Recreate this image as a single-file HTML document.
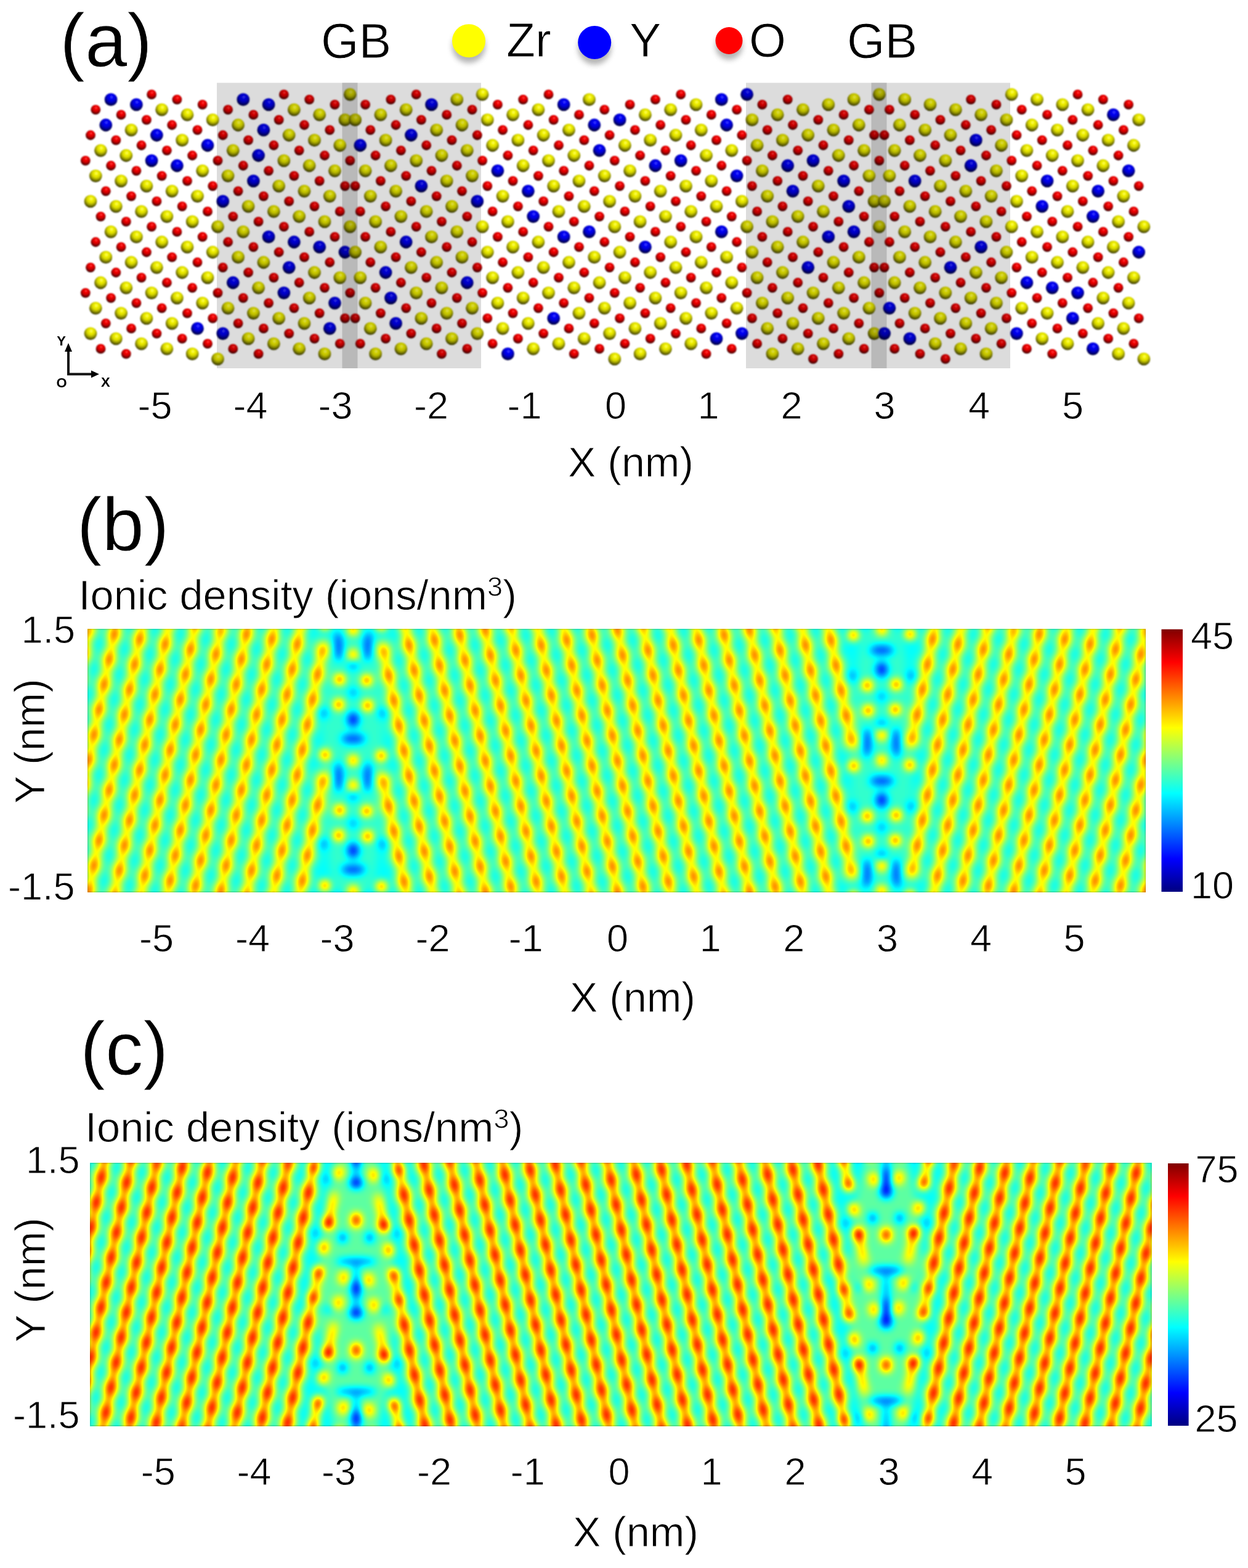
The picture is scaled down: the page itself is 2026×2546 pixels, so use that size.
<!DOCTYPE html><html><head><meta charset="utf-8"><title>Ionic density figure</title><style>html,body{margin:0;padding:0;background:#fff;width:2026px;height:2546px}svg{display:block}text{font-family:"Liberation Sans",Arial,Helvetica,sans-serif;fill:#000;stroke:#fff;stroke-width:0.9px}</style></head><body>
<svg width="2026" height="2546" viewBox="0 0 2026 2546">
<defs>
<radialGradient id="gz" cx="0.52" cy="0.37" r="0.74" fx="0.55" fy="0.3"><stop offset="0" stop-color="#ffff70"/><stop offset="0.18" stop-color="#f4f400"/><stop offset="0.42" stop-color="#d6d600"/><stop offset="0.62" stop-color="#909000"/><stop offset="0.82" stop-color="#3e3e00"/><stop offset="1" stop-color="#222200"/></radialGradient>
<radialGradient id="gzd" cx="0.52" cy="0.37" r="0.74" fx="0.55" fy="0.3"><stop offset="0" stop-color="#dcdc61"/><stop offset="0.18" stop-color="#d3d300"/><stop offset="0.42" stop-color="#b9b900"/><stop offset="0.62" stop-color="#7c7c00"/><stop offset="0.82" stop-color="#363600"/><stop offset="1" stop-color="#1d1d00"/></radialGradient>
<radialGradient id="gzs" cx="0.52" cy="0.37" r="0.74" fx="0.55" fy="0.3"><stop offset="0" stop-color="#b9b951"/><stop offset="0.18" stop-color="#b1b100"/><stop offset="0.42" stop-color="#9b9b00"/><stop offset="0.62" stop-color="#686800"/><stop offset="0.82" stop-color="#2d2d00"/><stop offset="1" stop-color="#191900"/></radialGradient>
<radialGradient id="gy" cx="0.52" cy="0.37" r="0.74" fx="0.55" fy="0.3"><stop offset="0" stop-color="#5050ff"/><stop offset="0.18" stop-color="#0000f8"/><stop offset="0.42" stop-color="#0000d8"/><stop offset="0.62" stop-color="#000090"/><stop offset="0.82" stop-color="#00003e"/><stop offset="1" stop-color="#000022"/></radialGradient>
<radialGradient id="gyd" cx="0.52" cy="0.37" r="0.74" fx="0.55" fy="0.3"><stop offset="0" stop-color="#4545dc"/><stop offset="0.18" stop-color="#0000d6"/><stop offset="0.42" stop-color="#0000ba"/><stop offset="0.62" stop-color="#00007c"/><stop offset="0.82" stop-color="#000036"/><stop offset="1" stop-color="#00001d"/></radialGradient>
<radialGradient id="gys" cx="0.52" cy="0.37" r="0.74" fx="0.55" fy="0.3"><stop offset="0" stop-color="#3a3ab9"/><stop offset="0.18" stop-color="#0000b4"/><stop offset="0.42" stop-color="#00009d"/><stop offset="0.62" stop-color="#000068"/><stop offset="0.82" stop-color="#00002d"/><stop offset="1" stop-color="#000019"/></radialGradient>
<radialGradient id="go" cx="0.52" cy="0.37" r="0.74" fx="0.55" fy="0.3"><stop offset="0" stop-color="#ff5050"/><stop offset="0.18" stop-color="#f80000"/><stop offset="0.42" stop-color="#d80000"/><stop offset="0.62" stop-color="#900000"/><stop offset="0.82" stop-color="#3e0000"/><stop offset="1" stop-color="#220000"/></radialGradient>
<radialGradient id="god" cx="0.52" cy="0.37" r="0.74" fx="0.55" fy="0.3"><stop offset="0" stop-color="#dc4545"/><stop offset="0.18" stop-color="#d60000"/><stop offset="0.42" stop-color="#ba0000"/><stop offset="0.62" stop-color="#7c0000"/><stop offset="0.82" stop-color="#360000"/><stop offset="1" stop-color="#1d0000"/></radialGradient>
<radialGradient id="gos" cx="0.52" cy="0.37" r="0.74" fx="0.55" fy="0.3"><stop offset="0" stop-color="#b93a3a"/><stop offset="0.18" stop-color="#b40000"/><stop offset="0.42" stop-color="#9d0000"/><stop offset="0.62" stop-color="#680000"/><stop offset="0.82" stop-color="#2d0000"/><stop offset="1" stop-color="#190000"/></radialGradient>
<filter id="sh" x="-50%" y="-50%" width="200%" height="200%"><feGaussianBlur stdDeviation="4"/></filter>
<filter id="soft" x="-2%" y="-5%" width="104%" height="110%"><feGaussianBlur stdDeviation="1.1"/></filter>
<linearGradient id="cbar" x1="0" y1="1" x2="0" y2="0"><stop offset="0" stop-color="#000080"/><stop offset="0.125" stop-color="#0000ff"/><stop offset="0.375" stop-color="#00ffff"/><stop offset="0.625" stop-color="#ffff00"/><stop offset="0.875" stop-color="#ff0000"/><stop offset="1" stop-color="#800000"/></linearGradient>
</defs>
<rect width="100%" height="100%" fill="#fff"/>
<rect x="352" y="134.5" width="429" height="463.5" fill="#dcdcdc"/>
<rect x="1211" y="134.5" width="429" height="463.5" fill="#dcdcdc"/>
<rect x="555.5" y="134.5" width="25" height="463.5" fill="#b9b9b9"/>
<rect x="1414.5" y="134.5" width="25" height="463.5" fill="#b9b9b9"/>
<g filter="url(#soft)">
<circle cx="1105.2" cy="153.4" r="7.9" fill="url(#go)"/>
<circle cx="1749.5" cy="153.4" r="7.9" fill="url(#go)"/>
<circle cx="246.1" cy="153.4" r="7.9" fill="url(#go)"/>
<circle cx="890.5" cy="153.4" r="7.9" fill="url(#go)"/>
<circle cx="460.9" cy="153.4" r="7.9" fill="url(#god)"/>
<circle cx="675.7" cy="153.4" r="7.9" fill="url(#god)"/>
<circle cx="1278.7" cy="161.7" r="7.9" fill="url(#god)"/>
<circle cx="1576.1" cy="161.7" r="7.9" fill="url(#god)"/>
<circle cx="1063.9" cy="161.7" r="7.9" fill="url(#go)"/>
<circle cx="1790.8" cy="161.7" r="7.9" fill="url(#go)"/>
<circle cx="287.4" cy="161.7" r="7.9" fill="url(#go)"/>
<circle cx="849.2" cy="161.7" r="7.9" fill="url(#go)"/>
<circle cx="502.2" cy="161.7" r="7.9" fill="url(#god)"/>
<circle cx="634.4" cy="161.7" r="7.9" fill="url(#god)"/>
<circle cx="543.5" cy="169.9" r="7.9" fill="url(#god)"/>
<circle cx="593.1" cy="169.9" r="7.9" fill="url(#god)"/>
<circle cx="1237.4" cy="169.9" r="7.9" fill="url(#god)"/>
<circle cx="1617.4" cy="169.9" r="7.9" fill="url(#god)"/>
<circle cx="1022.6" cy="169.9" r="7.9" fill="url(#go)"/>
<circle cx="1832.1" cy="169.9" r="7.9" fill="url(#go)"/>
<circle cx="328.7" cy="169.9" r="7.9" fill="url(#go)"/>
<circle cx="807.9" cy="169.9" r="7.9" fill="url(#go)"/>
<circle cx="155.3" cy="178.2" r="7.9" fill="url(#go)"/>
<circle cx="981.3" cy="178.2" r="7.9" fill="url(#go)"/>
<circle cx="1410.9" cy="178.2" r="7.9" fill="url(#god)"/>
<circle cx="1443.9" cy="178.2" r="7.9" fill="url(#god)"/>
<circle cx="1196.1" cy="178.2" r="7.9" fill="url(#go)"/>
<circle cx="1658.7" cy="178.2" r="7.9" fill="url(#go)"/>
<circle cx="370.1" cy="178.2" r="7.9" fill="url(#god)"/>
<circle cx="766.5" cy="178.2" r="7.9" fill="url(#god)"/>
<circle cx="1369.6" cy="186.4" r="7.9" fill="url(#god)"/>
<circle cx="1485.2" cy="186.4" r="7.9" fill="url(#god)"/>
<circle cx="1154.8" cy="186.4" r="7.9" fill="url(#go)"/>
<circle cx="1700.0" cy="186.4" r="7.9" fill="url(#go)"/>
<circle cx="196.6" cy="186.4" r="7.9" fill="url(#go)"/>
<circle cx="940.0" cy="186.4" r="7.9" fill="url(#go)"/>
<circle cx="411.4" cy="186.4" r="7.9" fill="url(#god)"/>
<circle cx="725.2" cy="186.4" r="7.9" fill="url(#god)"/>
<circle cx="1328.3" cy="194.7" r="7.9" fill="url(#god)"/>
<circle cx="1526.5" cy="194.7" r="7.9" fill="url(#god)"/>
<circle cx="1113.5" cy="194.7" r="7.9" fill="url(#go)"/>
<circle cx="1741.3" cy="194.7" r="7.9" fill="url(#go)"/>
<circle cx="237.9" cy="194.7" r="7.9" fill="url(#go)"/>
<circle cx="898.7" cy="194.7" r="7.9" fill="url(#go)"/>
<circle cx="452.7" cy="194.7" r="7.9" fill="url(#god)"/>
<circle cx="683.9" cy="194.7" r="7.9" fill="url(#god)"/>
<circle cx="1287.0" cy="203.0" r="7.9" fill="url(#god)"/>
<circle cx="1567.8" cy="203.0" r="7.9" fill="url(#god)"/>
<circle cx="1072.2" cy="203.0" r="7.9" fill="url(#go)"/>
<circle cx="1782.6" cy="203.0" r="7.9" fill="url(#go)"/>
<circle cx="279.2" cy="203.0" r="7.9" fill="url(#go)"/>
<circle cx="857.4" cy="203.0" r="7.9" fill="url(#go)"/>
<circle cx="494.0" cy="203.0" r="7.9" fill="url(#god)"/>
<circle cx="642.6" cy="203.0" r="7.9" fill="url(#god)"/>
<circle cx="535.3" cy="211.2" r="7.9" fill="url(#god)"/>
<circle cx="601.3" cy="211.2" r="7.9" fill="url(#god)"/>
<circle cx="1245.7" cy="211.2" r="7.9" fill="url(#god)"/>
<circle cx="1609.1" cy="211.2" r="7.9" fill="url(#god)"/>
<circle cx="1030.9" cy="211.2" r="7.9" fill="url(#go)"/>
<circle cx="1823.9" cy="211.2" r="7.9" fill="url(#go)"/>
<circle cx="320.5" cy="211.2" r="7.9" fill="url(#go)"/>
<circle cx="816.1" cy="211.2" r="7.9" fill="url(#go)"/>
<circle cx="147.0" cy="219.5" r="7.9" fill="url(#go)"/>
<circle cx="989.6" cy="219.5" r="7.9" fill="url(#go)"/>
<circle cx="1419.1" cy="219.5" r="7.9" fill="url(#gos)"/>
<circle cx="1435.6" cy="219.5" r="7.9" fill="url(#gos)"/>
<circle cx="1204.4" cy="219.5" r="7.9" fill="url(#go)"/>
<circle cx="1650.4" cy="219.5" r="7.9" fill="url(#go)"/>
<circle cx="361.8" cy="219.5" r="7.9" fill="url(#god)"/>
<circle cx="774.8" cy="219.5" r="7.9" fill="url(#god)"/>
<circle cx="1377.8" cy="227.7" r="7.9" fill="url(#god)"/>
<circle cx="1476.9" cy="227.7" r="7.9" fill="url(#god)"/>
<circle cx="1163.0" cy="227.7" r="7.9" fill="url(#go)"/>
<circle cx="1691.7" cy="227.7" r="7.9" fill="url(#go)"/>
<circle cx="188.3" cy="227.7" r="7.9" fill="url(#go)"/>
<circle cx="948.3" cy="227.7" r="7.9" fill="url(#go)"/>
<circle cx="403.1" cy="227.7" r="7.9" fill="url(#god)"/>
<circle cx="733.5" cy="227.7" r="7.9" fill="url(#god)"/>
<circle cx="1336.5" cy="236.0" r="7.9" fill="url(#god)"/>
<circle cx="1518.2" cy="236.0" r="7.9" fill="url(#god)"/>
<circle cx="1121.7" cy="236.0" r="7.9" fill="url(#go)"/>
<circle cx="1733.0" cy="236.0" r="7.9" fill="url(#go)"/>
<circle cx="229.6" cy="236.0" r="7.9" fill="url(#go)"/>
<circle cx="907.0" cy="236.0" r="7.9" fill="url(#go)"/>
<circle cx="444.4" cy="236.0" r="7.9" fill="url(#god)"/>
<circle cx="692.2" cy="236.0" r="7.9" fill="url(#god)"/>
<circle cx="1295.2" cy="244.3" r="7.9" fill="url(#god)"/>
<circle cx="1559.5" cy="244.3" r="7.9" fill="url(#god)"/>
<circle cx="1080.4" cy="244.3" r="7.9" fill="url(#go)"/>
<circle cx="1774.3" cy="244.3" r="7.9" fill="url(#go)"/>
<circle cx="270.9" cy="244.3" r="7.9" fill="url(#go)"/>
<circle cx="865.7" cy="244.3" r="7.9" fill="url(#go)"/>
<circle cx="485.7" cy="244.3" r="7.9" fill="url(#god)"/>
<circle cx="650.9" cy="244.3" r="7.9" fill="url(#god)"/>
<circle cx="527.0" cy="252.5" r="7.9" fill="url(#god)"/>
<circle cx="609.6" cy="252.5" r="7.9" fill="url(#god)"/>
<circle cx="1253.9" cy="252.5" r="7.9" fill="url(#god)"/>
<circle cx="1600.9" cy="252.5" r="7.9" fill="url(#god)"/>
<circle cx="1039.1" cy="252.5" r="7.9" fill="url(#go)"/>
<circle cx="1815.6" cy="252.5" r="7.9" fill="url(#go)"/>
<circle cx="312.2" cy="252.5" r="7.9" fill="url(#go)"/>
<circle cx="824.4" cy="252.5" r="7.9" fill="url(#go)"/>
<circle cx="138.8" cy="260.8" r="7.9" fill="url(#go)"/>
<circle cx="997.8" cy="260.8" r="7.9" fill="url(#go)"/>
<circle cx="1427.4" cy="260.8" r="7.9" fill="url(#gos)"/>
<circle cx="1212.6" cy="260.8" r="7.9" fill="url(#god)"/>
<circle cx="1642.2" cy="260.8" r="7.9" fill="url(#go)"/>
<circle cx="353.5" cy="260.8" r="7.9" fill="url(#god)"/>
<circle cx="783.1" cy="260.8" r="7.9" fill="url(#go)"/>
<circle cx="568.3" cy="260.8" r="7.9" fill="url(#gos)"/>
<circle cx="1386.1" cy="269.0" r="7.9" fill="url(#god)"/>
<circle cx="1468.7" cy="269.0" r="7.9" fill="url(#god)"/>
<circle cx="1171.3" cy="269.0" r="7.9" fill="url(#go)"/>
<circle cx="1683.5" cy="269.0" r="7.9" fill="url(#go)"/>
<circle cx="180.1" cy="269.0" r="7.9" fill="url(#go)"/>
<circle cx="956.5" cy="269.0" r="7.9" fill="url(#go)"/>
<circle cx="394.8" cy="269.0" r="7.9" fill="url(#god)"/>
<circle cx="741.8" cy="269.0" r="7.9" fill="url(#god)"/>
<circle cx="1344.8" cy="277.3" r="7.9" fill="url(#god)"/>
<circle cx="1510.0" cy="277.3" r="7.9" fill="url(#god)"/>
<circle cx="1130.0" cy="277.3" r="7.9" fill="url(#go)"/>
<circle cx="1724.8" cy="277.3" r="7.9" fill="url(#go)"/>
<circle cx="221.4" cy="277.3" r="7.9" fill="url(#go)"/>
<circle cx="915.2" cy="277.3" r="7.9" fill="url(#go)"/>
<circle cx="436.1" cy="277.3" r="7.9" fill="url(#god)"/>
<circle cx="700.5" cy="277.3" r="7.9" fill="url(#god)"/>
<circle cx="1303.5" cy="285.6" r="7.9" fill="url(#god)"/>
<circle cx="1551.3" cy="285.6" r="7.9" fill="url(#god)"/>
<circle cx="1088.7" cy="285.6" r="7.9" fill="url(#go)"/>
<circle cx="1766.1" cy="285.6" r="7.9" fill="url(#go)"/>
<circle cx="262.7" cy="285.6" r="7.9" fill="url(#go)"/>
<circle cx="873.9" cy="285.6" r="7.9" fill="url(#go)"/>
<circle cx="477.4" cy="285.6" r="7.9" fill="url(#god)"/>
<circle cx="659.2" cy="285.6" r="7.9" fill="url(#god)"/>
<circle cx="1262.2" cy="293.8" r="7.9" fill="url(#god)"/>
<circle cx="1592.6" cy="293.8" r="7.9" fill="url(#god)"/>
<circle cx="1047.4" cy="293.8" r="7.9" fill="url(#go)"/>
<circle cx="1807.4" cy="293.8" r="7.9" fill="url(#go)"/>
<circle cx="304.0" cy="293.8" r="7.9" fill="url(#go)"/>
<circle cx="832.6" cy="293.8" r="7.9" fill="url(#go)"/>
<circle cx="518.7" cy="293.8" r="7.9" fill="url(#god)"/>
<circle cx="617.9" cy="293.8" r="7.9" fill="url(#god)"/>
<circle cx="1006.1" cy="302.1" r="7.9" fill="url(#go)"/>
<circle cx="1848.7" cy="302.1" r="7.9" fill="url(#go)"/>
<circle cx="1220.9" cy="302.1" r="7.9" fill="url(#god)"/>
<circle cx="1633.9" cy="302.1" r="7.9" fill="url(#god)"/>
<circle cx="345.3" cy="302.1" r="7.9" fill="url(#go)"/>
<circle cx="791.3" cy="302.1" r="7.9" fill="url(#go)"/>
<circle cx="560.0" cy="302.1" r="7.9" fill="url(#gos)"/>
<circle cx="576.6" cy="302.1" r="7.9" fill="url(#gos)"/>
<circle cx="1394.3" cy="310.3" r="7.9" fill="url(#god)"/>
<circle cx="1460.4" cy="310.3" r="7.9" fill="url(#god)"/>
<circle cx="1179.6" cy="310.3" r="7.9" fill="url(#go)"/>
<circle cx="1675.2" cy="310.3" r="7.9" fill="url(#go)"/>
<circle cx="171.8" cy="310.3" r="7.9" fill="url(#go)"/>
<circle cx="964.8" cy="310.3" r="7.9" fill="url(#go)"/>
<circle cx="386.6" cy="310.3" r="7.9" fill="url(#god)"/>
<circle cx="750.0" cy="310.3" r="7.9" fill="url(#god)"/>
<circle cx="1353.0" cy="318.6" r="7.9" fill="url(#god)"/>
<circle cx="1501.7" cy="318.6" r="7.9" fill="url(#god)"/>
<circle cx="1138.3" cy="318.6" r="7.9" fill="url(#go)"/>
<circle cx="1716.5" cy="318.6" r="7.9" fill="url(#go)"/>
<circle cx="213.1" cy="318.6" r="7.9" fill="url(#go)"/>
<circle cx="923.5" cy="318.6" r="7.9" fill="url(#go)"/>
<circle cx="427.9" cy="318.6" r="7.9" fill="url(#god)"/>
<circle cx="708.7" cy="318.6" r="7.9" fill="url(#god)"/>
<circle cx="1311.7" cy="326.9" r="7.9" fill="url(#god)"/>
<circle cx="1543.0" cy="326.9" r="7.9" fill="url(#god)"/>
<circle cx="1097.0" cy="326.9" r="7.9" fill="url(#go)"/>
<circle cx="1757.8" cy="326.9" r="7.9" fill="url(#go)"/>
<circle cx="254.4" cy="326.9" r="7.9" fill="url(#go)"/>
<circle cx="882.2" cy="326.9" r="7.9" fill="url(#go)"/>
<circle cx="469.2" cy="326.9" r="7.9" fill="url(#god)"/>
<circle cx="667.4" cy="326.9" r="7.9" fill="url(#god)"/>
<circle cx="1270.4" cy="335.1" r="7.9" fill="url(#god)"/>
<circle cx="1584.3" cy="335.1" r="7.9" fill="url(#god)"/>
<circle cx="1055.7" cy="335.1" r="7.9" fill="url(#go)"/>
<circle cx="1799.1" cy="335.1" r="7.9" fill="url(#go)"/>
<circle cx="295.7" cy="335.1" r="7.9" fill="url(#go)"/>
<circle cx="840.9" cy="335.1" r="7.9" fill="url(#go)"/>
<circle cx="510.5" cy="335.1" r="7.9" fill="url(#god)"/>
<circle cx="626.1" cy="335.1" r="7.9" fill="url(#god)"/>
<circle cx="1014.4" cy="343.4" r="7.9" fill="url(#go)"/>
<circle cx="1840.4" cy="343.4" r="7.9" fill="url(#go)"/>
<circle cx="1229.1" cy="343.4" r="7.9" fill="url(#god)"/>
<circle cx="1625.6" cy="343.4" r="7.9" fill="url(#god)"/>
<circle cx="337.0" cy="343.4" r="7.9" fill="url(#go)"/>
<circle cx="799.6" cy="343.4" r="7.9" fill="url(#go)"/>
<circle cx="551.8" cy="343.4" r="7.9" fill="url(#god)"/>
<circle cx="584.8" cy="343.4" r="7.9" fill="url(#god)"/>
<circle cx="1402.6" cy="351.6" r="7.9" fill="url(#god)"/>
<circle cx="1452.2" cy="351.6" r="7.9" fill="url(#god)"/>
<circle cx="1187.8" cy="351.6" r="7.9" fill="url(#go)"/>
<circle cx="1666.9" cy="351.6" r="7.9" fill="url(#go)"/>
<circle cx="163.5" cy="351.6" r="7.9" fill="url(#go)"/>
<circle cx="973.1" cy="351.6" r="7.9" fill="url(#go)"/>
<circle cx="378.3" cy="351.6" r="7.9" fill="url(#god)"/>
<circle cx="758.3" cy="351.6" r="7.9" fill="url(#god)"/>
<circle cx="1361.3" cy="359.9" r="7.9" fill="url(#god)"/>
<circle cx="1493.5" cy="359.9" r="7.9" fill="url(#god)"/>
<circle cx="1146.5" cy="359.9" r="7.9" fill="url(#go)"/>
<circle cx="1708.2" cy="359.9" r="7.9" fill="url(#go)"/>
<circle cx="204.8" cy="359.9" r="7.9" fill="url(#go)"/>
<circle cx="931.8" cy="359.9" r="7.9" fill="url(#go)"/>
<circle cx="419.6" cy="359.9" r="7.9" fill="url(#god)"/>
<circle cx="717.0" cy="359.9" r="7.9" fill="url(#god)"/>
<circle cx="1320.0" cy="368.2" r="7.9" fill="url(#god)"/>
<circle cx="1534.8" cy="368.2" r="7.9" fill="url(#god)"/>
<circle cx="1105.2" cy="368.2" r="7.9" fill="url(#go)"/>
<circle cx="1749.5" cy="368.2" r="7.9" fill="url(#go)"/>
<circle cx="246.1" cy="368.2" r="7.9" fill="url(#go)"/>
<circle cx="890.5" cy="368.2" r="7.9" fill="url(#go)"/>
<circle cx="460.9" cy="368.2" r="7.9" fill="url(#god)"/>
<circle cx="675.7" cy="368.2" r="7.9" fill="url(#god)"/>
<circle cx="1278.7" cy="376.4" r="7.9" fill="url(#god)"/>
<circle cx="1576.1" cy="376.4" r="7.9" fill="url(#god)"/>
<circle cx="1063.9" cy="376.4" r="7.9" fill="url(#go)"/>
<circle cx="1790.8" cy="376.4" r="7.9" fill="url(#go)"/>
<circle cx="287.4" cy="376.4" r="7.9" fill="url(#go)"/>
<circle cx="849.2" cy="376.4" r="7.9" fill="url(#go)"/>
<circle cx="502.2" cy="376.4" r="7.9" fill="url(#god)"/>
<circle cx="634.4" cy="376.4" r="7.9" fill="url(#god)"/>
<circle cx="1022.6" cy="384.7" r="7.9" fill="url(#go)"/>
<circle cx="1832.1" cy="384.7" r="7.9" fill="url(#go)"/>
<circle cx="1237.4" cy="384.7" r="7.9" fill="url(#god)"/>
<circle cx="1617.4" cy="384.7" r="7.9" fill="url(#god)"/>
<circle cx="328.7" cy="384.7" r="7.9" fill="url(#go)"/>
<circle cx="807.9" cy="384.7" r="7.9" fill="url(#go)"/>
<circle cx="543.5" cy="384.7" r="7.9" fill="url(#god)"/>
<circle cx="593.1" cy="384.7" r="7.9" fill="url(#god)"/>
<circle cx="1410.9" cy="393.0" r="7.9" fill="url(#god)"/>
<circle cx="1443.9" cy="393.0" r="7.9" fill="url(#god)"/>
<circle cx="1196.1" cy="393.0" r="7.9" fill="url(#go)"/>
<circle cx="1658.7" cy="393.0" r="7.9" fill="url(#go)"/>
<circle cx="155.3" cy="393.0" r="7.9" fill="url(#go)"/>
<circle cx="981.3" cy="393.0" r="7.9" fill="url(#go)"/>
<circle cx="370.1" cy="393.0" r="7.9" fill="url(#god)"/>
<circle cx="766.5" cy="393.0" r="7.9" fill="url(#god)"/>
<circle cx="1369.6" cy="401.2" r="7.9" fill="url(#god)"/>
<circle cx="1485.2" cy="401.2" r="7.9" fill="url(#god)"/>
<circle cx="1154.8" cy="401.2" r="7.9" fill="url(#go)"/>
<circle cx="1700.0" cy="401.2" r="7.9" fill="url(#go)"/>
<circle cx="196.6" cy="401.2" r="7.9" fill="url(#go)"/>
<circle cx="940.0" cy="401.2" r="7.9" fill="url(#go)"/>
<circle cx="411.4" cy="401.2" r="7.9" fill="url(#god)"/>
<circle cx="725.2" cy="401.2" r="7.9" fill="url(#god)"/>
<circle cx="1328.3" cy="409.5" r="7.9" fill="url(#god)"/>
<circle cx="1526.5" cy="409.5" r="7.9" fill="url(#god)"/>
<circle cx="1113.5" cy="409.5" r="7.9" fill="url(#go)"/>
<circle cx="1741.3" cy="409.5" r="7.9" fill="url(#go)"/>
<circle cx="237.9" cy="409.5" r="7.9" fill="url(#go)"/>
<circle cx="898.7" cy="409.5" r="7.9" fill="url(#go)"/>
<circle cx="452.7" cy="409.5" r="7.9" fill="url(#god)"/>
<circle cx="683.9" cy="409.5" r="7.9" fill="url(#god)"/>
<circle cx="1287.0" cy="417.7" r="7.9" fill="url(#god)"/>
<circle cx="1567.8" cy="417.7" r="7.9" fill="url(#god)"/>
<circle cx="1072.2" cy="417.7" r="7.9" fill="url(#go)"/>
<circle cx="1782.6" cy="417.7" r="7.9" fill="url(#go)"/>
<circle cx="279.2" cy="417.7" r="7.9" fill="url(#go)"/>
<circle cx="857.4" cy="417.7" r="7.9" fill="url(#go)"/>
<circle cx="494.0" cy="417.7" r="7.9" fill="url(#god)"/>
<circle cx="642.6" cy="417.7" r="7.9" fill="url(#god)"/>
<circle cx="1030.9" cy="426.0" r="7.9" fill="url(#go)"/>
<circle cx="1823.9" cy="426.0" r="7.9" fill="url(#go)"/>
<circle cx="1245.7" cy="426.0" r="7.9" fill="url(#god)"/>
<circle cx="1609.1" cy="426.0" r="7.9" fill="url(#god)"/>
<circle cx="320.5" cy="426.0" r="7.9" fill="url(#go)"/>
<circle cx="816.1" cy="426.0" r="7.9" fill="url(#go)"/>
<circle cx="535.3" cy="426.0" r="7.9" fill="url(#god)"/>
<circle cx="601.3" cy="426.0" r="7.9" fill="url(#god)"/>
<circle cx="1419.1" cy="434.3" r="7.9" fill="url(#gos)"/>
<circle cx="1435.6" cy="434.3" r="7.9" fill="url(#gos)"/>
<circle cx="1204.4" cy="434.3" r="7.9" fill="url(#go)"/>
<circle cx="1650.4" cy="434.3" r="7.9" fill="url(#go)"/>
<circle cx="147.0" cy="434.3" r="7.9" fill="url(#go)"/>
<circle cx="989.6" cy="434.3" r="7.9" fill="url(#go)"/>
<circle cx="361.8" cy="434.3" r="7.9" fill="url(#god)"/>
<circle cx="774.8" cy="434.3" r="7.9" fill="url(#god)"/>
<circle cx="1377.8" cy="442.5" r="7.9" fill="url(#god)"/>
<circle cx="1476.9" cy="442.5" r="7.9" fill="url(#god)"/>
<circle cx="1163.0" cy="442.5" r="7.9" fill="url(#go)"/>
<circle cx="1691.7" cy="442.5" r="7.9" fill="url(#go)"/>
<circle cx="188.3" cy="442.5" r="7.9" fill="url(#go)"/>
<circle cx="948.3" cy="442.5" r="7.9" fill="url(#go)"/>
<circle cx="403.1" cy="442.5" r="7.9" fill="url(#god)"/>
<circle cx="733.5" cy="442.5" r="7.9" fill="url(#god)"/>
<circle cx="1336.5" cy="450.8" r="7.9" fill="url(#god)"/>
<circle cx="1518.2" cy="450.8" r="7.9" fill="url(#god)"/>
<circle cx="1121.7" cy="450.8" r="7.9" fill="url(#go)"/>
<circle cx="1733.0" cy="450.8" r="7.9" fill="url(#go)"/>
<circle cx="229.6" cy="450.8" r="7.9" fill="url(#go)"/>
<circle cx="907.0" cy="450.8" r="7.9" fill="url(#go)"/>
<circle cx="444.4" cy="450.8" r="7.9" fill="url(#god)"/>
<circle cx="692.2" cy="450.8" r="7.9" fill="url(#god)"/>
<circle cx="1295.2" cy="459.0" r="7.9" fill="url(#god)"/>
<circle cx="1559.5" cy="459.0" r="7.9" fill="url(#god)"/>
<circle cx="1080.4" cy="459.0" r="7.9" fill="url(#go)"/>
<circle cx="1774.3" cy="459.0" r="7.9" fill="url(#go)"/>
<circle cx="270.9" cy="459.0" r="7.9" fill="url(#go)"/>
<circle cx="865.7" cy="459.0" r="7.9" fill="url(#go)"/>
<circle cx="485.7" cy="459.0" r="7.9" fill="url(#god)"/>
<circle cx="650.9" cy="459.0" r="7.9" fill="url(#god)"/>
<circle cx="1039.1" cy="467.3" r="7.9" fill="url(#go)"/>
<circle cx="1815.6" cy="467.3" r="7.9" fill="url(#go)"/>
<circle cx="1253.9" cy="467.3" r="7.9" fill="url(#god)"/>
<circle cx="1600.9" cy="467.3" r="7.9" fill="url(#god)"/>
<circle cx="312.2" cy="467.3" r="7.9" fill="url(#go)"/>
<circle cx="824.4" cy="467.3" r="7.9" fill="url(#go)"/>
<circle cx="527.0" cy="467.3" r="7.9" fill="url(#god)"/>
<circle cx="609.6" cy="467.3" r="7.9" fill="url(#god)"/>
<circle cx="1427.4" cy="475.6" r="7.9" fill="url(#gos)"/>
<circle cx="1212.6" cy="475.6" r="7.9" fill="url(#god)"/>
<circle cx="1642.2" cy="475.6" r="7.9" fill="url(#go)"/>
<circle cx="138.8" cy="475.6" r="7.9" fill="url(#go)"/>
<circle cx="997.8" cy="475.6" r="7.9" fill="url(#go)"/>
<circle cx="353.5" cy="475.6" r="7.9" fill="url(#god)"/>
<circle cx="783.1" cy="475.6" r="7.9" fill="url(#go)"/>
<circle cx="568.3" cy="475.6" r="7.9" fill="url(#gos)"/>
<circle cx="1386.1" cy="483.8" r="7.9" fill="url(#god)"/>
<circle cx="1468.7" cy="483.8" r="7.9" fill="url(#god)"/>
<circle cx="1171.3" cy="483.8" r="7.9" fill="url(#go)"/>
<circle cx="1683.5" cy="483.8" r="7.9" fill="url(#go)"/>
<circle cx="180.1" cy="483.8" r="7.9" fill="url(#go)"/>
<circle cx="956.5" cy="483.8" r="7.9" fill="url(#go)"/>
<circle cx="394.8" cy="483.8" r="7.9" fill="url(#god)"/>
<circle cx="741.8" cy="483.8" r="7.9" fill="url(#god)"/>
<circle cx="1344.8" cy="492.1" r="7.9" fill="url(#god)"/>
<circle cx="1510.0" cy="492.1" r="7.9" fill="url(#god)"/>
<circle cx="1130.0" cy="492.1" r="7.9" fill="url(#go)"/>
<circle cx="1724.8" cy="492.1" r="7.9" fill="url(#go)"/>
<circle cx="221.4" cy="492.1" r="7.9" fill="url(#go)"/>
<circle cx="915.2" cy="492.1" r="7.9" fill="url(#go)"/>
<circle cx="436.1" cy="492.1" r="7.9" fill="url(#god)"/>
<circle cx="700.5" cy="492.1" r="7.9" fill="url(#god)"/>
<circle cx="1303.5" cy="500.3" r="7.9" fill="url(#god)"/>
<circle cx="1551.3" cy="500.3" r="7.9" fill="url(#god)"/>
<circle cx="1088.7" cy="500.3" r="7.9" fill="url(#go)"/>
<circle cx="1766.1" cy="500.3" r="7.9" fill="url(#go)"/>
<circle cx="262.7" cy="500.3" r="7.9" fill="url(#go)"/>
<circle cx="873.9" cy="500.3" r="7.9" fill="url(#go)"/>
<circle cx="477.4" cy="500.3" r="7.9" fill="url(#god)"/>
<circle cx="659.2" cy="500.3" r="7.9" fill="url(#god)"/>
<circle cx="1047.4" cy="508.6" r="7.9" fill="url(#go)"/>
<circle cx="1807.4" cy="508.6" r="7.9" fill="url(#go)"/>
<circle cx="1262.2" cy="508.6" r="7.9" fill="url(#god)"/>
<circle cx="1592.6" cy="508.6" r="7.9" fill="url(#god)"/>
<circle cx="304.0" cy="508.6" r="7.9" fill="url(#go)"/>
<circle cx="832.6" cy="508.6" r="7.9" fill="url(#go)"/>
<circle cx="518.7" cy="508.6" r="7.9" fill="url(#god)"/>
<circle cx="617.9" cy="508.6" r="7.9" fill="url(#god)"/>
<circle cx="1220.9" cy="516.9" r="7.9" fill="url(#god)"/>
<circle cx="1633.9" cy="516.9" r="7.9" fill="url(#god)"/>
<circle cx="1006.1" cy="516.9" r="7.9" fill="url(#go)"/>
<circle cx="1848.7" cy="516.9" r="7.9" fill="url(#go)"/>
<circle cx="345.3" cy="516.9" r="7.9" fill="url(#go)"/>
<circle cx="791.3" cy="516.9" r="7.9" fill="url(#go)"/>
<circle cx="560.0" cy="516.9" r="7.9" fill="url(#gos)"/>
<circle cx="576.6" cy="516.9" r="7.9" fill="url(#gos)"/>
<circle cx="1394.3" cy="525.1" r="7.9" fill="url(#god)"/>
<circle cx="1460.4" cy="525.1" r="7.9" fill="url(#god)"/>
<circle cx="1179.6" cy="525.1" r="7.9" fill="url(#go)"/>
<circle cx="1675.2" cy="525.1" r="7.9" fill="url(#go)"/>
<circle cx="171.8" cy="525.1" r="7.9" fill="url(#go)"/>
<circle cx="964.8" cy="525.1" r="7.9" fill="url(#go)"/>
<circle cx="386.6" cy="525.1" r="7.9" fill="url(#god)"/>
<circle cx="750.0" cy="525.1" r="7.9" fill="url(#god)"/>
<circle cx="1353.0" cy="533.4" r="7.9" fill="url(#god)"/>
<circle cx="1501.7" cy="533.4" r="7.9" fill="url(#god)"/>
<circle cx="1138.3" cy="533.4" r="7.9" fill="url(#go)"/>
<circle cx="1716.5" cy="533.4" r="7.9" fill="url(#go)"/>
<circle cx="213.1" cy="533.4" r="7.9" fill="url(#go)"/>
<circle cx="923.5" cy="533.4" r="7.9" fill="url(#go)"/>
<circle cx="427.9" cy="533.4" r="7.9" fill="url(#god)"/>
<circle cx="708.7" cy="533.4" r="7.9" fill="url(#god)"/>
<circle cx="1311.7" cy="541.6" r="7.9" fill="url(#god)"/>
<circle cx="1543.0" cy="541.6" r="7.9" fill="url(#god)"/>
<circle cx="1097.0" cy="541.6" r="7.9" fill="url(#go)"/>
<circle cx="1757.8" cy="541.6" r="7.9" fill="url(#go)"/>
<circle cx="254.4" cy="541.6" r="7.9" fill="url(#go)"/>
<circle cx="882.2" cy="541.6" r="7.9" fill="url(#go)"/>
<circle cx="469.2" cy="541.6" r="7.9" fill="url(#god)"/>
<circle cx="667.4" cy="541.6" r="7.9" fill="url(#god)"/>
<circle cx="1270.4" cy="549.9" r="7.9" fill="url(#god)"/>
<circle cx="1584.3" cy="549.9" r="7.9" fill="url(#god)"/>
<circle cx="1055.7" cy="549.9" r="7.9" fill="url(#go)"/>
<circle cx="1799.1" cy="549.9" r="7.9" fill="url(#go)"/>
<circle cx="295.7" cy="549.9" r="7.9" fill="url(#go)"/>
<circle cx="840.9" cy="549.9" r="7.9" fill="url(#go)"/>
<circle cx="510.5" cy="549.9" r="7.9" fill="url(#god)"/>
<circle cx="626.1" cy="549.9" r="7.9" fill="url(#god)"/>
<circle cx="1229.1" cy="558.2" r="7.9" fill="url(#god)"/>
<circle cx="1625.6" cy="558.2" r="7.9" fill="url(#god)"/>
<circle cx="1014.4" cy="558.2" r="7.9" fill="url(#go)"/>
<circle cx="1840.4" cy="558.2" r="7.9" fill="url(#go)"/>
<circle cx="337.0" cy="558.2" r="7.9" fill="url(#go)"/>
<circle cx="799.6" cy="558.2" r="7.9" fill="url(#go)"/>
<circle cx="551.8" cy="558.2" r="7.9" fill="url(#god)"/>
<circle cx="584.8" cy="558.2" r="7.9" fill="url(#god)"/>
<circle cx="1187.8" cy="566.4" r="7.9" fill="url(#go)"/>
<circle cx="1666.9" cy="566.4" r="7.9" fill="url(#go)"/>
<circle cx="163.5" cy="566.4" r="7.9" fill="url(#go)"/>
<circle cx="973.1" cy="566.4" r="7.9" fill="url(#go)"/>
<circle cx="378.3" cy="566.4" r="7.9" fill="url(#god)"/>
<circle cx="758.3" cy="566.4" r="7.9" fill="url(#god)"/>
<circle cx="1402.6" cy="566.4" r="7.9" fill="url(#god)"/>
<circle cx="1452.2" cy="566.4" r="7.9" fill="url(#god)"/>
<circle cx="1146.5" cy="574.7" r="7.9" fill="url(#go)"/>
<circle cx="1708.2" cy="574.7" r="7.9" fill="url(#go)"/>
<circle cx="204.8" cy="574.7" r="7.9" fill="url(#go)"/>
<circle cx="931.8" cy="574.7" r="7.9" fill="url(#go)"/>
<circle cx="419.6" cy="574.7" r="7.9" fill="url(#god)"/>
<circle cx="717.0" cy="574.7" r="7.9" fill="url(#god)"/>
<circle cx="1361.3" cy="574.7" r="7.9" fill="url(#god)"/>
<circle cx="1493.5" cy="574.7" r="7.9" fill="url(#god)"/>
<circle cx="1320.0" cy="582.9" r="7.9" fill="url(#god)"/>
<circle cx="1534.8" cy="582.9" r="7.9" fill="url(#god)"/>
<circle cx="1427.4" cy="153.4" r="10.4" fill="url(#gzs)"/>
<circle cx="1212.6" cy="153.4" r="10.4" fill="url(#gyd)"/>
<circle cx="1642.2" cy="153.4" r="10.4" fill="url(#gz)"/>
<circle cx="783.1" cy="153.4" r="10.4" fill="url(#gz)"/>
<circle cx="568.3" cy="153.4" r="10.4" fill="url(#gzs)"/>
<circle cx="1386.1" cy="161.7" r="10.4" fill="url(#gzd)"/>
<circle cx="1468.7" cy="161.7" r="10.4" fill="url(#gzd)"/>
<circle cx="1171.3" cy="161.7" r="10.4" fill="url(#gy)"/>
<circle cx="1683.5" cy="161.7" r="10.4" fill="url(#gz)"/>
<circle cx="180.1" cy="161.7" r="10.4" fill="url(#gy)"/>
<circle cx="956.5" cy="161.7" r="10.4" fill="url(#gz)"/>
<circle cx="394.8" cy="161.7" r="10.4" fill="url(#gyd)"/>
<circle cx="741.8" cy="161.7" r="10.4" fill="url(#gzd)"/>
<circle cx="1344.8" cy="169.9" r="10.4" fill="url(#gzd)"/>
<circle cx="1510.0" cy="169.9" r="10.4" fill="url(#gzd)"/>
<circle cx="1130.0" cy="169.9" r="10.4" fill="url(#gz)"/>
<circle cx="1724.8" cy="169.9" r="10.4" fill="url(#gz)"/>
<circle cx="221.4" cy="169.9" r="10.4" fill="url(#gy)"/>
<circle cx="915.2" cy="169.9" r="10.4" fill="url(#gy)"/>
<circle cx="436.1" cy="169.9" r="10.4" fill="url(#gyd)"/>
<circle cx="700.5" cy="169.9" r="10.4" fill="url(#gyd)"/>
<circle cx="1303.5" cy="178.2" r="10.4" fill="url(#gzd)"/>
<circle cx="1551.3" cy="178.2" r="10.4" fill="url(#gzd)"/>
<circle cx="1088.7" cy="178.2" r="10.4" fill="url(#gz)"/>
<circle cx="1766.1" cy="178.2" r="10.4" fill="url(#gz)"/>
<circle cx="262.7" cy="178.2" r="10.4" fill="url(#gz)"/>
<circle cx="873.9" cy="178.2" r="10.4" fill="url(#gz)"/>
<circle cx="477.4" cy="178.2" r="10.4" fill="url(#gzd)"/>
<circle cx="659.2" cy="178.2" r="10.4" fill="url(#gzd)"/>
<circle cx="1262.2" cy="186.4" r="10.4" fill="url(#gzd)"/>
<circle cx="1592.6" cy="186.4" r="10.4" fill="url(#gzd)"/>
<circle cx="1047.4" cy="186.4" r="10.4" fill="url(#gz)"/>
<circle cx="1807.4" cy="186.4" r="10.4" fill="url(#gy)"/>
<circle cx="304.0" cy="186.4" r="10.4" fill="url(#gz)"/>
<circle cx="832.6" cy="186.4" r="10.4" fill="url(#gz)"/>
<circle cx="518.7" cy="186.4" r="10.4" fill="url(#gzd)"/>
<circle cx="617.9" cy="186.4" r="10.4" fill="url(#gzd)"/>
<circle cx="1220.9" cy="194.7" r="10.4" fill="url(#gzd)"/>
<circle cx="1633.9" cy="194.7" r="10.4" fill="url(#gzd)"/>
<circle cx="1006.1" cy="194.7" r="10.4" fill="url(#gy)"/>
<circle cx="1848.7" cy="194.7" r="10.4" fill="url(#gz)"/>
<circle cx="345.3" cy="194.7" r="10.4" fill="url(#gz)"/>
<circle cx="791.3" cy="194.7" r="10.4" fill="url(#gz)"/>
<circle cx="560.0" cy="194.7" r="10.4" fill="url(#gzs)"/>
<circle cx="576.6" cy="194.7" r="10.4" fill="url(#gzs)"/>
<circle cx="1394.3" cy="203.0" r="10.4" fill="url(#gzd)"/>
<circle cx="1460.4" cy="203.0" r="10.4" fill="url(#gzd)"/>
<circle cx="1179.6" cy="203.0" r="10.4" fill="url(#gy)"/>
<circle cx="1675.2" cy="203.0" r="10.4" fill="url(#gz)"/>
<circle cx="171.8" cy="203.0" r="10.4" fill="url(#gy)"/>
<circle cx="964.8" cy="203.0" r="10.4" fill="url(#gy)"/>
<circle cx="386.6" cy="203.0" r="10.4" fill="url(#gzd)"/>
<circle cx="750.0" cy="203.0" r="10.4" fill="url(#gzd)"/>
<circle cx="1353.0" cy="211.2" r="10.4" fill="url(#gzd)"/>
<circle cx="1501.7" cy="211.2" r="10.4" fill="url(#gzd)"/>
<circle cx="1138.3" cy="211.2" r="10.4" fill="url(#gz)"/>
<circle cx="1716.5" cy="211.2" r="10.4" fill="url(#gz)"/>
<circle cx="213.1" cy="211.2" r="10.4" fill="url(#gz)"/>
<circle cx="923.5" cy="211.2" r="10.4" fill="url(#gz)"/>
<circle cx="427.9" cy="211.2" r="10.4" fill="url(#gyd)"/>
<circle cx="708.7" cy="211.2" r="10.4" fill="url(#gzd)"/>
<circle cx="1311.7" cy="219.5" r="10.4" fill="url(#gzd)"/>
<circle cx="1543.0" cy="219.5" r="10.4" fill="url(#gzd)"/>
<circle cx="1097.0" cy="219.5" r="10.4" fill="url(#gz)"/>
<circle cx="1757.8" cy="219.5" r="10.4" fill="url(#gz)"/>
<circle cx="254.4" cy="219.5" r="10.4" fill="url(#gy)"/>
<circle cx="882.2" cy="219.5" r="10.4" fill="url(#gz)"/>
<circle cx="469.2" cy="219.5" r="10.4" fill="url(#gzd)"/>
<circle cx="667.4" cy="219.5" r="10.4" fill="url(#gyd)"/>
<circle cx="1270.4" cy="227.7" r="10.4" fill="url(#gzd)"/>
<circle cx="1584.3" cy="227.7" r="10.4" fill="url(#gyd)"/>
<circle cx="1055.7" cy="227.7" r="10.4" fill="url(#gz)"/>
<circle cx="1799.1" cy="227.7" r="10.4" fill="url(#gz)"/>
<circle cx="295.7" cy="227.7" r="10.4" fill="url(#gz)"/>
<circle cx="840.9" cy="227.7" r="10.4" fill="url(#gz)"/>
<circle cx="510.5" cy="227.7" r="10.4" fill="url(#gzd)"/>
<circle cx="626.1" cy="227.7" r="10.4" fill="url(#gzd)"/>
<circle cx="1229.1" cy="236.0" r="10.4" fill="url(#gzd)"/>
<circle cx="1625.6" cy="236.0" r="10.4" fill="url(#gzd)"/>
<circle cx="1014.4" cy="236.0" r="10.4" fill="url(#gz)"/>
<circle cx="1840.4" cy="236.0" r="10.4" fill="url(#gz)"/>
<circle cx="337.0" cy="236.0" r="10.4" fill="url(#gy)"/>
<circle cx="799.6" cy="236.0" r="10.4" fill="url(#gz)"/>
<circle cx="551.8" cy="236.0" r="10.4" fill="url(#gzd)"/>
<circle cx="584.8" cy="236.0" r="10.4" fill="url(#gyd)"/>
<circle cx="1402.6" cy="244.3" r="10.4" fill="url(#gzd)"/>
<circle cx="1452.2" cy="244.3" r="10.4" fill="url(#gzd)"/>
<circle cx="1187.8" cy="244.3" r="10.4" fill="url(#gz)"/>
<circle cx="1666.9" cy="244.3" r="10.4" fill="url(#gz)"/>
<circle cx="163.5" cy="244.3" r="10.4" fill="url(#gz)"/>
<circle cx="973.1" cy="244.3" r="10.4" fill="url(#gy)"/>
<circle cx="378.3" cy="244.3" r="10.4" fill="url(#gzd)"/>
<circle cx="758.3" cy="244.3" r="10.4" fill="url(#gzd)"/>
<circle cx="1361.3" cy="252.5" r="10.4" fill="url(#gzd)"/>
<circle cx="1493.5" cy="252.5" r="10.4" fill="url(#gzd)"/>
<circle cx="1146.5" cy="252.5" r="10.4" fill="url(#gz)"/>
<circle cx="1708.2" cy="252.5" r="10.4" fill="url(#gz)"/>
<circle cx="204.8" cy="252.5" r="10.4" fill="url(#gz)"/>
<circle cx="931.8" cy="252.5" r="10.4" fill="url(#gz)"/>
<circle cx="419.6" cy="252.5" r="10.4" fill="url(#gyd)"/>
<circle cx="717.0" cy="252.5" r="10.4" fill="url(#gzd)"/>
<circle cx="1320.0" cy="260.8" r="10.4" fill="url(#gyd)"/>
<circle cx="1534.8" cy="260.8" r="10.4" fill="url(#gzd)"/>
<circle cx="1105.2" cy="260.8" r="10.4" fill="url(#gy)"/>
<circle cx="1749.5" cy="260.8" r="10.4" fill="url(#gz)"/>
<circle cx="246.1" cy="260.8" r="10.4" fill="url(#gy)"/>
<circle cx="890.5" cy="260.8" r="10.4" fill="url(#gz)"/>
<circle cx="460.9" cy="260.8" r="10.4" fill="url(#gzd)"/>
<circle cx="675.7" cy="260.8" r="10.4" fill="url(#gzd)"/>
<circle cx="1278.7" cy="269.0" r="10.4" fill="url(#gyd)"/>
<circle cx="1576.1" cy="269.0" r="10.4" fill="url(#gyd)"/>
<circle cx="1063.9" cy="269.0" r="10.4" fill="url(#gy)"/>
<circle cx="1790.8" cy="269.0" r="10.4" fill="url(#gz)"/>
<circle cx="287.4" cy="269.0" r="10.4" fill="url(#gy)"/>
<circle cx="849.2" cy="269.0" r="10.4" fill="url(#gz)"/>
<circle cx="502.2" cy="269.0" r="10.4" fill="url(#gzd)"/>
<circle cx="634.4" cy="269.0" r="10.4" fill="url(#gzd)"/>
<circle cx="1237.4" cy="277.3" r="10.4" fill="url(#gzd)"/>
<circle cx="1617.4" cy="277.3" r="10.4" fill="url(#gzd)"/>
<circle cx="1022.6" cy="277.3" r="10.4" fill="url(#gz)"/>
<circle cx="1832.1" cy="277.3" r="10.4" fill="url(#gy)"/>
<circle cx="328.7" cy="277.3" r="10.4" fill="url(#gz)"/>
<circle cx="807.9" cy="277.3" r="10.4" fill="url(#gy)"/>
<circle cx="543.5" cy="277.3" r="10.4" fill="url(#gzd)"/>
<circle cx="593.1" cy="277.3" r="10.4" fill="url(#gzd)"/>
<circle cx="1410.9" cy="285.6" r="10.4" fill="url(#gzd)"/>
<circle cx="1443.9" cy="285.6" r="10.4" fill="url(#gzd)"/>
<circle cx="1196.1" cy="285.6" r="10.4" fill="url(#gy)"/>
<circle cx="1658.7" cy="285.6" r="10.4" fill="url(#gz)"/>
<circle cx="155.3" cy="285.6" r="10.4" fill="url(#gz)"/>
<circle cx="981.3" cy="285.6" r="10.4" fill="url(#gz)"/>
<circle cx="370.1" cy="285.6" r="10.4" fill="url(#gzd)"/>
<circle cx="766.5" cy="285.6" r="10.4" fill="url(#gzd)"/>
<circle cx="1369.6" cy="293.8" r="10.4" fill="url(#gyd)"/>
<circle cx="1485.2" cy="293.8" r="10.4" fill="url(#gyd)"/>
<circle cx="1154.8" cy="293.8" r="10.4" fill="url(#gz)"/>
<circle cx="1700.0" cy="293.8" r="10.4" fill="url(#gy)"/>
<circle cx="196.6" cy="293.8" r="10.4" fill="url(#gz)"/>
<circle cx="940.0" cy="293.8" r="10.4" fill="url(#gz)"/>
<circle cx="411.4" cy="293.8" r="10.4" fill="url(#gyd)"/>
<circle cx="725.2" cy="293.8" r="10.4" fill="url(#gzd)"/>
<circle cx="1328.3" cy="302.1" r="10.4" fill="url(#gzd)"/>
<circle cx="1526.5" cy="302.1" r="10.4" fill="url(#gzd)"/>
<circle cx="1113.5" cy="302.1" r="10.4" fill="url(#gz)"/>
<circle cx="1741.3" cy="302.1" r="10.4" fill="url(#gz)"/>
<circle cx="237.9" cy="302.1" r="10.4" fill="url(#gz)"/>
<circle cx="898.7" cy="302.1" r="10.4" fill="url(#gz)"/>
<circle cx="452.7" cy="302.1" r="10.4" fill="url(#gzd)"/>
<circle cx="683.9" cy="302.1" r="10.4" fill="url(#gyd)"/>
<circle cx="1287.0" cy="310.3" r="10.4" fill="url(#gyd)"/>
<circle cx="1567.8" cy="310.3" r="10.4" fill="url(#gzd)"/>
<circle cx="1072.2" cy="310.3" r="10.4" fill="url(#gz)"/>
<circle cx="1782.6" cy="310.3" r="10.4" fill="url(#gy)"/>
<circle cx="279.2" cy="310.3" r="10.4" fill="url(#gz)"/>
<circle cx="857.4" cy="310.3" r="10.4" fill="url(#gy)"/>
<circle cx="494.0" cy="310.3" r="10.4" fill="url(#gzd)"/>
<circle cx="642.6" cy="310.3" r="10.4" fill="url(#gzd)"/>
<circle cx="1245.7" cy="318.6" r="10.4" fill="url(#gzd)"/>
<circle cx="1609.1" cy="318.6" r="10.4" fill="url(#gzd)"/>
<circle cx="1030.9" cy="318.6" r="10.4" fill="url(#gz)"/>
<circle cx="1823.9" cy="318.6" r="10.4" fill="url(#gz)"/>
<circle cx="320.5" cy="318.6" r="10.4" fill="url(#gz)"/>
<circle cx="816.1" cy="318.6" r="10.4" fill="url(#gz)"/>
<circle cx="535.3" cy="318.6" r="10.4" fill="url(#gzd)"/>
<circle cx="601.3" cy="318.6" r="10.4" fill="url(#gzd)"/>
<circle cx="1419.1" cy="326.9" r="10.4" fill="url(#gzs)"/>
<circle cx="1435.6" cy="326.9" r="10.4" fill="url(#gzs)"/>
<circle cx="1204.4" cy="326.9" r="10.4" fill="url(#gz)"/>
<circle cx="1650.4" cy="326.9" r="10.4" fill="url(#gz)"/>
<circle cx="147.0" cy="326.9" r="10.4" fill="url(#gz)"/>
<circle cx="989.6" cy="326.9" r="10.4" fill="url(#gz)"/>
<circle cx="361.8" cy="326.9" r="10.4" fill="url(#gyd)"/>
<circle cx="774.8" cy="326.9" r="10.4" fill="url(#gyd)"/>
<circle cx="1377.8" cy="335.1" r="10.4" fill="url(#gyd)"/>
<circle cx="1476.9" cy="335.1" r="10.4" fill="url(#gzd)"/>
<circle cx="1163.0" cy="335.1" r="10.4" fill="url(#gz)"/>
<circle cx="1691.7" cy="335.1" r="10.4" fill="url(#gy)"/>
<circle cx="188.3" cy="335.1" r="10.4" fill="url(#gz)"/>
<circle cx="948.3" cy="335.1" r="10.4" fill="url(#gz)"/>
<circle cx="403.1" cy="335.1" r="10.4" fill="url(#gzd)"/>
<circle cx="733.5" cy="335.1" r="10.4" fill="url(#gzd)"/>
<circle cx="1336.5" cy="343.4" r="10.4" fill="url(#gzd)"/>
<circle cx="1518.2" cy="343.4" r="10.4" fill="url(#gzd)"/>
<circle cx="1121.7" cy="343.4" r="10.4" fill="url(#gz)"/>
<circle cx="1733.0" cy="343.4" r="10.4" fill="url(#gz)"/>
<circle cx="229.6" cy="343.4" r="10.4" fill="url(#gz)"/>
<circle cx="907.0" cy="343.4" r="10.4" fill="url(#gz)"/>
<circle cx="444.4" cy="343.4" r="10.4" fill="url(#gzd)"/>
<circle cx="692.2" cy="343.4" r="10.4" fill="url(#gzd)"/>
<circle cx="1295.2" cy="351.6" r="10.4" fill="url(#gzd)"/>
<circle cx="1559.5" cy="351.6" r="10.4" fill="url(#gzd)"/>
<circle cx="1080.4" cy="351.6" r="10.4" fill="url(#gz)"/>
<circle cx="1774.3" cy="351.6" r="10.4" fill="url(#gy)"/>
<circle cx="270.9" cy="351.6" r="10.4" fill="url(#gz)"/>
<circle cx="865.7" cy="351.6" r="10.4" fill="url(#gy)"/>
<circle cx="485.7" cy="351.6" r="10.4" fill="url(#gzd)"/>
<circle cx="650.9" cy="351.6" r="10.4" fill="url(#gzd)"/>
<circle cx="1253.9" cy="359.9" r="10.4" fill="url(#gzd)"/>
<circle cx="1600.9" cy="359.9" r="10.4" fill="url(#gzd)"/>
<circle cx="1039.1" cy="359.9" r="10.4" fill="url(#gz)"/>
<circle cx="1815.6" cy="359.9" r="10.4" fill="url(#gz)"/>
<circle cx="312.2" cy="359.9" r="10.4" fill="url(#gz)"/>
<circle cx="824.4" cy="359.9" r="10.4" fill="url(#gz)"/>
<circle cx="527.0" cy="359.9" r="10.4" fill="url(#gzd)"/>
<circle cx="609.6" cy="359.9" r="10.4" fill="url(#gzd)"/>
<circle cx="1427.4" cy="368.2" r="10.4" fill="url(#gzs)"/>
<circle cx="1212.6" cy="368.2" r="10.4" fill="url(#gzd)"/>
<circle cx="1642.2" cy="368.2" r="10.4" fill="url(#gz)"/>
<circle cx="1856.9" cy="368.2" r="10.4" fill="url(#gz)"/>
<circle cx="997.8" cy="368.2" r="10.4" fill="url(#gz)"/>
<circle cx="353.5" cy="368.2" r="10.4" fill="url(#gzd)"/>
<circle cx="783.1" cy="368.2" r="10.4" fill="url(#gz)"/>
<circle cx="568.3" cy="368.2" r="10.4" fill="url(#gzs)"/>
<circle cx="1386.1" cy="376.4" r="10.4" fill="url(#gyd)"/>
<circle cx="1468.7" cy="376.4" r="10.4" fill="url(#gzd)"/>
<circle cx="1171.3" cy="376.4" r="10.4" fill="url(#gy)"/>
<circle cx="1683.5" cy="376.4" r="10.4" fill="url(#gz)"/>
<circle cx="180.1" cy="376.4" r="10.4" fill="url(#gz)"/>
<circle cx="956.5" cy="376.4" r="10.4" fill="url(#gy)"/>
<circle cx="394.8" cy="376.4" r="10.4" fill="url(#gzd)"/>
<circle cx="741.8" cy="376.4" r="10.4" fill="url(#gzd)"/>
<circle cx="1344.8" cy="384.7" r="10.4" fill="url(#gyd)"/>
<circle cx="1510.0" cy="384.7" r="10.4" fill="url(#gzd)"/>
<circle cx="1130.0" cy="384.7" r="10.4" fill="url(#gz)"/>
<circle cx="1724.8" cy="384.7" r="10.4" fill="url(#gz)"/>
<circle cx="221.4" cy="384.7" r="10.4" fill="url(#gz)"/>
<circle cx="915.2" cy="384.7" r="10.4" fill="url(#gy)"/>
<circle cx="436.1" cy="384.7" r="10.4" fill="url(#gyd)"/>
<circle cx="700.5" cy="384.7" r="10.4" fill="url(#gzd)"/>
<circle cx="1303.5" cy="393.0" r="10.4" fill="url(#gzd)"/>
<circle cx="1551.3" cy="393.0" r="10.4" fill="url(#gzd)"/>
<circle cx="1088.7" cy="393.0" r="10.4" fill="url(#gz)"/>
<circle cx="1766.1" cy="393.0" r="10.4" fill="url(#gz)"/>
<circle cx="262.7" cy="393.0" r="10.4" fill="url(#gz)"/>
<circle cx="873.9" cy="393.0" r="10.4" fill="url(#gz)"/>
<circle cx="477.4" cy="393.0" r="10.4" fill="url(#gyd)"/>
<circle cx="659.2" cy="393.0" r="10.4" fill="url(#gyd)"/>
<circle cx="1262.2" cy="401.2" r="10.4" fill="url(#gzd)"/>
<circle cx="1592.6" cy="401.2" r="10.4" fill="url(#gyd)"/>
<circle cx="1047.4" cy="401.2" r="10.4" fill="url(#gy)"/>
<circle cx="1807.4" cy="401.2" r="10.4" fill="url(#gz)"/>
<circle cx="304.0" cy="401.2" r="10.4" fill="url(#gz)"/>
<circle cx="832.6" cy="401.2" r="10.4" fill="url(#gz)"/>
<circle cx="518.7" cy="401.2" r="10.4" fill="url(#gyd)"/>
<circle cx="617.9" cy="401.2" r="10.4" fill="url(#gzd)"/>
<circle cx="1220.9" cy="409.5" r="10.4" fill="url(#gzd)"/>
<circle cx="1633.9" cy="409.5" r="10.4" fill="url(#gzd)"/>
<circle cx="1006.1" cy="409.5" r="10.4" fill="url(#gz)"/>
<circle cx="1848.7" cy="409.5" r="10.4" fill="url(#gy)"/>
<circle cx="345.3" cy="409.5" r="10.4" fill="url(#gz)"/>
<circle cx="791.3" cy="409.5" r="10.4" fill="url(#gz)"/>
<circle cx="560.0" cy="409.5" r="10.4" fill="url(#gys)"/>
<circle cx="576.6" cy="409.5" r="10.4" fill="url(#gzs)"/>
<circle cx="1394.3" cy="417.7" r="10.4" fill="url(#gzd)"/>
<circle cx="1460.4" cy="417.7" r="10.4" fill="url(#gzd)"/>
<circle cx="1179.6" cy="417.7" r="10.4" fill="url(#gz)"/>
<circle cx="1675.2" cy="417.7" r="10.4" fill="url(#gz)"/>
<circle cx="171.8" cy="417.7" r="10.4" fill="url(#gz)"/>
<circle cx="964.8" cy="417.7" r="10.4" fill="url(#gz)"/>
<circle cx="386.6" cy="417.7" r="10.4" fill="url(#gzd)"/>
<circle cx="750.0" cy="417.7" r="10.4" fill="url(#gzd)"/>
<circle cx="1353.0" cy="426.0" r="10.4" fill="url(#gzd)"/>
<circle cx="1501.7" cy="426.0" r="10.4" fill="url(#gzd)"/>
<circle cx="1138.3" cy="426.0" r="10.4" fill="url(#gz)"/>
<circle cx="1716.5" cy="426.0" r="10.4" fill="url(#gz)"/>
<circle cx="213.1" cy="426.0" r="10.4" fill="url(#gz)"/>
<circle cx="923.5" cy="426.0" r="10.4" fill="url(#gz)"/>
<circle cx="427.9" cy="426.0" r="10.4" fill="url(#gzd)"/>
<circle cx="708.7" cy="426.0" r="10.4" fill="url(#gzd)"/>
<circle cx="1311.7" cy="434.3" r="10.4" fill="url(#gyd)"/>
<circle cx="1543.0" cy="434.3" r="10.4" fill="url(#gyd)"/>
<circle cx="1097.0" cy="434.3" r="10.4" fill="url(#gz)"/>
<circle cx="1757.8" cy="434.3" r="10.4" fill="url(#gz)"/>
<circle cx="254.4" cy="434.3" r="10.4" fill="url(#gz)"/>
<circle cx="882.2" cy="434.3" r="10.4" fill="url(#gz)"/>
<circle cx="469.2" cy="434.3" r="10.4" fill="url(#gyd)"/>
<circle cx="667.4" cy="434.3" r="10.4" fill="url(#gzd)"/>
<circle cx="1270.4" cy="442.5" r="10.4" fill="url(#gzd)"/>
<circle cx="1584.3" cy="442.5" r="10.4" fill="url(#gzd)"/>
<circle cx="1055.7" cy="442.5" r="10.4" fill="url(#gz)"/>
<circle cx="1799.1" cy="442.5" r="10.4" fill="url(#gz)"/>
<circle cx="295.7" cy="442.5" r="10.4" fill="url(#gz)"/>
<circle cx="840.9" cy="442.5" r="10.4" fill="url(#gz)"/>
<circle cx="510.5" cy="442.5" r="10.4" fill="url(#gzd)"/>
<circle cx="626.1" cy="442.5" r="10.4" fill="url(#gyd)"/>
<circle cx="1229.1" cy="450.8" r="10.4" fill="url(#gzd)"/>
<circle cx="1625.6" cy="450.8" r="10.4" fill="url(#gzd)"/>
<circle cx="1014.4" cy="450.8" r="10.4" fill="url(#gz)"/>
<circle cx="1840.4" cy="450.8" r="10.4" fill="url(#gz)"/>
<circle cx="337.0" cy="450.8" r="10.4" fill="url(#gz)"/>
<circle cx="799.6" cy="450.8" r="10.4" fill="url(#gz)"/>
<circle cx="551.8" cy="450.8" r="10.4" fill="url(#gzd)"/>
<circle cx="584.8" cy="450.8" r="10.4" fill="url(#gzd)"/>
<circle cx="1402.6" cy="459.0" r="10.4" fill="url(#gzd)"/>
<circle cx="1452.2" cy="459.0" r="10.4" fill="url(#gzd)"/>
<circle cx="1187.8" cy="459.0" r="10.4" fill="url(#gz)"/>
<circle cx="1666.9" cy="459.0" r="10.4" fill="url(#gy)"/>
<circle cx="163.5" cy="459.0" r="10.4" fill="url(#gz)"/>
<circle cx="973.1" cy="459.0" r="10.4" fill="url(#gz)"/>
<circle cx="378.3" cy="459.0" r="10.4" fill="url(#gyd)"/>
<circle cx="758.3" cy="459.0" r="10.4" fill="url(#gyd)"/>
<circle cx="1361.3" cy="467.3" r="10.4" fill="url(#gzd)"/>
<circle cx="1493.5" cy="467.3" r="10.4" fill="url(#gzd)"/>
<circle cx="1146.5" cy="467.3" r="10.4" fill="url(#gz)"/>
<circle cx="1708.2" cy="467.3" r="10.4" fill="url(#gy)"/>
<circle cx="204.8" cy="467.3" r="10.4" fill="url(#gz)"/>
<circle cx="931.8" cy="467.3" r="10.4" fill="url(#gz)"/>
<circle cx="419.6" cy="467.3" r="10.4" fill="url(#gzd)"/>
<circle cx="717.0" cy="467.3" r="10.4" fill="url(#gzd)"/>
<circle cx="1320.0" cy="475.6" r="10.4" fill="url(#gzd)"/>
<circle cx="1534.8" cy="475.6" r="10.4" fill="url(#gzd)"/>
<circle cx="1105.2" cy="475.6" r="10.4" fill="url(#gz)"/>
<circle cx="1749.5" cy="475.6" r="10.4" fill="url(#gy)"/>
<circle cx="246.1" cy="475.6" r="10.4" fill="url(#gz)"/>
<circle cx="890.5" cy="475.6" r="10.4" fill="url(#gz)"/>
<circle cx="460.9" cy="475.6" r="10.4" fill="url(#gyd)"/>
<circle cx="675.7" cy="475.6" r="10.4" fill="url(#gzd)"/>
<circle cx="1278.7" cy="483.8" r="10.4" fill="url(#gzd)"/>
<circle cx="1576.1" cy="483.8" r="10.4" fill="url(#gzd)"/>
<circle cx="1063.9" cy="483.8" r="10.4" fill="url(#gz)"/>
<circle cx="1790.8" cy="483.8" r="10.4" fill="url(#gz)"/>
<circle cx="287.4" cy="483.8" r="10.4" fill="url(#gz)"/>
<circle cx="849.2" cy="483.8" r="10.4" fill="url(#gz)"/>
<circle cx="502.2" cy="483.8" r="10.4" fill="url(#gzd)"/>
<circle cx="634.4" cy="483.8" r="10.4" fill="url(#gyd)"/>
<circle cx="1237.4" cy="492.1" r="10.4" fill="url(#gzd)"/>
<circle cx="1617.4" cy="492.1" r="10.4" fill="url(#gzd)"/>
<circle cx="1022.6" cy="492.1" r="10.4" fill="url(#gz)"/>
<circle cx="1832.1" cy="492.1" r="10.4" fill="url(#gz)"/>
<circle cx="328.7" cy="492.1" r="10.4" fill="url(#gz)"/>
<circle cx="807.9" cy="492.1" r="10.4" fill="url(#gz)"/>
<circle cx="543.5" cy="492.1" r="10.4" fill="url(#gyd)"/>
<circle cx="593.1" cy="492.1" r="10.4" fill="url(#gzd)"/>
<circle cx="1410.9" cy="500.3" r="10.4" fill="url(#gzd)"/>
<circle cx="1443.9" cy="500.3" r="10.4" fill="url(#gyd)"/>
<circle cx="1196.1" cy="500.3" r="10.4" fill="url(#gz)"/>
<circle cx="1658.7" cy="500.3" r="10.4" fill="url(#gz)"/>
<circle cx="155.3" cy="500.3" r="10.4" fill="url(#gz)"/>
<circle cx="981.3" cy="500.3" r="10.4" fill="url(#gz)"/>
<circle cx="370.1" cy="500.3" r="10.4" fill="url(#gzd)"/>
<circle cx="766.5" cy="500.3" r="10.4" fill="url(#gzd)"/>
<circle cx="1369.6" cy="508.6" r="10.4" fill="url(#gzd)"/>
<circle cx="1485.2" cy="508.6" r="10.4" fill="url(#gzd)"/>
<circle cx="1154.8" cy="508.6" r="10.4" fill="url(#gz)"/>
<circle cx="1700.0" cy="508.6" r="10.4" fill="url(#gz)"/>
<circle cx="196.6" cy="508.6" r="10.4" fill="url(#gz)"/>
<circle cx="940.0" cy="508.6" r="10.4" fill="url(#gz)"/>
<circle cx="411.4" cy="508.6" r="10.4" fill="url(#gzd)"/>
<circle cx="725.2" cy="508.6" r="10.4" fill="url(#gzd)"/>
<circle cx="1328.3" cy="516.9" r="10.4" fill="url(#gzd)"/>
<circle cx="1526.5" cy="516.9" r="10.4" fill="url(#gzd)"/>
<circle cx="1113.5" cy="516.9" r="10.4" fill="url(#gz)"/>
<circle cx="1741.3" cy="516.9" r="10.4" fill="url(#gy)"/>
<circle cx="237.9" cy="516.9" r="10.4" fill="url(#gz)"/>
<circle cx="898.7" cy="516.9" r="10.4" fill="url(#gy)"/>
<circle cx="452.7" cy="516.9" r="10.4" fill="url(#gzd)"/>
<circle cx="683.9" cy="516.9" r="10.4" fill="url(#gzd)"/>
<circle cx="1287.0" cy="525.1" r="10.4" fill="url(#gzd)"/>
<circle cx="1567.8" cy="525.1" r="10.4" fill="url(#gzd)"/>
<circle cx="1072.2" cy="525.1" r="10.4" fill="url(#gz)"/>
<circle cx="1782.6" cy="525.1" r="10.4" fill="url(#gz)"/>
<circle cx="279.2" cy="525.1" r="10.4" fill="url(#gz)"/>
<circle cx="857.4" cy="525.1" r="10.4" fill="url(#gz)"/>
<circle cx="494.0" cy="525.1" r="10.4" fill="url(#gzd)"/>
<circle cx="642.6" cy="525.1" r="10.4" fill="url(#gyd)"/>
<circle cx="1245.7" cy="533.4" r="10.4" fill="url(#gzd)"/>
<circle cx="1609.1" cy="533.4" r="10.4" fill="url(#gzd)"/>
<circle cx="1030.9" cy="533.4" r="10.4" fill="url(#gz)"/>
<circle cx="1823.9" cy="533.4" r="10.4" fill="url(#gz)"/>
<circle cx="320.5" cy="533.4" r="10.4" fill="url(#gy)"/>
<circle cx="816.1" cy="533.4" r="10.4" fill="url(#gz)"/>
<circle cx="535.3" cy="533.4" r="10.4" fill="url(#gyd)"/>
<circle cx="601.3" cy="533.4" r="10.4" fill="url(#gzd)"/>
<circle cx="1419.1" cy="541.6" r="10.4" fill="url(#gzs)"/>
<circle cx="1435.6" cy="541.6" r="10.4" fill="url(#gys)"/>
<circle cx="1204.4" cy="541.6" r="10.4" fill="url(#gy)"/>
<circle cx="1650.4" cy="541.6" r="10.4" fill="url(#gy)"/>
<circle cx="147.0" cy="541.6" r="10.4" fill="url(#gz)"/>
<circle cx="989.6" cy="541.6" r="10.4" fill="url(#gz)"/>
<circle cx="361.8" cy="541.6" r="10.4" fill="url(#gyd)"/>
<circle cx="774.8" cy="541.6" r="10.4" fill="url(#gzd)"/>
<circle cx="1377.8" cy="549.9" r="10.4" fill="url(#gzd)"/>
<circle cx="1476.9" cy="549.9" r="10.4" fill="url(#gyd)"/>
<circle cx="1163.0" cy="549.9" r="10.4" fill="url(#gy)"/>
<circle cx="1691.7" cy="549.9" r="10.4" fill="url(#gz)"/>
<circle cx="188.3" cy="549.9" r="10.4" fill="url(#gz)"/>
<circle cx="948.3" cy="549.9" r="10.4" fill="url(#gz)"/>
<circle cx="403.1" cy="549.9" r="10.4" fill="url(#gzd)"/>
<circle cx="733.5" cy="549.9" r="10.4" fill="url(#gzd)"/>
<circle cx="1336.5" cy="558.2" r="10.4" fill="url(#gzd)"/>
<circle cx="1518.2" cy="558.2" r="10.4" fill="url(#gzd)"/>
<circle cx="1121.7" cy="558.2" r="10.4" fill="url(#gz)"/>
<circle cx="1733.0" cy="558.2" r="10.4" fill="url(#gz)"/>
<circle cx="229.6" cy="558.2" r="10.4" fill="url(#gz)"/>
<circle cx="907.0" cy="558.2" r="10.4" fill="url(#gz)"/>
<circle cx="444.4" cy="558.2" r="10.4" fill="url(#gzd)"/>
<circle cx="692.2" cy="558.2" r="10.4" fill="url(#gzd)"/>
<circle cx="1295.2" cy="566.4" r="10.4" fill="url(#gzd)"/>
<circle cx="1559.5" cy="566.4" r="10.4" fill="url(#gzd)"/>
<circle cx="1080.4" cy="566.4" r="10.4" fill="url(#gz)"/>
<circle cx="1774.3" cy="566.4" r="10.4" fill="url(#gy)"/>
<circle cx="270.9" cy="566.4" r="10.4" fill="url(#gz)"/>
<circle cx="865.7" cy="566.4" r="10.4" fill="url(#gz)"/>
<circle cx="485.7" cy="566.4" r="10.4" fill="url(#gzd)"/>
<circle cx="650.9" cy="566.4" r="10.4" fill="url(#gzd)"/>
<circle cx="1253.9" cy="574.7" r="10.4" fill="url(#gzd)"/>
<circle cx="1600.9" cy="574.7" r="10.4" fill="url(#gzd)"/>
<circle cx="1039.1" cy="574.7" r="10.4" fill="url(#gz)"/>
<circle cx="1815.6" cy="574.7" r="10.4" fill="url(#gz)"/>
<circle cx="312.2" cy="574.7" r="10.4" fill="url(#gz)"/>
<circle cx="824.4" cy="574.7" r="10.4" fill="url(#gy)"/>
<circle cx="527.0" cy="574.7" r="10.4" fill="url(#gzd)"/>
<circle cx="609.6" cy="574.7" r="10.4" fill="url(#gzd)"/>
<circle cx="1856.9" cy="582.9" r="10.4" fill="url(#gz)"/>
<circle cx="997.8" cy="582.9" r="10.4" fill="url(#gz)"/>
<circle cx="353.5" cy="582.9" r="10.4" fill="url(#gzd)"/>
</g>
<circle cx="761" cy="75.3" r="27" fill="#777" opacity="0.55" filter="url(#sh)"/>
<circle cx="761" cy="66.3" r="27" fill="#ffff00"/>
<circle cx="965.2" cy="78" r="27" fill="#777" opacity="0.55" filter="url(#sh)"/>
<circle cx="965.2" cy="69" r="27" fill="#0000ff"/>
<circle cx="1183.5" cy="75" r="22" fill="#777" opacity="0.55" filter="url(#sh)"/>
<circle cx="1183.5" cy="66" r="22" fill="#ff0000"/>
<text x="97" y="108" font-size="123" text-anchor="start">(a)</text>
<text x="521" y="93.5" font-size="79" text-anchor="start">GB</text>
<text x="822" y="92" font-size="77" text-anchor="start">Zr</text>
<text x="1022" y="92" font-size="77" text-anchor="start">Y</text>
<text x="1216" y="92" font-size="77" text-anchor="start">O</text>
<text x="1375" y="93.5" font-size="79" text-anchor="start">GB</text>
<path d="M111 607.5 V568 M109 607.5 H150" stroke="#111" stroke-width="4" fill="none"/>
<path d="M111 557 L105 571 L117 571 Z M161 607.5 L148 601.5 L148 613.5 Z" fill="#000"/>
<text x="99.5" y="560.8" font-size="22" text-anchor="middle" font-weight="bold" style="stroke:none">Y</text>
<text x="100" y="628.5" font-size="22" text-anchor="middle" font-weight="bold" style="stroke:none">O</text>
<text x="171.4" y="627.7" font-size="22" text-anchor="middle" font-weight="bold" style="stroke:none">X</text>
<text x="251.5" y="679.5" font-size="63" text-anchor="middle">-5</text>
<text x="406.5" y="679.5" font-size="63" text-anchor="middle">-4</text>
<text x="544.5" y="679.5" font-size="63" text-anchor="middle">-3</text>
<text x="700" y="679.5" font-size="63" text-anchor="middle">-2</text>
<text x="851.5" y="679.5" font-size="63" text-anchor="middle">-1</text>
<text x="999.5" y="679.5" font-size="63" text-anchor="middle">0</text>
<text x="1150" y="679.5" font-size="63" text-anchor="middle">1</text>
<text x="1285" y="679.5" font-size="63" text-anchor="middle">2</text>
<text x="1436" y="679.5" font-size="63" text-anchor="middle">3</text>
<text x="1589.5" y="679.5" font-size="63" text-anchor="middle">4</text>
<text x="1741.5" y="679.5" font-size="63" text-anchor="middle">5</text>
<text x="1024" y="774" font-size="68" text-anchor="middle">X (nm)</text>
<clipPath id="chb"><rect x="142" y="1021.3" width="1718" height="427.5"/></clipPath>
<filter id="hb" filterUnits="userSpaceOnUse" x="112" y="991.3" width="1778" height="487.5" color-interpolation-filters="sRGB"><feGaussianBlur stdDeviation="7"/><feComponentTransfer><feFuncR type="table" tableValues="0 0 0 0 0.5 1 1 1 0.5"/><feFuncG type="table" tableValues="0 0 0.5 1 1 1 0.5 0 0"/><feFuncB type="table" tableValues="0.5 1 1 1 0.5 0 0 0 0"/></feComponentTransfer></filter>
<g clip-path="url(#chb)"><g filter="url(#hb)">
<rect x="112" y="991.3" width="1778" height="487.5" fill="rgb(96,96,96)"/>
<g stroke="#fff" stroke-width="11" stroke-opacity="0.5" stroke-linecap="round">
<line x1="1340.6" y1="998.6" x2="1348.8" y2="1039.4"/>
<line x1="1522.1" y1="997.1" x2="1513.9" y2="1037.9"/>
<line x1="1348.8" y1="1039.4" x2="1357.1" y2="1080.3"/>
<line x1="1513.9" y1="1037.9" x2="1505.6" y2="1078.8"/>
<line x1="1357.1" y1="1080.3" x2="1365.4" y2="1121.1"/>
<line x1="1505.6" y1="1078.8" x2="1497.4" y2="1119.6"/>
<line x1="1365.4" y1="1121.1" x2="1373.6" y2="1161.9"/>
<line x1="1497.4" y1="1119.6" x2="1489.1" y2="1160.4"/>
<line x1="1373.6" y1="1161.9" x2="1381.9" y2="1202.7"/>
<line x1="1489.1" y1="1160.4" x2="1480.9" y2="1201.2"/>
<line x1="1299.3" y1="1006.8" x2="1307.6" y2="1047.6"/>
<line x1="1563.4" y1="1005.3" x2="1555.1" y2="1046.1"/>
<line x1="1307.6" y1="1047.6" x2="1315.8" y2="1088.4"/>
<line x1="1555.1" y1="1046.1" x2="1546.9" y2="1086.9"/>
<line x1="1315.8" y1="1088.4" x2="1324.1" y2="1129.2"/>
<line x1="1546.9" y1="1086.9" x2="1538.6" y2="1127.7"/>
<line x1="1324.1" y1="1129.2" x2="1332.3" y2="1170.1"/>
<line x1="1538.6" y1="1127.7" x2="1530.4" y2="1168.6"/>
<line x1="1332.3" y1="1170.1" x2="1340.6" y2="1210.9"/>
<line x1="1530.4" y1="1168.6" x2="1522.1" y2="1209.4"/>
<line x1="1340.6" y1="1210.9" x2="1348.8" y2="1251.7"/>
<line x1="1522.1" y1="1209.4" x2="1513.9" y2="1250.2"/>
<line x1="1348.8" y1="1251.7" x2="1357.1" y2="1292.6"/>
<line x1="1513.9" y1="1250.2" x2="1505.6" y2="1291.1"/>
<line x1="1357.1" y1="1292.6" x2="1365.4" y2="1333.4"/>
<line x1="1505.6" y1="1291.1" x2="1497.4" y2="1331.9"/>
<line x1="1365.4" y1="1333.4" x2="1373.6" y2="1374.2"/>
<line x1="1497.4" y1="1331.9" x2="1489.1" y2="1372.7"/>
<line x1="1373.6" y1="1374.2" x2="1381.9" y2="1415"/>
<line x1="1489.1" y1="1372.7" x2="1480.9" y2="1413.5"/>
<line x1="1258.1" y1="1014.9" x2="1266.3" y2="1055.8"/>
<line x1="1604.6" y1="1013.4" x2="1596.4" y2="1054.3"/>
<line x1="1266.3" y1="1055.8" x2="1274.6" y2="1096.6"/>
<line x1="1596.4" y1="1054.3" x2="1588.1" y2="1095.1"/>
<line x1="1274.6" y1="1096.6" x2="1282.8" y2="1137.4"/>
<line x1="1588.1" y1="1095.1" x2="1579.9" y2="1135.9"/>
<line x1="1282.8" y1="1137.4" x2="1291.1" y2="1178.2"/>
<line x1="1579.9" y1="1135.9" x2="1571.6" y2="1176.7"/>
<line x1="1291.1" y1="1178.2" x2="1299.3" y2="1219.1"/>
<line x1="1571.6" y1="1176.7" x2="1563.4" y2="1217.6"/>
<line x1="1299.3" y1="1219.1" x2="1307.6" y2="1259.9"/>
<line x1="1563.4" y1="1217.6" x2="1555.1" y2="1258.4"/>
<line x1="1307.6" y1="1259.9" x2="1315.8" y2="1300.7"/>
<line x1="1555.1" y1="1258.4" x2="1546.9" y2="1299.2"/>
<line x1="1315.8" y1="1300.7" x2="1324.1" y2="1341.5"/>
<line x1="1546.9" y1="1299.2" x2="1538.6" y2="1340"/>
<line x1="1324.1" y1="1341.5" x2="1332.3" y2="1382.4"/>
<line x1="1538.6" y1="1340" x2="1530.4" y2="1380.9"/>
<line x1="1332.3" y1="1382.4" x2="1340.6" y2="1423.2"/>
<line x1="1530.4" y1="1380.9" x2="1522.1" y2="1421.7"/>
<line x1="1340.6" y1="1423.2" x2="1348.8" y2="1464"/>
<line x1="1522.1" y1="1421.7" x2="1513.9" y2="1462.5"/>
<line x1="1208.6" y1="982.3" x2="1216.8" y2="1023.1"/>
<line x1="1216.8" y1="1023.1" x2="1225.1" y2="1063.9"/>
<line x1="1645.9" y1="1021.6" x2="1637.6" y2="1062.4"/>
<line x1="1225.1" y1="1063.9" x2="1233.3" y2="1104.7"/>
<line x1="1637.6" y1="1062.4" x2="1629.4" y2="1103.2"/>
<line x1="1233.3" y1="1104.7" x2="1241.6" y2="1145.6"/>
<line x1="1629.4" y1="1103.2" x2="1621.1" y2="1144.1"/>
<line x1="1241.6" y1="1145.6" x2="1249.8" y2="1186.4"/>
<line x1="1621.1" y1="1144.1" x2="1612.9" y2="1184.9"/>
<line x1="1249.8" y1="1186.4" x2="1258.1" y2="1227.2"/>
<line x1="1612.9" y1="1184.9" x2="1604.6" y2="1225.7"/>
<line x1="1258.1" y1="1227.2" x2="1266.3" y2="1268.1"/>
<line x1="1604.6" y1="1225.7" x2="1596.4" y2="1266.6"/>
<line x1="1266.3" y1="1268.1" x2="1274.6" y2="1308.9"/>
<line x1="1596.4" y1="1266.6" x2="1588.1" y2="1307.4"/>
<line x1="1274.6" y1="1308.9" x2="1282.8" y2="1349.7"/>
<line x1="1588.1" y1="1307.4" x2="1579.9" y2="1348.2"/>
<line x1="1282.8" y1="1349.7" x2="1291.1" y2="1390.5"/>
<line x1="1579.9" y1="1348.2" x2="1571.6" y2="1389"/>
<line x1="1291.1" y1="1390.5" x2="1299.3" y2="1431.4"/>
<line x1="1571.6" y1="1389" x2="1563.4" y2="1429.9"/>
<line x1="1299.3" y1="1431.4" x2="1307.6" y2="1472.2"/>
<line x1="1563.4" y1="1429.9" x2="1555.1" y2="1470.7"/>
<line x1="1167.3" y1="990.4" x2="1175.6" y2="1031.3"/>
<line x1="1695.4" y1="988.9" x2="1687.1" y2="1029.8"/>
<line x1="1175.6" y1="1031.3" x2="1183.8" y2="1072.1"/>
<line x1="1687.1" y1="1029.8" x2="1678.9" y2="1070.6"/>
<line x1="1183.8" y1="1072.1" x2="1192.1" y2="1112.9"/>
<line x1="1678.9" y1="1070.6" x2="1670.6" y2="1111.4"/>
<line x1="1192.1" y1="1112.9" x2="1200.3" y2="1153.7"/>
<line x1="1670.6" y1="1111.4" x2="1662.4" y2="1152.2"/>
<line x1="1200.3" y1="1153.7" x2="1208.6" y2="1194.6"/>
<line x1="1662.4" y1="1152.2" x2="1654.1" y2="1193.1"/>
<line x1="1208.6" y1="1194.6" x2="1216.8" y2="1235.4"/>
<line x1="1654.1" y1="1193.1" x2="1645.9" y2="1233.9"/>
<line x1="1216.8" y1="1235.4" x2="1225.1" y2="1276.2"/>
<line x1="1645.9" y1="1233.9" x2="1637.6" y2="1274.7"/>
<line x1="1225.1" y1="1276.2" x2="1233.3" y2="1317.1"/>
<line x1="1637.6" y1="1274.7" x2="1629.4" y2="1315.6"/>
<line x1="1233.3" y1="1317.1" x2="1241.6" y2="1357.9"/>
<line x1="1629.4" y1="1315.6" x2="1621.1" y2="1356.4"/>
<line x1="1241.6" y1="1357.9" x2="1249.8" y2="1398.7"/>
<line x1="1621.1" y1="1356.4" x2="1612.9" y2="1397.2"/>
<line x1="1249.8" y1="1398.7" x2="1258.1" y2="1439.5"/>
<line x1="1612.9" y1="1397.2" x2="1604.6" y2="1438"/>
<line x1="1258.1" y1="1439.5" x2="1266.3" y2="1480.4"/>
<line x1="1604.6" y1="1438" x2="1596.4" y2="1478.9"/>
<line x1="1126.1" y1="998.6" x2="1134.3" y2="1039.4"/>
<line x1="1736.6" y1="997.1" x2="1728.4" y2="1037.9"/>
<line x1="1134.3" y1="1039.4" x2="1142.6" y2="1080.3"/>
<line x1="1728.4" y1="1037.9" x2="1720.1" y2="1078.8"/>
<line x1="1142.6" y1="1080.3" x2="1150.8" y2="1121.1"/>
<line x1="1720.1" y1="1078.8" x2="1711.9" y2="1119.6"/>
<line x1="1150.8" y1="1121.1" x2="1159.1" y2="1161.9"/>
<line x1="1711.9" y1="1119.6" x2="1703.6" y2="1160.4"/>
<line x1="1159.1" y1="1161.9" x2="1167.3" y2="1202.7"/>
<line x1="1703.6" y1="1160.4" x2="1695.4" y2="1201.2"/>
<line x1="1167.3" y1="1202.7" x2="1175.6" y2="1243.6"/>
<line x1="1695.4" y1="1201.2" x2="1687.1" y2="1242.1"/>
<line x1="1175.6" y1="1243.6" x2="1183.8" y2="1284.4"/>
<line x1="1687.1" y1="1242.1" x2="1678.9" y2="1282.9"/>
<line x1="1183.8" y1="1284.4" x2="1192.1" y2="1325.2"/>
<line x1="1678.9" y1="1282.9" x2="1670.6" y2="1323.7"/>
<line x1="1192.1" y1="1325.2" x2="1200.3" y2="1366"/>
<line x1="1670.6" y1="1323.7" x2="1662.4" y2="1364.5"/>
<line x1="1200.3" y1="1366" x2="1208.6" y2="1406.9"/>
<line x1="1662.4" y1="1364.5" x2="1654.1" y2="1405.4"/>
<line x1="1208.6" y1="1406.9" x2="1216.8" y2="1447.7"/>
<line x1="1654.1" y1="1405.4" x2="1645.9" y2="1446.2"/>
<line x1="1216.8" y1="1447.7" x2="1225.1" y2="1488.5"/>
<line x1="1645.9" y1="1446.2" x2="1637.6" y2="1487"/>
<line x1="1084.8" y1="1006.8" x2="1093.1" y2="1047.6"/>
<line x1="1777.9" y1="1005.3" x2="1769.6" y2="1046.1"/>
<line x1="1093.1" y1="1047.6" x2="1101.3" y2="1088.4"/>
<line x1="1769.6" y1="1046.1" x2="1761.4" y2="1086.9"/>
<line x1="1101.3" y1="1088.4" x2="1109.6" y2="1129.2"/>
<line x1="1761.4" y1="1086.9" x2="1753.1" y2="1127.7"/>
<line x1="1109.6" y1="1129.2" x2="1117.8" y2="1170.1"/>
<line x1="1753.1" y1="1127.7" x2="1744.9" y2="1168.6"/>
<line x1="1117.8" y1="1170.1" x2="1126.1" y2="1210.9"/>
<line x1="1744.9" y1="1168.6" x2="1736.6" y2="1209.4"/>
<line x1="1126.1" y1="1210.9" x2="1134.3" y2="1251.7"/>
<line x1="1736.6" y1="1209.4" x2="1728.4" y2="1250.2"/>
<line x1="1134.3" y1="1251.7" x2="1142.6" y2="1292.6"/>
<line x1="1728.4" y1="1250.2" x2="1720.1" y2="1291.1"/>
<line x1="1142.6" y1="1292.6" x2="1150.8" y2="1333.4"/>
<line x1="1720.1" y1="1291.1" x2="1711.9" y2="1331.9"/>
<line x1="1150.8" y1="1333.4" x2="1159.1" y2="1374.2"/>
<line x1="1711.9" y1="1331.9" x2="1703.6" y2="1372.7"/>
<line x1="1159.1" y1="1374.2" x2="1167.3" y2="1415"/>
<line x1="1703.6" y1="1372.7" x2="1695.4" y2="1413.5"/>
<line x1="1167.3" y1="1415" x2="1175.6" y2="1455.9"/>
<line x1="1695.4" y1="1413.5" x2="1687.1" y2="1454.4"/>
<line x1="1043.6" y1="1014.9" x2="1051.8" y2="1055.8"/>
<line x1="1819.1" y1="1013.4" x2="1810.9" y2="1054.3"/>
<line x1="1051.8" y1="1055.8" x2="1060.1" y2="1096.6"/>
<line x1="1810.9" y1="1054.3" x2="1802.6" y2="1095.1"/>
<line x1="1060.1" y1="1096.6" x2="1068.3" y2="1137.4"/>
<line x1="1802.6" y1="1095.1" x2="1794.4" y2="1135.9"/>
<line x1="1068.3" y1="1137.4" x2="1076.6" y2="1178.2"/>
<line x1="1794.4" y1="1135.9" x2="1786.1" y2="1176.7"/>
<line x1="1076.6" y1="1178.2" x2="1084.8" y2="1219.1"/>
<line x1="1786.1" y1="1176.7" x2="1777.9" y2="1217.6"/>
<line x1="1084.8" y1="1219.1" x2="1093.1" y2="1259.9"/>
<line x1="1777.9" y1="1217.6" x2="1769.6" y2="1258.4"/>
<line x1="1093.1" y1="1259.9" x2="1101.3" y2="1300.7"/>
<line x1="1769.6" y1="1258.4" x2="1761.4" y2="1299.2"/>
<line x1="1101.3" y1="1300.7" x2="1109.6" y2="1341.5"/>
<line x1="1761.4" y1="1299.2" x2="1753.1" y2="1340"/>
<line x1="1109.6" y1="1341.5" x2="1117.8" y2="1382.4"/>
<line x1="1753.1" y1="1340" x2="1744.9" y2="1380.9"/>
<line x1="1117.8" y1="1382.4" x2="1126.1" y2="1423.2"/>
<line x1="1744.9" y1="1380.9" x2="1736.6" y2="1421.7"/>
<line x1="1126.1" y1="1423.2" x2="1134.3" y2="1464"/>
<line x1="1736.6" y1="1421.7" x2="1728.4" y2="1462.5"/>
<line x1="994.1" y1="982.3" x2="1002.3" y2="1023.1"/>
<line x1="144.2" y1="1021.6" x2="136" y2="1062.4"/>
<line x1="1002.3" y1="1023.1" x2="1010.6" y2="1063.9"/>
<line x1="1860.4" y1="1021.6" x2="1852.1" y2="1062.4"/>
<line x1="136" y1="1062.4" x2="127.7" y2="1103.2"/>
<line x1="1010.6" y1="1063.9" x2="1018.8" y2="1104.7"/>
<line x1="1852.1" y1="1062.4" x2="1843.9" y2="1103.2"/>
<line x1="127.7" y1="1103.2" x2="119.5" y2="1144.1"/>
<line x1="1018.8" y1="1104.7" x2="1027.1" y2="1145.6"/>
<line x1="1843.9" y1="1103.2" x2="1835.6" y2="1144.1"/>
<line x1="119.5" y1="1144.1" x2="111.2" y2="1184.9"/>
<line x1="1027.1" y1="1145.6" x2="1035.3" y2="1186.4"/>
<line x1="1835.6" y1="1144.1" x2="1827.4" y2="1184.9"/>
<line x1="111.2" y1="1184.9" x2="103" y2="1225.7"/>
<line x1="1035.3" y1="1186.4" x2="1043.6" y2="1227.2"/>
<line x1="1827.4" y1="1184.9" x2="1819.1" y2="1225.7"/>
<line x1="1043.6" y1="1227.2" x2="1051.8" y2="1268.1"/>
<line x1="1819.1" y1="1225.7" x2="1810.9" y2="1266.6"/>
<line x1="1051.8" y1="1268.1" x2="1060.1" y2="1308.9"/>
<line x1="1810.9" y1="1266.6" x2="1802.6" y2="1307.4"/>
<line x1="1060.1" y1="1308.9" x2="1068.3" y2="1349.7"/>
<line x1="1802.6" y1="1307.4" x2="1794.4" y2="1348.2"/>
<line x1="1068.3" y1="1349.7" x2="1076.6" y2="1390.5"/>
<line x1="1794.4" y1="1348.2" x2="1786.1" y2="1389"/>
<line x1="1076.6" y1="1390.5" x2="1084.8" y2="1431.4"/>
<line x1="1786.1" y1="1389" x2="1777.9" y2="1429.9"/>
<line x1="1084.8" y1="1431.4" x2="1093.1" y2="1472.2"/>
<line x1="1777.9" y1="1429.9" x2="1769.6" y2="1470.7"/>
<line x1="193.7" y1="988.9" x2="185.5" y2="1029.8"/>
<line x1="952.8" y1="990.4" x2="961.1" y2="1031.3"/>
<line x1="185.5" y1="1029.8" x2="177.2" y2="1070.6"/>
<line x1="961.1" y1="1031.3" x2="969.3" y2="1072.1"/>
<line x1="177.2" y1="1070.6" x2="169" y2="1111.4"/>
<line x1="969.3" y1="1072.1" x2="977.6" y2="1112.9"/>
<line x1="1893.4" y1="1070.6" x2="1885.2" y2="1111.4"/>
<line x1="169" y1="1111.4" x2="160.7" y2="1152.2"/>
<line x1="977.6" y1="1112.9" x2="985.8" y2="1153.7"/>
<line x1="1885.2" y1="1111.4" x2="1876.9" y2="1152.2"/>
<line x1="160.7" y1="1152.2" x2="152.5" y2="1193.1"/>
<line x1="985.8" y1="1153.7" x2="994.1" y2="1194.6"/>
<line x1="1876.9" y1="1152.2" x2="1868.7" y2="1193.1"/>
<line x1="152.5" y1="1193.1" x2="144.2" y2="1233.9"/>
<line x1="994.1" y1="1194.6" x2="1002.3" y2="1235.4"/>
<line x1="1868.7" y1="1193.1" x2="1860.4" y2="1233.9"/>
<line x1="144.2" y1="1233.9" x2="136" y2="1274.7"/>
<line x1="1002.3" y1="1235.4" x2="1010.6" y2="1276.2"/>
<line x1="1860.4" y1="1233.9" x2="1852.1" y2="1274.7"/>
<line x1="136" y1="1274.7" x2="127.7" y2="1315.6"/>
<line x1="1010.6" y1="1276.2" x2="1018.8" y2="1317.1"/>
<line x1="1852.1" y1="1274.7" x2="1843.9" y2="1315.6"/>
<line x1="127.7" y1="1315.6" x2="119.5" y2="1356.4"/>
<line x1="1018.8" y1="1317.1" x2="1027.1" y2="1357.9"/>
<line x1="1843.9" y1="1315.6" x2="1835.6" y2="1356.4"/>
<line x1="119.5" y1="1356.4" x2="111.2" y2="1397.2"/>
<line x1="1027.1" y1="1357.9" x2="1035.3" y2="1398.7"/>
<line x1="1835.6" y1="1356.4" x2="1827.4" y2="1397.2"/>
<line x1="111.2" y1="1397.2" x2="103" y2="1438"/>
<line x1="1035.3" y1="1398.7" x2="1043.6" y2="1439.5"/>
<line x1="1827.4" y1="1397.2" x2="1819.1" y2="1438"/>
<line x1="1043.6" y1="1439.5" x2="1051.8" y2="1480.4"/>
<line x1="1819.1" y1="1438" x2="1810.9" y2="1478.9"/>
<line x1="235" y1="997.1" x2="226.7" y2="1037.9"/>
<line x1="911.6" y1="998.6" x2="919.8" y2="1039.4"/>
<line x1="226.7" y1="1037.9" x2="218.5" y2="1078.8"/>
<line x1="919.8" y1="1039.4" x2="928.1" y2="1080.3"/>
<line x1="218.5" y1="1078.8" x2="210.2" y2="1119.6"/>
<line x1="928.1" y1="1080.3" x2="936.3" y2="1121.1"/>
<line x1="210.2" y1="1119.6" x2="202" y2="1160.4"/>
<line x1="936.3" y1="1121.1" x2="944.6" y2="1161.9"/>
<line x1="202" y1="1160.4" x2="193.7" y2="1201.2"/>
<line x1="944.6" y1="1161.9" x2="952.8" y2="1202.7"/>
<line x1="193.7" y1="1201.2" x2="185.5" y2="1242.1"/>
<line x1="952.8" y1="1202.7" x2="961.1" y2="1243.6"/>
<line x1="185.5" y1="1242.1" x2="177.2" y2="1282.9"/>
<line x1="961.1" y1="1243.6" x2="969.3" y2="1284.4"/>
<line x1="177.2" y1="1282.9" x2="169" y2="1323.7"/>
<line x1="969.3" y1="1284.4" x2="977.6" y2="1325.2"/>
<line x1="1893.4" y1="1282.9" x2="1885.2" y2="1323.7"/>
<line x1="169" y1="1323.7" x2="160.7" y2="1364.5"/>
<line x1="977.6" y1="1325.2" x2="985.8" y2="1366"/>
<line x1="1885.2" y1="1323.7" x2="1876.9" y2="1364.5"/>
<line x1="160.7" y1="1364.5" x2="152.5" y2="1405.4"/>
<line x1="985.8" y1="1366" x2="994.1" y2="1406.9"/>
<line x1="1876.9" y1="1364.5" x2="1868.7" y2="1405.4"/>
<line x1="152.5" y1="1405.4" x2="144.2" y2="1446.2"/>
<line x1="994.1" y1="1406.9" x2="1002.3" y2="1447.7"/>
<line x1="1868.7" y1="1405.4" x2="1860.4" y2="1446.2"/>
<line x1="144.2" y1="1446.2" x2="136" y2="1487"/>
<line x1="1002.3" y1="1447.7" x2="1010.6" y2="1488.5"/>
<line x1="1860.4" y1="1446.2" x2="1852.1" y2="1487"/>
<line x1="276.2" y1="1005.3" x2="268" y2="1046.1"/>
<line x1="870.3" y1="1006.8" x2="878.6" y2="1047.6"/>
<line x1="268" y1="1046.1" x2="259.7" y2="1086.9"/>
<line x1="878.6" y1="1047.6" x2="886.8" y2="1088.4"/>
<line x1="259.7" y1="1086.9" x2="251.5" y2="1127.7"/>
<line x1="886.8" y1="1088.4" x2="895.1" y2="1129.2"/>
<line x1="251.5" y1="1127.7" x2="243.2" y2="1168.6"/>
<line x1="895.1" y1="1129.2" x2="903.3" y2="1170.1"/>
<line x1="243.2" y1="1168.6" x2="235" y2="1209.4"/>
<line x1="903.3" y1="1170.1" x2="911.6" y2="1210.9"/>
<line x1="235" y1="1209.4" x2="226.7" y2="1250.2"/>
<line x1="911.6" y1="1210.9" x2="919.8" y2="1251.7"/>
<line x1="226.7" y1="1250.2" x2="218.5" y2="1291.1"/>
<line x1="919.8" y1="1251.7" x2="928.1" y2="1292.6"/>
<line x1="218.5" y1="1291.1" x2="210.2" y2="1331.9"/>
<line x1="928.1" y1="1292.6" x2="936.3" y2="1333.4"/>
<line x1="210.2" y1="1331.9" x2="202" y2="1372.7"/>
<line x1="936.3" y1="1333.4" x2="944.6" y2="1374.2"/>
<line x1="202" y1="1372.7" x2="193.7" y2="1413.5"/>
<line x1="944.6" y1="1374.2" x2="952.8" y2="1415"/>
<line x1="193.7" y1="1413.5" x2="185.5" y2="1454.4"/>
<line x1="952.8" y1="1415" x2="961.1" y2="1455.9"/>
<line x1="317.5" y1="1013.4" x2="309.2" y2="1054.3"/>
<line x1="829" y1="1014.9" x2="837.3" y2="1055.8"/>
<line x1="309.2" y1="1054.3" x2="301" y2="1095.1"/>
<line x1="837.3" y1="1055.8" x2="845.5" y2="1096.6"/>
<line x1="301" y1="1095.1" x2="292.7" y2="1135.9"/>
<line x1="845.5" y1="1096.6" x2="853.8" y2="1137.4"/>
<line x1="292.7" y1="1135.9" x2="284.5" y2="1176.7"/>
<line x1="853.8" y1="1137.4" x2="862" y2="1178.2"/>
<line x1="284.5" y1="1176.7" x2="276.2" y2="1217.6"/>
<line x1="862" y1="1178.2" x2="870.3" y2="1219.1"/>
<line x1="276.2" y1="1217.6" x2="268" y2="1258.4"/>
<line x1="870.3" y1="1219.1" x2="878.6" y2="1259.9"/>
<line x1="268" y1="1258.4" x2="259.7" y2="1299.2"/>
<line x1="878.6" y1="1259.9" x2="886.8" y2="1300.7"/>
<line x1="259.7" y1="1299.2" x2="251.5" y2="1340"/>
<line x1="886.8" y1="1300.7" x2="895.1" y2="1341.5"/>
<line x1="251.5" y1="1340" x2="243.2" y2="1380.9"/>
<line x1="895.1" y1="1341.5" x2="903.3" y2="1382.4"/>
<line x1="243.2" y1="1380.9" x2="235" y2="1421.7"/>
<line x1="903.3" y1="1382.4" x2="911.6" y2="1423.2"/>
<line x1="235" y1="1421.7" x2="226.7" y2="1462.5"/>
<line x1="911.6" y1="1423.2" x2="919.8" y2="1464"/>
<line x1="779.5" y1="982.3" x2="787.8" y2="1023.1"/>
<line x1="358.7" y1="1021.6" x2="350.5" y2="1062.4"/>
<line x1="787.8" y1="1023.1" x2="796" y2="1063.9"/>
<line x1="350.5" y1="1062.4" x2="342.2" y2="1103.2"/>
<line x1="796" y1="1063.9" x2="804.3" y2="1104.7"/>
<line x1="342.2" y1="1103.2" x2="334" y2="1144.1"/>
<line x1="804.3" y1="1104.7" x2="812.5" y2="1145.6"/>
<line x1="334" y1="1144.1" x2="325.7" y2="1184.9"/>
<line x1="812.5" y1="1145.6" x2="820.8" y2="1186.4"/>
<line x1="325.7" y1="1184.9" x2="317.5" y2="1225.7"/>
<line x1="820.8" y1="1186.4" x2="829" y2="1227.2"/>
<line x1="317.5" y1="1225.7" x2="309.2" y2="1266.6"/>
<line x1="829" y1="1227.2" x2="837.3" y2="1268.1"/>
<line x1="309.2" y1="1266.6" x2="301" y2="1307.4"/>
<line x1="837.3" y1="1268.1" x2="845.5" y2="1308.9"/>
<line x1="301" y1="1307.4" x2="292.7" y2="1348.2"/>
<line x1="845.5" y1="1308.9" x2="853.8" y2="1349.7"/>
<line x1="292.7" y1="1348.2" x2="284.5" y2="1389"/>
<line x1="853.8" y1="1349.7" x2="862" y2="1390.5"/>
<line x1="284.5" y1="1389" x2="276.2" y2="1429.9"/>
<line x1="862" y1="1390.5" x2="870.3" y2="1431.4"/>
<line x1="276.2" y1="1429.9" x2="268" y2="1470.7"/>
<line x1="870.3" y1="1431.4" x2="878.6" y2="1472.2"/>
<line x1="408.3" y1="988.9" x2="400" y2="1029.8"/>
<line x1="738.3" y1="990.4" x2="746.5" y2="1031.3"/>
<line x1="400" y1="1029.8" x2="391.8" y2="1070.6"/>
<line x1="746.5" y1="1031.3" x2="754.8" y2="1072.1"/>
<line x1="391.8" y1="1070.6" x2="383.5" y2="1111.4"/>
<line x1="754.8" y1="1072.1" x2="763" y2="1112.9"/>
<line x1="383.5" y1="1111.4" x2="375.3" y2="1152.2"/>
<line x1="763" y1="1112.9" x2="771.3" y2="1153.7"/>
<line x1="375.3" y1="1152.2" x2="367" y2="1193.1"/>
<line x1="771.3" y1="1153.7" x2="779.5" y2="1194.6"/>
<line x1="367" y1="1193.1" x2="358.7" y2="1233.9"/>
<line x1="779.5" y1="1194.6" x2="787.8" y2="1235.4"/>
<line x1="358.7" y1="1233.9" x2="350.5" y2="1274.7"/>
<line x1="787.8" y1="1235.4" x2="796" y2="1276.2"/>
<line x1="350.5" y1="1274.7" x2="342.2" y2="1315.6"/>
<line x1="796" y1="1276.2" x2="804.3" y2="1317.1"/>
<line x1="342.2" y1="1315.6" x2="334" y2="1356.4"/>
<line x1="804.3" y1="1317.1" x2="812.5" y2="1357.9"/>
<line x1="334" y1="1356.4" x2="325.7" y2="1397.2"/>
<line x1="812.5" y1="1357.9" x2="820.8" y2="1398.7"/>
<line x1="325.7" y1="1397.2" x2="317.5" y2="1438"/>
<line x1="820.8" y1="1398.7" x2="829" y2="1439.5"/>
<line x1="317.5" y1="1438" x2="309.2" y2="1478.9"/>
<line x1="829" y1="1439.5" x2="837.3" y2="1480.4"/>
<line x1="449.5" y1="997.1" x2="441.3" y2="1037.9"/>
<line x1="697" y1="998.6" x2="705.3" y2="1039.4"/>
<line x1="441.3" y1="1037.9" x2="433" y2="1078.8"/>
<line x1="705.3" y1="1039.4" x2="713.5" y2="1080.3"/>
<line x1="433" y1="1078.8" x2="424.8" y2="1119.6"/>
<line x1="713.5" y1="1080.3" x2="721.8" y2="1121.1"/>
<line x1="424.8" y1="1119.6" x2="416.5" y2="1160.4"/>
<line x1="721.8" y1="1121.1" x2="730" y2="1161.9"/>
<line x1="416.5" y1="1160.4" x2="408.3" y2="1201.2"/>
<line x1="730" y1="1161.9" x2="738.3" y2="1202.7"/>
<line x1="408.3" y1="1201.2" x2="400" y2="1242.1"/>
<line x1="738.3" y1="1202.7" x2="746.5" y2="1243.6"/>
<line x1="400" y1="1242.1" x2="391.8" y2="1282.9"/>
<line x1="746.5" y1="1243.6" x2="754.8" y2="1284.4"/>
<line x1="391.8" y1="1282.9" x2="383.5" y2="1323.7"/>
<line x1="754.8" y1="1284.4" x2="763" y2="1325.2"/>
<line x1="383.5" y1="1323.7" x2="375.3" y2="1364.5"/>
<line x1="763" y1="1325.2" x2="771.3" y2="1366"/>
<line x1="375.3" y1="1364.5" x2="367" y2="1405.4"/>
<line x1="771.3" y1="1366" x2="779.5" y2="1406.9"/>
<line x1="367" y1="1405.4" x2="358.7" y2="1446.2"/>
<line x1="779.5" y1="1406.9" x2="787.8" y2="1447.7"/>
<line x1="358.7" y1="1446.2" x2="350.5" y2="1487"/>
<line x1="787.8" y1="1447.7" x2="796" y2="1488.5"/>
<line x1="490.8" y1="1005.3" x2="482.5" y2="1046.1"/>
<line x1="655.8" y1="1006.8" x2="664" y2="1047.6"/>
<line x1="482.5" y1="1046.1" x2="474.3" y2="1086.9"/>
<line x1="664" y1="1047.6" x2="672.3" y2="1088.4"/>
<line x1="474.3" y1="1086.9" x2="466" y2="1127.7"/>
<line x1="672.3" y1="1088.4" x2="680.5" y2="1129.2"/>
<line x1="466" y1="1127.7" x2="457.8" y2="1168.6"/>
<line x1="680.5" y1="1129.2" x2="688.8" y2="1170.1"/>
<line x1="457.8" y1="1168.6" x2="449.5" y2="1209.4"/>
<line x1="688.8" y1="1170.1" x2="697" y2="1210.9"/>
<line x1="449.5" y1="1209.4" x2="441.3" y2="1250.2"/>
<line x1="697" y1="1210.9" x2="705.3" y2="1251.7"/>
<line x1="441.3" y1="1250.2" x2="433" y2="1291.1"/>
<line x1="705.3" y1="1251.7" x2="713.5" y2="1292.6"/>
<line x1="433" y1="1291.1" x2="424.8" y2="1331.9"/>
<line x1="713.5" y1="1292.6" x2="721.8" y2="1333.4"/>
<line x1="424.8" y1="1331.9" x2="416.5" y2="1372.7"/>
<line x1="721.8" y1="1333.4" x2="730" y2="1374.2"/>
<line x1="416.5" y1="1372.7" x2="408.3" y2="1413.5"/>
<line x1="730" y1="1374.2" x2="738.3" y2="1415"/>
<line x1="408.3" y1="1413.5" x2="400" y2="1454.4"/>
<line x1="738.3" y1="1415" x2="746.5" y2="1455.9"/>
<line x1="523.8" y1="1054.3" x2="515.5" y2="1095.1"/>
<line x1="622.8" y1="1055.8" x2="631" y2="1096.6"/>
<line x1="515.5" y1="1095.1" x2="507.3" y2="1135.9"/>
<line x1="631" y1="1096.6" x2="639.3" y2="1137.4"/>
<line x1="507.3" y1="1135.9" x2="499" y2="1176.7"/>
<line x1="639.3" y1="1137.4" x2="647.5" y2="1178.2"/>
<line x1="499" y1="1176.7" x2="490.8" y2="1217.6"/>
<line x1="647.5" y1="1178.2" x2="655.8" y2="1219.1"/>
<line x1="490.8" y1="1217.6" x2="482.5" y2="1258.4"/>
<line x1="655.8" y1="1219.1" x2="664" y2="1259.9"/>
<line x1="482.5" y1="1258.4" x2="474.3" y2="1299.2"/>
<line x1="664" y1="1259.9" x2="672.3" y2="1300.7"/>
<line x1="474.3" y1="1299.2" x2="466" y2="1340"/>
<line x1="672.3" y1="1300.7" x2="680.5" y2="1341.5"/>
<line x1="466" y1="1340" x2="457.8" y2="1380.9"/>
<line x1="680.5" y1="1341.5" x2="688.8" y2="1382.4"/>
<line x1="457.8" y1="1380.9" x2="449.5" y2="1421.7"/>
<line x1="688.8" y1="1382.4" x2="697" y2="1423.2"/>
<line x1="449.5" y1="1421.7" x2="441.3" y2="1462.5"/>
<line x1="697" y1="1423.2" x2="705.3" y2="1464"/>
<line x1="523.8" y1="1266.6" x2="515.5" y2="1307.4"/>
<line x1="622.8" y1="1268.1" x2="631" y2="1308.9"/>
<line x1="515.5" y1="1307.4" x2="507.3" y2="1348.2"/>
<line x1="631" y1="1308.9" x2="639.3" y2="1349.7"/>
<line x1="507.3" y1="1348.2" x2="499" y2="1389"/>
<line x1="639.3" y1="1349.7" x2="647.5" y2="1390.5"/>
<line x1="499" y1="1389" x2="490.8" y2="1429.9"/>
<line x1="647.5" y1="1390.5" x2="655.8" y2="1431.4"/>
<line x1="490.8" y1="1429.9" x2="482.5" y2="1470.7"/>
<line x1="655.8" y1="1431.4" x2="664" y2="1472.2"/>
</g>
<g fill="#fff" fill-opacity="0.13">
<ellipse rx="20" ry="22" transform="translate(1381.9 990.4) rotate(-11.3)"/>
<ellipse rx="20" ry="22" transform="translate(1480.9 988.9) rotate(11.3)"/>
<ellipse rx="20" ry="22" transform="translate(1340.6 998.6) rotate(-11.3)"/>
<ellipse rx="20" ry="22" transform="translate(1522.1 997.1) rotate(11.3)"/>
<ellipse rx="20" ry="22" transform="translate(1348.8 1039.4) rotate(-11.3)"/>
<ellipse rx="20" ry="22" transform="translate(1513.9 1037.9) rotate(11.3)"/>
<ellipse rx="20" ry="22" transform="translate(1357.1 1080.3) rotate(-11.3)"/>
<ellipse rx="20" ry="22" transform="translate(1505.6 1078.8) rotate(11.3)"/>
<ellipse rx="20" ry="22" transform="translate(1365.4 1121.1) rotate(-11.3)"/>
<ellipse rx="20" ry="22" transform="translate(1497.4 1119.6) rotate(11.3)"/>
<ellipse rx="20" ry="22" transform="translate(1373.6 1161.9) rotate(-11.3)"/>
<ellipse rx="20" ry="22" transform="translate(1489.1 1160.4) rotate(11.3)"/>
<ellipse rx="20" ry="22" transform="translate(1381.9 1202.7) rotate(-11.3)"/>
<ellipse rx="20" ry="22" transform="translate(1480.9 1201.2) rotate(11.3)"/>
<ellipse rx="20" ry="22" transform="translate(1299.3 1006.8) rotate(-11.3)"/>
<ellipse rx="20" ry="22" transform="translate(1563.4 1005.3) rotate(11.3)"/>
<ellipse rx="20" ry="22" transform="translate(1307.6 1047.6) rotate(-11.3)"/>
<ellipse rx="20" ry="22" transform="translate(1555.1 1046.1) rotate(11.3)"/>
<ellipse rx="20" ry="22" transform="translate(1315.8 1088.4) rotate(-11.3)"/>
<ellipse rx="20" ry="22" transform="translate(1546.9 1086.9) rotate(11.3)"/>
<ellipse rx="20" ry="22" transform="translate(1324.1 1129.2) rotate(-11.3)"/>
<ellipse rx="20" ry="22" transform="translate(1538.6 1127.7) rotate(11.3)"/>
<ellipse rx="20" ry="22" transform="translate(1332.3 1170.1) rotate(-11.3)"/>
<ellipse rx="20" ry="22" transform="translate(1530.4 1168.6) rotate(11.3)"/>
<ellipse rx="20" ry="22" transform="translate(1340.6 1210.9) rotate(-11.3)"/>
<ellipse rx="20" ry="22" transform="translate(1522.1 1209.4) rotate(11.3)"/>
<ellipse rx="20" ry="22" transform="translate(1348.8 1251.7) rotate(-11.3)"/>
<ellipse rx="20" ry="22" transform="translate(1513.9 1250.2) rotate(11.3)"/>
<ellipse rx="20" ry="22" transform="translate(1357.1 1292.6) rotate(-11.3)"/>
<ellipse rx="20" ry="22" transform="translate(1505.6 1291.1) rotate(11.3)"/>
<ellipse rx="20" ry="22" transform="translate(1365.4 1333.4) rotate(-11.3)"/>
<ellipse rx="20" ry="22" transform="translate(1497.4 1331.9) rotate(11.3)"/>
<ellipse rx="20" ry="22" transform="translate(1373.6 1374.2) rotate(-11.3)"/>
<ellipse rx="20" ry="22" transform="translate(1489.1 1372.7) rotate(11.3)"/>
<ellipse rx="20" ry="22" transform="translate(1381.9 1415) rotate(-11.3)"/>
<ellipse rx="20" ry="22" transform="translate(1480.9 1413.5) rotate(11.3)"/>
<ellipse rx="20" ry="22" transform="translate(1258.1 1014.9) rotate(-11.3)"/>
<ellipse rx="20" ry="22" transform="translate(1604.6 1013.4) rotate(11.3)"/>
<ellipse rx="20" ry="22" transform="translate(1266.3 1055.8) rotate(-11.3)"/>
<ellipse rx="20" ry="22" transform="translate(1596.4 1054.3) rotate(11.3)"/>
<ellipse rx="20" ry="22" transform="translate(1274.6 1096.6) rotate(-11.3)"/>
<ellipse rx="20" ry="22" transform="translate(1588.1 1095.1) rotate(11.3)"/>
<ellipse rx="20" ry="22" transform="translate(1282.8 1137.4) rotate(-11.3)"/>
<ellipse rx="20" ry="22" transform="translate(1579.9 1135.9) rotate(11.3)"/>
<ellipse rx="20" ry="22" transform="translate(1291.1 1178.2) rotate(-11.3)"/>
<ellipse rx="20" ry="22" transform="translate(1571.6 1176.7) rotate(11.3)"/>
<ellipse rx="20" ry="22" transform="translate(1299.3 1219.1) rotate(-11.3)"/>
<ellipse rx="20" ry="22" transform="translate(1563.4 1217.6) rotate(11.3)"/>
<ellipse rx="20" ry="22" transform="translate(1307.6 1259.9) rotate(-11.3)"/>
<ellipse rx="20" ry="22" transform="translate(1555.1 1258.4) rotate(11.3)"/>
<ellipse rx="20" ry="22" transform="translate(1315.8 1300.7) rotate(-11.3)"/>
<ellipse rx="20" ry="22" transform="translate(1546.9 1299.2) rotate(11.3)"/>
<ellipse rx="20" ry="22" transform="translate(1324.1 1341.5) rotate(-11.3)"/>
<ellipse rx="20" ry="22" transform="translate(1538.6 1340) rotate(11.3)"/>
<ellipse rx="20" ry="22" transform="translate(1332.3 1382.4) rotate(-11.3)"/>
<ellipse rx="20" ry="22" transform="translate(1530.4 1380.9) rotate(11.3)"/>
<ellipse rx="20" ry="22" transform="translate(1340.6 1423.2) rotate(-11.3)"/>
<ellipse rx="20" ry="22" transform="translate(1522.1 1421.7) rotate(11.3)"/>
<ellipse rx="20" ry="22" transform="translate(1348.8 1464) rotate(-11.3)"/>
<ellipse rx="20" ry="22" transform="translate(1513.9 1462.5) rotate(11.3)"/>
<ellipse rx="20" ry="22" transform="translate(1208.6 982.3) rotate(-11.3)"/>
<ellipse rx="20" ry="22" transform="translate(1216.8 1023.1) rotate(-11.3)"/>
<ellipse rx="20" ry="22" transform="translate(1645.9 1021.6) rotate(11.3)"/>
<ellipse rx="20" ry="22" transform="translate(1225.1 1063.9) rotate(-11.3)"/>
<ellipse rx="20" ry="22" transform="translate(1637.6 1062.4) rotate(11.3)"/>
<ellipse rx="20" ry="22" transform="translate(1233.3 1104.7) rotate(-11.3)"/>
<ellipse rx="20" ry="22" transform="translate(1629.4 1103.2) rotate(11.3)"/>
<ellipse rx="20" ry="22" transform="translate(1241.6 1145.6) rotate(-11.3)"/>
<ellipse rx="20" ry="22" transform="translate(1621.1 1144.1) rotate(11.3)"/>
<ellipse rx="20" ry="22" transform="translate(1249.8 1186.4) rotate(-11.3)"/>
<ellipse rx="20" ry="22" transform="translate(1612.9 1184.9) rotate(11.3)"/>
<ellipse rx="20" ry="22" transform="translate(1258.1 1227.2) rotate(-11.3)"/>
<ellipse rx="20" ry="22" transform="translate(1604.6 1225.7) rotate(11.3)"/>
<ellipse rx="20" ry="22" transform="translate(1266.3 1268.1) rotate(-11.3)"/>
<ellipse rx="20" ry="22" transform="translate(1596.4 1266.6) rotate(11.3)"/>
<ellipse rx="20" ry="22" transform="translate(1274.6 1308.9) rotate(-11.3)"/>
<ellipse rx="20" ry="22" transform="translate(1588.1 1307.4) rotate(11.3)"/>
<ellipse rx="20" ry="22" transform="translate(1282.8 1349.7) rotate(-11.3)"/>
<ellipse rx="20" ry="22" transform="translate(1579.9 1348.2) rotate(11.3)"/>
<ellipse rx="20" ry="22" transform="translate(1291.1 1390.5) rotate(-11.3)"/>
<ellipse rx="20" ry="22" transform="translate(1571.6 1389) rotate(11.3)"/>
<ellipse rx="20" ry="22" transform="translate(1299.3 1431.4) rotate(-11.3)"/>
<ellipse rx="20" ry="22" transform="translate(1563.4 1429.9) rotate(11.3)"/>
<ellipse rx="20" ry="22" transform="translate(1307.6 1472.2) rotate(-11.3)"/>
<ellipse rx="20" ry="22" transform="translate(1555.1 1470.7) rotate(11.3)"/>
<ellipse rx="20" ry="22" transform="translate(1167.3 990.4) rotate(-11.3)"/>
<ellipse rx="20" ry="22" transform="translate(1695.4 988.9) rotate(11.3)"/>
<ellipse rx="20" ry="22" transform="translate(1175.6 1031.3) rotate(-11.3)"/>
<ellipse rx="20" ry="22" transform="translate(1687.1 1029.8) rotate(11.3)"/>
<ellipse rx="20" ry="22" transform="translate(1183.8 1072.1) rotate(-11.3)"/>
<ellipse rx="20" ry="22" transform="translate(1678.9 1070.6) rotate(11.3)"/>
<ellipse rx="20" ry="22" transform="translate(1192.1 1112.9) rotate(-11.3)"/>
<ellipse rx="20" ry="22" transform="translate(1670.6 1111.4) rotate(11.3)"/>
<ellipse rx="20" ry="22" transform="translate(1200.3 1153.7) rotate(-11.3)"/>
<ellipse rx="20" ry="22" transform="translate(1662.4 1152.2) rotate(11.3)"/>
<ellipse rx="20" ry="22" transform="translate(1208.6 1194.6) rotate(-11.3)"/>
<ellipse rx="20" ry="22" transform="translate(1654.1 1193.1) rotate(11.3)"/>
<ellipse rx="20" ry="22" transform="translate(1216.8 1235.4) rotate(-11.3)"/>
<ellipse rx="20" ry="22" transform="translate(1645.9 1233.9) rotate(11.3)"/>
<ellipse rx="20" ry="22" transform="translate(1225.1 1276.2) rotate(-11.3)"/>
<ellipse rx="20" ry="22" transform="translate(1637.6 1274.7) rotate(11.3)"/>
<ellipse rx="20" ry="22" transform="translate(1233.3 1317.1) rotate(-11.3)"/>
<ellipse rx="20" ry="22" transform="translate(1629.4 1315.6) rotate(11.3)"/>
<ellipse rx="20" ry="22" transform="translate(1241.6 1357.9) rotate(-11.3)"/>
<ellipse rx="20" ry="22" transform="translate(1621.1 1356.4) rotate(11.3)"/>
<ellipse rx="20" ry="22" transform="translate(1249.8 1398.7) rotate(-11.3)"/>
<ellipse rx="20" ry="22" transform="translate(1612.9 1397.2) rotate(11.3)"/>
<ellipse rx="20" ry="22" transform="translate(1258.1 1439.5) rotate(-11.3)"/>
<ellipse rx="20" ry="22" transform="translate(1604.6 1438) rotate(11.3)"/>
<ellipse rx="20" ry="22" transform="translate(1266.3 1480.4) rotate(-11.3)"/>
<ellipse rx="20" ry="22" transform="translate(1596.4 1478.9) rotate(11.3)"/>
<ellipse rx="20" ry="22" transform="translate(1126.1 998.6) rotate(-11.3)"/>
<ellipse rx="20" ry="22" transform="translate(1736.6 997.1) rotate(11.3)"/>
<ellipse rx="20" ry="22" transform="translate(1134.3 1039.4) rotate(-11.3)"/>
<ellipse rx="20" ry="22" transform="translate(1728.4 1037.9) rotate(11.3)"/>
<ellipse rx="20" ry="22" transform="translate(1142.6 1080.3) rotate(-11.3)"/>
<ellipse rx="20" ry="22" transform="translate(1720.1 1078.8) rotate(11.3)"/>
<ellipse rx="20" ry="22" transform="translate(1150.8 1121.1) rotate(-11.3)"/>
<ellipse rx="20" ry="22" transform="translate(1711.9 1119.6) rotate(11.3)"/>
<ellipse rx="20" ry="22" transform="translate(1159.1 1161.9) rotate(-11.3)"/>
<ellipse rx="20" ry="22" transform="translate(1703.6 1160.4) rotate(11.3)"/>
<ellipse rx="20" ry="22" transform="translate(1167.3 1202.7) rotate(-11.3)"/>
<ellipse rx="20" ry="22" transform="translate(1695.4 1201.2) rotate(11.3)"/>
<ellipse rx="20" ry="22" transform="translate(1175.6 1243.6) rotate(-11.3)"/>
<ellipse rx="20" ry="22" transform="translate(1687.1 1242.1) rotate(11.3)"/>
<ellipse rx="20" ry="22" transform="translate(1183.8 1284.4) rotate(-11.3)"/>
<ellipse rx="20" ry="22" transform="translate(1678.9 1282.9) rotate(11.3)"/>
<ellipse rx="20" ry="22" transform="translate(1192.1 1325.2) rotate(-11.3)"/>
<ellipse rx="20" ry="22" transform="translate(1670.6 1323.7) rotate(11.3)"/>
<ellipse rx="20" ry="22" transform="translate(1200.3 1366) rotate(-11.3)"/>
<ellipse rx="20" ry="22" transform="translate(1662.4 1364.5) rotate(11.3)"/>
<ellipse rx="20" ry="22" transform="translate(1208.6 1406.9) rotate(-11.3)"/>
<ellipse rx="20" ry="22" transform="translate(1654.1 1405.4) rotate(11.3)"/>
<ellipse rx="20" ry="22" transform="translate(1216.8 1447.7) rotate(-11.3)"/>
<ellipse rx="20" ry="22" transform="translate(1645.9 1446.2) rotate(11.3)"/>
<ellipse rx="20" ry="22" transform="translate(1225.1 1488.5) rotate(-11.3)"/>
<ellipse rx="20" ry="22" transform="translate(1637.6 1487) rotate(11.3)"/>
<ellipse rx="20" ry="22" transform="translate(1084.8 1006.8) rotate(-11.3)"/>
<ellipse rx="20" ry="22" transform="translate(1777.9 1005.3) rotate(11.3)"/>
<ellipse rx="20" ry="22" transform="translate(1093.1 1047.6) rotate(-11.3)"/>
<ellipse rx="20" ry="22" transform="translate(1769.6 1046.1) rotate(11.3)"/>
<ellipse rx="20" ry="22" transform="translate(1101.3 1088.4) rotate(-11.3)"/>
<ellipse rx="20" ry="22" transform="translate(1761.4 1086.9) rotate(11.3)"/>
<ellipse rx="20" ry="22" transform="translate(1109.6 1129.2) rotate(-11.3)"/>
<ellipse rx="20" ry="22" transform="translate(1753.1 1127.7) rotate(11.3)"/>
<ellipse rx="20" ry="22" transform="translate(1117.8 1170.1) rotate(-11.3)"/>
<ellipse rx="20" ry="22" transform="translate(1744.9 1168.6) rotate(11.3)"/>
<ellipse rx="20" ry="22" transform="translate(1126.1 1210.9) rotate(-11.3)"/>
<ellipse rx="20" ry="22" transform="translate(1736.6 1209.4) rotate(11.3)"/>
<ellipse rx="20" ry="22" transform="translate(1134.3 1251.7) rotate(-11.3)"/>
<ellipse rx="20" ry="22" transform="translate(1728.4 1250.2) rotate(11.3)"/>
<ellipse rx="20" ry="22" transform="translate(1142.6 1292.6) rotate(-11.3)"/>
<ellipse rx="20" ry="22" transform="translate(1720.1 1291.1) rotate(11.3)"/>
<ellipse rx="20" ry="22" transform="translate(1150.8 1333.4) rotate(-11.3)"/>
<ellipse rx="20" ry="22" transform="translate(1711.9 1331.9) rotate(11.3)"/>
<ellipse rx="20" ry="22" transform="translate(1159.1 1374.2) rotate(-11.3)"/>
<ellipse rx="20" ry="22" transform="translate(1703.6 1372.7) rotate(11.3)"/>
<ellipse rx="20" ry="22" transform="translate(1167.3 1415) rotate(-11.3)"/>
<ellipse rx="20" ry="22" transform="translate(1695.4 1413.5) rotate(11.3)"/>
<ellipse rx="20" ry="22" transform="translate(1175.6 1455.9) rotate(-11.3)"/>
<ellipse rx="20" ry="22" transform="translate(1687.1 1454.4) rotate(11.3)"/>
<ellipse rx="20" ry="22" transform="translate(103 1013.4) rotate(11.3)"/>
<ellipse rx="20" ry="22" transform="translate(1043.6 1014.9) rotate(-11.3)"/>
<ellipse rx="20" ry="22" transform="translate(1819.1 1013.4) rotate(11.3)"/>
<ellipse rx="20" ry="22" transform="translate(1051.8 1055.8) rotate(-11.3)"/>
<ellipse rx="20" ry="22" transform="translate(1810.9 1054.3) rotate(11.3)"/>
<ellipse rx="20" ry="22" transform="translate(1060.1 1096.6) rotate(-11.3)"/>
<ellipse rx="20" ry="22" transform="translate(1802.6 1095.1) rotate(11.3)"/>
<ellipse rx="20" ry="22" transform="translate(1068.3 1137.4) rotate(-11.3)"/>
<ellipse rx="20" ry="22" transform="translate(1794.4 1135.9) rotate(11.3)"/>
<ellipse rx="20" ry="22" transform="translate(1076.6 1178.2) rotate(-11.3)"/>
<ellipse rx="20" ry="22" transform="translate(1786.1 1176.7) rotate(11.3)"/>
<ellipse rx="20" ry="22" transform="translate(1084.8 1219.1) rotate(-11.3)"/>
<ellipse rx="20" ry="22" transform="translate(1777.9 1217.6) rotate(11.3)"/>
<ellipse rx="20" ry="22" transform="translate(1093.1 1259.9) rotate(-11.3)"/>
<ellipse rx="20" ry="22" transform="translate(1769.6 1258.4) rotate(11.3)"/>
<ellipse rx="20" ry="22" transform="translate(1101.3 1300.7) rotate(-11.3)"/>
<ellipse rx="20" ry="22" transform="translate(1761.4 1299.2) rotate(11.3)"/>
<ellipse rx="20" ry="22" transform="translate(1109.6 1341.5) rotate(-11.3)"/>
<ellipse rx="20" ry="22" transform="translate(1753.1 1340) rotate(11.3)"/>
<ellipse rx="20" ry="22" transform="translate(1117.8 1382.4) rotate(-11.3)"/>
<ellipse rx="20" ry="22" transform="translate(1744.9 1380.9) rotate(11.3)"/>
<ellipse rx="20" ry="22" transform="translate(1126.1 1423.2) rotate(-11.3)"/>
<ellipse rx="20" ry="22" transform="translate(1736.6 1421.7) rotate(11.3)"/>
<ellipse rx="20" ry="22" transform="translate(1134.3 1464) rotate(-11.3)"/>
<ellipse rx="20" ry="22" transform="translate(1728.4 1462.5) rotate(11.3)"/>
<ellipse rx="20" ry="22" transform="translate(994.1 982.3) rotate(-11.3)"/>
<ellipse rx="20" ry="22" transform="translate(144.2 1021.6) rotate(11.3)"/>
<ellipse rx="20" ry="22" transform="translate(1002.3 1023.1) rotate(-11.3)"/>
<ellipse rx="20" ry="22" transform="translate(1860.4 1021.6) rotate(11.3)"/>
<ellipse rx="20" ry="22" transform="translate(136 1062.4) rotate(11.3)"/>
<ellipse rx="20" ry="22" transform="translate(1010.6 1063.9) rotate(-11.3)"/>
<ellipse rx="20" ry="22" transform="translate(1852.1 1062.4) rotate(11.3)"/>
<ellipse rx="20" ry="22" transform="translate(127.7 1103.2) rotate(11.3)"/>
<ellipse rx="20" ry="22" transform="translate(1018.8 1104.7) rotate(-11.3)"/>
<ellipse rx="20" ry="22" transform="translate(1843.9 1103.2) rotate(11.3)"/>
<ellipse rx="20" ry="22" transform="translate(119.5 1144.1) rotate(11.3)"/>
<ellipse rx="20" ry="22" transform="translate(1027.1 1145.6) rotate(-11.3)"/>
<ellipse rx="20" ry="22" transform="translate(1835.6 1144.1) rotate(11.3)"/>
<ellipse rx="20" ry="22" transform="translate(111.2 1184.9) rotate(11.3)"/>
<ellipse rx="20" ry="22" transform="translate(1035.3 1186.4) rotate(-11.3)"/>
<ellipse rx="20" ry="22" transform="translate(1827.4 1184.9) rotate(11.3)"/>
<ellipse rx="20" ry="22" transform="translate(103 1225.7) rotate(11.3)"/>
<ellipse rx="20" ry="22" transform="translate(1043.6 1227.2) rotate(-11.3)"/>
<ellipse rx="20" ry="22" transform="translate(1819.1 1225.7) rotate(11.3)"/>
<ellipse rx="20" ry="22" transform="translate(1051.8 1268.1) rotate(-11.3)"/>
<ellipse rx="20" ry="22" transform="translate(1810.9 1266.6) rotate(11.3)"/>
<ellipse rx="20" ry="22" transform="translate(1060.1 1308.9) rotate(-11.3)"/>
<ellipse rx="20" ry="22" transform="translate(1802.6 1307.4) rotate(11.3)"/>
<ellipse rx="20" ry="22" transform="translate(1068.3 1349.7) rotate(-11.3)"/>
<ellipse rx="20" ry="22" transform="translate(1794.4 1348.2) rotate(11.3)"/>
<ellipse rx="20" ry="22" transform="translate(1076.6 1390.5) rotate(-11.3)"/>
<ellipse rx="20" ry="22" transform="translate(1786.1 1389) rotate(11.3)"/>
<ellipse rx="20" ry="22" transform="translate(1084.8 1431.4) rotate(-11.3)"/>
<ellipse rx="20" ry="22" transform="translate(1777.9 1429.9) rotate(11.3)"/>
<ellipse rx="20" ry="22" transform="translate(1093.1 1472.2) rotate(-11.3)"/>
<ellipse rx="20" ry="22" transform="translate(1769.6 1470.7) rotate(11.3)"/>
<ellipse rx="20" ry="22" transform="translate(193.7 988.9) rotate(11.3)"/>
<ellipse rx="20" ry="22" transform="translate(952.8 990.4) rotate(-11.3)"/>
<ellipse rx="20" ry="22" transform="translate(185.5 1029.8) rotate(11.3)"/>
<ellipse rx="20" ry="22" transform="translate(961.1 1031.3) rotate(-11.3)"/>
<ellipse rx="20" ry="22" transform="translate(177.2 1070.6) rotate(11.3)"/>
<ellipse rx="20" ry="22" transform="translate(969.3 1072.1) rotate(-11.3)"/>
<ellipse rx="20" ry="22" transform="translate(1893.4 1070.6) rotate(11.3)"/>
<ellipse rx="20" ry="22" transform="translate(169 1111.4) rotate(11.3)"/>
<ellipse rx="20" ry="22" transform="translate(977.6 1112.9) rotate(-11.3)"/>
<ellipse rx="20" ry="22" transform="translate(1885.2 1111.4) rotate(11.3)"/>
<ellipse rx="20" ry="22" transform="translate(160.7 1152.2) rotate(11.3)"/>
<ellipse rx="20" ry="22" transform="translate(985.8 1153.7) rotate(-11.3)"/>
<ellipse rx="20" ry="22" transform="translate(1876.9 1152.2) rotate(11.3)"/>
<ellipse rx="20" ry="22" transform="translate(152.5 1193.1) rotate(11.3)"/>
<ellipse rx="20" ry="22" transform="translate(994.1 1194.6) rotate(-11.3)"/>
<ellipse rx="20" ry="22" transform="translate(1868.7 1193.1) rotate(11.3)"/>
<ellipse rx="20" ry="22" transform="translate(144.2 1233.9) rotate(11.3)"/>
<ellipse rx="20" ry="22" transform="translate(1002.3 1235.4) rotate(-11.3)"/>
<ellipse rx="20" ry="22" transform="translate(1860.4 1233.9) rotate(11.3)"/>
<ellipse rx="20" ry="22" transform="translate(136 1274.7) rotate(11.3)"/>
<ellipse rx="20" ry="22" transform="translate(1010.6 1276.2) rotate(-11.3)"/>
<ellipse rx="20" ry="22" transform="translate(1852.1 1274.7) rotate(11.3)"/>
<ellipse rx="20" ry="22" transform="translate(127.7 1315.6) rotate(11.3)"/>
<ellipse rx="20" ry="22" transform="translate(1018.8 1317.1) rotate(-11.3)"/>
<ellipse rx="20" ry="22" transform="translate(1843.9 1315.6) rotate(11.3)"/>
<ellipse rx="20" ry="22" transform="translate(119.5 1356.4) rotate(11.3)"/>
<ellipse rx="20" ry="22" transform="translate(1027.1 1357.9) rotate(-11.3)"/>
<ellipse rx="20" ry="22" transform="translate(1835.6 1356.4) rotate(11.3)"/>
<ellipse rx="20" ry="22" transform="translate(111.2 1397.2) rotate(11.3)"/>
<ellipse rx="20" ry="22" transform="translate(1035.3 1398.7) rotate(-11.3)"/>
<ellipse rx="20" ry="22" transform="translate(1827.4 1397.2) rotate(11.3)"/>
<ellipse rx="20" ry="22" transform="translate(103 1438) rotate(11.3)"/>
<ellipse rx="20" ry="22" transform="translate(1043.6 1439.5) rotate(-11.3)"/>
<ellipse rx="20" ry="22" transform="translate(1819.1 1438) rotate(11.3)"/>
<ellipse rx="20" ry="22" transform="translate(1051.8 1480.4) rotate(-11.3)"/>
<ellipse rx="20" ry="22" transform="translate(1810.9 1478.9) rotate(11.3)"/>
<ellipse rx="20" ry="22" transform="translate(235 997.1) rotate(11.3)"/>
<ellipse rx="20" ry="22" transform="translate(911.6 998.6) rotate(-11.3)"/>
<ellipse rx="20" ry="22" transform="translate(226.7 1037.9) rotate(11.3)"/>
<ellipse rx="20" ry="22" transform="translate(919.8 1039.4) rotate(-11.3)"/>
<ellipse rx="20" ry="22" transform="translate(218.5 1078.8) rotate(11.3)"/>
<ellipse rx="20" ry="22" transform="translate(928.1 1080.3) rotate(-11.3)"/>
<ellipse rx="20" ry="22" transform="translate(210.2 1119.6) rotate(11.3)"/>
<ellipse rx="20" ry="22" transform="translate(936.3 1121.1) rotate(-11.3)"/>
<ellipse rx="20" ry="22" transform="translate(202 1160.4) rotate(11.3)"/>
<ellipse rx="20" ry="22" transform="translate(944.6 1161.9) rotate(-11.3)"/>
<ellipse rx="20" ry="22" transform="translate(193.7 1201.2) rotate(11.3)"/>
<ellipse rx="20" ry="22" transform="translate(952.8 1202.7) rotate(-11.3)"/>
<ellipse rx="20" ry="22" transform="translate(185.5 1242.1) rotate(11.3)"/>
<ellipse rx="20" ry="22" transform="translate(961.1 1243.6) rotate(-11.3)"/>
<ellipse rx="20" ry="22" transform="translate(177.2 1282.9) rotate(11.3)"/>
<ellipse rx="20" ry="22" transform="translate(969.3 1284.4) rotate(-11.3)"/>
<ellipse rx="20" ry="22" transform="translate(1893.4 1282.9) rotate(11.3)"/>
<ellipse rx="20" ry="22" transform="translate(169 1323.7) rotate(11.3)"/>
<ellipse rx="20" ry="22" transform="translate(977.6 1325.2) rotate(-11.3)"/>
<ellipse rx="20" ry="22" transform="translate(1885.2 1323.7) rotate(11.3)"/>
<ellipse rx="20" ry="22" transform="translate(160.7 1364.5) rotate(11.3)"/>
<ellipse rx="20" ry="22" transform="translate(985.8 1366) rotate(-11.3)"/>
<ellipse rx="20" ry="22" transform="translate(1876.9 1364.5) rotate(11.3)"/>
<ellipse rx="20" ry="22" transform="translate(152.5 1405.4) rotate(11.3)"/>
<ellipse rx="20" ry="22" transform="translate(994.1 1406.9) rotate(-11.3)"/>
<ellipse rx="20" ry="22" transform="translate(1868.7 1405.4) rotate(11.3)"/>
<ellipse rx="20" ry="22" transform="translate(144.2 1446.2) rotate(11.3)"/>
<ellipse rx="20" ry="22" transform="translate(1002.3 1447.7) rotate(-11.3)"/>
<ellipse rx="20" ry="22" transform="translate(1860.4 1446.2) rotate(11.3)"/>
<ellipse rx="20" ry="22" transform="translate(136 1487) rotate(11.3)"/>
<ellipse rx="20" ry="22" transform="translate(1010.6 1488.5) rotate(-11.3)"/>
<ellipse rx="20" ry="22" transform="translate(1852.1 1487) rotate(11.3)"/>
<ellipse rx="20" ry="22" transform="translate(276.2 1005.3) rotate(11.3)"/>
<ellipse rx="20" ry="22" transform="translate(870.3 1006.8) rotate(-11.3)"/>
<ellipse rx="20" ry="22" transform="translate(268 1046.1) rotate(11.3)"/>
<ellipse rx="20" ry="22" transform="translate(878.6 1047.6) rotate(-11.3)"/>
<ellipse rx="20" ry="22" transform="translate(259.7 1086.9) rotate(11.3)"/>
<ellipse rx="20" ry="22" transform="translate(886.8 1088.4) rotate(-11.3)"/>
<ellipse rx="20" ry="22" transform="translate(251.5 1127.7) rotate(11.3)"/>
<ellipse rx="20" ry="22" transform="translate(895.1 1129.2) rotate(-11.3)"/>
<ellipse rx="20" ry="22" transform="translate(243.2 1168.6) rotate(11.3)"/>
<ellipse rx="20" ry="22" transform="translate(903.3 1170.1) rotate(-11.3)"/>
<ellipse rx="20" ry="22" transform="translate(235 1209.4) rotate(11.3)"/>
<ellipse rx="20" ry="22" transform="translate(911.6 1210.9) rotate(-11.3)"/>
<ellipse rx="20" ry="22" transform="translate(226.7 1250.2) rotate(11.3)"/>
<ellipse rx="20" ry="22" transform="translate(919.8 1251.7) rotate(-11.3)"/>
<ellipse rx="20" ry="22" transform="translate(218.5 1291.1) rotate(11.3)"/>
<ellipse rx="20" ry="22" transform="translate(928.1 1292.6) rotate(-11.3)"/>
<ellipse rx="20" ry="22" transform="translate(210.2 1331.9) rotate(11.3)"/>
<ellipse rx="20" ry="22" transform="translate(936.3 1333.4) rotate(-11.3)"/>
<ellipse rx="20" ry="22" transform="translate(202 1372.7) rotate(11.3)"/>
<ellipse rx="20" ry="22" transform="translate(944.6 1374.2) rotate(-11.3)"/>
<ellipse rx="20" ry="22" transform="translate(193.7 1413.5) rotate(11.3)"/>
<ellipse rx="20" ry="22" transform="translate(952.8 1415) rotate(-11.3)"/>
<ellipse rx="20" ry="22" transform="translate(185.5 1454.4) rotate(11.3)"/>
<ellipse rx="20" ry="22" transform="translate(961.1 1455.9) rotate(-11.3)"/>
<ellipse rx="20" ry="22" transform="translate(317.5 1013.4) rotate(11.3)"/>
<ellipse rx="20" ry="22" transform="translate(829 1014.9) rotate(-11.3)"/>
<ellipse rx="20" ry="22" transform="translate(309.2 1054.3) rotate(11.3)"/>
<ellipse rx="20" ry="22" transform="translate(837.3 1055.8) rotate(-11.3)"/>
<ellipse rx="20" ry="22" transform="translate(301 1095.1) rotate(11.3)"/>
<ellipse rx="20" ry="22" transform="translate(845.5 1096.6) rotate(-11.3)"/>
<ellipse rx="20" ry="22" transform="translate(292.7 1135.9) rotate(11.3)"/>
<ellipse rx="20" ry="22" transform="translate(853.8 1137.4) rotate(-11.3)"/>
<ellipse rx="20" ry="22" transform="translate(284.5 1176.7) rotate(11.3)"/>
<ellipse rx="20" ry="22" transform="translate(862 1178.2) rotate(-11.3)"/>
<ellipse rx="20" ry="22" transform="translate(276.2 1217.6) rotate(11.3)"/>
<ellipse rx="20" ry="22" transform="translate(870.3 1219.1) rotate(-11.3)"/>
<ellipse rx="20" ry="22" transform="translate(268 1258.4) rotate(11.3)"/>
<ellipse rx="20" ry="22" transform="translate(878.6 1259.9) rotate(-11.3)"/>
<ellipse rx="20" ry="22" transform="translate(259.7 1299.2) rotate(11.3)"/>
<ellipse rx="20" ry="22" transform="translate(886.8 1300.7) rotate(-11.3)"/>
<ellipse rx="20" ry="22" transform="translate(251.5 1340) rotate(11.3)"/>
<ellipse rx="20" ry="22" transform="translate(895.1 1341.5) rotate(-11.3)"/>
<ellipse rx="20" ry="22" transform="translate(243.2 1380.9) rotate(11.3)"/>
<ellipse rx="20" ry="22" transform="translate(903.3 1382.4) rotate(-11.3)"/>
<ellipse rx="20" ry="22" transform="translate(235 1421.7) rotate(11.3)"/>
<ellipse rx="20" ry="22" transform="translate(911.6 1423.2) rotate(-11.3)"/>
<ellipse rx="20" ry="22" transform="translate(226.7 1462.5) rotate(11.3)"/>
<ellipse rx="20" ry="22" transform="translate(919.8 1464) rotate(-11.3)"/>
<ellipse rx="20" ry="22" transform="translate(779.5 982.3) rotate(-11.3)"/>
<ellipse rx="20" ry="22" transform="translate(358.7 1021.6) rotate(11.3)"/>
<ellipse rx="20" ry="22" transform="translate(787.8 1023.1) rotate(-11.3)"/>
<ellipse rx="20" ry="22" transform="translate(350.5 1062.4) rotate(11.3)"/>
<ellipse rx="20" ry="22" transform="translate(796 1063.9) rotate(-11.3)"/>
<ellipse rx="20" ry="22" transform="translate(342.2 1103.2) rotate(11.3)"/>
<ellipse rx="20" ry="22" transform="translate(804.3 1104.7) rotate(-11.3)"/>
<ellipse rx="20" ry="22" transform="translate(334 1144.1) rotate(11.3)"/>
<ellipse rx="20" ry="22" transform="translate(812.5 1145.6) rotate(-11.3)"/>
<ellipse rx="20" ry="22" transform="translate(325.7 1184.9) rotate(11.3)"/>
<ellipse rx="20" ry="22" transform="translate(820.8 1186.4) rotate(-11.3)"/>
<ellipse rx="20" ry="22" transform="translate(317.5 1225.7) rotate(11.3)"/>
<ellipse rx="20" ry="22" transform="translate(829 1227.2) rotate(-11.3)"/>
<ellipse rx="20" ry="22" transform="translate(309.2 1266.6) rotate(11.3)"/>
<ellipse rx="20" ry="22" transform="translate(837.3 1268.1) rotate(-11.3)"/>
<ellipse rx="20" ry="22" transform="translate(301 1307.4) rotate(11.3)"/>
<ellipse rx="20" ry="22" transform="translate(845.5 1308.9) rotate(-11.3)"/>
<ellipse rx="20" ry="22" transform="translate(292.7 1348.2) rotate(11.3)"/>
<ellipse rx="20" ry="22" transform="translate(853.8 1349.7) rotate(-11.3)"/>
<ellipse rx="20" ry="22" transform="translate(284.5 1389) rotate(11.3)"/>
<ellipse rx="20" ry="22" transform="translate(862 1390.5) rotate(-11.3)"/>
<ellipse rx="20" ry="22" transform="translate(276.2 1429.9) rotate(11.3)"/>
<ellipse rx="20" ry="22" transform="translate(870.3 1431.4) rotate(-11.3)"/>
<ellipse rx="20" ry="22" transform="translate(268 1470.7) rotate(11.3)"/>
<ellipse rx="20" ry="22" transform="translate(878.6 1472.2) rotate(-11.3)"/>
<ellipse rx="20" ry="22" transform="translate(408.3 988.9) rotate(11.3)"/>
<ellipse rx="20" ry="22" transform="translate(738.3 990.4) rotate(-11.3)"/>
<ellipse rx="20" ry="22" transform="translate(400 1029.8) rotate(11.3)"/>
<ellipse rx="20" ry="22" transform="translate(746.5 1031.3) rotate(-11.3)"/>
<ellipse rx="20" ry="22" transform="translate(391.8 1070.6) rotate(11.3)"/>
<ellipse rx="20" ry="22" transform="translate(754.8 1072.1) rotate(-11.3)"/>
<ellipse rx="20" ry="22" transform="translate(383.5 1111.4) rotate(11.3)"/>
<ellipse rx="20" ry="22" transform="translate(763 1112.9) rotate(-11.3)"/>
<ellipse rx="20" ry="22" transform="translate(375.3 1152.2) rotate(11.3)"/>
<ellipse rx="20" ry="22" transform="translate(771.3 1153.7) rotate(-11.3)"/>
<ellipse rx="20" ry="22" transform="translate(367 1193.1) rotate(11.3)"/>
<ellipse rx="20" ry="22" transform="translate(779.5 1194.6) rotate(-11.3)"/>
<ellipse rx="20" ry="22" transform="translate(358.7 1233.9) rotate(11.3)"/>
<ellipse rx="20" ry="22" transform="translate(787.8 1235.4) rotate(-11.3)"/>
<ellipse rx="20" ry="22" transform="translate(350.5 1274.7) rotate(11.3)"/>
<ellipse rx="20" ry="22" transform="translate(796 1276.2) rotate(-11.3)"/>
<ellipse rx="20" ry="22" transform="translate(342.2 1315.6) rotate(11.3)"/>
<ellipse rx="20" ry="22" transform="translate(804.3 1317.1) rotate(-11.3)"/>
<ellipse rx="20" ry="22" transform="translate(334 1356.4) rotate(11.3)"/>
<ellipse rx="20" ry="22" transform="translate(812.5 1357.9) rotate(-11.3)"/>
<ellipse rx="20" ry="22" transform="translate(325.7 1397.2) rotate(11.3)"/>
<ellipse rx="20" ry="22" transform="translate(820.8 1398.7) rotate(-11.3)"/>
<ellipse rx="20" ry="22" transform="translate(317.5 1438) rotate(11.3)"/>
<ellipse rx="20" ry="22" transform="translate(829 1439.5) rotate(-11.3)"/>
<ellipse rx="20" ry="22" transform="translate(309.2 1478.9) rotate(11.3)"/>
<ellipse rx="20" ry="22" transform="translate(837.3 1480.4) rotate(-11.3)"/>
<ellipse rx="20" ry="22" transform="translate(449.5 997.1) rotate(11.3)"/>
<ellipse rx="20" ry="22" transform="translate(697 998.6) rotate(-11.3)"/>
<ellipse rx="20" ry="22" transform="translate(441.3 1037.9) rotate(11.3)"/>
<ellipse rx="20" ry="22" transform="translate(705.3 1039.4) rotate(-11.3)"/>
<ellipse rx="20" ry="22" transform="translate(433 1078.8) rotate(11.3)"/>
<ellipse rx="20" ry="22" transform="translate(713.5 1080.3) rotate(-11.3)"/>
<ellipse rx="20" ry="22" transform="translate(424.8 1119.6) rotate(11.3)"/>
<ellipse rx="20" ry="22" transform="translate(721.8 1121.1) rotate(-11.3)"/>
<ellipse rx="20" ry="22" transform="translate(416.5 1160.4) rotate(11.3)"/>
<ellipse rx="20" ry="22" transform="translate(730 1161.9) rotate(-11.3)"/>
<ellipse rx="20" ry="22" transform="translate(408.3 1201.2) rotate(11.3)"/>
<ellipse rx="20" ry="22" transform="translate(738.3 1202.7) rotate(-11.3)"/>
<ellipse rx="20" ry="22" transform="translate(400 1242.1) rotate(11.3)"/>
<ellipse rx="20" ry="22" transform="translate(746.5 1243.6) rotate(-11.3)"/>
<ellipse rx="20" ry="22" transform="translate(391.8 1282.9) rotate(11.3)"/>
<ellipse rx="20" ry="22" transform="translate(754.8 1284.4) rotate(-11.3)"/>
<ellipse rx="20" ry="22" transform="translate(383.5 1323.7) rotate(11.3)"/>
<ellipse rx="20" ry="22" transform="translate(763 1325.2) rotate(-11.3)"/>
<ellipse rx="20" ry="22" transform="translate(375.3 1364.5) rotate(11.3)"/>
<ellipse rx="20" ry="22" transform="translate(771.3 1366) rotate(-11.3)"/>
<ellipse rx="20" ry="22" transform="translate(367 1405.4) rotate(11.3)"/>
<ellipse rx="20" ry="22" transform="translate(779.5 1406.9) rotate(-11.3)"/>
<ellipse rx="20" ry="22" transform="translate(358.7 1446.2) rotate(11.3)"/>
<ellipse rx="20" ry="22" transform="translate(787.8 1447.7) rotate(-11.3)"/>
<ellipse rx="20" ry="22" transform="translate(350.5 1487) rotate(11.3)"/>
<ellipse rx="20" ry="22" transform="translate(796 1488.5) rotate(-11.3)"/>
<ellipse rx="20" ry="22" transform="translate(490.8 1005.3) rotate(11.3)"/>
<ellipse rx="20" ry="22" transform="translate(655.8 1006.8) rotate(-11.3)"/>
<ellipse rx="20" ry="22" transform="translate(482.5 1046.1) rotate(11.3)"/>
<ellipse rx="20" ry="22" transform="translate(664 1047.6) rotate(-11.3)"/>
<ellipse rx="20" ry="22" transform="translate(474.3 1086.9) rotate(11.3)"/>
<ellipse rx="20" ry="22" transform="translate(672.3 1088.4) rotate(-11.3)"/>
<ellipse rx="20" ry="22" transform="translate(466 1127.7) rotate(11.3)"/>
<ellipse rx="20" ry="22" transform="translate(680.5 1129.2) rotate(-11.3)"/>
<ellipse rx="20" ry="22" transform="translate(457.8 1168.6) rotate(11.3)"/>
<ellipse rx="20" ry="22" transform="translate(688.8 1170.1) rotate(-11.3)"/>
<ellipse rx="20" ry="22" transform="translate(449.5 1209.4) rotate(11.3)"/>
<ellipse rx="20" ry="22" transform="translate(697 1210.9) rotate(-11.3)"/>
<ellipse rx="20" ry="22" transform="translate(441.3 1250.2) rotate(11.3)"/>
<ellipse rx="20" ry="22" transform="translate(705.3 1251.7) rotate(-11.3)"/>
<ellipse rx="20" ry="22" transform="translate(433 1291.1) rotate(11.3)"/>
<ellipse rx="20" ry="22" transform="translate(713.5 1292.6) rotate(-11.3)"/>
<ellipse rx="20" ry="22" transform="translate(424.8 1331.9) rotate(11.3)"/>
<ellipse rx="20" ry="22" transform="translate(721.8 1333.4) rotate(-11.3)"/>
<ellipse rx="20" ry="22" transform="translate(416.5 1372.7) rotate(11.3)"/>
<ellipse rx="20" ry="22" transform="translate(730 1374.2) rotate(-11.3)"/>
<ellipse rx="20" ry="22" transform="translate(408.3 1413.5) rotate(11.3)"/>
<ellipse rx="20" ry="22" transform="translate(738.3 1415) rotate(-11.3)"/>
<ellipse rx="20" ry="22" transform="translate(400 1454.4) rotate(11.3)"/>
<ellipse rx="20" ry="22" transform="translate(746.5 1455.9) rotate(-11.3)"/>
<ellipse rx="20" ry="22" transform="translate(523.8 1054.3) rotate(11.3)"/>
<ellipse rx="20" ry="22" transform="translate(622.8 1055.8) rotate(-11.3)"/>
<ellipse rx="20" ry="22" transform="translate(515.5 1095.1) rotate(11.3)"/>
<ellipse rx="20" ry="22" transform="translate(631 1096.6) rotate(-11.3)"/>
<ellipse rx="20" ry="22" transform="translate(507.3 1135.9) rotate(11.3)"/>
<ellipse rx="20" ry="22" transform="translate(639.3 1137.4) rotate(-11.3)"/>
<ellipse rx="20" ry="22" transform="translate(499 1176.7) rotate(11.3)"/>
<ellipse rx="20" ry="22" transform="translate(647.5 1178.2) rotate(-11.3)"/>
<ellipse rx="20" ry="22" transform="translate(490.8 1217.6) rotate(11.3)"/>
<ellipse rx="20" ry="22" transform="translate(655.8 1219.1) rotate(-11.3)"/>
<ellipse rx="20" ry="22" transform="translate(482.5 1258.4) rotate(11.3)"/>
<ellipse rx="20" ry="22" transform="translate(664 1259.9) rotate(-11.3)"/>
<ellipse rx="20" ry="22" transform="translate(474.3 1299.2) rotate(11.3)"/>
<ellipse rx="20" ry="22" transform="translate(672.3 1300.7) rotate(-11.3)"/>
<ellipse rx="20" ry="22" transform="translate(466 1340) rotate(11.3)"/>
<ellipse rx="20" ry="22" transform="translate(680.5 1341.5) rotate(-11.3)"/>
<ellipse rx="20" ry="22" transform="translate(457.8 1380.9) rotate(11.3)"/>
<ellipse rx="20" ry="22" transform="translate(688.8 1382.4) rotate(-11.3)"/>
<ellipse rx="20" ry="22" transform="translate(449.5 1421.7) rotate(11.3)"/>
<ellipse rx="20" ry="22" transform="translate(697 1423.2) rotate(-11.3)"/>
<ellipse rx="20" ry="22" transform="translate(441.3 1462.5) rotate(11.3)"/>
<ellipse rx="20" ry="22" transform="translate(705.3 1464) rotate(-11.3)"/>
<ellipse rx="20" ry="22" transform="translate(523.8 1266.6) rotate(11.3)"/>
<ellipse rx="20" ry="22" transform="translate(622.8 1268.1) rotate(-11.3)"/>
<ellipse rx="20" ry="22" transform="translate(515.5 1307.4) rotate(11.3)"/>
<ellipse rx="20" ry="22" transform="translate(631 1308.9) rotate(-11.3)"/>
<ellipse rx="20" ry="22" transform="translate(507.3 1348.2) rotate(11.3)"/>
<ellipse rx="20" ry="22" transform="translate(639.3 1349.7) rotate(-11.3)"/>
<ellipse rx="20" ry="22" transform="translate(499 1389) rotate(11.3)"/>
<ellipse rx="20" ry="22" transform="translate(647.5 1390.5) rotate(-11.3)"/>
<ellipse rx="20" ry="22" transform="translate(490.8 1429.9) rotate(11.3)"/>
<ellipse rx="20" ry="22" transform="translate(655.8 1431.4) rotate(-11.3)"/>
<ellipse rx="20" ry="22" transform="translate(482.5 1470.7) rotate(11.3)"/>
<ellipse rx="20" ry="22" transform="translate(664 1472.2) rotate(-11.3)"/>
<ellipse rx="20" ry="22" transform="translate(523.8 1478.9) rotate(11.3)"/>
<ellipse rx="20" ry="22" transform="translate(622.8 1480.4) rotate(-11.3)"/>
</g>
<g fill="#fff">
<ellipse rx="8.5" ry="12.5" fill-opacity="0.42" transform="translate(1381.9 990.4) rotate(-11.3)"/>
<ellipse rx="8.5" ry="12.5" fill-opacity="0.42" transform="translate(1480.9 988.9) rotate(11.3)"/>
<ellipse rx="8.5" ry="12.5" fill-opacity="0.42" transform="translate(1340.6 998.6) rotate(-11.3)"/>
<ellipse rx="8.5" ry="12.5" fill-opacity="0.42" transform="translate(1522.1 997.1) rotate(11.3)"/>
<ellipse rx="8.5" ry="12.5" fill-opacity="0.42" transform="translate(1348.8 1039.4) rotate(-11.3)"/>
<ellipse rx="8.5" ry="12.5" fill-opacity="0.42" transform="translate(1513.9 1037.9) rotate(11.3)"/>
<ellipse rx="8.5" ry="12.5" fill-opacity="0.42" transform="translate(1357.1 1080.3) rotate(-11.3)"/>
<ellipse rx="8.5" ry="12.5" fill-opacity="0.42" transform="translate(1505.6 1078.8) rotate(11.3)"/>
<ellipse rx="8.5" ry="12.5" fill-opacity="0.42" transform="translate(1365.4 1121.1) rotate(-11.3)"/>
<ellipse rx="8.5" ry="12.5" fill-opacity="0.42" transform="translate(1497.4 1119.6) rotate(11.3)"/>
<ellipse rx="8.5" ry="12.5" fill-opacity="0.42" transform="translate(1373.6 1161.9) rotate(-11.3)"/>
<ellipse rx="8.5" ry="12.5" fill-opacity="0.42" transform="translate(1489.1 1160.4) rotate(11.3)"/>
<ellipse rx="8.5" ry="12.5" fill-opacity="0.42" transform="translate(1381.9 1202.7) rotate(-11.3)"/>
<ellipse rx="8.5" ry="12.5" fill-opacity="0.42" transform="translate(1480.9 1201.2) rotate(11.3)"/>
<ellipse rx="8.5" ry="12.5" fill-opacity="0.42" transform="translate(1299.3 1006.8) rotate(-11.3)"/>
<ellipse rx="8.5" ry="12.5" fill-opacity="0.42" transform="translate(1563.4 1005.3) rotate(11.3)"/>
<ellipse rx="8.5" ry="12.5" fill-opacity="0.42" transform="translate(1307.6 1047.6) rotate(-11.3)"/>
<ellipse rx="8.5" ry="12.5" fill-opacity="0.42" transform="translate(1555.1 1046.1) rotate(11.3)"/>
<ellipse rx="8.5" ry="12.5" fill-opacity="0.42" transform="translate(1315.8 1088.4) rotate(-11.3)"/>
<ellipse rx="8.5" ry="12.5" fill-opacity="0.42" transform="translate(1546.9 1086.9) rotate(11.3)"/>
<ellipse rx="8.5" ry="12.5" fill-opacity="0.42" transform="translate(1324.1 1129.2) rotate(-11.3)"/>
<ellipse rx="8.5" ry="12.5" fill-opacity="0.42" transform="translate(1538.6 1127.7) rotate(11.3)"/>
<ellipse rx="8.5" ry="12.5" fill-opacity="0.42" transform="translate(1332.3 1170.1) rotate(-11.3)"/>
<ellipse rx="8.5" ry="12.5" fill-opacity="0.42" transform="translate(1530.4 1168.6) rotate(11.3)"/>
<ellipse rx="8.5" ry="12.5" fill-opacity="0.42" transform="translate(1340.6 1210.9) rotate(-11.3)"/>
<ellipse rx="8.5" ry="12.5" fill-opacity="0.42" transform="translate(1522.1 1209.4) rotate(11.3)"/>
<ellipse rx="8.5" ry="12.5" fill-opacity="0.42" transform="translate(1348.8 1251.7) rotate(-11.3)"/>
<ellipse rx="8.5" ry="12.5" fill-opacity="0.42" transform="translate(1513.9 1250.2) rotate(11.3)"/>
<ellipse rx="8.5" ry="12.5" fill-opacity="0.42" transform="translate(1357.1 1292.6) rotate(-11.3)"/>
<ellipse rx="8.5" ry="12.5" fill-opacity="0.42" transform="translate(1505.6 1291.1) rotate(11.3)"/>
<ellipse rx="8.5" ry="12.5" fill-opacity="0.42" transform="translate(1365.4 1333.4) rotate(-11.3)"/>
<ellipse rx="8.5" ry="12.5" fill-opacity="0.42" transform="translate(1497.4 1331.9) rotate(11.3)"/>
<ellipse rx="8.5" ry="12.5" fill-opacity="0.42" transform="translate(1373.6 1374.2) rotate(-11.3)"/>
<ellipse rx="8.5" ry="12.5" fill-opacity="0.42" transform="translate(1489.1 1372.7) rotate(11.3)"/>
<ellipse rx="8.5" ry="12.5" fill-opacity="0.42" transform="translate(1381.9 1415) rotate(-11.3)"/>
<ellipse rx="8.5" ry="12.5" fill-opacity="0.42" transform="translate(1480.9 1413.5) rotate(11.3)"/>
<ellipse rx="8.5" ry="12.5" fill-opacity="0.42" transform="translate(1258.1 1014.9) rotate(-11.3)"/>
<ellipse rx="8.5" ry="12.5" fill-opacity="0.42" transform="translate(1604.6 1013.4) rotate(11.3)"/>
<ellipse rx="8.5" ry="12.5" fill-opacity="0.42" transform="translate(1266.3 1055.8) rotate(-11.3)"/>
<ellipse rx="8.5" ry="12.5" fill-opacity="0.42" transform="translate(1596.4 1054.3) rotate(11.3)"/>
<ellipse rx="8.5" ry="12.5" fill-opacity="0.42" transform="translate(1274.6 1096.6) rotate(-11.3)"/>
<ellipse rx="8.5" ry="12.5" fill-opacity="0.42" transform="translate(1588.1 1095.1) rotate(11.3)"/>
<ellipse rx="8.5" ry="12.5" fill-opacity="0.42" transform="translate(1282.8 1137.4) rotate(-11.3)"/>
<ellipse rx="8.5" ry="12.5" fill-opacity="0.42" transform="translate(1579.9 1135.9) rotate(11.3)"/>
<ellipse rx="8.5" ry="12.5" fill-opacity="0.42" transform="translate(1291.1 1178.2) rotate(-11.3)"/>
<ellipse rx="8.5" ry="12.5" fill-opacity="0.42" transform="translate(1571.6 1176.7) rotate(11.3)"/>
<ellipse rx="8.5" ry="12.5" fill-opacity="0.42" transform="translate(1299.3 1219.1) rotate(-11.3)"/>
<ellipse rx="8.5" ry="12.5" fill-opacity="0.42" transform="translate(1563.4 1217.6) rotate(11.3)"/>
<ellipse rx="8.5" ry="12.5" fill-opacity="0.42" transform="translate(1307.6 1259.9) rotate(-11.3)"/>
<ellipse rx="8.5" ry="12.5" fill-opacity="0.42" transform="translate(1555.1 1258.4) rotate(11.3)"/>
<ellipse rx="8.5" ry="12.5" fill-opacity="0.42" transform="translate(1315.8 1300.7) rotate(-11.3)"/>
<ellipse rx="8.5" ry="12.5" fill-opacity="0.42" transform="translate(1546.9 1299.2) rotate(11.3)"/>
<ellipse rx="8.5" ry="12.5" fill-opacity="0.42" transform="translate(1324.1 1341.5) rotate(-11.3)"/>
<ellipse rx="8.5" ry="12.5" fill-opacity="0.42" transform="translate(1538.6 1340) rotate(11.3)"/>
<ellipse rx="8.5" ry="12.5" fill-opacity="0.42" transform="translate(1332.3 1382.4) rotate(-11.3)"/>
<ellipse rx="8.5" ry="12.5" fill-opacity="0.42" transform="translate(1530.4 1380.9) rotate(11.3)"/>
<ellipse rx="8.5" ry="12.5" fill-opacity="0.42" transform="translate(1340.6 1423.2) rotate(-11.3)"/>
<ellipse rx="8.5" ry="12.5" fill-opacity="0.42" transform="translate(1522.1 1421.7) rotate(11.3)"/>
<ellipse rx="8.5" ry="12.5" fill-opacity="0.42" transform="translate(1348.8 1464) rotate(-11.3)"/>
<ellipse rx="8.5" ry="12.5" fill-opacity="0.42" transform="translate(1513.9 1462.5) rotate(11.3)"/>
<ellipse rx="8.5" ry="12.5" fill-opacity="0.42" transform="translate(1208.6 982.3) rotate(-11.3)"/>
<ellipse rx="8.5" ry="12.5" fill-opacity="0.42" transform="translate(1216.8 1023.1) rotate(-11.3)"/>
<ellipse rx="8.5" ry="12.5" fill-opacity="0.42" transform="translate(1645.9 1021.6) rotate(11.3)"/>
<ellipse rx="8.5" ry="12.5" fill-opacity="0.42" transform="translate(1225.1 1063.9) rotate(-11.3)"/>
<ellipse rx="8.5" ry="12.5" fill-opacity="0.42" transform="translate(1637.6 1062.4) rotate(11.3)"/>
<ellipse rx="8.5" ry="12.5" fill-opacity="0.42" transform="translate(1233.3 1104.7) rotate(-11.3)"/>
<ellipse rx="8.5" ry="12.5" fill-opacity="0.42" transform="translate(1629.4 1103.2) rotate(11.3)"/>
<ellipse rx="8.5" ry="12.5" fill-opacity="0.42" transform="translate(1241.6 1145.6) rotate(-11.3)"/>
<ellipse rx="8.5" ry="12.5" fill-opacity="0.42" transform="translate(1621.1 1144.1) rotate(11.3)"/>
<ellipse rx="8.5" ry="12.5" fill-opacity="0.42" transform="translate(1249.8 1186.4) rotate(-11.3)"/>
<ellipse rx="8.5" ry="12.5" fill-opacity="0.42" transform="translate(1612.9 1184.9) rotate(11.3)"/>
<ellipse rx="8.5" ry="12.5" fill-opacity="0.42" transform="translate(1258.1 1227.2) rotate(-11.3)"/>
<ellipse rx="8.5" ry="12.5" fill-opacity="0.42" transform="translate(1604.6 1225.7) rotate(11.3)"/>
<ellipse rx="8.5" ry="12.5" fill-opacity="0.42" transform="translate(1266.3 1268.1) rotate(-11.3)"/>
<ellipse rx="8.5" ry="12.5" fill-opacity="0.42" transform="translate(1596.4 1266.6) rotate(11.3)"/>
<ellipse rx="8.5" ry="12.5" fill-opacity="0.42" transform="translate(1274.6 1308.9) rotate(-11.3)"/>
<ellipse rx="8.5" ry="12.5" fill-opacity="0.42" transform="translate(1588.1 1307.4) rotate(11.3)"/>
<ellipse rx="8.5" ry="12.5" fill-opacity="0.42" transform="translate(1282.8 1349.7) rotate(-11.3)"/>
<ellipse rx="8.5" ry="12.5" fill-opacity="0.42" transform="translate(1579.9 1348.2) rotate(11.3)"/>
<ellipse rx="8.5" ry="12.5" fill-opacity="0.42" transform="translate(1291.1 1390.5) rotate(-11.3)"/>
<ellipse rx="8.5" ry="12.5" fill-opacity="0.42" transform="translate(1571.6 1389) rotate(11.3)"/>
<ellipse rx="8.5" ry="12.5" fill-opacity="0.42" transform="translate(1299.3 1431.4) rotate(-11.3)"/>
<ellipse rx="8.5" ry="12.5" fill-opacity="0.42" transform="translate(1563.4 1429.9) rotate(11.3)"/>
<ellipse rx="8.5" ry="12.5" fill-opacity="0.42" transform="translate(1307.6 1472.2) rotate(-11.3)"/>
<ellipse rx="8.5" ry="12.5" fill-opacity="0.42" transform="translate(1555.1 1470.7) rotate(11.3)"/>
<ellipse rx="8.5" ry="12.5" fill-opacity="0.42" transform="translate(1167.3 990.4) rotate(-11.3)"/>
<ellipse rx="8.5" ry="12.5" fill-opacity="0.42" transform="translate(1695.4 988.9) rotate(11.3)"/>
<ellipse rx="8.5" ry="12.5" fill-opacity="0.42" transform="translate(1175.6 1031.3) rotate(-11.3)"/>
<ellipse rx="8.5" ry="12.5" fill-opacity="0.42" transform="translate(1687.1 1029.8) rotate(11.3)"/>
<ellipse rx="8.5" ry="12.5" fill-opacity="0.42" transform="translate(1183.8 1072.1) rotate(-11.3)"/>
<ellipse rx="8.5" ry="12.5" fill-opacity="0.42" transform="translate(1678.9 1070.6) rotate(11.3)"/>
<ellipse rx="8.5" ry="12.5" fill-opacity="0.42" transform="translate(1192.1 1112.9) rotate(-11.3)"/>
<ellipse rx="8.5" ry="12.5" fill-opacity="0.42" transform="translate(1670.6 1111.4) rotate(11.3)"/>
<ellipse rx="8.5" ry="12.5" fill-opacity="0.42" transform="translate(1200.3 1153.7) rotate(-11.3)"/>
<ellipse rx="8.5" ry="12.5" fill-opacity="0.42" transform="translate(1662.4 1152.2) rotate(11.3)"/>
<ellipse rx="8.5" ry="12.5" fill-opacity="0.42" transform="translate(1208.6 1194.6) rotate(-11.3)"/>
<ellipse rx="8.5" ry="12.5" fill-opacity="0.42" transform="translate(1654.1 1193.1) rotate(11.3)"/>
<ellipse rx="8.5" ry="12.5" fill-opacity="0.42" transform="translate(1216.8 1235.4) rotate(-11.3)"/>
<ellipse rx="8.5" ry="12.5" fill-opacity="0.42" transform="translate(1645.9 1233.9) rotate(11.3)"/>
<ellipse rx="8.5" ry="12.5" fill-opacity="0.42" transform="translate(1225.1 1276.2) rotate(-11.3)"/>
<ellipse rx="8.5" ry="12.5" fill-opacity="0.42" transform="translate(1637.6 1274.7) rotate(11.3)"/>
<ellipse rx="8.5" ry="12.5" fill-opacity="0.42" transform="translate(1233.3 1317.1) rotate(-11.3)"/>
<ellipse rx="8.5" ry="12.5" fill-opacity="0.42" transform="translate(1629.4 1315.6) rotate(11.3)"/>
<ellipse rx="8.5" ry="12.5" fill-opacity="0.42" transform="translate(1241.6 1357.9) rotate(-11.3)"/>
<ellipse rx="8.5" ry="12.5" fill-opacity="0.42" transform="translate(1621.1 1356.4) rotate(11.3)"/>
<ellipse rx="8.5" ry="12.5" fill-opacity="0.42" transform="translate(1249.8 1398.7) rotate(-11.3)"/>
<ellipse rx="8.5" ry="12.5" fill-opacity="0.42" transform="translate(1612.9 1397.2) rotate(11.3)"/>
<ellipse rx="8.5" ry="12.5" fill-opacity="0.42" transform="translate(1258.1 1439.5) rotate(-11.3)"/>
<ellipse rx="8.5" ry="12.5" fill-opacity="0.42" transform="translate(1604.6 1438) rotate(11.3)"/>
<ellipse rx="8.5" ry="12.5" fill-opacity="0.42" transform="translate(1266.3 1480.4) rotate(-11.3)"/>
<ellipse rx="8.5" ry="12.5" fill-opacity="0.42" transform="translate(1596.4 1478.9) rotate(11.3)"/>
<ellipse rx="8.5" ry="12.5" fill-opacity="0.42" transform="translate(1126.1 998.6) rotate(-11.3)"/>
<ellipse rx="8.5" ry="12.5" fill-opacity="0.42" transform="translate(1736.6 997.1) rotate(11.3)"/>
<ellipse rx="8.5" ry="12.5" fill-opacity="0.42" transform="translate(1134.3 1039.4) rotate(-11.3)"/>
<ellipse rx="8.5" ry="12.5" fill-opacity="0.42" transform="translate(1728.4 1037.9) rotate(11.3)"/>
<ellipse rx="8.5" ry="12.5" fill-opacity="0.42" transform="translate(1142.6 1080.3) rotate(-11.3)"/>
<ellipse rx="8.5" ry="12.5" fill-opacity="0.42" transform="translate(1720.1 1078.8) rotate(11.3)"/>
<ellipse rx="8.5" ry="12.5" fill-opacity="0.42" transform="translate(1150.8 1121.1) rotate(-11.3)"/>
<ellipse rx="8.5" ry="12.5" fill-opacity="0.42" transform="translate(1711.9 1119.6) rotate(11.3)"/>
<ellipse rx="8.5" ry="12.5" fill-opacity="0.42" transform="translate(1159.1 1161.9) rotate(-11.3)"/>
<ellipse rx="8.5" ry="12.5" fill-opacity="0.42" transform="translate(1703.6 1160.4) rotate(11.3)"/>
<ellipse rx="8.5" ry="12.5" fill-opacity="0.42" transform="translate(1167.3 1202.7) rotate(-11.3)"/>
<ellipse rx="8.5" ry="12.5" fill-opacity="0.42" transform="translate(1695.4 1201.2) rotate(11.3)"/>
<ellipse rx="8.5" ry="12.5" fill-opacity="0.42" transform="translate(1175.6 1243.6) rotate(-11.3)"/>
<ellipse rx="8.5" ry="12.5" fill-opacity="0.42" transform="translate(1687.1 1242.1) rotate(11.3)"/>
<ellipse rx="8.5" ry="12.5" fill-opacity="0.42" transform="translate(1183.8 1284.4) rotate(-11.3)"/>
<ellipse rx="8.5" ry="12.5" fill-opacity="0.42" transform="translate(1678.9 1282.9) rotate(11.3)"/>
<ellipse rx="8.5" ry="12.5" fill-opacity="0.42" transform="translate(1192.1 1325.2) rotate(-11.3)"/>
<ellipse rx="8.5" ry="12.5" fill-opacity="0.42" transform="translate(1670.6 1323.7) rotate(11.3)"/>
<ellipse rx="8.5" ry="12.5" fill-opacity="0.42" transform="translate(1200.3 1366) rotate(-11.3)"/>
<ellipse rx="8.5" ry="12.5" fill-opacity="0.42" transform="translate(1662.4 1364.5) rotate(11.3)"/>
<ellipse rx="8.5" ry="12.5" fill-opacity="0.42" transform="translate(1208.6 1406.9) rotate(-11.3)"/>
<ellipse rx="8.5" ry="12.5" fill-opacity="0.42" transform="translate(1654.1 1405.4) rotate(11.3)"/>
<ellipse rx="8.5" ry="12.5" fill-opacity="0.42" transform="translate(1216.8 1447.7) rotate(-11.3)"/>
<ellipse rx="8.5" ry="12.5" fill-opacity="0.42" transform="translate(1645.9 1446.2) rotate(11.3)"/>
<ellipse rx="8.5" ry="12.5" fill-opacity="0.42" transform="translate(1225.1 1488.5) rotate(-11.3)"/>
<ellipse rx="8.5" ry="12.5" fill-opacity="0.42" transform="translate(1637.6 1487) rotate(11.3)"/>
<ellipse rx="8.5" ry="12.5" fill-opacity="0.42" transform="translate(1084.8 1006.8) rotate(-11.3)"/>
<ellipse rx="8.5" ry="12.5" fill-opacity="0.42" transform="translate(1777.9 1005.3) rotate(11.3)"/>
<ellipse rx="8.5" ry="12.5" fill-opacity="0.42" transform="translate(1093.1 1047.6) rotate(-11.3)"/>
<ellipse rx="8.5" ry="12.5" fill-opacity="0.42" transform="translate(1769.6 1046.1) rotate(11.3)"/>
<ellipse rx="8.5" ry="12.5" fill-opacity="0.42" transform="translate(1101.3 1088.4) rotate(-11.3)"/>
<ellipse rx="8.5" ry="12.5" fill-opacity="0.42" transform="translate(1761.4 1086.9) rotate(11.3)"/>
<ellipse rx="8.5" ry="12.5" fill-opacity="0.42" transform="translate(1109.6 1129.2) rotate(-11.3)"/>
<ellipse rx="8.5" ry="12.5" fill-opacity="0.42" transform="translate(1753.1 1127.7) rotate(11.3)"/>
<ellipse rx="8.5" ry="12.5" fill-opacity="0.42" transform="translate(1117.8 1170.1) rotate(-11.3)"/>
<ellipse rx="8.5" ry="12.5" fill-opacity="0.42" transform="translate(1744.9 1168.6) rotate(11.3)"/>
<ellipse rx="8.5" ry="12.5" fill-opacity="0.42" transform="translate(1126.1 1210.9) rotate(-11.3)"/>
<ellipse rx="8.5" ry="12.5" fill-opacity="0.42" transform="translate(1736.6 1209.4) rotate(11.3)"/>
<ellipse rx="8.5" ry="12.5" fill-opacity="0.42" transform="translate(1134.3 1251.7) rotate(-11.3)"/>
<ellipse rx="8.5" ry="12.5" fill-opacity="0.42" transform="translate(1728.4 1250.2) rotate(11.3)"/>
<ellipse rx="8.5" ry="12.5" fill-opacity="0.42" transform="translate(1142.6 1292.6) rotate(-11.3)"/>
<ellipse rx="8.5" ry="12.5" fill-opacity="0.42" transform="translate(1720.1 1291.1) rotate(11.3)"/>
<ellipse rx="8.5" ry="12.5" fill-opacity="0.42" transform="translate(1150.8 1333.4) rotate(-11.3)"/>
<ellipse rx="8.5" ry="12.5" fill-opacity="0.42" transform="translate(1711.9 1331.9) rotate(11.3)"/>
<ellipse rx="8.5" ry="12.5" fill-opacity="0.42" transform="translate(1159.1 1374.2) rotate(-11.3)"/>
<ellipse rx="8.5" ry="12.5" fill-opacity="0.42" transform="translate(1703.6 1372.7) rotate(11.3)"/>
<ellipse rx="8.5" ry="12.5" fill-opacity="0.42" transform="translate(1167.3 1415) rotate(-11.3)"/>
<ellipse rx="8.5" ry="12.5" fill-opacity="0.42" transform="translate(1695.4 1413.5) rotate(11.3)"/>
<ellipse rx="8.5" ry="12.5" fill-opacity="0.42" transform="translate(1175.6 1455.9) rotate(-11.3)"/>
<ellipse rx="8.5" ry="12.5" fill-opacity="0.42" transform="translate(1687.1 1454.4) rotate(11.3)"/>
<ellipse rx="8.5" ry="12.5" fill-opacity="0.42" transform="translate(103 1013.4) rotate(11.3)"/>
<ellipse rx="8.5" ry="12.5" fill-opacity="0.42" transform="translate(1043.6 1014.9) rotate(-11.3)"/>
<ellipse rx="8.5" ry="12.5" fill-opacity="0.42" transform="translate(1819.1 1013.4) rotate(11.3)"/>
<ellipse rx="8.5" ry="12.5" fill-opacity="0.42" transform="translate(1051.8 1055.8) rotate(-11.3)"/>
<ellipse rx="8.5" ry="12.5" fill-opacity="0.42" transform="translate(1810.9 1054.3) rotate(11.3)"/>
<ellipse rx="8.5" ry="12.5" fill-opacity="0.42" transform="translate(1060.1 1096.6) rotate(-11.3)"/>
<ellipse rx="8.5" ry="12.5" fill-opacity="0.42" transform="translate(1802.6 1095.1) rotate(11.3)"/>
<ellipse rx="8.5" ry="12.5" fill-opacity="0.42" transform="translate(1068.3 1137.4) rotate(-11.3)"/>
<ellipse rx="8.5" ry="12.5" fill-opacity="0.42" transform="translate(1794.4 1135.9) rotate(11.3)"/>
<ellipse rx="8.5" ry="12.5" fill-opacity="0.42" transform="translate(1076.6 1178.2) rotate(-11.3)"/>
<ellipse rx="8.5" ry="12.5" fill-opacity="0.42" transform="translate(1786.1 1176.7) rotate(11.3)"/>
<ellipse rx="8.5" ry="12.5" fill-opacity="0.42" transform="translate(1084.8 1219.1) rotate(-11.3)"/>
<ellipse rx="8.5" ry="12.5" fill-opacity="0.42" transform="translate(1777.9 1217.6) rotate(11.3)"/>
<ellipse rx="8.5" ry="12.5" fill-opacity="0.42" transform="translate(1093.1 1259.9) rotate(-11.3)"/>
<ellipse rx="8.5" ry="12.5" fill-opacity="0.42" transform="translate(1769.6 1258.4) rotate(11.3)"/>
<ellipse rx="8.5" ry="12.5" fill-opacity="0.42" transform="translate(1101.3 1300.7) rotate(-11.3)"/>
<ellipse rx="8.5" ry="12.5" fill-opacity="0.42" transform="translate(1761.4 1299.2) rotate(11.3)"/>
<ellipse rx="8.5" ry="12.5" fill-opacity="0.42" transform="translate(1109.6 1341.5) rotate(-11.3)"/>
<ellipse rx="8.5" ry="12.5" fill-opacity="0.42" transform="translate(1753.1 1340) rotate(11.3)"/>
<ellipse rx="8.5" ry="12.5" fill-opacity="0.42" transform="translate(1117.8 1382.4) rotate(-11.3)"/>
<ellipse rx="8.5" ry="12.5" fill-opacity="0.42" transform="translate(1744.9 1380.9) rotate(11.3)"/>
<ellipse rx="8.5" ry="12.5" fill-opacity="0.42" transform="translate(1126.1 1423.2) rotate(-11.3)"/>
<ellipse rx="8.5" ry="12.5" fill-opacity="0.42" transform="translate(1736.6 1421.7) rotate(11.3)"/>
<ellipse rx="8.5" ry="12.5" fill-opacity="0.42" transform="translate(1134.3 1464) rotate(-11.3)"/>
<ellipse rx="8.5" ry="12.5" fill-opacity="0.42" transform="translate(1728.4 1462.5) rotate(11.3)"/>
<ellipse rx="8.5" ry="12.5" fill-opacity="0.42" transform="translate(994.1 982.3) rotate(-11.3)"/>
<ellipse rx="8.5" ry="12.5" fill-opacity="0.42" transform="translate(144.2 1021.6) rotate(11.3)"/>
<ellipse rx="8.5" ry="12.5" fill-opacity="0.42" transform="translate(1002.3 1023.1) rotate(-11.3)"/>
<ellipse rx="8.5" ry="12.5" fill-opacity="0.42" transform="translate(1860.4 1021.6) rotate(11.3)"/>
<ellipse rx="8.5" ry="12.5" fill-opacity="0.42" transform="translate(136 1062.4) rotate(11.3)"/>
<ellipse rx="8.5" ry="12.5" fill-opacity="0.42" transform="translate(1010.6 1063.9) rotate(-11.3)"/>
<ellipse rx="8.5" ry="12.5" fill-opacity="0.42" transform="translate(1852.1 1062.4) rotate(11.3)"/>
<ellipse rx="8.5" ry="12.5" fill-opacity="0.42" transform="translate(127.7 1103.2) rotate(11.3)"/>
<ellipse rx="8.5" ry="12.5" fill-opacity="0.42" transform="translate(1018.8 1104.7) rotate(-11.3)"/>
<ellipse rx="8.5" ry="12.5" fill-opacity="0.42" transform="translate(1843.9 1103.2) rotate(11.3)"/>
<ellipse rx="8.5" ry="12.5" fill-opacity="0.42" transform="translate(119.5 1144.1) rotate(11.3)"/>
<ellipse rx="8.5" ry="12.5" fill-opacity="0.42" transform="translate(1027.1 1145.6) rotate(-11.3)"/>
<ellipse rx="8.5" ry="12.5" fill-opacity="0.42" transform="translate(1835.6 1144.1) rotate(11.3)"/>
<ellipse rx="8.5" ry="12.5" fill-opacity="0.42" transform="translate(111.2 1184.9) rotate(11.3)"/>
<ellipse rx="8.5" ry="12.5" fill-opacity="0.42" transform="translate(1035.3 1186.4) rotate(-11.3)"/>
<ellipse rx="8.5" ry="12.5" fill-opacity="0.42" transform="translate(1827.4 1184.9) rotate(11.3)"/>
<ellipse rx="8.5" ry="12.5" fill-opacity="0.42" transform="translate(103 1225.7) rotate(11.3)"/>
<ellipse rx="8.5" ry="12.5" fill-opacity="0.42" transform="translate(1043.6 1227.2) rotate(-11.3)"/>
<ellipse rx="8.5" ry="12.5" fill-opacity="0.42" transform="translate(1819.1 1225.7) rotate(11.3)"/>
<ellipse rx="8.5" ry="12.5" fill-opacity="0.42" transform="translate(1051.8 1268.1) rotate(-11.3)"/>
<ellipse rx="8.5" ry="12.5" fill-opacity="0.42" transform="translate(1810.9 1266.6) rotate(11.3)"/>
<ellipse rx="8.5" ry="12.5" fill-opacity="0.42" transform="translate(1060.1 1308.9) rotate(-11.3)"/>
<ellipse rx="8.5" ry="12.5" fill-opacity="0.42" transform="translate(1802.6 1307.4) rotate(11.3)"/>
<ellipse rx="8.5" ry="12.5" fill-opacity="0.42" transform="translate(1068.3 1349.7) rotate(-11.3)"/>
<ellipse rx="8.5" ry="12.5" fill-opacity="0.42" transform="translate(1794.4 1348.2) rotate(11.3)"/>
<ellipse rx="8.5" ry="12.5" fill-opacity="0.42" transform="translate(1076.6 1390.5) rotate(-11.3)"/>
<ellipse rx="8.5" ry="12.5" fill-opacity="0.42" transform="translate(1786.1 1389) rotate(11.3)"/>
<ellipse rx="8.5" ry="12.5" fill-opacity="0.42" transform="translate(1084.8 1431.4) rotate(-11.3)"/>
<ellipse rx="8.5" ry="12.5" fill-opacity="0.42" transform="translate(1777.9 1429.9) rotate(11.3)"/>
<ellipse rx="8.5" ry="12.5" fill-opacity="0.42" transform="translate(1093.1 1472.2) rotate(-11.3)"/>
<ellipse rx="8.5" ry="12.5" fill-opacity="0.42" transform="translate(1769.6 1470.7) rotate(11.3)"/>
<ellipse rx="8.5" ry="12.5" fill-opacity="0.42" transform="translate(193.7 988.9) rotate(11.3)"/>
<ellipse rx="8.5" ry="12.5" fill-opacity="0.42" transform="translate(952.8 990.4) rotate(-11.3)"/>
<ellipse rx="8.5" ry="12.5" fill-opacity="0.42" transform="translate(185.5 1029.8) rotate(11.3)"/>
<ellipse rx="8.5" ry="12.5" fill-opacity="0.42" transform="translate(961.1 1031.3) rotate(-11.3)"/>
<ellipse rx="8.5" ry="12.5" fill-opacity="0.42" transform="translate(177.2 1070.6) rotate(11.3)"/>
<ellipse rx="8.5" ry="12.5" fill-opacity="0.42" transform="translate(969.3 1072.1) rotate(-11.3)"/>
<ellipse rx="8.5" ry="12.5" fill-opacity="0.42" transform="translate(1893.4 1070.6) rotate(11.3)"/>
<ellipse rx="8.5" ry="12.5" fill-opacity="0.42" transform="translate(169 1111.4) rotate(11.3)"/>
<ellipse rx="8.5" ry="12.5" fill-opacity="0.42" transform="translate(977.6 1112.9) rotate(-11.3)"/>
<ellipse rx="8.5" ry="12.5" fill-opacity="0.42" transform="translate(1885.2 1111.4) rotate(11.3)"/>
<ellipse rx="8.5" ry="12.5" fill-opacity="0.42" transform="translate(160.7 1152.2) rotate(11.3)"/>
<ellipse rx="8.5" ry="12.5" fill-opacity="0.42" transform="translate(985.8 1153.7) rotate(-11.3)"/>
<ellipse rx="8.5" ry="12.5" fill-opacity="0.42" transform="translate(1876.9 1152.2) rotate(11.3)"/>
<ellipse rx="8.5" ry="12.5" fill-opacity="0.42" transform="translate(152.5 1193.1) rotate(11.3)"/>
<ellipse rx="8.5" ry="12.5" fill-opacity="0.42" transform="translate(994.1 1194.6) rotate(-11.3)"/>
<ellipse rx="8.5" ry="12.5" fill-opacity="0.42" transform="translate(1868.7 1193.1) rotate(11.3)"/>
<ellipse rx="8.5" ry="12.5" fill-opacity="0.42" transform="translate(144.2 1233.9) rotate(11.3)"/>
<ellipse rx="8.5" ry="12.5" fill-opacity="0.42" transform="translate(1002.3 1235.4) rotate(-11.3)"/>
<ellipse rx="8.5" ry="12.5" fill-opacity="0.42" transform="translate(1860.4 1233.9) rotate(11.3)"/>
<ellipse rx="8.5" ry="12.5" fill-opacity="0.42" transform="translate(136 1274.7) rotate(11.3)"/>
<ellipse rx="8.5" ry="12.5" fill-opacity="0.42" transform="translate(1010.6 1276.2) rotate(-11.3)"/>
<ellipse rx="8.5" ry="12.5" fill-opacity="0.42" transform="translate(1852.1 1274.7) rotate(11.3)"/>
<ellipse rx="8.5" ry="12.5" fill-opacity="0.42" transform="translate(127.7 1315.6) rotate(11.3)"/>
<ellipse rx="8.5" ry="12.5" fill-opacity="0.42" transform="translate(1018.8 1317.1) rotate(-11.3)"/>
<ellipse rx="8.5" ry="12.5" fill-opacity="0.42" transform="translate(1843.9 1315.6) rotate(11.3)"/>
<ellipse rx="8.5" ry="12.5" fill-opacity="0.42" transform="translate(119.5 1356.4) rotate(11.3)"/>
<ellipse rx="8.5" ry="12.5" fill-opacity="0.42" transform="translate(1027.1 1357.9) rotate(-11.3)"/>
<ellipse rx="8.5" ry="12.5" fill-opacity="0.42" transform="translate(1835.6 1356.4) rotate(11.3)"/>
<ellipse rx="8.5" ry="12.5" fill-opacity="0.42" transform="translate(111.2 1397.2) rotate(11.3)"/>
<ellipse rx="8.5" ry="12.5" fill-opacity="0.42" transform="translate(1035.3 1398.7) rotate(-11.3)"/>
<ellipse rx="8.5" ry="12.5" fill-opacity="0.42" transform="translate(1827.4 1397.2) rotate(11.3)"/>
<ellipse rx="8.5" ry="12.5" fill-opacity="0.42" transform="translate(103 1438) rotate(11.3)"/>
<ellipse rx="8.5" ry="12.5" fill-opacity="0.42" transform="translate(1043.6 1439.5) rotate(-11.3)"/>
<ellipse rx="8.5" ry="12.5" fill-opacity="0.42" transform="translate(1819.1 1438) rotate(11.3)"/>
<ellipse rx="8.5" ry="12.5" fill-opacity="0.42" transform="translate(1051.8 1480.4) rotate(-11.3)"/>
<ellipse rx="8.5" ry="12.5" fill-opacity="0.42" transform="translate(1810.9 1478.9) rotate(11.3)"/>
<ellipse rx="8.5" ry="12.5" fill-opacity="0.42" transform="translate(235 997.1) rotate(11.3)"/>
<ellipse rx="8.5" ry="12.5" fill-opacity="0.42" transform="translate(911.6 998.6) rotate(-11.3)"/>
<ellipse rx="8.5" ry="12.5" fill-opacity="0.42" transform="translate(226.7 1037.9) rotate(11.3)"/>
<ellipse rx="8.5" ry="12.5" fill-opacity="0.42" transform="translate(919.8 1039.4) rotate(-11.3)"/>
<ellipse rx="8.5" ry="12.5" fill-opacity="0.42" transform="translate(218.5 1078.8) rotate(11.3)"/>
<ellipse rx="8.5" ry="12.5" fill-opacity="0.42" transform="translate(928.1 1080.3) rotate(-11.3)"/>
<ellipse rx="8.5" ry="12.5" fill-opacity="0.42" transform="translate(210.2 1119.6) rotate(11.3)"/>
<ellipse rx="8.5" ry="12.5" fill-opacity="0.42" transform="translate(936.3 1121.1) rotate(-11.3)"/>
<ellipse rx="8.5" ry="12.5" fill-opacity="0.42" transform="translate(202 1160.4) rotate(11.3)"/>
<ellipse rx="8.5" ry="12.5" fill-opacity="0.42" transform="translate(944.6 1161.9) rotate(-11.3)"/>
<ellipse rx="8.5" ry="12.5" fill-opacity="0.42" transform="translate(193.7 1201.2) rotate(11.3)"/>
<ellipse rx="8.5" ry="12.5" fill-opacity="0.42" transform="translate(952.8 1202.7) rotate(-11.3)"/>
<ellipse rx="8.5" ry="12.5" fill-opacity="0.42" transform="translate(185.5 1242.1) rotate(11.3)"/>
<ellipse rx="8.5" ry="12.5" fill-opacity="0.42" transform="translate(961.1 1243.6) rotate(-11.3)"/>
<ellipse rx="8.5" ry="12.5" fill-opacity="0.42" transform="translate(177.2 1282.9) rotate(11.3)"/>
<ellipse rx="8.5" ry="12.5" fill-opacity="0.42" transform="translate(969.3 1284.4) rotate(-11.3)"/>
<ellipse rx="8.5" ry="12.5" fill-opacity="0.42" transform="translate(1893.4 1282.9) rotate(11.3)"/>
<ellipse rx="8.5" ry="12.5" fill-opacity="0.42" transform="translate(169 1323.7) rotate(11.3)"/>
<ellipse rx="8.5" ry="12.5" fill-opacity="0.42" transform="translate(977.6 1325.2) rotate(-11.3)"/>
<ellipse rx="8.5" ry="12.5" fill-opacity="0.42" transform="translate(1885.2 1323.7) rotate(11.3)"/>
<ellipse rx="8.5" ry="12.5" fill-opacity="0.42" transform="translate(160.7 1364.5) rotate(11.3)"/>
<ellipse rx="8.5" ry="12.5" fill-opacity="0.42" transform="translate(985.8 1366) rotate(-11.3)"/>
<ellipse rx="8.5" ry="12.5" fill-opacity="0.42" transform="translate(1876.9 1364.5) rotate(11.3)"/>
<ellipse rx="8.5" ry="12.5" fill-opacity="0.42" transform="translate(152.5 1405.4) rotate(11.3)"/>
<ellipse rx="8.5" ry="12.5" fill-opacity="0.42" transform="translate(994.1 1406.9) rotate(-11.3)"/>
<ellipse rx="8.5" ry="12.5" fill-opacity="0.42" transform="translate(1868.7 1405.4) rotate(11.3)"/>
<ellipse rx="8.5" ry="12.5" fill-opacity="0.42" transform="translate(144.2 1446.2) rotate(11.3)"/>
<ellipse rx="8.5" ry="12.5" fill-opacity="0.42" transform="translate(1002.3 1447.7) rotate(-11.3)"/>
<ellipse rx="8.5" ry="12.5" fill-opacity="0.42" transform="translate(1860.4 1446.2) rotate(11.3)"/>
<ellipse rx="8.5" ry="12.5" fill-opacity="0.42" transform="translate(136 1487) rotate(11.3)"/>
<ellipse rx="8.5" ry="12.5" fill-opacity="0.42" transform="translate(1010.6 1488.5) rotate(-11.3)"/>
<ellipse rx="8.5" ry="12.5" fill-opacity="0.42" transform="translate(1852.1 1487) rotate(11.3)"/>
<ellipse rx="8.5" ry="12.5" fill-opacity="0.42" transform="translate(276.2 1005.3) rotate(11.3)"/>
<ellipse rx="8.5" ry="12.5" fill-opacity="0.42" transform="translate(870.3 1006.8) rotate(-11.3)"/>
<ellipse rx="8.5" ry="12.5" fill-opacity="0.42" transform="translate(268 1046.1) rotate(11.3)"/>
<ellipse rx="8.5" ry="12.5" fill-opacity="0.42" transform="translate(878.6 1047.6) rotate(-11.3)"/>
<ellipse rx="8.5" ry="12.5" fill-opacity="0.42" transform="translate(259.7 1086.9) rotate(11.3)"/>
<ellipse rx="8.5" ry="12.5" fill-opacity="0.42" transform="translate(886.8 1088.4) rotate(-11.3)"/>
<ellipse rx="8.5" ry="12.5" fill-opacity="0.42" transform="translate(251.5 1127.7) rotate(11.3)"/>
<ellipse rx="8.5" ry="12.5" fill-opacity="0.42" transform="translate(895.1 1129.2) rotate(-11.3)"/>
<ellipse rx="8.5" ry="12.5" fill-opacity="0.42" transform="translate(243.2 1168.6) rotate(11.3)"/>
<ellipse rx="8.5" ry="12.5" fill-opacity="0.42" transform="translate(903.3 1170.1) rotate(-11.3)"/>
<ellipse rx="8.5" ry="12.5" fill-opacity="0.42" transform="translate(235 1209.4) rotate(11.3)"/>
<ellipse rx="8.5" ry="12.5" fill-opacity="0.42" transform="translate(911.6 1210.9) rotate(-11.3)"/>
<ellipse rx="8.5" ry="12.5" fill-opacity="0.42" transform="translate(226.7 1250.2) rotate(11.3)"/>
<ellipse rx="8.5" ry="12.5" fill-opacity="0.42" transform="translate(919.8 1251.7) rotate(-11.3)"/>
<ellipse rx="8.5" ry="12.5" fill-opacity="0.42" transform="translate(218.5 1291.1) rotate(11.3)"/>
<ellipse rx="8.5" ry="12.5" fill-opacity="0.42" transform="translate(928.1 1292.6) rotate(-11.3)"/>
<ellipse rx="8.5" ry="12.5" fill-opacity="0.42" transform="translate(210.2 1331.9) rotate(11.3)"/>
<ellipse rx="8.5" ry="12.5" fill-opacity="0.42" transform="translate(936.3 1333.4) rotate(-11.3)"/>
<ellipse rx="8.5" ry="12.5" fill-opacity="0.42" transform="translate(202 1372.7) rotate(11.3)"/>
<ellipse rx="8.5" ry="12.5" fill-opacity="0.42" transform="translate(944.6 1374.2) rotate(-11.3)"/>
<ellipse rx="8.5" ry="12.5" fill-opacity="0.42" transform="translate(193.7 1413.5) rotate(11.3)"/>
<ellipse rx="8.5" ry="12.5" fill-opacity="0.42" transform="translate(952.8 1415) rotate(-11.3)"/>
<ellipse rx="8.5" ry="12.5" fill-opacity="0.42" transform="translate(185.5 1454.4) rotate(11.3)"/>
<ellipse rx="8.5" ry="12.5" fill-opacity="0.42" transform="translate(961.1 1455.9) rotate(-11.3)"/>
<ellipse rx="8.5" ry="12.5" fill-opacity="0.42" transform="translate(317.5 1013.4) rotate(11.3)"/>
<ellipse rx="8.5" ry="12.5" fill-opacity="0.42" transform="translate(829 1014.9) rotate(-11.3)"/>
<ellipse rx="8.5" ry="12.5" fill-opacity="0.42" transform="translate(309.2 1054.3) rotate(11.3)"/>
<ellipse rx="8.5" ry="12.5" fill-opacity="0.42" transform="translate(837.3 1055.8) rotate(-11.3)"/>
<ellipse rx="8.5" ry="12.5" fill-opacity="0.42" transform="translate(301 1095.1) rotate(11.3)"/>
<ellipse rx="8.5" ry="12.5" fill-opacity="0.42" transform="translate(845.5 1096.6) rotate(-11.3)"/>
<ellipse rx="8.5" ry="12.5" fill-opacity="0.42" transform="translate(292.7 1135.9) rotate(11.3)"/>
<ellipse rx="8.5" ry="12.5" fill-opacity="0.42" transform="translate(853.8 1137.4) rotate(-11.3)"/>
<ellipse rx="8.5" ry="12.5" fill-opacity="0.42" transform="translate(284.5 1176.7) rotate(11.3)"/>
<ellipse rx="8.5" ry="12.5" fill-opacity="0.42" transform="translate(862 1178.2) rotate(-11.3)"/>
<ellipse rx="8.5" ry="12.5" fill-opacity="0.42" transform="translate(276.2 1217.6) rotate(11.3)"/>
<ellipse rx="8.5" ry="12.5" fill-opacity="0.42" transform="translate(870.3 1219.1) rotate(-11.3)"/>
<ellipse rx="8.5" ry="12.5" fill-opacity="0.42" transform="translate(268 1258.4) rotate(11.3)"/>
<ellipse rx="8.5" ry="12.5" fill-opacity="0.42" transform="translate(878.6 1259.9) rotate(-11.3)"/>
<ellipse rx="8.5" ry="12.5" fill-opacity="0.42" transform="translate(259.7 1299.2) rotate(11.3)"/>
<ellipse rx="8.5" ry="12.5" fill-opacity="0.42" transform="translate(886.8 1300.7) rotate(-11.3)"/>
<ellipse rx="8.5" ry="12.5" fill-opacity="0.42" transform="translate(251.5 1340) rotate(11.3)"/>
<ellipse rx="8.5" ry="12.5" fill-opacity="0.42" transform="translate(895.1 1341.5) rotate(-11.3)"/>
<ellipse rx="8.5" ry="12.5" fill-opacity="0.42" transform="translate(243.2 1380.9) rotate(11.3)"/>
<ellipse rx="8.5" ry="12.5" fill-opacity="0.42" transform="translate(903.3 1382.4) rotate(-11.3)"/>
<ellipse rx="8.5" ry="12.5" fill-opacity="0.42" transform="translate(235 1421.7) rotate(11.3)"/>
<ellipse rx="8.5" ry="12.5" fill-opacity="0.42" transform="translate(911.6 1423.2) rotate(-11.3)"/>
<ellipse rx="8.5" ry="12.5" fill-opacity="0.42" transform="translate(226.7 1462.5) rotate(11.3)"/>
<ellipse rx="8.5" ry="12.5" fill-opacity="0.42" transform="translate(919.8 1464) rotate(-11.3)"/>
<ellipse rx="8.5" ry="12.5" fill-opacity="0.42" transform="translate(779.5 982.3) rotate(-11.3)"/>
<ellipse rx="8.5" ry="12.5" fill-opacity="0.42" transform="translate(358.7 1021.6) rotate(11.3)"/>
<ellipse rx="8.5" ry="12.5" fill-opacity="0.42" transform="translate(787.8 1023.1) rotate(-11.3)"/>
<ellipse rx="8.5" ry="12.5" fill-opacity="0.42" transform="translate(350.5 1062.4) rotate(11.3)"/>
<ellipse rx="8.5" ry="12.5" fill-opacity="0.42" transform="translate(796 1063.9) rotate(-11.3)"/>
<ellipse rx="8.5" ry="12.5" fill-opacity="0.42" transform="translate(342.2 1103.2) rotate(11.3)"/>
<ellipse rx="8.5" ry="12.5" fill-opacity="0.42" transform="translate(804.3 1104.7) rotate(-11.3)"/>
<ellipse rx="8.5" ry="12.5" fill-opacity="0.42" transform="translate(334 1144.1) rotate(11.3)"/>
<ellipse rx="8.5" ry="12.5" fill-opacity="0.42" transform="translate(812.5 1145.6) rotate(-11.3)"/>
<ellipse rx="8.5" ry="12.5" fill-opacity="0.42" transform="translate(325.7 1184.9) rotate(11.3)"/>
<ellipse rx="8.5" ry="12.5" fill-opacity="0.42" transform="translate(820.8 1186.4) rotate(-11.3)"/>
<ellipse rx="8.5" ry="12.5" fill-opacity="0.42" transform="translate(317.5 1225.7) rotate(11.3)"/>
<ellipse rx="8.5" ry="12.5" fill-opacity="0.42" transform="translate(829 1227.2) rotate(-11.3)"/>
<ellipse rx="8.5" ry="12.5" fill-opacity="0.42" transform="translate(309.2 1266.6) rotate(11.3)"/>
<ellipse rx="8.5" ry="12.5" fill-opacity="0.42" transform="translate(837.3 1268.1) rotate(-11.3)"/>
<ellipse rx="8.5" ry="12.5" fill-opacity="0.42" transform="translate(301 1307.4) rotate(11.3)"/>
<ellipse rx="8.5" ry="12.5" fill-opacity="0.42" transform="translate(845.5 1308.9) rotate(-11.3)"/>
<ellipse rx="8.5" ry="12.5" fill-opacity="0.42" transform="translate(292.7 1348.2) rotate(11.3)"/>
<ellipse rx="8.5" ry="12.5" fill-opacity="0.42" transform="translate(853.8 1349.7) rotate(-11.3)"/>
<ellipse rx="8.5" ry="12.5" fill-opacity="0.42" transform="translate(284.5 1389) rotate(11.3)"/>
<ellipse rx="8.5" ry="12.5" fill-opacity="0.42" transform="translate(862 1390.5) rotate(-11.3)"/>
<ellipse rx="8.5" ry="12.5" fill-opacity="0.42" transform="translate(276.2 1429.9) rotate(11.3)"/>
<ellipse rx="8.5" ry="12.5" fill-opacity="0.42" transform="translate(870.3 1431.4) rotate(-11.3)"/>
<ellipse rx="8.5" ry="12.5" fill-opacity="0.42" transform="translate(268 1470.7) rotate(11.3)"/>
<ellipse rx="8.5" ry="12.5" fill-opacity="0.42" transform="translate(878.6 1472.2) rotate(-11.3)"/>
<ellipse rx="8.5" ry="12.5" fill-opacity="0.42" transform="translate(408.3 988.9) rotate(11.3)"/>
<ellipse rx="8.5" ry="12.5" fill-opacity="0.42" transform="translate(738.3 990.4) rotate(-11.3)"/>
<ellipse rx="8.5" ry="12.5" fill-opacity="0.42" transform="translate(400 1029.8) rotate(11.3)"/>
<ellipse rx="8.5" ry="12.5" fill-opacity="0.42" transform="translate(746.5 1031.3) rotate(-11.3)"/>
<ellipse rx="8.5" ry="12.5" fill-opacity="0.42" transform="translate(391.8 1070.6) rotate(11.3)"/>
<ellipse rx="8.5" ry="12.5" fill-opacity="0.42" transform="translate(754.8 1072.1) rotate(-11.3)"/>
<ellipse rx="8.5" ry="12.5" fill-opacity="0.42" transform="translate(383.5 1111.4) rotate(11.3)"/>
<ellipse rx="8.5" ry="12.5" fill-opacity="0.42" transform="translate(763 1112.9) rotate(-11.3)"/>
<ellipse rx="8.5" ry="12.5" fill-opacity="0.42" transform="translate(375.3 1152.2) rotate(11.3)"/>
<ellipse rx="8.5" ry="12.5" fill-opacity="0.42" transform="translate(771.3 1153.7) rotate(-11.3)"/>
<ellipse rx="8.5" ry="12.5" fill-opacity="0.42" transform="translate(367 1193.1) rotate(11.3)"/>
<ellipse rx="8.5" ry="12.5" fill-opacity="0.42" transform="translate(779.5 1194.6) rotate(-11.3)"/>
<ellipse rx="8.5" ry="12.5" fill-opacity="0.42" transform="translate(358.7 1233.9) rotate(11.3)"/>
<ellipse rx="8.5" ry="12.5" fill-opacity="0.42" transform="translate(787.8 1235.4) rotate(-11.3)"/>
<ellipse rx="8.5" ry="12.5" fill-opacity="0.42" transform="translate(350.5 1274.7) rotate(11.3)"/>
<ellipse rx="8.5" ry="12.5" fill-opacity="0.42" transform="translate(796 1276.2) rotate(-11.3)"/>
<ellipse rx="8.5" ry="12.5" fill-opacity="0.42" transform="translate(342.2 1315.6) rotate(11.3)"/>
<ellipse rx="8.5" ry="12.5" fill-opacity="0.42" transform="translate(804.3 1317.1) rotate(-11.3)"/>
<ellipse rx="8.5" ry="12.5" fill-opacity="0.42" transform="translate(334 1356.4) rotate(11.3)"/>
<ellipse rx="8.5" ry="12.5" fill-opacity="0.42" transform="translate(812.5 1357.9) rotate(-11.3)"/>
<ellipse rx="8.5" ry="12.5" fill-opacity="0.42" transform="translate(325.7 1397.2) rotate(11.3)"/>
<ellipse rx="8.5" ry="12.5" fill-opacity="0.42" transform="translate(820.8 1398.7) rotate(-11.3)"/>
<ellipse rx="8.5" ry="12.5" fill-opacity="0.42" transform="translate(317.5 1438) rotate(11.3)"/>
<ellipse rx="8.5" ry="12.5" fill-opacity="0.42" transform="translate(829 1439.5) rotate(-11.3)"/>
<ellipse rx="8.5" ry="12.5" fill-opacity="0.42" transform="translate(309.2 1478.9) rotate(11.3)"/>
<ellipse rx="8.5" ry="12.5" fill-opacity="0.42" transform="translate(837.3 1480.4) rotate(-11.3)"/>
<ellipse rx="8.5" ry="12.5" fill-opacity="0.42" transform="translate(449.5 997.1) rotate(11.3)"/>
<ellipse rx="8.5" ry="12.5" fill-opacity="0.42" transform="translate(697 998.6) rotate(-11.3)"/>
<ellipse rx="8.5" ry="12.5" fill-opacity="0.42" transform="translate(441.3 1037.9) rotate(11.3)"/>
<ellipse rx="8.5" ry="12.5" fill-opacity="0.42" transform="translate(705.3 1039.4) rotate(-11.3)"/>
<ellipse rx="8.5" ry="12.5" fill-opacity="0.42" transform="translate(433 1078.8) rotate(11.3)"/>
<ellipse rx="8.5" ry="12.5" fill-opacity="0.42" transform="translate(713.5 1080.3) rotate(-11.3)"/>
<ellipse rx="8.5" ry="12.5" fill-opacity="0.42" transform="translate(424.8 1119.6) rotate(11.3)"/>
<ellipse rx="8.5" ry="12.5" fill-opacity="0.42" transform="translate(721.8 1121.1) rotate(-11.3)"/>
<ellipse rx="8.5" ry="12.5" fill-opacity="0.42" transform="translate(416.5 1160.4) rotate(11.3)"/>
<ellipse rx="8.5" ry="12.5" fill-opacity="0.42" transform="translate(730 1161.9) rotate(-11.3)"/>
<ellipse rx="8.5" ry="12.5" fill-opacity="0.42" transform="translate(408.3 1201.2) rotate(11.3)"/>
<ellipse rx="8.5" ry="12.5" fill-opacity="0.42" transform="translate(738.3 1202.7) rotate(-11.3)"/>
<ellipse rx="8.5" ry="12.5" fill-opacity="0.42" transform="translate(400 1242.1) rotate(11.3)"/>
<ellipse rx="8.5" ry="12.5" fill-opacity="0.42" transform="translate(746.5 1243.6) rotate(-11.3)"/>
<ellipse rx="8.5" ry="12.5" fill-opacity="0.42" transform="translate(391.8 1282.9) rotate(11.3)"/>
<ellipse rx="8.5" ry="12.5" fill-opacity="0.42" transform="translate(754.8 1284.4) rotate(-11.3)"/>
<ellipse rx="8.5" ry="12.5" fill-opacity="0.42" transform="translate(383.5 1323.7) rotate(11.3)"/>
<ellipse rx="8.5" ry="12.5" fill-opacity="0.42" transform="translate(763 1325.2) rotate(-11.3)"/>
<ellipse rx="8.5" ry="12.5" fill-opacity="0.42" transform="translate(375.3 1364.5) rotate(11.3)"/>
<ellipse rx="8.5" ry="12.5" fill-opacity="0.42" transform="translate(771.3 1366) rotate(-11.3)"/>
<ellipse rx="8.5" ry="12.5" fill-opacity="0.42" transform="translate(367 1405.4) rotate(11.3)"/>
<ellipse rx="8.5" ry="12.5" fill-opacity="0.42" transform="translate(779.5 1406.9) rotate(-11.3)"/>
<ellipse rx="8.5" ry="12.5" fill-opacity="0.42" transform="translate(358.7 1446.2) rotate(11.3)"/>
<ellipse rx="8.5" ry="12.5" fill-opacity="0.42" transform="translate(787.8 1447.7) rotate(-11.3)"/>
<ellipse rx="8.5" ry="12.5" fill-opacity="0.42" transform="translate(350.5 1487) rotate(11.3)"/>
<ellipse rx="8.5" ry="12.5" fill-opacity="0.42" transform="translate(796 1488.5) rotate(-11.3)"/>
<ellipse rx="8.5" ry="12.5" fill-opacity="0.42" transform="translate(490.8 1005.3) rotate(11.3)"/>
<ellipse rx="8.5" ry="12.5" fill-opacity="0.42" transform="translate(655.8 1006.8) rotate(-11.3)"/>
<ellipse rx="8.5" ry="12.5" fill-opacity="0.42" transform="translate(482.5 1046.1) rotate(11.3)"/>
<ellipse rx="8.5" ry="12.5" fill-opacity="0.42" transform="translate(664 1047.6) rotate(-11.3)"/>
<ellipse rx="8.5" ry="12.5" fill-opacity="0.42" transform="translate(474.3 1086.9) rotate(11.3)"/>
<ellipse rx="8.5" ry="12.5" fill-opacity="0.42" transform="translate(672.3 1088.4) rotate(-11.3)"/>
<ellipse rx="8.5" ry="12.5" fill-opacity="0.42" transform="translate(466 1127.7) rotate(11.3)"/>
<ellipse rx="8.5" ry="12.5" fill-opacity="0.42" transform="translate(680.5 1129.2) rotate(-11.3)"/>
<ellipse rx="8.5" ry="12.5" fill-opacity="0.42" transform="translate(457.8 1168.6) rotate(11.3)"/>
<ellipse rx="8.5" ry="12.5" fill-opacity="0.42" transform="translate(688.8 1170.1) rotate(-11.3)"/>
<ellipse rx="8.5" ry="12.5" fill-opacity="0.42" transform="translate(449.5 1209.4) rotate(11.3)"/>
<ellipse rx="8.5" ry="12.5" fill-opacity="0.42" transform="translate(697 1210.9) rotate(-11.3)"/>
<ellipse rx="8.5" ry="12.5" fill-opacity="0.42" transform="translate(441.3 1250.2) rotate(11.3)"/>
<ellipse rx="8.5" ry="12.5" fill-opacity="0.42" transform="translate(705.3 1251.7) rotate(-11.3)"/>
<ellipse rx="8.5" ry="12.5" fill-opacity="0.42" transform="translate(433 1291.1) rotate(11.3)"/>
<ellipse rx="8.5" ry="12.5" fill-opacity="0.42" transform="translate(713.5 1292.6) rotate(-11.3)"/>
<ellipse rx="8.5" ry="12.5" fill-opacity="0.42" transform="translate(424.8 1331.9) rotate(11.3)"/>
<ellipse rx="8.5" ry="12.5" fill-opacity="0.42" transform="translate(721.8 1333.4) rotate(-11.3)"/>
<ellipse rx="8.5" ry="12.5" fill-opacity="0.42" transform="translate(416.5 1372.7) rotate(11.3)"/>
<ellipse rx="8.5" ry="12.5" fill-opacity="0.42" transform="translate(730 1374.2) rotate(-11.3)"/>
<ellipse rx="8.5" ry="12.5" fill-opacity="0.42" transform="translate(408.3 1413.5) rotate(11.3)"/>
<ellipse rx="8.5" ry="12.5" fill-opacity="0.42" transform="translate(738.3 1415) rotate(-11.3)"/>
<ellipse rx="8.5" ry="12.5" fill-opacity="0.42" transform="translate(400 1454.4) rotate(11.3)"/>
<ellipse rx="8.5" ry="12.5" fill-opacity="0.42" transform="translate(746.5 1455.9) rotate(-11.3)"/>
<ellipse rx="8.5" ry="12.5" fill-opacity="0.42" transform="translate(523.8 1054.3) rotate(11.3)"/>
<ellipse rx="8.5" ry="12.5" fill-opacity="0.42" transform="translate(622.8 1055.8) rotate(-11.3)"/>
<ellipse rx="8.5" ry="12.5" fill-opacity="0.42" transform="translate(515.5 1095.1) rotate(11.3)"/>
<ellipse rx="8.5" ry="12.5" fill-opacity="0.42" transform="translate(631 1096.6) rotate(-11.3)"/>
<ellipse rx="8.5" ry="12.5" fill-opacity="0.42" transform="translate(507.3 1135.9) rotate(11.3)"/>
<ellipse rx="8.5" ry="12.5" fill-opacity="0.42" transform="translate(639.3 1137.4) rotate(-11.3)"/>
<ellipse rx="8.5" ry="12.5" fill-opacity="0.42" transform="translate(499 1176.7) rotate(11.3)"/>
<ellipse rx="8.5" ry="12.5" fill-opacity="0.42" transform="translate(647.5 1178.2) rotate(-11.3)"/>
<ellipse rx="8.5" ry="12.5" fill-opacity="0.42" transform="translate(490.8 1217.6) rotate(11.3)"/>
<ellipse rx="8.5" ry="12.5" fill-opacity="0.42" transform="translate(655.8 1219.1) rotate(-11.3)"/>
<ellipse rx="8.5" ry="12.5" fill-opacity="0.42" transform="translate(482.5 1258.4) rotate(11.3)"/>
<ellipse rx="8.5" ry="12.5" fill-opacity="0.42" transform="translate(664 1259.9) rotate(-11.3)"/>
<ellipse rx="8.5" ry="12.5" fill-opacity="0.42" transform="translate(474.3 1299.2) rotate(11.3)"/>
<ellipse rx="8.5" ry="12.5" fill-opacity="0.42" transform="translate(672.3 1300.7) rotate(-11.3)"/>
<ellipse rx="8.5" ry="12.5" fill-opacity="0.42" transform="translate(466 1340) rotate(11.3)"/>
<ellipse rx="8.5" ry="12.5" fill-opacity="0.42" transform="translate(680.5 1341.5) rotate(-11.3)"/>
<ellipse rx="8.5" ry="12.5" fill-opacity="0.42" transform="translate(457.8 1380.9) rotate(11.3)"/>
<ellipse rx="8.5" ry="12.5" fill-opacity="0.42" transform="translate(688.8 1382.4) rotate(-11.3)"/>
<ellipse rx="8.5" ry="12.5" fill-opacity="0.42" transform="translate(449.5 1421.7) rotate(11.3)"/>
<ellipse rx="8.5" ry="12.5" fill-opacity="0.42" transform="translate(697 1423.2) rotate(-11.3)"/>
<ellipse rx="8.5" ry="12.5" fill-opacity="0.42" transform="translate(441.3 1462.5) rotate(11.3)"/>
<ellipse rx="8.5" ry="12.5" fill-opacity="0.42" transform="translate(705.3 1464) rotate(-11.3)"/>
<ellipse rx="8.5" ry="12.5" fill-opacity="0.42" transform="translate(523.8 1266.6) rotate(11.3)"/>
<ellipse rx="8.5" ry="12.5" fill-opacity="0.42" transform="translate(622.8 1268.1) rotate(-11.3)"/>
<ellipse rx="8.5" ry="12.5" fill-opacity="0.42" transform="translate(515.5 1307.4) rotate(11.3)"/>
<ellipse rx="8.5" ry="12.5" fill-opacity="0.42" transform="translate(631 1308.9) rotate(-11.3)"/>
<ellipse rx="8.5" ry="12.5" fill-opacity="0.42" transform="translate(507.3 1348.2) rotate(11.3)"/>
<ellipse rx="8.5" ry="12.5" fill-opacity="0.42" transform="translate(639.3 1349.7) rotate(-11.3)"/>
<ellipse rx="8.5" ry="12.5" fill-opacity="0.42" transform="translate(499 1389) rotate(11.3)"/>
<ellipse rx="8.5" ry="12.5" fill-opacity="0.42" transform="translate(647.5 1390.5) rotate(-11.3)"/>
<ellipse rx="8.5" ry="12.5" fill-opacity="0.42" transform="translate(490.8 1429.9) rotate(11.3)"/>
<ellipse rx="8.5" ry="12.5" fill-opacity="0.42" transform="translate(655.8 1431.4) rotate(-11.3)"/>
<ellipse rx="8.5" ry="12.5" fill-opacity="0.42" transform="translate(482.5 1470.7) rotate(11.3)"/>
<ellipse rx="8.5" ry="12.5" fill-opacity="0.42" transform="translate(664 1472.2) rotate(-11.3)"/>
<ellipse rx="8.5" ry="12.5" fill-opacity="0.42" transform="translate(523.8 1478.9) rotate(11.3)"/>
<ellipse rx="8.5" ry="12.5" fill-opacity="0.42" transform="translate(622.8 1480.4) rotate(-11.3)"/>
</g>
<ellipse rx="50" ry="260" fill="#fff" fill-opacity="0.08" transform="translate(573.3 1235) rotate(0)"/>
<ellipse rx="50" ry="260" fill="#fff" fill-opacity="0.08" transform="translate(1431.4 1235) rotate(0)"/>
<ellipse rx="7.5" ry="8" fill="#fff" fill-opacity="0.45" transform="translate(1431.4 982.3) rotate(0)"/>
<ellipse rx="7.5" ry="8" fill="#fff" fill-opacity="0.5" transform="translate(1431.4 1023.1) rotate(0)"/>
<ellipse rx="7.5" ry="8" fill="#fff" fill-opacity="0.5" transform="translate(1431.4 1021.6) rotate(0)"/>
<ellipse rx="7.5" ry="8" fill="#fff" fill-opacity="0.9" transform="translate(1385.4 1031.3) rotate(0)"/>
<ellipse rx="7.5" ry="8" fill="#fff" fill-opacity="0.9" transform="translate(1477.4 1029.8) rotate(0)"/>
<ellipse rx="7.5" ry="8" fill="#fff" fill-opacity="0.9" transform="translate(1407.9 1112.9) rotate(0)"/>
<ellipse rx="7.5" ry="8" fill="#fff" fill-opacity="0.9" transform="translate(1454.9 1111.4) rotate(0)"/>
<ellipse rx="7.5" ry="8" fill="#fff" fill-opacity="0.9" transform="translate(1409.4 1153.7) rotate(0)"/>
<ellipse rx="7.5" ry="8" fill="#fff" fill-opacity="0.9" transform="translate(1453.4 1152.2) rotate(0)"/>
<ellipse rx="7.5" ry="8" fill="#fff" fill-opacity="0.45" transform="translate(1431.4 1194.6) rotate(0)"/>
<ellipse rx="7.5" ry="8" fill="#fff" fill-opacity="0.45" transform="translate(1431.4 1193.1) rotate(0)"/>
<ellipse rx="7.5" ry="8" fill="#fff" fill-opacity="0.5" transform="translate(1431.4 1235.4) rotate(0)"/>
<ellipse rx="7.5" ry="8" fill="#fff" fill-opacity="0.5" transform="translate(1431.4 1233.9) rotate(0)"/>
<ellipse rx="7.5" ry="8" fill="#fff" fill-opacity="0.9" transform="translate(1385.4 1243.6) rotate(0)"/>
<ellipse rx="7.5" ry="8" fill="#fff" fill-opacity="0.9" transform="translate(1477.4 1242.1) rotate(0)"/>
<ellipse rx="7.5" ry="8" fill="#fff" fill-opacity="0.9" transform="translate(1407.9 1325.2) rotate(0)"/>
<ellipse rx="7.5" ry="8" fill="#fff" fill-opacity="0.9" transform="translate(1454.9 1323.7) rotate(0)"/>
<ellipse rx="7.5" ry="8" fill="#fff" fill-opacity="0.9" transform="translate(1409.4 1366) rotate(0)"/>
<ellipse rx="7.5" ry="8" fill="#fff" fill-opacity="0.9" transform="translate(1453.4 1364.5) rotate(0)"/>
<ellipse rx="7.5" ry="8" fill="#fff" fill-opacity="0.45" transform="translate(1431.4 1406.9) rotate(0)"/>
<ellipse rx="7.5" ry="8" fill="#fff" fill-opacity="0.45" transform="translate(1431.4 1405.4) rotate(0)"/>
<ellipse rx="7.5" ry="8" fill="#fff" fill-opacity="0.5" transform="translate(1431.4 1447.7) rotate(0)"/>
<ellipse rx="7.5" ry="8" fill="#fff" fill-opacity="0.5" transform="translate(1431.4 1446.2) rotate(0)"/>
<ellipse rx="7.5" ry="8" fill="#fff" fill-opacity="0.9" transform="translate(1385.4 1455.9) rotate(0)"/>
<ellipse rx="7.5" ry="8" fill="#fff" fill-opacity="0.9" transform="translate(1477.4 1454.4) rotate(0)"/>
<ellipse rx="7.5" ry="8" fill="#fff" fill-opacity="0.9" transform="translate(527.3 1013.4) rotate(0)"/>
<ellipse rx="7.5" ry="8" fill="#fff" fill-opacity="0.9" transform="translate(619.3 1014.9) rotate(0)"/>
<ellipse rx="7.5" ry="8" fill="#fff" fill-opacity="0.5" transform="translate(573.3 1021.6) rotate(0)"/>
<ellipse rx="7.5" ry="8" fill="#fff" fill-opacity="0.5" transform="translate(573.3 1023.1) rotate(0)"/>
<ellipse rx="7.5" ry="8" fill="#fff" fill-opacity="0.45" transform="translate(573.3 1062.4) rotate(0)"/>
<ellipse rx="7.5" ry="8" fill="#fff" fill-opacity="0.45" transform="translate(573.3 1063.9) rotate(0)"/>
<ellipse rx="7.5" ry="8" fill="#fff" fill-opacity="0.9" transform="translate(551.3 1103.2) rotate(0)"/>
<ellipse rx="7.5" ry="8" fill="#fff" fill-opacity="0.9" transform="translate(595.3 1104.7) rotate(0)"/>
<ellipse rx="7.5" ry="8" fill="#fff" fill-opacity="0.9" transform="translate(549.8 1144.1) rotate(0)"/>
<ellipse rx="7.5" ry="8" fill="#fff" fill-opacity="0.9" transform="translate(596.8 1145.6) rotate(0)"/>
<ellipse rx="7.5" ry="8" fill="#fff" fill-opacity="0.9" transform="translate(527.3 1225.7) rotate(0)"/>
<ellipse rx="7.5" ry="8" fill="#fff" fill-opacity="0.9" transform="translate(619.3 1227.2) rotate(0)"/>
<ellipse rx="7.5" ry="8" fill="#fff" fill-opacity="0.5" transform="translate(573.3 1233.9) rotate(0)"/>
<ellipse rx="7.5" ry="8" fill="#fff" fill-opacity="0.5" transform="translate(573.3 1235.4) rotate(0)"/>
<ellipse rx="7.5" ry="8" fill="#fff" fill-opacity="0.45" transform="translate(573.3 1274.7) rotate(0)"/>
<ellipse rx="7.5" ry="8" fill="#fff" fill-opacity="0.45" transform="translate(573.3 1276.2) rotate(0)"/>
<ellipse rx="7.5" ry="8" fill="#fff" fill-opacity="0.9" transform="translate(551.3 1315.6) rotate(0)"/>
<ellipse rx="7.5" ry="8" fill="#fff" fill-opacity="0.9" transform="translate(595.3 1317.1) rotate(0)"/>
<ellipse rx="7.5" ry="8" fill="#fff" fill-opacity="0.9" transform="translate(549.8 1356.4) rotate(0)"/>
<ellipse rx="7.5" ry="8" fill="#fff" fill-opacity="0.9" transform="translate(596.8 1357.9) rotate(0)"/>
<ellipse rx="7.5" ry="8" fill="#fff" fill-opacity="0.9" transform="translate(527.3 1438) rotate(0)"/>
<ellipse rx="7.5" ry="8" fill="#fff" fill-opacity="0.9" transform="translate(619.3 1439.5) rotate(0)"/>
<ellipse rx="7.5" ry="8" fill="#fff" fill-opacity="0.5" transform="translate(573.3 1446.2) rotate(0)"/>
<ellipse rx="7.5" ry="8" fill="#fff" fill-opacity="0.5" transform="translate(573.3 1447.7) rotate(0)"/>
<ellipse rx="7.5" ry="8" fill="#fff" fill-opacity="0.45" transform="translate(573.3 1487) rotate(0)"/>
<ellipse rx="7.5" ry="8" fill="#fff" fill-opacity="0.45" transform="translate(573.3 1488.5) rotate(0)"/>
<ellipse rx="6" ry="24" fill="#000" fill-opacity="0.68" transform="translate(597.3 1049.6) rotate(0)"/>
<ellipse rx="6" ry="24" fill="#000" fill-opacity="0.68" transform="translate(549.3 1049.6) rotate(0)"/>
<ellipse rx="7" ry="6" fill="#000" fill-opacity="0.6" transform="translate(573.3 1080.6) rotate(0)"/>
<ellipse rx="6" ry="7" fill="#000" fill-opacity="0.55" transform="translate(573.3 1124.6) rotate(0)"/>
<ellipse rx="5" ry="8" fill="#000" fill-opacity="0.55" transform="translate(620.3 1157.6) rotate(0)"/>
<ellipse rx="5" ry="8" fill="#000" fill-opacity="0.55" transform="translate(526.3 1157.6) rotate(0)"/>
<ellipse rx="9" ry="12" fill="#000" fill-opacity="0.75" transform="translate(573.3 1168.6) rotate(0)"/>
<ellipse rx="20" ry="7" fill="#000" fill-opacity="0.65" transform="translate(573.3 1199.6) rotate(0)"/>
<ellipse rx="6" ry="24" fill="#000" fill-opacity="0.68" transform="translate(597.3 1261.9) rotate(0)"/>
<ellipse rx="6" ry="24" fill="#000" fill-opacity="0.68" transform="translate(549.3 1261.9) rotate(0)"/>
<ellipse rx="7" ry="6" fill="#000" fill-opacity="0.6" transform="translate(573.3 1292.9) rotate(0)"/>
<ellipse rx="6" ry="7" fill="#000" fill-opacity="0.55" transform="translate(573.3 1336.9) rotate(0)"/>
<ellipse rx="5" ry="8" fill="#000" fill-opacity="0.55" transform="translate(620.3 1369.9) rotate(0)"/>
<ellipse rx="5" ry="8" fill="#000" fill-opacity="0.55" transform="translate(526.3 1369.9) rotate(0)"/>
<ellipse rx="9" ry="12" fill="#000" fill-opacity="0.75" transform="translate(573.3 1380.9) rotate(0)"/>
<ellipse rx="20" ry="7" fill="#000" fill-opacity="0.65" transform="translate(573.3 1411.9) rotate(0)"/>
<ellipse rx="6" ry="24" fill="#000" fill-opacity="0.68" transform="translate(597.3 1474.2) rotate(0)"/>
<ellipse rx="6" ry="24" fill="#000" fill-opacity="0.68" transform="translate(549.3 1474.2) rotate(0)"/>
<ellipse rx="6" ry="24" fill="#000" fill-opacity="0.68" transform="translate(1455.4 993.6) rotate(0)"/>
<ellipse rx="6" ry="24" fill="#000" fill-opacity="0.68" transform="translate(1407.4 993.6) rotate(0)"/>
<ellipse rx="6" ry="24" fill="#000" fill-opacity="0.68" transform="translate(1455.4 1205.9) rotate(0)"/>
<ellipse rx="6" ry="24" fill="#000" fill-opacity="0.68" transform="translate(1407.4 1205.9) rotate(0)"/>
<ellipse rx="7" ry="6" fill="#000" fill-opacity="0.6" transform="translate(1431.4 1174.9) rotate(0)"/>
<ellipse rx="6" ry="7" fill="#000" fill-opacity="0.55" transform="translate(1431.4 1130.9) rotate(0)"/>
<ellipse rx="5" ry="8" fill="#000" fill-opacity="0.55" transform="translate(1478.4 1097.9) rotate(0)"/>
<ellipse rx="5" ry="8" fill="#000" fill-opacity="0.55" transform="translate(1384.4 1097.9) rotate(0)"/>
<ellipse rx="9" ry="12" fill="#000" fill-opacity="0.75" transform="translate(1431.4 1086.9) rotate(0)"/>
<ellipse rx="20" ry="7" fill="#000" fill-opacity="0.65" transform="translate(1431.4 1055.9) rotate(0)"/>
<ellipse rx="6" ry="24" fill="#000" fill-opacity="0.68" transform="translate(1455.4 1418.2) rotate(0)"/>
<ellipse rx="6" ry="24" fill="#000" fill-opacity="0.68" transform="translate(1407.4 1418.2) rotate(0)"/>
<ellipse rx="7" ry="6" fill="#000" fill-opacity="0.6" transform="translate(1431.4 1387.2) rotate(0)"/>
<ellipse rx="6" ry="7" fill="#000" fill-opacity="0.55" transform="translate(1431.4 1343.2) rotate(0)"/>
<ellipse rx="5" ry="8" fill="#000" fill-opacity="0.55" transform="translate(1478.4 1310.2) rotate(0)"/>
<ellipse rx="5" ry="8" fill="#000" fill-opacity="0.55" transform="translate(1384.4 1310.2) rotate(0)"/>
<ellipse rx="9" ry="12" fill="#000" fill-opacity="0.75" transform="translate(1431.4 1299.2) rotate(0)"/>
<ellipse rx="20" ry="7" fill="#000" fill-opacity="0.65" transform="translate(1431.4 1268.2) rotate(0)"/>
</g></g>
<rect x="142.75" y="1022.05" width="1716.5" height="426.0" fill="none" stroke="#000" stroke-opacity="0.16" stroke-width="1.5"/>
<rect x="1885.5" y="1021.8" width="34.5" height="426.2" fill="url(#cbar)"/>
<text x="1933" y="1054" font-size="63" text-anchor="start">45</text>
<text x="1933" y="1459" font-size="63" text-anchor="start">10</text>
<text x="122" y="1043.5" font-size="63" text-anchor="end">1.5</text>
<text x="121.5" y="1461" font-size="63" text-anchor="end">-1.5</text>
<text transform="translate(72 1203.6) rotate(-90)" font-size="68" text-anchor="middle">Y (nm)</text>
<text x="124.5" y="893.5" font-size="123" text-anchor="start">(b)</text>
<text x="127.5" y="990" font-size="68.6" text-anchor="start">Ionic density (ions/nm<tspan font-size="45" dy="-22">3</tspan><tspan dy="22">)</tspan></text>
<text x="254" y="1545" font-size="63" text-anchor="middle">-5</text>
<text x="410" y="1545" font-size="63" text-anchor="middle">-4</text>
<text x="547.5" y="1545" font-size="63" text-anchor="middle">-3</text>
<text x="702.5" y="1545" font-size="63" text-anchor="middle">-2</text>
<text x="853.75" y="1545" font-size="63" text-anchor="middle">-1</text>
<text x="1002.5" y="1545" font-size="63" text-anchor="middle">0</text>
<text x="1153.25" y="1545" font-size="63" text-anchor="middle">1</text>
<text x="1288.75" y="1545" font-size="63" text-anchor="middle">2</text>
<text x="1440.5" y="1545" font-size="63" text-anchor="middle">3</text>
<text x="1592.5" y="1545" font-size="63" text-anchor="middle">4</text>
<text x="1744" y="1545" font-size="63" text-anchor="middle">5</text>
<text x="1027" y="1642.5" font-size="68" text-anchor="middle">X (nm)</text>
<clipPath id="chc"><rect x="146.3" y="1888.2" width="1723.1" height="427.3"/></clipPath>
<filter id="hc" filterUnits="userSpaceOnUse" x="116.30000000000001" y="1858.2" width="1783.1" height="487.3" color-interpolation-filters="sRGB"><feGaussianBlur stdDeviation="6.5"/><feComponentTransfer><feFuncR type="table" tableValues="0 0 0 0 0.5 1 1 1 0.5"/><feFuncG type="table" tableValues="0 0 0.5 1 1 1 0.5 0 0"/><feFuncB type="table" tableValues="0.5 1 1 1 0.5 0 0 0 0"/></feComponentTransfer></filter>
<g clip-path="url(#chc)"><g filter="url(#hc)">
<rect x="116.30000000000001" y="1858.2" width="1783.1" height="487.3" fill="rgb(96,96,96)"/>
<g stroke="#fff" stroke-width="12" stroke-opacity="0.6" stroke-linecap="round">
<line x1="1369" y1="1882.7" x2="1377.3" y2="1923.3"/>
<line x1="1508.2" y1="1880.4" x2="1499.9" y2="1921"/>
<line x1="1319.7" y1="1850.2" x2="1328" y2="1890.8"/>
<line x1="1328" y1="1890.8" x2="1336.3" y2="1931.4"/>
<line x1="1549.2" y1="1888.5" x2="1540.9" y2="1929.1"/>
<line x1="1336.3" y1="1931.4" x2="1344.6" y2="1972"/>
<line x1="1540.9" y1="1929.1" x2="1532.6" y2="1969.7"/>
<line x1="1344.6" y1="1972" x2="1352.9" y2="2012.6"/>
<line x1="1532.6" y1="1969.7" x2="1524.3" y2="2010.3"/>
<line x1="1352.9" y1="2012.6" x2="1361.2" y2="2053.2"/>
<line x1="1524.3" y1="2010.3" x2="1516" y2="2050.9"/>
<line x1="1361.2" y1="2053.2" x2="1369.5" y2="2093.8"/>
<line x1="1516" y1="2050.9" x2="1507.7" y2="2091.5"/>
<line x1="1369.5" y1="2093.8" x2="1377.8" y2="2134.4"/>
<line x1="1507.7" y1="2091.5" x2="1499.4" y2="2132.1"/>
<line x1="1278.8" y1="1858.4" x2="1287.1" y2="1899"/>
<line x1="1598.4" y1="1856.1" x2="1590.1" y2="1896.7"/>
<line x1="1287.1" y1="1899" x2="1295.4" y2="1939.6"/>
<line x1="1590.1" y1="1896.7" x2="1581.8" y2="1937.3"/>
<line x1="1295.4" y1="1939.6" x2="1303.7" y2="1980.2"/>
<line x1="1581.8" y1="1937.3" x2="1573.5" y2="1977.9"/>
<line x1="1303.7" y1="1980.2" x2="1312" y2="2020.8"/>
<line x1="1573.5" y1="1977.9" x2="1565.2" y2="2018.5"/>
<line x1="1312" y1="2020.8" x2="1320.3" y2="2061.4"/>
<line x1="1565.2" y1="2018.5" x2="1556.9" y2="2059.1"/>
<line x1="1320.3" y1="2061.4" x2="1328.6" y2="2102"/>
<line x1="1556.9" y1="2059.1" x2="1548.6" y2="2099.7"/>
<line x1="1328.6" y1="2102" x2="1336.9" y2="2142.6"/>
<line x1="1548.6" y1="2099.7" x2="1540.3" y2="2140.3"/>
<line x1="1336.9" y1="2142.6" x2="1345.2" y2="2183.2"/>
<line x1="1540.3" y1="2140.3" x2="1532" y2="2180.9"/>
<line x1="1345.2" y1="2183.2" x2="1353.5" y2="2223.8"/>
<line x1="1532" y1="2180.9" x2="1523.7" y2="2221.5"/>
<line x1="1353.5" y1="2223.8" x2="1361.8" y2="2264.4"/>
<line x1="1523.7" y1="2221.5" x2="1515.4" y2="2262.1"/>
<line x1="1361.8" y1="2264.4" x2="1370.1" y2="2305"/>
<line x1="1515.4" y1="2262.1" x2="1507.1" y2="2302.7"/>
<line x1="1370.1" y1="2305" x2="1378.4" y2="2345.6"/>
<line x1="1507.1" y1="2302.7" x2="1498.8" y2="2343.3"/>
<line x1="1237.8" y1="1866.6" x2="1246.1" y2="1907.2"/>
<line x1="1639.4" y1="1864.3" x2="1631.1" y2="1904.9"/>
<line x1="1246.1" y1="1907.2" x2="1254.4" y2="1947.8"/>
<line x1="1631.1" y1="1904.9" x2="1622.8" y2="1945.5"/>
<line x1="1254.4" y1="1947.8" x2="1262.7" y2="1988.4"/>
<line x1="1622.8" y1="1945.5" x2="1614.5" y2="1986.1"/>
<line x1="1262.7" y1="1988.4" x2="1271" y2="2029"/>
<line x1="1614.5" y1="1986.1" x2="1606.2" y2="2026.7"/>
<line x1="1271" y1="2029" x2="1279.3" y2="2069.6"/>
<line x1="1606.2" y1="2026.7" x2="1597.9" y2="2067.3"/>
<line x1="1279.3" y1="2069.6" x2="1287.6" y2="2110.2"/>
<line x1="1597.9" y1="2067.3" x2="1589.6" y2="2107.9"/>
<line x1="1287.6" y1="2110.2" x2="1295.9" y2="2150.8"/>
<line x1="1589.6" y1="2107.9" x2="1581.3" y2="2148.5"/>
<line x1="1295.9" y1="2150.8" x2="1304.2" y2="2191.4"/>
<line x1="1581.3" y1="2148.5" x2="1573" y2="2189.1"/>
<line x1="1304.2" y1="2191.4" x2="1312.5" y2="2232"/>
<line x1="1573" y1="2189.1" x2="1564.7" y2="2229.7"/>
<line x1="1312.5" y1="2232" x2="1320.8" y2="2272.6"/>
<line x1="1564.7" y1="2229.7" x2="1556.4" y2="2270.3"/>
<line x1="1320.8" y1="2272.6" x2="1329.1" y2="2313.2"/>
<line x1="1556.4" y1="2270.3" x2="1548.1" y2="2310.9"/>
<line x1="1329.1" y1="2313.2" x2="1337.4" y2="2353.8"/>
<line x1="1548.1" y1="2310.9" x2="1539.8" y2="2351.5"/>
<line x1="1196.8" y1="1874.8" x2="1205.1" y2="1915.3"/>
<line x1="1680.4" y1="1872.5" x2="1672.1" y2="1913"/>
<line x1="1205.1" y1="1915.3" x2="1213.4" y2="1956"/>
<line x1="1672.1" y1="1913" x2="1663.8" y2="1953.7"/>
<line x1="1213.4" y1="1956" x2="1221.7" y2="1996.5"/>
<line x1="1663.8" y1="1953.7" x2="1655.5" y2="1994.2"/>
<line x1="1221.7" y1="1996.5" x2="1230" y2="2037.2"/>
<line x1="1655.5" y1="1994.2" x2="1647.2" y2="2034.9"/>
<line x1="1230" y1="2037.2" x2="1238.3" y2="2077.8"/>
<line x1="1647.2" y1="2034.9" x2="1638.9" y2="2075.4"/>
<line x1="1238.3" y1="2077.8" x2="1246.6" y2="2118.4"/>
<line x1="1638.9" y1="2075.4" x2="1630.6" y2="2116.1"/>
<line x1="1246.6" y1="2118.4" x2="1254.9" y2="2159"/>
<line x1="1630.6" y1="2116.1" x2="1622.3" y2="2156.7"/>
<line x1="1254.9" y1="2159" x2="1263.2" y2="2199.6"/>
<line x1="1622.3" y1="2156.7" x2="1614" y2="2197.2"/>
<line x1="1263.2" y1="2199.6" x2="1271.5" y2="2240.2"/>
<line x1="1614" y1="2197.2" x2="1605.7" y2="2237.8"/>
<line x1="1271.5" y1="2240.2" x2="1279.8" y2="2280.8"/>
<line x1="1605.7" y1="2237.8" x2="1597.4" y2="2278.4"/>
<line x1="1279.8" y1="2280.8" x2="1288.1" y2="2321.4"/>
<line x1="1597.4" y1="2278.4" x2="1589.1" y2="2319.1"/>
<line x1="1155.8" y1="1882.9" x2="1164.1" y2="1923.5"/>
<line x1="1721.4" y1="1880.6" x2="1713.1" y2="1921.2"/>
<line x1="1164.1" y1="1923.5" x2="1172.4" y2="1964.1"/>
<line x1="1713.1" y1="1921.2" x2="1704.8" y2="1961.8"/>
<line x1="1172.4" y1="1964.1" x2="1180.7" y2="2004.7"/>
<line x1="1704.8" y1="1961.8" x2="1696.5" y2="2002.4"/>
<line x1="1180.7" y1="2004.7" x2="1189" y2="2045.3"/>
<line x1="1696.5" y1="2002.4" x2="1688.2" y2="2043"/>
<line x1="1189" y1="2045.3" x2="1197.3" y2="2085.9"/>
<line x1="1688.2" y1="2043" x2="1679.9" y2="2083.6"/>
<line x1="1197.3" y1="2085.9" x2="1205.6" y2="2126.5"/>
<line x1="1679.9" y1="2083.6" x2="1671.6" y2="2124.2"/>
<line x1="1205.6" y1="2126.5" x2="1213.9" y2="2167.1"/>
<line x1="1671.6" y1="2124.2" x2="1663.3" y2="2164.8"/>
<line x1="1213.9" y1="2167.1" x2="1222.2" y2="2207.7"/>
<line x1="1663.3" y1="2164.8" x2="1655" y2="2205.4"/>
<line x1="1222.2" y1="2207.7" x2="1230.5" y2="2248.3"/>
<line x1="1655" y1="2205.4" x2="1646.7" y2="2246"/>
<line x1="1230.5" y1="2248.3" x2="1238.8" y2="2288.9"/>
<line x1="1646.7" y1="2246" x2="1638.4" y2="2286.6"/>
<line x1="1238.8" y1="2288.9" x2="1247.1" y2="2329.5"/>
<line x1="1638.4" y1="2286.6" x2="1630.1" y2="2327.2"/>
<line x1="1106.5" y1="1850.5" x2="1114.8" y2="1891.1"/>
<line x1="1114.8" y1="1891.1" x2="1123.1" y2="1931.7"/>
<line x1="1762.4" y1="1888.8" x2="1754.1" y2="1929.4"/>
<line x1="1123.1" y1="1931.7" x2="1131.4" y2="1972.3"/>
<line x1="1754.1" y1="1929.4" x2="1745.8" y2="1970"/>
<line x1="1131.4" y1="1972.3" x2="1139.7" y2="2012.9"/>
<line x1="1745.8" y1="1970" x2="1737.5" y2="2010.6"/>
<line x1="1139.7" y1="2012.9" x2="1148" y2="2053.5"/>
<line x1="1737.5" y1="2010.6" x2="1729.2" y2="2051.2"/>
<line x1="1148" y1="2053.5" x2="1156.3" y2="2094.1"/>
<line x1="1729.2" y1="2051.2" x2="1720.9" y2="2091.8"/>
<line x1="1156.3" y1="2094.1" x2="1164.6" y2="2134.7"/>
<line x1="1720.9" y1="2091.8" x2="1712.6" y2="2132.4"/>
<line x1="1164.6" y1="2134.7" x2="1172.9" y2="2175.3"/>
<line x1="1712.6" y1="2132.4" x2="1704.3" y2="2173"/>
<line x1="1172.9" y1="2175.3" x2="1181.2" y2="2215.9"/>
<line x1="1704.3" y1="2173" x2="1696" y2="2213.6"/>
<line x1="1181.2" y1="2215.9" x2="1189.5" y2="2256.5"/>
<line x1="1696" y1="2213.6" x2="1687.7" y2="2254.2"/>
<line x1="1189.5" y1="2256.5" x2="1197.8" y2="2297.1"/>
<line x1="1687.7" y1="2254.2" x2="1679.4" y2="2294.8"/>
<line x1="1197.8" y1="2297.1" x2="1206.1" y2="2337.7"/>
<line x1="1679.4" y1="2294.8" x2="1671.1" y2="2335.4"/>
<line x1="1065.6" y1="1858.7" x2="1073.9" y2="1899.3"/>
<line x1="1811.6" y1="1856.4" x2="1803.3" y2="1897"/>
<line x1="1073.9" y1="1899.3" x2="1082.2" y2="1939.9"/>
<line x1="1803.3" y1="1897" x2="1795" y2="1937.6"/>
<line x1="1082.2" y1="1939.9" x2="1090.5" y2="1980.5"/>
<line x1="1795" y1="1937.6" x2="1786.7" y2="1978.2"/>
<line x1="1090.5" y1="1980.5" x2="1098.8" y2="2021.1"/>
<line x1="1786.7" y1="1978.2" x2="1778.4" y2="2018.8"/>
<line x1="1098.8" y1="2021.1" x2="1107.1" y2="2061.7"/>
<line x1="1778.4" y1="2018.8" x2="1770.1" y2="2059.4"/>
<line x1="1107.1" y1="2061.7" x2="1115.4" y2="2102.3"/>
<line x1="1770.1" y1="2059.4" x2="1761.8" y2="2100"/>
<line x1="1115.4" y1="2102.3" x2="1123.7" y2="2142.9"/>
<line x1="1761.8" y1="2100" x2="1753.5" y2="2140.6"/>
<line x1="1123.7" y1="2142.9" x2="1132" y2="2183.5"/>
<line x1="1753.5" y1="2140.6" x2="1745.2" y2="2181.2"/>
<line x1="1132" y1="2183.5" x2="1140.3" y2="2224.1"/>
<line x1="1745.2" y1="2181.2" x2="1736.9" y2="2221.8"/>
<line x1="1140.3" y1="2224.1" x2="1148.6" y2="2264.7"/>
<line x1="1736.9" y1="2221.8" x2="1728.6" y2="2262.4"/>
<line x1="1148.6" y1="2264.7" x2="1156.9" y2="2305.3"/>
<line x1="1728.6" y1="2262.4" x2="1720.3" y2="2303"/>
<line x1="1156.9" y1="2305.3" x2="1165.2" y2="2345.9"/>
<line x1="1720.3" y1="2303" x2="1712" y2="2343.6"/>
<line x1="131.8" y1="1863" x2="123.5" y2="1903.6"/>
<line x1="1024.6" y1="1866.8" x2="1032.9" y2="1907.4"/>
<line x1="1852.6" y1="1864.5" x2="1844.3" y2="1905.1"/>
<line x1="123.5" y1="1903.6" x2="115.2" y2="1944.2"/>
<line x1="1032.9" y1="1907.4" x2="1041.2" y2="1948"/>
<line x1="1844.3" y1="1905.1" x2="1836" y2="1945.7"/>
<line x1="115.2" y1="1944.2" x2="106.9" y2="1984.8"/>
<line x1="1041.2" y1="1948" x2="1049.5" y2="1988.6"/>
<line x1="1836" y1="1945.7" x2="1827.7" y2="1986.3"/>
<line x1="1049.5" y1="1988.6" x2="1057.8" y2="2029.2"/>
<line x1="1827.7" y1="1986.3" x2="1819.4" y2="2026.9"/>
<line x1="1057.8" y1="2029.2" x2="1066.1" y2="2069.8"/>
<line x1="1819.4" y1="2026.9" x2="1811.1" y2="2067.5"/>
<line x1="1066.1" y1="2069.8" x2="1074.4" y2="2110.4"/>
<line x1="1811.1" y1="2067.5" x2="1802.8" y2="2108.1"/>
<line x1="1074.4" y1="2110.4" x2="1082.7" y2="2151"/>
<line x1="1802.8" y1="2108.1" x2="1794.5" y2="2148.7"/>
<line x1="1082.7" y1="2151" x2="1091" y2="2191.6"/>
<line x1="1794.5" y1="2148.7" x2="1786.2" y2="2189.3"/>
<line x1="1091" y1="2191.6" x2="1099.3" y2="2232.2"/>
<line x1="1786.2" y1="2189.3" x2="1777.9" y2="2229.9"/>
<line x1="1099.3" y1="2232.2" x2="1107.6" y2="2272.8"/>
<line x1="1777.9" y1="2229.9" x2="1769.6" y2="2270.5"/>
<line x1="1107.6" y1="2272.8" x2="1115.9" y2="2313.4"/>
<line x1="1769.6" y1="2270.5" x2="1761.3" y2="2311.1"/>
<line x1="1115.9" y1="2313.4" x2="1124.2" y2="2354"/>
<line x1="1761.3" y1="2311.1" x2="1753" y2="2351.7"/>
<line x1="172.8" y1="1871.2" x2="164.5" y2="1911.8"/>
<line x1="983.6" y1="1875" x2="991.9" y2="1915.6"/>
<line x1="1893.6" y1="1872.7" x2="1885.3" y2="1913.3"/>
<line x1="164.5" y1="1911.8" x2="156.2" y2="1952.4"/>
<line x1="991.9" y1="1915.6" x2="1000.2" y2="1956.2"/>
<line x1="1885.3" y1="1913.3" x2="1877" y2="1953.9"/>
<line x1="156.2" y1="1952.4" x2="147.9" y2="1993"/>
<line x1="1000.2" y1="1956.2" x2="1008.5" y2="1996.8"/>
<line x1="1877" y1="1953.9" x2="1868.7" y2="1994.5"/>
<line x1="147.9" y1="1993" x2="139.6" y2="2033.6"/>
<line x1="1008.5" y1="1996.8" x2="1016.8" y2="2037.4"/>
<line x1="1868.7" y1="1994.5" x2="1860.4" y2="2035.1"/>
<line x1="139.6" y1="2033.6" x2="131.3" y2="2074.2"/>
<line x1="1016.8" y1="2037.4" x2="1025.1" y2="2078"/>
<line x1="1860.4" y1="2035.1" x2="1852.1" y2="2075.7"/>
<line x1="131.3" y1="2074.2" x2="123" y2="2114.8"/>
<line x1="1025.1" y1="2078" x2="1033.4" y2="2118.6"/>
<line x1="1852.1" y1="2075.7" x2="1843.8" y2="2116.3"/>
<line x1="123" y1="2114.8" x2="114.7" y2="2155.4"/>
<line x1="1033.4" y1="2118.6" x2="1041.7" y2="2159.2"/>
<line x1="1843.8" y1="2116.3" x2="1835.5" y2="2156.9"/>
<line x1="114.7" y1="2155.4" x2="106.4" y2="2196"/>
<line x1="1041.7" y1="2159.2" x2="1050" y2="2199.8"/>
<line x1="1835.5" y1="2156.9" x2="1827.2" y2="2197.5"/>
<line x1="1050" y1="2199.8" x2="1058.3" y2="2240.4"/>
<line x1="1827.2" y1="2197.5" x2="1818.9" y2="2238.1"/>
<line x1="1058.3" y1="2240.4" x2="1066.6" y2="2281"/>
<line x1="1818.9" y1="2238.1" x2="1810.6" y2="2278.7"/>
<line x1="1066.6" y1="2281" x2="1074.9" y2="2321.6"/>
<line x1="1810.6" y1="2278.7" x2="1802.3" y2="2319.3"/>
<line x1="213.8" y1="1879.4" x2="205.5" y2="1920"/>
<line x1="942.6" y1="1883.2" x2="950.9" y2="1923.8"/>
<line x1="205.5" y1="1920" x2="197.2" y2="1960.6"/>
<line x1="950.9" y1="1923.8" x2="959.2" y2="1964.4"/>
<line x1="197.2" y1="1960.6" x2="188.9" y2="2001.2"/>
<line x1="959.2" y1="1964.4" x2="967.5" y2="2005"/>
<line x1="188.9" y1="2001.2" x2="180.6" y2="2041.8"/>
<line x1="967.5" y1="2005" x2="975.8" y2="2045.6"/>
<line x1="180.6" y1="2041.8" x2="172.3" y2="2082.4"/>
<line x1="975.8" y1="2045.6" x2="984.1" y2="2086.2"/>
<line x1="1901.4" y1="2043.3" x2="1893.1" y2="2083.9"/>
<line x1="172.3" y1="2082.4" x2="164" y2="2123"/>
<line x1="984.1" y1="2086.2" x2="992.4" y2="2126.8"/>
<line x1="1893.1" y1="2083.9" x2="1884.8" y2="2124.5"/>
<line x1="164" y1="2123" x2="155.7" y2="2163.6"/>
<line x1="992.4" y1="2126.8" x2="1000.7" y2="2167.4"/>
<line x1="1884.8" y1="2124.5" x2="1876.5" y2="2165.1"/>
<line x1="155.7" y1="2163.6" x2="147.4" y2="2204.2"/>
<line x1="1000.7" y1="2167.4" x2="1009" y2="2208"/>
<line x1="1876.5" y1="2165.1" x2="1868.2" y2="2205.7"/>
<line x1="147.4" y1="2204.2" x2="139.1" y2="2244.8"/>
<line x1="1009" y1="2208" x2="1017.3" y2="2248.6"/>
<line x1="1868.2" y1="2205.7" x2="1859.9" y2="2246.3"/>
<line x1="139.1" y1="2244.8" x2="130.8" y2="2285.4"/>
<line x1="1017.3" y1="2248.6" x2="1025.6" y2="2289.2"/>
<line x1="1859.9" y1="2246.3" x2="1851.6" y2="2286.9"/>
<line x1="130.8" y1="2285.4" x2="122.5" y2="2326"/>
<line x1="1025.6" y1="2289.2" x2="1033.9" y2="2329.8"/>
<line x1="1851.6" y1="2286.9" x2="1843.3" y2="2327.5"/>
<line x1="893.3" y1="1850.7" x2="901.6" y2="1891.3"/>
<line x1="254.8" y1="1887.5" x2="246.5" y2="1928.1"/>
<line x1="901.6" y1="1891.3" x2="909.9" y2="1931.9"/>
<line x1="246.5" y1="1928.1" x2="238.2" y2="1968.7"/>
<line x1="909.9" y1="1931.9" x2="918.2" y2="1972.5"/>
<line x1="238.2" y1="1968.7" x2="229.9" y2="2009.3"/>
<line x1="918.2" y1="1972.5" x2="926.5" y2="2013.1"/>
<line x1="229.9" y1="2009.3" x2="221.6" y2="2049.9"/>
<line x1="926.5" y1="2013.1" x2="934.8" y2="2053.7"/>
<line x1="221.6" y1="2049.9" x2="213.3" y2="2090.5"/>
<line x1="934.8" y1="2053.7" x2="943.1" y2="2094.3"/>
<line x1="213.3" y1="2090.5" x2="205" y2="2131.1"/>
<line x1="943.1" y1="2094.3" x2="951.4" y2="2134.9"/>
<line x1="205" y1="2131.1" x2="196.7" y2="2171.7"/>
<line x1="951.4" y1="2134.9" x2="959.7" y2="2175.5"/>
<line x1="196.7" y1="2171.7" x2="188.4" y2="2212.3"/>
<line x1="959.7" y1="2175.5" x2="968" y2="2216.1"/>
<line x1="188.4" y1="2212.3" x2="180.1" y2="2252.9"/>
<line x1="968" y1="2216.1" x2="976.3" y2="2256.7"/>
<line x1="1909.2" y1="2213.8" x2="1900.9" y2="2254.4"/>
<line x1="180.1" y1="2252.9" x2="171.8" y2="2293.5"/>
<line x1="976.3" y1="2256.7" x2="984.6" y2="2297.3"/>
<line x1="1900.9" y1="2254.4" x2="1892.6" y2="2295"/>
<line x1="171.8" y1="2293.5" x2="163.5" y2="2334.1"/>
<line x1="984.6" y1="2297.3" x2="992.9" y2="2337.9"/>
<line x1="1892.6" y1="2295" x2="1884.3" y2="2335.6"/>
<line x1="304" y1="1855.1" x2="295.7" y2="1895.7"/>
<line x1="852.4" y1="1858.9" x2="860.7" y2="1899.5"/>
<line x1="295.7" y1="1895.7" x2="287.4" y2="1936.3"/>
<line x1="860.7" y1="1899.5" x2="869" y2="1940.1"/>
<line x1="287.4" y1="1936.3" x2="279.1" y2="1976.9"/>
<line x1="869" y1="1940.1" x2="877.3" y2="1980.7"/>
<line x1="279.1" y1="1976.9" x2="270.8" y2="2017.5"/>
<line x1="877.3" y1="1980.7" x2="885.6" y2="2021.3"/>
<line x1="270.8" y1="2017.5" x2="262.5" y2="2058.1"/>
<line x1="885.6" y1="2021.3" x2="893.9" y2="2061.9"/>
<line x1="262.5" y1="2058.1" x2="254.2" y2="2098.7"/>
<line x1="893.9" y1="2061.9" x2="902.2" y2="2102.5"/>
<line x1="254.2" y1="2098.7" x2="245.9" y2="2139.3"/>
<line x1="902.2" y1="2102.5" x2="910.5" y2="2143.1"/>
<line x1="245.9" y1="2139.3" x2="237.6" y2="2179.9"/>
<line x1="910.5" y1="2143.1" x2="918.8" y2="2183.7"/>
<line x1="237.6" y1="2179.9" x2="229.3" y2="2220.5"/>
<line x1="918.8" y1="2183.7" x2="927.1" y2="2224.3"/>
<line x1="229.3" y1="2220.5" x2="221" y2="2261.1"/>
<line x1="927.1" y1="2224.3" x2="935.4" y2="2264.9"/>
<line x1="221" y1="2261.1" x2="212.7" y2="2301.7"/>
<line x1="935.4" y1="2264.9" x2="943.7" y2="2305.5"/>
<line x1="212.7" y1="2301.7" x2="204.4" y2="2342.3"/>
<line x1="943.7" y1="2305.5" x2="952" y2="2346.1"/>
<line x1="345" y1="1863.3" x2="336.7" y2="1903.9"/>
<line x1="811.4" y1="1867.1" x2="819.7" y2="1907.7"/>
<line x1="336.7" y1="1903.9" x2="328.4" y2="1944.5"/>
<line x1="819.7" y1="1907.7" x2="828" y2="1948.3"/>
<line x1="328.4" y1="1944.5" x2="320.1" y2="1985.1"/>
<line x1="828" y1="1948.3" x2="836.3" y2="1988.9"/>
<line x1="320.1" y1="1985.1" x2="311.8" y2="2025.7"/>
<line x1="836.3" y1="1988.9" x2="844.6" y2="2029.5"/>
<line x1="311.8" y1="2025.7" x2="303.5" y2="2066.3"/>
<line x1="844.6" y1="2029.5" x2="852.9" y2="2070.1"/>
<line x1="303.5" y1="2066.3" x2="295.2" y2="2106.9"/>
<line x1="852.9" y1="2070.1" x2="861.2" y2="2110.7"/>
<line x1="295.2" y1="2106.9" x2="286.9" y2="2147.5"/>
<line x1="861.2" y1="2110.7" x2="869.5" y2="2151.3"/>
<line x1="286.9" y1="2147.5" x2="278.6" y2="2188.1"/>
<line x1="869.5" y1="2151.3" x2="877.8" y2="2191.9"/>
<line x1="278.6" y1="2188.1" x2="270.3" y2="2228.7"/>
<line x1="877.8" y1="2191.9" x2="886.1" y2="2232.5"/>
<line x1="270.3" y1="2228.7" x2="262" y2="2269.3"/>
<line x1="886.1" y1="2232.5" x2="894.4" y2="2273.1"/>
<line x1="262" y1="2269.3" x2="253.7" y2="2309.9"/>
<line x1="894.4" y1="2273.1" x2="902.7" y2="2313.7"/>
<line x1="253.7" y1="2309.9" x2="245.4" y2="2350.5"/>
<line x1="902.7" y1="2313.7" x2="911" y2="2354.3"/>
<line x1="386" y1="1871.4" x2="377.7" y2="1912"/>
<line x1="770.4" y1="1875.2" x2="778.7" y2="1915.8"/>
<line x1="377.7" y1="1912" x2="369.4" y2="1952.6"/>
<line x1="778.7" y1="1915.8" x2="787" y2="1956.4"/>
<line x1="369.4" y1="1952.6" x2="361.1" y2="1993.2"/>
<line x1="787" y1="1956.4" x2="795.3" y2="1997"/>
<line x1="361.1" y1="1993.2" x2="352.8" y2="2033.8"/>
<line x1="795.3" y1="1997" x2="803.6" y2="2037.6"/>
<line x1="352.8" y1="2033.8" x2="344.5" y2="2074.4"/>
<line x1="803.6" y1="2037.6" x2="811.9" y2="2078.2"/>
<line x1="344.5" y1="2074.4" x2="336.2" y2="2115"/>
<line x1="811.9" y1="2078.2" x2="820.2" y2="2118.8"/>
<line x1="336.2" y1="2115" x2="327.9" y2="2155.6"/>
<line x1="820.2" y1="2118.8" x2="828.5" y2="2159.4"/>
<line x1="327.9" y1="2155.6" x2="319.6" y2="2196.2"/>
<line x1="828.5" y1="2159.4" x2="836.8" y2="2200.1"/>
<line x1="319.6" y1="2196.2" x2="311.3" y2="2236.8"/>
<line x1="836.8" y1="2200.1" x2="845.1" y2="2240.7"/>
<line x1="311.3" y1="2236.8" x2="303" y2="2277.4"/>
<line x1="845.1" y1="2240.7" x2="853.4" y2="2281.2"/>
<line x1="303" y1="2277.4" x2="294.7" y2="2318"/>
<line x1="853.4" y1="2281.2" x2="861.7" y2="2321.8"/>
<line x1="427" y1="1879.6" x2="418.7" y2="1920.2"/>
<line x1="729.4" y1="1883.4" x2="737.7" y2="1924"/>
<line x1="418.7" y1="1920.2" x2="410.4" y2="1960.8"/>
<line x1="737.7" y1="1924" x2="746" y2="1964.6"/>
<line x1="410.4" y1="1960.8" x2="402.1" y2="2001.4"/>
<line x1="746" y1="1964.6" x2="754.3" y2="2005.2"/>
<line x1="402.1" y1="2001.4" x2="393.8" y2="2042"/>
<line x1="754.3" y1="2005.2" x2="762.6" y2="2045.8"/>
<line x1="393.8" y1="2042" x2="385.5" y2="2082.6"/>
<line x1="762.6" y1="2045.8" x2="770.9" y2="2086.4"/>
<line x1="385.5" y1="2082.6" x2="377.2" y2="2123.2"/>
<line x1="770.9" y1="2086.4" x2="779.2" y2="2127"/>
<line x1="377.2" y1="2123.2" x2="368.9" y2="2163.8"/>
<line x1="779.2" y1="2127" x2="787.5" y2="2167.6"/>
<line x1="368.9" y1="2163.8" x2="360.6" y2="2204.4"/>
<line x1="787.5" y1="2167.6" x2="795.8" y2="2208.2"/>
<line x1="360.6" y1="2204.4" x2="352.3" y2="2245"/>
<line x1="795.8" y1="2208.2" x2="804.1" y2="2248.8"/>
<line x1="352.3" y1="2245" x2="344" y2="2285.6"/>
<line x1="804.1" y1="2248.8" x2="812.4" y2="2289.4"/>
<line x1="344" y1="2285.6" x2="335.7" y2="2326.2"/>
<line x1="812.4" y1="2289.4" x2="820.7" y2="2330"/>
<line x1="680.1" y1="1851" x2="688.4" y2="1891.6"/>
<line x1="468" y1="1887.8" x2="459.7" y2="1928.4"/>
<line x1="688.4" y1="1891.6" x2="696.7" y2="1932.2"/>
<line x1="459.7" y1="1928.4" x2="451.4" y2="1969"/>
<line x1="696.7" y1="1932.2" x2="705" y2="1972.8"/>
<line x1="451.4" y1="1969" x2="443.1" y2="2009.6"/>
<line x1="705" y1="1972.8" x2="713.3" y2="2013.4"/>
<line x1="443.1" y1="2009.6" x2="434.8" y2="2050.2"/>
<line x1="713.3" y1="2013.4" x2="721.6" y2="2054"/>
<line x1="434.8" y1="2050.2" x2="426.5" y2="2090.8"/>
<line x1="721.6" y1="2054" x2="729.9" y2="2094.6"/>
<line x1="426.5" y1="2090.8" x2="418.2" y2="2131.4"/>
<line x1="729.9" y1="2094.6" x2="738.2" y2="2135.2"/>
<line x1="418.2" y1="2131.4" x2="409.9" y2="2172"/>
<line x1="738.2" y1="2135.2" x2="746.5" y2="2175.8"/>
<line x1="409.9" y1="2172" x2="401.6" y2="2212.6"/>
<line x1="746.5" y1="2175.8" x2="754.8" y2="2216.4"/>
<line x1="401.6" y1="2212.6" x2="393.3" y2="2253.2"/>
<line x1="754.8" y1="2216.4" x2="763.1" y2="2257"/>
<line x1="393.3" y1="2253.2" x2="385" y2="2293.8"/>
<line x1="763.1" y1="2257" x2="771.4" y2="2297.6"/>
<line x1="385" y1="2293.8" x2="376.7" y2="2334.4"/>
<line x1="771.4" y1="2297.6" x2="779.7" y2="2338.2"/>
<line x1="517.2" y1="1855.4" x2="508.9" y2="1896"/>
<line x1="639.2" y1="1859.2" x2="647.5" y2="1899.8"/>
<line x1="508.9" y1="1896" x2="500.6" y2="1936.6"/>
<line x1="647.5" y1="1899.8" x2="655.8" y2="1940.4"/>
<line x1="500.6" y1="1936.6" x2="492.3" y2="1977.2"/>
<line x1="655.8" y1="1940.4" x2="664.1" y2="1981"/>
<line x1="492.3" y1="1977.2" x2="484" y2="2017.8"/>
<line x1="664.1" y1="1981" x2="672.4" y2="2021.6"/>
<line x1="484" y1="2017.8" x2="475.7" y2="2058.4"/>
<line x1="672.4" y1="2021.6" x2="680.7" y2="2062.2"/>
<line x1="475.7" y1="2058.4" x2="467.4" y2="2099"/>
<line x1="680.7" y1="2062.2" x2="689" y2="2102.8"/>
<line x1="467.4" y1="2099" x2="459.1" y2="2139.6"/>
<line x1="689" y1="2102.8" x2="697.3" y2="2143.4"/>
<line x1="459.1" y1="2139.6" x2="450.8" y2="2180.2"/>
<line x1="697.3" y1="2143.4" x2="705.6" y2="2184"/>
<line x1="450.8" y1="2180.2" x2="442.5" y2="2220.8"/>
<line x1="705.6" y1="2184" x2="713.9" y2="2224.6"/>
<line x1="442.5" y1="2220.8" x2="434.2" y2="2261.4"/>
<line x1="713.9" y1="2224.6" x2="722.2" y2="2265.2"/>
<line x1="434.2" y1="2261.4" x2="425.9" y2="2302"/>
<line x1="722.2" y1="2265.2" x2="730.5" y2="2305.8"/>
<line x1="425.9" y1="2302" x2="417.6" y2="2342.6"/>
<line x1="730.5" y1="2305.8" x2="738.8" y2="2346.4"/>
<line x1="516.7" y1="2066.5" x2="508.4" y2="2107.1"/>
<line x1="639.7" y1="2070.3" x2="648" y2="2110.9"/>
<line x1="508.4" y1="2107.1" x2="500.1" y2="2147.7"/>
<line x1="648" y1="2110.9" x2="656.3" y2="2151.5"/>
<line x1="500.1" y1="2147.7" x2="491.8" y2="2188.3"/>
<line x1="656.3" y1="2151.5" x2="664.6" y2="2192.1"/>
<line x1="491.8" y1="2188.3" x2="483.5" y2="2228.9"/>
<line x1="664.6" y1="2192.1" x2="672.9" y2="2232.7"/>
<line x1="483.5" y1="2228.9" x2="475.2" y2="2269.5"/>
<line x1="672.9" y1="2232.7" x2="681.2" y2="2273.3"/>
<line x1="475.2" y1="2269.5" x2="466.9" y2="2310.1"/>
<line x1="681.2" y1="2273.3" x2="689.5" y2="2313.9"/>
<line x1="466.9" y1="2310.1" x2="458.6" y2="2350.7"/>
<line x1="689.5" y1="2313.9" x2="697.8" y2="2354.5"/>
<line x1="516.2" y1="2277.7" x2="507.9" y2="2318.3"/>
<line x1="640.2" y1="2281.5" x2="648.5" y2="2322.1"/>
</g>
<g fill="#fff" fill-opacity="0.17">
<ellipse rx="19" ry="23" transform="translate(1319.7 1850.2) rotate(-11.6)"/>
<ellipse rx="19" ry="23" transform="translate(1328 1890.8) rotate(-11.6)"/>
<ellipse rx="19" ry="23" transform="translate(1549.2 1888.5) rotate(11.6)"/>
<ellipse rx="19" ry="23" transform="translate(1336.3 1931.4) rotate(-11.6)"/>
<ellipse rx="19" ry="23" transform="translate(1540.9 1929.1) rotate(11.6)"/>
<ellipse rx="19" ry="23" transform="translate(1344.6 1972) rotate(-11.6)"/>
<ellipse rx="19" ry="23" transform="translate(1532.6 1969.7) rotate(11.6)"/>
<ellipse rx="19" ry="23" transform="translate(1352.9 2012.6) rotate(-11.6)"/>
<ellipse rx="19" ry="23" transform="translate(1524.3 2010.3) rotate(11.6)"/>
<ellipse rx="19" ry="23" transform="translate(1361.2 2053.2) rotate(-11.6)"/>
<ellipse rx="19" ry="23" transform="translate(1516 2050.9) rotate(11.6)"/>
<ellipse rx="19" ry="23" transform="translate(1278.8 1858.4) rotate(-11.6)"/>
<ellipse rx="19" ry="23" transform="translate(1598.4 1856.1) rotate(11.6)"/>
<ellipse rx="19" ry="23" transform="translate(1287.1 1899) rotate(-11.6)"/>
<ellipse rx="19" ry="23" transform="translate(1590.1 1896.7) rotate(11.6)"/>
<ellipse rx="19" ry="23" transform="translate(1295.4 1939.6) rotate(-11.6)"/>
<ellipse rx="19" ry="23" transform="translate(1581.8 1937.3) rotate(11.6)"/>
<ellipse rx="19" ry="23" transform="translate(1303.7 1980.2) rotate(-11.6)"/>
<ellipse rx="19" ry="23" transform="translate(1573.5 1977.9) rotate(11.6)"/>
<ellipse rx="19" ry="23" transform="translate(1312 2020.8) rotate(-11.6)"/>
<ellipse rx="19" ry="23" transform="translate(1565.2 2018.5) rotate(11.6)"/>
<ellipse rx="19" ry="23" transform="translate(1320.3 2061.4) rotate(-11.6)"/>
<ellipse rx="19" ry="23" transform="translate(1556.9 2059.1) rotate(11.6)"/>
<ellipse rx="19" ry="23" transform="translate(1328.6 2102) rotate(-11.6)"/>
<ellipse rx="19" ry="23" transform="translate(1548.6 2099.7) rotate(11.6)"/>
<ellipse rx="19" ry="23" transform="translate(1336.9 2142.6) rotate(-11.6)"/>
<ellipse rx="19" ry="23" transform="translate(1540.3 2140.3) rotate(11.6)"/>
<ellipse rx="19" ry="23" transform="translate(1345.2 2183.2) rotate(-11.6)"/>
<ellipse rx="19" ry="23" transform="translate(1532 2180.9) rotate(11.6)"/>
<ellipse rx="19" ry="23" transform="translate(1353.5 2223.8) rotate(-11.6)"/>
<ellipse rx="19" ry="23" transform="translate(1523.7 2221.5) rotate(11.6)"/>
<ellipse rx="19" ry="23" transform="translate(1361.8 2264.4) rotate(-11.6)"/>
<ellipse rx="19" ry="23" transform="translate(1515.4 2262.1) rotate(11.6)"/>
<ellipse rx="19" ry="23" transform="translate(1237.8 1866.6) rotate(-11.6)"/>
<ellipse rx="19" ry="23" transform="translate(1639.4 1864.3) rotate(11.6)"/>
<ellipse rx="19" ry="23" transform="translate(1246.1 1907.2) rotate(-11.6)"/>
<ellipse rx="19" ry="23" transform="translate(1631.1 1904.9) rotate(11.6)"/>
<ellipse rx="19" ry="23" transform="translate(1254.4 1947.8) rotate(-11.6)"/>
<ellipse rx="19" ry="23" transform="translate(1622.8 1945.5) rotate(11.6)"/>
<ellipse rx="19" ry="23" transform="translate(1262.7 1988.4) rotate(-11.6)"/>
<ellipse rx="19" ry="23" transform="translate(1614.5 1986.1) rotate(11.6)"/>
<ellipse rx="19" ry="23" transform="translate(1271 2029) rotate(-11.6)"/>
<ellipse rx="19" ry="23" transform="translate(1606.2 2026.7) rotate(11.6)"/>
<ellipse rx="19" ry="23" transform="translate(1279.3 2069.6) rotate(-11.6)"/>
<ellipse rx="19" ry="23" transform="translate(1597.9 2067.3) rotate(11.6)"/>
<ellipse rx="19" ry="23" transform="translate(1287.6 2110.2) rotate(-11.6)"/>
<ellipse rx="19" ry="23" transform="translate(1589.6 2107.9) rotate(11.6)"/>
<ellipse rx="19" ry="23" transform="translate(1295.9 2150.8) rotate(-11.6)"/>
<ellipse rx="19" ry="23" transform="translate(1581.3 2148.5) rotate(11.6)"/>
<ellipse rx="19" ry="23" transform="translate(1304.2 2191.4) rotate(-11.6)"/>
<ellipse rx="19" ry="23" transform="translate(1573 2189.1) rotate(11.6)"/>
<ellipse rx="19" ry="23" transform="translate(1312.5 2232) rotate(-11.6)"/>
<ellipse rx="19" ry="23" transform="translate(1564.7 2229.7) rotate(11.6)"/>
<ellipse rx="19" ry="23" transform="translate(1320.8 2272.6) rotate(-11.6)"/>
<ellipse rx="19" ry="23" transform="translate(1556.4 2270.3) rotate(11.6)"/>
<ellipse rx="19" ry="23" transform="translate(1329.1 2313.2) rotate(-11.6)"/>
<ellipse rx="19" ry="23" transform="translate(1548.1 2310.9) rotate(11.6)"/>
<ellipse rx="19" ry="23" transform="translate(1337.4 2353.8) rotate(-11.6)"/>
<ellipse rx="19" ry="23" transform="translate(1539.8 2351.5) rotate(11.6)"/>
<ellipse rx="19" ry="23" transform="translate(1196.8 1874.8) rotate(-11.6)"/>
<ellipse rx="19" ry="23" transform="translate(1680.4 1872.5) rotate(11.6)"/>
<ellipse rx="19" ry="23" transform="translate(1205.1 1915.3) rotate(-11.6)"/>
<ellipse rx="19" ry="23" transform="translate(1672.1 1913) rotate(11.6)"/>
<ellipse rx="19" ry="23" transform="translate(1213.4 1956) rotate(-11.6)"/>
<ellipse rx="19" ry="23" transform="translate(1663.8 1953.7) rotate(11.6)"/>
<ellipse rx="19" ry="23" transform="translate(1221.7 1996.5) rotate(-11.6)"/>
<ellipse rx="19" ry="23" transform="translate(1655.5 1994.2) rotate(11.6)"/>
<ellipse rx="19" ry="23" transform="translate(1230 2037.2) rotate(-11.6)"/>
<ellipse rx="19" ry="23" transform="translate(1647.2 2034.9) rotate(11.6)"/>
<ellipse rx="19" ry="23" transform="translate(1238.3 2077.8) rotate(-11.6)"/>
<ellipse rx="19" ry="23" transform="translate(1638.9 2075.4) rotate(11.6)"/>
<ellipse rx="19" ry="23" transform="translate(1246.6 2118.4) rotate(-11.6)"/>
<ellipse rx="19" ry="23" transform="translate(1630.6 2116.1) rotate(11.6)"/>
<ellipse rx="19" ry="23" transform="translate(1254.9 2159) rotate(-11.6)"/>
<ellipse rx="19" ry="23" transform="translate(1622.3 2156.7) rotate(11.6)"/>
<ellipse rx="19" ry="23" transform="translate(1263.2 2199.6) rotate(-11.6)"/>
<ellipse rx="19" ry="23" transform="translate(1614 2197.2) rotate(11.6)"/>
<ellipse rx="19" ry="23" transform="translate(1271.5 2240.2) rotate(-11.6)"/>
<ellipse rx="19" ry="23" transform="translate(1605.7 2237.8) rotate(11.6)"/>
<ellipse rx="19" ry="23" transform="translate(1279.8 2280.8) rotate(-11.6)"/>
<ellipse rx="19" ry="23" transform="translate(1597.4 2278.4) rotate(11.6)"/>
<ellipse rx="19" ry="23" transform="translate(1288.1 2321.4) rotate(-11.6)"/>
<ellipse rx="19" ry="23" transform="translate(1589.1 2319.1) rotate(11.6)"/>
<ellipse rx="19" ry="23" transform="translate(1155.8 1882.9) rotate(-11.6)"/>
<ellipse rx="19" ry="23" transform="translate(1721.4 1880.6) rotate(11.6)"/>
<ellipse rx="19" ry="23" transform="translate(1164.1 1923.5) rotate(-11.6)"/>
<ellipse rx="19" ry="23" transform="translate(1713.1 1921.2) rotate(11.6)"/>
<ellipse rx="19" ry="23" transform="translate(1172.4 1964.1) rotate(-11.6)"/>
<ellipse rx="19" ry="23" transform="translate(1704.8 1961.8) rotate(11.6)"/>
<ellipse rx="19" ry="23" transform="translate(1180.7 2004.7) rotate(-11.6)"/>
<ellipse rx="19" ry="23" transform="translate(1696.5 2002.4) rotate(11.6)"/>
<ellipse rx="19" ry="23" transform="translate(1189 2045.3) rotate(-11.6)"/>
<ellipse rx="19" ry="23" transform="translate(1688.2 2043) rotate(11.6)"/>
<ellipse rx="19" ry="23" transform="translate(1197.3 2085.9) rotate(-11.6)"/>
<ellipse rx="19" ry="23" transform="translate(1679.9 2083.6) rotate(11.6)"/>
<ellipse rx="19" ry="23" transform="translate(1205.6 2126.5) rotate(-11.6)"/>
<ellipse rx="19" ry="23" transform="translate(1671.6 2124.2) rotate(11.6)"/>
<ellipse rx="19" ry="23" transform="translate(1213.9 2167.1) rotate(-11.6)"/>
<ellipse rx="19" ry="23" transform="translate(1663.3 2164.8) rotate(11.6)"/>
<ellipse rx="19" ry="23" transform="translate(1222.2 2207.7) rotate(-11.6)"/>
<ellipse rx="19" ry="23" transform="translate(1655 2205.4) rotate(11.6)"/>
<ellipse rx="19" ry="23" transform="translate(1230.5 2248.3) rotate(-11.6)"/>
<ellipse rx="19" ry="23" transform="translate(1646.7 2246) rotate(11.6)"/>
<ellipse rx="19" ry="23" transform="translate(1238.8 2288.9) rotate(-11.6)"/>
<ellipse rx="19" ry="23" transform="translate(1638.4 2286.6) rotate(11.6)"/>
<ellipse rx="19" ry="23" transform="translate(1247.1 2329.5) rotate(-11.6)"/>
<ellipse rx="19" ry="23" transform="translate(1630.1 2327.2) rotate(11.6)"/>
<ellipse rx="19" ry="23" transform="translate(1106.5 1850.5) rotate(-11.6)"/>
<ellipse rx="19" ry="23" transform="translate(1114.8 1891.1) rotate(-11.6)"/>
<ellipse rx="19" ry="23" transform="translate(1762.4 1888.8) rotate(11.6)"/>
<ellipse rx="19" ry="23" transform="translate(1123.1 1931.7) rotate(-11.6)"/>
<ellipse rx="19" ry="23" transform="translate(1754.1 1929.4) rotate(11.6)"/>
<ellipse rx="19" ry="23" transform="translate(1131.4 1972.3) rotate(-11.6)"/>
<ellipse rx="19" ry="23" transform="translate(1745.8 1970) rotate(11.6)"/>
<ellipse rx="19" ry="23" transform="translate(1139.7 2012.9) rotate(-11.6)"/>
<ellipse rx="19" ry="23" transform="translate(1737.5 2010.6) rotate(11.6)"/>
<ellipse rx="19" ry="23" transform="translate(1148 2053.5) rotate(-11.6)"/>
<ellipse rx="19" ry="23" transform="translate(1729.2 2051.2) rotate(11.6)"/>
<ellipse rx="19" ry="23" transform="translate(1156.3 2094.1) rotate(-11.6)"/>
<ellipse rx="19" ry="23" transform="translate(1720.9 2091.8) rotate(11.6)"/>
<ellipse rx="19" ry="23" transform="translate(1164.6 2134.7) rotate(-11.6)"/>
<ellipse rx="19" ry="23" transform="translate(1712.6 2132.4) rotate(11.6)"/>
<ellipse rx="19" ry="23" transform="translate(1172.9 2175.3) rotate(-11.6)"/>
<ellipse rx="19" ry="23" transform="translate(1704.3 2173) rotate(11.6)"/>
<ellipse rx="19" ry="23" transform="translate(1181.2 2215.9) rotate(-11.6)"/>
<ellipse rx="19" ry="23" transform="translate(1696 2213.6) rotate(11.6)"/>
<ellipse rx="19" ry="23" transform="translate(1189.5 2256.5) rotate(-11.6)"/>
<ellipse rx="19" ry="23" transform="translate(1687.7 2254.2) rotate(11.6)"/>
<ellipse rx="19" ry="23" transform="translate(1197.8 2297.1) rotate(-11.6)"/>
<ellipse rx="19" ry="23" transform="translate(1679.4 2294.8) rotate(11.6)"/>
<ellipse rx="19" ry="23" transform="translate(1206.1 2337.7) rotate(-11.6)"/>
<ellipse rx="19" ry="23" transform="translate(1671.1 2335.4) rotate(11.6)"/>
<ellipse rx="19" ry="23" transform="translate(1065.6 1858.7) rotate(-11.6)"/>
<ellipse rx="19" ry="23" transform="translate(1811.6 1856.4) rotate(11.6)"/>
<ellipse rx="19" ry="23" transform="translate(1073.9 1899.3) rotate(-11.6)"/>
<ellipse rx="19" ry="23" transform="translate(1803.3 1897) rotate(11.6)"/>
<ellipse rx="19" ry="23" transform="translate(1082.2 1939.9) rotate(-11.6)"/>
<ellipse rx="19" ry="23" transform="translate(1795 1937.6) rotate(11.6)"/>
<ellipse rx="19" ry="23" transform="translate(1090.5 1980.5) rotate(-11.6)"/>
<ellipse rx="19" ry="23" transform="translate(1786.7 1978.2) rotate(11.6)"/>
<ellipse rx="19" ry="23" transform="translate(1098.8 2021.1) rotate(-11.6)"/>
<ellipse rx="19" ry="23" transform="translate(1778.4 2018.8) rotate(11.6)"/>
<ellipse rx="19" ry="23" transform="translate(1107.1 2061.7) rotate(-11.6)"/>
<ellipse rx="19" ry="23" transform="translate(1770.1 2059.4) rotate(11.6)"/>
<ellipse rx="19" ry="23" transform="translate(1115.4 2102.3) rotate(-11.6)"/>
<ellipse rx="19" ry="23" transform="translate(1761.8 2100) rotate(11.6)"/>
<ellipse rx="19" ry="23" transform="translate(1123.7 2142.9) rotate(-11.6)"/>
<ellipse rx="19" ry="23" transform="translate(1753.5 2140.6) rotate(11.6)"/>
<ellipse rx="19" ry="23" transform="translate(1132 2183.5) rotate(-11.6)"/>
<ellipse rx="19" ry="23" transform="translate(1745.2 2181.2) rotate(11.6)"/>
<ellipse rx="19" ry="23" transform="translate(1140.3 2224.1) rotate(-11.6)"/>
<ellipse rx="19" ry="23" transform="translate(1736.9 2221.8) rotate(11.6)"/>
<ellipse rx="19" ry="23" transform="translate(1148.6 2264.7) rotate(-11.6)"/>
<ellipse rx="19" ry="23" transform="translate(1728.6 2262.4) rotate(11.6)"/>
<ellipse rx="19" ry="23" transform="translate(1156.9 2305.3) rotate(-11.6)"/>
<ellipse rx="19" ry="23" transform="translate(1720.3 2303) rotate(11.6)"/>
<ellipse rx="19" ry="23" transform="translate(1165.2 2345.9) rotate(-11.6)"/>
<ellipse rx="19" ry="23" transform="translate(1712 2343.6) rotate(11.6)"/>
<ellipse rx="19" ry="23" transform="translate(131.8 1863) rotate(11.6)"/>
<ellipse rx="19" ry="23" transform="translate(1024.6 1866.8) rotate(-11.6)"/>
<ellipse rx="19" ry="23" transform="translate(1852.6 1864.5) rotate(11.6)"/>
<ellipse rx="19" ry="23" transform="translate(123.5 1903.6) rotate(11.6)"/>
<ellipse rx="19" ry="23" transform="translate(1032.9 1907.4) rotate(-11.6)"/>
<ellipse rx="19" ry="23" transform="translate(1844.3 1905.1) rotate(11.6)"/>
<ellipse rx="19" ry="23" transform="translate(115.2 1944.2) rotate(11.6)"/>
<ellipse rx="19" ry="23" transform="translate(1041.2 1948) rotate(-11.6)"/>
<ellipse rx="19" ry="23" transform="translate(1836 1945.7) rotate(11.6)"/>
<ellipse rx="19" ry="23" transform="translate(106.9 1984.8) rotate(11.6)"/>
<ellipse rx="19" ry="23" transform="translate(1049.5 1988.6) rotate(-11.6)"/>
<ellipse rx="19" ry="23" transform="translate(1827.7 1986.3) rotate(11.6)"/>
<ellipse rx="19" ry="23" transform="translate(1057.8 2029.2) rotate(-11.6)"/>
<ellipse rx="19" ry="23" transform="translate(1819.4 2026.9) rotate(11.6)"/>
<ellipse rx="19" ry="23" transform="translate(1066.1 2069.8) rotate(-11.6)"/>
<ellipse rx="19" ry="23" transform="translate(1811.1 2067.5) rotate(11.6)"/>
<ellipse rx="19" ry="23" transform="translate(1074.4 2110.4) rotate(-11.6)"/>
<ellipse rx="19" ry="23" transform="translate(1802.8 2108.1) rotate(11.6)"/>
<ellipse rx="19" ry="23" transform="translate(1082.7 2151) rotate(-11.6)"/>
<ellipse rx="19" ry="23" transform="translate(1794.5 2148.7) rotate(11.6)"/>
<ellipse rx="19" ry="23" transform="translate(1091 2191.6) rotate(-11.6)"/>
<ellipse rx="19" ry="23" transform="translate(1786.2 2189.3) rotate(11.6)"/>
<ellipse rx="19" ry="23" transform="translate(1099.3 2232.2) rotate(-11.6)"/>
<ellipse rx="19" ry="23" transform="translate(1777.9 2229.9) rotate(11.6)"/>
<ellipse rx="19" ry="23" transform="translate(1107.6 2272.8) rotate(-11.6)"/>
<ellipse rx="19" ry="23" transform="translate(1769.6 2270.5) rotate(11.6)"/>
<ellipse rx="19" ry="23" transform="translate(1115.9 2313.4) rotate(-11.6)"/>
<ellipse rx="19" ry="23" transform="translate(1761.3 2311.1) rotate(11.6)"/>
<ellipse rx="19" ry="23" transform="translate(1124.2 2354) rotate(-11.6)"/>
<ellipse rx="19" ry="23" transform="translate(1753 2351.7) rotate(11.6)"/>
<ellipse rx="19" ry="23" transform="translate(172.8 1871.2) rotate(11.6)"/>
<ellipse rx="19" ry="23" transform="translate(983.6 1875) rotate(-11.6)"/>
<ellipse rx="19" ry="23" transform="translate(1893.6 1872.7) rotate(11.6)"/>
<ellipse rx="19" ry="23" transform="translate(164.5 1911.8) rotate(11.6)"/>
<ellipse rx="19" ry="23" transform="translate(991.9 1915.6) rotate(-11.6)"/>
<ellipse rx="19" ry="23" transform="translate(1885.3 1913.3) rotate(11.6)"/>
<ellipse rx="19" ry="23" transform="translate(156.2 1952.4) rotate(11.6)"/>
<ellipse rx="19" ry="23" transform="translate(1000.2 1956.2) rotate(-11.6)"/>
<ellipse rx="19" ry="23" transform="translate(1877 1953.9) rotate(11.6)"/>
<ellipse rx="19" ry="23" transform="translate(147.9 1993) rotate(11.6)"/>
<ellipse rx="19" ry="23" transform="translate(1008.5 1996.8) rotate(-11.6)"/>
<ellipse rx="19" ry="23" transform="translate(1868.7 1994.5) rotate(11.6)"/>
<ellipse rx="19" ry="23" transform="translate(139.6 2033.6) rotate(11.6)"/>
<ellipse rx="19" ry="23" transform="translate(1016.8 2037.4) rotate(-11.6)"/>
<ellipse rx="19" ry="23" transform="translate(1860.4 2035.1) rotate(11.6)"/>
<ellipse rx="19" ry="23" transform="translate(131.3 2074.2) rotate(11.6)"/>
<ellipse rx="19" ry="23" transform="translate(1025.1 2078) rotate(-11.6)"/>
<ellipse rx="19" ry="23" transform="translate(1852.1 2075.7) rotate(11.6)"/>
<ellipse rx="19" ry="23" transform="translate(123 2114.8) rotate(11.6)"/>
<ellipse rx="19" ry="23" transform="translate(1033.4 2118.6) rotate(-11.6)"/>
<ellipse rx="19" ry="23" transform="translate(1843.8 2116.3) rotate(11.6)"/>
<ellipse rx="19" ry="23" transform="translate(114.7 2155.4) rotate(11.6)"/>
<ellipse rx="19" ry="23" transform="translate(1041.7 2159.2) rotate(-11.6)"/>
<ellipse rx="19" ry="23" transform="translate(1835.5 2156.9) rotate(11.6)"/>
<ellipse rx="19" ry="23" transform="translate(106.4 2196) rotate(11.6)"/>
<ellipse rx="19" ry="23" transform="translate(1050 2199.8) rotate(-11.6)"/>
<ellipse rx="19" ry="23" transform="translate(1827.2 2197.5) rotate(11.6)"/>
<ellipse rx="19" ry="23" transform="translate(1058.3 2240.4) rotate(-11.6)"/>
<ellipse rx="19" ry="23" transform="translate(1818.9 2238.1) rotate(11.6)"/>
<ellipse rx="19" ry="23" transform="translate(1066.6 2281) rotate(-11.6)"/>
<ellipse rx="19" ry="23" transform="translate(1810.6 2278.7) rotate(11.6)"/>
<ellipse rx="19" ry="23" transform="translate(1074.9 2321.6) rotate(-11.6)"/>
<ellipse rx="19" ry="23" transform="translate(1802.3 2319.3) rotate(11.6)"/>
<ellipse rx="19" ry="23" transform="translate(213.8 1879.4) rotate(11.6)"/>
<ellipse rx="19" ry="23" transform="translate(942.6 1883.2) rotate(-11.6)"/>
<ellipse rx="19" ry="23" transform="translate(205.5 1920) rotate(11.6)"/>
<ellipse rx="19" ry="23" transform="translate(950.9 1923.8) rotate(-11.6)"/>
<ellipse rx="19" ry="23" transform="translate(197.2 1960.6) rotate(11.6)"/>
<ellipse rx="19" ry="23" transform="translate(959.2 1964.4) rotate(-11.6)"/>
<ellipse rx="19" ry="23" transform="translate(188.9 2001.2) rotate(11.6)"/>
<ellipse rx="19" ry="23" transform="translate(967.5 2005) rotate(-11.6)"/>
<ellipse rx="19" ry="23" transform="translate(180.6 2041.8) rotate(11.6)"/>
<ellipse rx="19" ry="23" transform="translate(975.8 2045.6) rotate(-11.6)"/>
<ellipse rx="19" ry="23" transform="translate(1901.4 2043.3) rotate(11.6)"/>
<ellipse rx="19" ry="23" transform="translate(172.3 2082.4) rotate(11.6)"/>
<ellipse rx="19" ry="23" transform="translate(984.1 2086.2) rotate(-11.6)"/>
<ellipse rx="19" ry="23" transform="translate(1893.1 2083.9) rotate(11.6)"/>
<ellipse rx="19" ry="23" transform="translate(164 2123) rotate(11.6)"/>
<ellipse rx="19" ry="23" transform="translate(992.4 2126.8) rotate(-11.6)"/>
<ellipse rx="19" ry="23" transform="translate(1884.8 2124.5) rotate(11.6)"/>
<ellipse rx="19" ry="23" transform="translate(155.7 2163.6) rotate(11.6)"/>
<ellipse rx="19" ry="23" transform="translate(1000.7 2167.4) rotate(-11.6)"/>
<ellipse rx="19" ry="23" transform="translate(1876.5 2165.1) rotate(11.6)"/>
<ellipse rx="19" ry="23" transform="translate(147.4 2204.2) rotate(11.6)"/>
<ellipse rx="19" ry="23" transform="translate(1009 2208) rotate(-11.6)"/>
<ellipse rx="19" ry="23" transform="translate(1868.2 2205.7) rotate(11.6)"/>
<ellipse rx="19" ry="23" transform="translate(139.1 2244.8) rotate(11.6)"/>
<ellipse rx="19" ry="23" transform="translate(1017.3 2248.6) rotate(-11.6)"/>
<ellipse rx="19" ry="23" transform="translate(1859.9 2246.3) rotate(11.6)"/>
<ellipse rx="19" ry="23" transform="translate(130.8 2285.4) rotate(11.6)"/>
<ellipse rx="19" ry="23" transform="translate(1025.6 2289.2) rotate(-11.6)"/>
<ellipse rx="19" ry="23" transform="translate(1851.6 2286.9) rotate(11.6)"/>
<ellipse rx="19" ry="23" transform="translate(122.5 2326) rotate(11.6)"/>
<ellipse rx="19" ry="23" transform="translate(1033.9 2329.8) rotate(-11.6)"/>
<ellipse rx="19" ry="23" transform="translate(1843.3 2327.5) rotate(11.6)"/>
<ellipse rx="19" ry="23" transform="translate(893.3 1850.7) rotate(-11.6)"/>
<ellipse rx="19" ry="23" transform="translate(254.8 1887.5) rotate(11.6)"/>
<ellipse rx="19" ry="23" transform="translate(901.6 1891.3) rotate(-11.6)"/>
<ellipse rx="19" ry="23" transform="translate(246.5 1928.1) rotate(11.6)"/>
<ellipse rx="19" ry="23" transform="translate(909.9 1931.9) rotate(-11.6)"/>
<ellipse rx="19" ry="23" transform="translate(238.2 1968.7) rotate(11.6)"/>
<ellipse rx="19" ry="23" transform="translate(918.2 1972.5) rotate(-11.6)"/>
<ellipse rx="19" ry="23" transform="translate(229.9 2009.3) rotate(11.6)"/>
<ellipse rx="19" ry="23" transform="translate(926.5 2013.1) rotate(-11.6)"/>
<ellipse rx="19" ry="23" transform="translate(221.6 2049.9) rotate(11.6)"/>
<ellipse rx="19" ry="23" transform="translate(934.8 2053.7) rotate(-11.6)"/>
<ellipse rx="19" ry="23" transform="translate(213.3 2090.5) rotate(11.6)"/>
<ellipse rx="19" ry="23" transform="translate(943.1 2094.3) rotate(-11.6)"/>
<ellipse rx="19" ry="23" transform="translate(205 2131.1) rotate(11.6)"/>
<ellipse rx="19" ry="23" transform="translate(951.4 2134.9) rotate(-11.6)"/>
<ellipse rx="19" ry="23" transform="translate(196.7 2171.7) rotate(11.6)"/>
<ellipse rx="19" ry="23" transform="translate(959.7 2175.5) rotate(-11.6)"/>
<ellipse rx="19" ry="23" transform="translate(188.4 2212.3) rotate(11.6)"/>
<ellipse rx="19" ry="23" transform="translate(968 2216.1) rotate(-11.6)"/>
<ellipse rx="19" ry="23" transform="translate(1909.2 2213.8) rotate(11.6)"/>
<ellipse rx="19" ry="23" transform="translate(180.1 2252.9) rotate(11.6)"/>
<ellipse rx="19" ry="23" transform="translate(976.3 2256.7) rotate(-11.6)"/>
<ellipse rx="19" ry="23" transform="translate(1900.9 2254.4) rotate(11.6)"/>
<ellipse rx="19" ry="23" transform="translate(171.8 2293.5) rotate(11.6)"/>
<ellipse rx="19" ry="23" transform="translate(984.6 2297.3) rotate(-11.6)"/>
<ellipse rx="19" ry="23" transform="translate(1892.6 2295) rotate(11.6)"/>
<ellipse rx="19" ry="23" transform="translate(163.5 2334.1) rotate(11.6)"/>
<ellipse rx="19" ry="23" transform="translate(992.9 2337.9) rotate(-11.6)"/>
<ellipse rx="19" ry="23" transform="translate(1884.3 2335.6) rotate(11.6)"/>
<ellipse rx="19" ry="23" transform="translate(304 1855.1) rotate(11.6)"/>
<ellipse rx="19" ry="23" transform="translate(852.4 1858.9) rotate(-11.6)"/>
<ellipse rx="19" ry="23" transform="translate(295.7 1895.7) rotate(11.6)"/>
<ellipse rx="19" ry="23" transform="translate(860.7 1899.5) rotate(-11.6)"/>
<ellipse rx="19" ry="23" transform="translate(287.4 1936.3) rotate(11.6)"/>
<ellipse rx="19" ry="23" transform="translate(869 1940.1) rotate(-11.6)"/>
<ellipse rx="19" ry="23" transform="translate(279.1 1976.9) rotate(11.6)"/>
<ellipse rx="19" ry="23" transform="translate(877.3 1980.7) rotate(-11.6)"/>
<ellipse rx="19" ry="23" transform="translate(270.8 2017.5) rotate(11.6)"/>
<ellipse rx="19" ry="23" transform="translate(885.6 2021.3) rotate(-11.6)"/>
<ellipse rx="19" ry="23" transform="translate(262.5 2058.1) rotate(11.6)"/>
<ellipse rx="19" ry="23" transform="translate(893.9 2061.9) rotate(-11.6)"/>
<ellipse rx="19" ry="23" transform="translate(254.2 2098.7) rotate(11.6)"/>
<ellipse rx="19" ry="23" transform="translate(902.2 2102.5) rotate(-11.6)"/>
<ellipse rx="19" ry="23" transform="translate(245.9 2139.3) rotate(11.6)"/>
<ellipse rx="19" ry="23" transform="translate(910.5 2143.1) rotate(-11.6)"/>
<ellipse rx="19" ry="23" transform="translate(237.6 2179.9) rotate(11.6)"/>
<ellipse rx="19" ry="23" transform="translate(918.8 2183.7) rotate(-11.6)"/>
<ellipse rx="19" ry="23" transform="translate(229.3 2220.5) rotate(11.6)"/>
<ellipse rx="19" ry="23" transform="translate(927.1 2224.3) rotate(-11.6)"/>
<ellipse rx="19" ry="23" transform="translate(221 2261.1) rotate(11.6)"/>
<ellipse rx="19" ry="23" transform="translate(935.4 2264.9) rotate(-11.6)"/>
<ellipse rx="19" ry="23" transform="translate(212.7 2301.7) rotate(11.6)"/>
<ellipse rx="19" ry="23" transform="translate(943.7 2305.5) rotate(-11.6)"/>
<ellipse rx="19" ry="23" transform="translate(204.4 2342.3) rotate(11.6)"/>
<ellipse rx="19" ry="23" transform="translate(952 2346.1) rotate(-11.6)"/>
<ellipse rx="19" ry="23" transform="translate(345 1863.3) rotate(11.6)"/>
<ellipse rx="19" ry="23" transform="translate(811.4 1867.1) rotate(-11.6)"/>
<ellipse rx="19" ry="23" transform="translate(336.7 1903.9) rotate(11.6)"/>
<ellipse rx="19" ry="23" transform="translate(819.7 1907.7) rotate(-11.6)"/>
<ellipse rx="19" ry="23" transform="translate(328.4 1944.5) rotate(11.6)"/>
<ellipse rx="19" ry="23" transform="translate(828 1948.3) rotate(-11.6)"/>
<ellipse rx="19" ry="23" transform="translate(320.1 1985.1) rotate(11.6)"/>
<ellipse rx="19" ry="23" transform="translate(836.3 1988.9) rotate(-11.6)"/>
<ellipse rx="19" ry="23" transform="translate(311.8 2025.7) rotate(11.6)"/>
<ellipse rx="19" ry="23" transform="translate(844.6 2029.5) rotate(-11.6)"/>
<ellipse rx="19" ry="23" transform="translate(303.5 2066.3) rotate(11.6)"/>
<ellipse rx="19" ry="23" transform="translate(852.9 2070.1) rotate(-11.6)"/>
<ellipse rx="19" ry="23" transform="translate(295.2 2106.9) rotate(11.6)"/>
<ellipse rx="19" ry="23" transform="translate(861.2 2110.7) rotate(-11.6)"/>
<ellipse rx="19" ry="23" transform="translate(286.9 2147.5) rotate(11.6)"/>
<ellipse rx="19" ry="23" transform="translate(869.5 2151.3) rotate(-11.6)"/>
<ellipse rx="19" ry="23" transform="translate(278.6 2188.1) rotate(11.6)"/>
<ellipse rx="19" ry="23" transform="translate(877.8 2191.9) rotate(-11.6)"/>
<ellipse rx="19" ry="23" transform="translate(270.3 2228.7) rotate(11.6)"/>
<ellipse rx="19" ry="23" transform="translate(886.1 2232.5) rotate(-11.6)"/>
<ellipse rx="19" ry="23" transform="translate(262 2269.3) rotate(11.6)"/>
<ellipse rx="19" ry="23" transform="translate(894.4 2273.1) rotate(-11.6)"/>
<ellipse rx="19" ry="23" transform="translate(253.7 2309.9) rotate(11.6)"/>
<ellipse rx="19" ry="23" transform="translate(902.7 2313.7) rotate(-11.6)"/>
<ellipse rx="19" ry="23" transform="translate(245.4 2350.5) rotate(11.6)"/>
<ellipse rx="19" ry="23" transform="translate(911 2354.3) rotate(-11.6)"/>
<ellipse rx="19" ry="23" transform="translate(386 1871.4) rotate(11.6)"/>
<ellipse rx="19" ry="23" transform="translate(770.4 1875.2) rotate(-11.6)"/>
<ellipse rx="19" ry="23" transform="translate(377.7 1912) rotate(11.6)"/>
<ellipse rx="19" ry="23" transform="translate(778.7 1915.8) rotate(-11.6)"/>
<ellipse rx="19" ry="23" transform="translate(369.4 1952.6) rotate(11.6)"/>
<ellipse rx="19" ry="23" transform="translate(787 1956.4) rotate(-11.6)"/>
<ellipse rx="19" ry="23" transform="translate(361.1 1993.2) rotate(11.6)"/>
<ellipse rx="19" ry="23" transform="translate(795.3 1997) rotate(-11.6)"/>
<ellipse rx="19" ry="23" transform="translate(352.8 2033.8) rotate(11.6)"/>
<ellipse rx="19" ry="23" transform="translate(803.6 2037.6) rotate(-11.6)"/>
<ellipse rx="19" ry="23" transform="translate(344.5 2074.4) rotate(11.6)"/>
<ellipse rx="19" ry="23" transform="translate(811.9 2078.2) rotate(-11.6)"/>
<ellipse rx="19" ry="23" transform="translate(336.2 2115) rotate(11.6)"/>
<ellipse rx="19" ry="23" transform="translate(820.2 2118.8) rotate(-11.6)"/>
<ellipse rx="19" ry="23" transform="translate(327.9 2155.6) rotate(11.6)"/>
<ellipse rx="19" ry="23" transform="translate(828.5 2159.4) rotate(-11.6)"/>
<ellipse rx="19" ry="23" transform="translate(319.6 2196.2) rotate(11.6)"/>
<ellipse rx="19" ry="23" transform="translate(836.8 2200.1) rotate(-11.6)"/>
<ellipse rx="19" ry="23" transform="translate(311.3 2236.8) rotate(11.6)"/>
<ellipse rx="19" ry="23" transform="translate(845.1 2240.7) rotate(-11.6)"/>
<ellipse rx="19" ry="23" transform="translate(303 2277.4) rotate(11.6)"/>
<ellipse rx="19" ry="23" transform="translate(853.4 2281.2) rotate(-11.6)"/>
<ellipse rx="19" ry="23" transform="translate(294.7 2318) rotate(11.6)"/>
<ellipse rx="19" ry="23" transform="translate(861.7 2321.8) rotate(-11.6)"/>
<ellipse rx="19" ry="23" transform="translate(427 1879.6) rotate(11.6)"/>
<ellipse rx="19" ry="23" transform="translate(729.4 1883.4) rotate(-11.6)"/>
<ellipse rx="19" ry="23" transform="translate(418.7 1920.2) rotate(11.6)"/>
<ellipse rx="19" ry="23" transform="translate(737.7 1924) rotate(-11.6)"/>
<ellipse rx="19" ry="23" transform="translate(410.4 1960.8) rotate(11.6)"/>
<ellipse rx="19" ry="23" transform="translate(746 1964.6) rotate(-11.6)"/>
<ellipse rx="19" ry="23" transform="translate(402.1 2001.4) rotate(11.6)"/>
<ellipse rx="19" ry="23" transform="translate(754.3 2005.2) rotate(-11.6)"/>
<ellipse rx="19" ry="23" transform="translate(393.8 2042) rotate(11.6)"/>
<ellipse rx="19" ry="23" transform="translate(762.6 2045.8) rotate(-11.6)"/>
<ellipse rx="19" ry="23" transform="translate(385.5 2082.6) rotate(11.6)"/>
<ellipse rx="19" ry="23" transform="translate(770.9 2086.4) rotate(-11.6)"/>
<ellipse rx="19" ry="23" transform="translate(377.2 2123.2) rotate(11.6)"/>
<ellipse rx="19" ry="23" transform="translate(779.2 2127) rotate(-11.6)"/>
<ellipse rx="19" ry="23" transform="translate(368.9 2163.8) rotate(11.6)"/>
<ellipse rx="19" ry="23" transform="translate(787.5 2167.6) rotate(-11.6)"/>
<ellipse rx="19" ry="23" transform="translate(360.6 2204.4) rotate(11.6)"/>
<ellipse rx="19" ry="23" transform="translate(795.8 2208.2) rotate(-11.6)"/>
<ellipse rx="19" ry="23" transform="translate(352.3 2245) rotate(11.6)"/>
<ellipse rx="19" ry="23" transform="translate(804.1 2248.8) rotate(-11.6)"/>
<ellipse rx="19" ry="23" transform="translate(344 2285.6) rotate(11.6)"/>
<ellipse rx="19" ry="23" transform="translate(812.4 2289.4) rotate(-11.6)"/>
<ellipse rx="19" ry="23" transform="translate(335.7 2326.2) rotate(11.6)"/>
<ellipse rx="19" ry="23" transform="translate(820.7 2330) rotate(-11.6)"/>
<ellipse rx="19" ry="23" transform="translate(680.1 1851) rotate(-11.6)"/>
<ellipse rx="19" ry="23" transform="translate(468 1887.8) rotate(11.6)"/>
<ellipse rx="19" ry="23" transform="translate(688.4 1891.6) rotate(-11.6)"/>
<ellipse rx="19" ry="23" transform="translate(459.7 1928.4) rotate(11.6)"/>
<ellipse rx="19" ry="23" transform="translate(696.7 1932.2) rotate(-11.6)"/>
<ellipse rx="19" ry="23" transform="translate(451.4 1969) rotate(11.6)"/>
<ellipse rx="19" ry="23" transform="translate(705 1972.8) rotate(-11.6)"/>
<ellipse rx="19" ry="23" transform="translate(443.1 2009.6) rotate(11.6)"/>
<ellipse rx="19" ry="23" transform="translate(713.3 2013.4) rotate(-11.6)"/>
<ellipse rx="19" ry="23" transform="translate(434.8 2050.2) rotate(11.6)"/>
<ellipse rx="19" ry="23" transform="translate(721.6 2054) rotate(-11.6)"/>
<ellipse rx="19" ry="23" transform="translate(426.5 2090.8) rotate(11.6)"/>
<ellipse rx="19" ry="23" transform="translate(729.9 2094.6) rotate(-11.6)"/>
<ellipse rx="19" ry="23" transform="translate(418.2 2131.4) rotate(11.6)"/>
<ellipse rx="19" ry="23" transform="translate(738.2 2135.2) rotate(-11.6)"/>
<ellipse rx="19" ry="23" transform="translate(409.9 2172) rotate(11.6)"/>
<ellipse rx="19" ry="23" transform="translate(746.5 2175.8) rotate(-11.6)"/>
<ellipse rx="19" ry="23" transform="translate(401.6 2212.6) rotate(11.6)"/>
<ellipse rx="19" ry="23" transform="translate(754.8 2216.4) rotate(-11.6)"/>
<ellipse rx="19" ry="23" transform="translate(393.3 2253.2) rotate(11.6)"/>
<ellipse rx="19" ry="23" transform="translate(763.1 2257) rotate(-11.6)"/>
<ellipse rx="19" ry="23" transform="translate(385 2293.8) rotate(11.6)"/>
<ellipse rx="19" ry="23" transform="translate(771.4 2297.6) rotate(-11.6)"/>
<ellipse rx="19" ry="23" transform="translate(376.7 2334.4) rotate(11.6)"/>
<ellipse rx="19" ry="23" transform="translate(779.7 2338.2) rotate(-11.6)"/>
<ellipse rx="19" ry="23" transform="translate(500.6 1936.6) rotate(11.6)"/>
<ellipse rx="19" ry="23" transform="translate(655.8 1940.4) rotate(-11.6)"/>
<ellipse rx="19" ry="23" transform="translate(492.3 1977.2) rotate(11.6)"/>
<ellipse rx="19" ry="23" transform="translate(664.1 1981) rotate(-11.6)"/>
<ellipse rx="19" ry="23" transform="translate(484 2017.8) rotate(11.6)"/>
<ellipse rx="19" ry="23" transform="translate(672.4 2021.6) rotate(-11.6)"/>
<ellipse rx="19" ry="23" transform="translate(475.7 2058.4) rotate(11.6)"/>
<ellipse rx="19" ry="23" transform="translate(680.7 2062.2) rotate(-11.6)"/>
<ellipse rx="19" ry="23" transform="translate(467.4 2099) rotate(11.6)"/>
<ellipse rx="19" ry="23" transform="translate(689 2102.8) rotate(-11.6)"/>
<ellipse rx="19" ry="23" transform="translate(459.1 2139.6) rotate(11.6)"/>
<ellipse rx="19" ry="23" transform="translate(697.3 2143.4) rotate(-11.6)"/>
<ellipse rx="19" ry="23" transform="translate(450.8 2180.2) rotate(11.6)"/>
<ellipse rx="19" ry="23" transform="translate(705.6 2184) rotate(-11.6)"/>
<ellipse rx="19" ry="23" transform="translate(442.5 2220.8) rotate(11.6)"/>
<ellipse rx="19" ry="23" transform="translate(713.9 2224.6) rotate(-11.6)"/>
<ellipse rx="19" ry="23" transform="translate(434.2 2261.4) rotate(11.6)"/>
<ellipse rx="19" ry="23" transform="translate(722.2 2265.2) rotate(-11.6)"/>
<ellipse rx="19" ry="23" transform="translate(425.9 2302) rotate(11.6)"/>
<ellipse rx="19" ry="23" transform="translate(730.5 2305.8) rotate(-11.6)"/>
<ellipse rx="19" ry="23" transform="translate(417.6 2342.6) rotate(11.6)"/>
<ellipse rx="19" ry="23" transform="translate(738.8 2346.4) rotate(-11.6)"/>
<ellipse rx="19" ry="23" transform="translate(500.1 2147.7) rotate(11.6)"/>
<ellipse rx="19" ry="23" transform="translate(656.3 2151.5) rotate(-11.6)"/>
<ellipse rx="19" ry="23" transform="translate(491.8 2188.3) rotate(11.6)"/>
<ellipse rx="19" ry="23" transform="translate(664.6 2192.1) rotate(-11.6)"/>
<ellipse rx="19" ry="23" transform="translate(483.5 2228.9) rotate(11.6)"/>
<ellipse rx="19" ry="23" transform="translate(672.9 2232.7) rotate(-11.6)"/>
<ellipse rx="19" ry="23" transform="translate(475.2 2269.5) rotate(11.6)"/>
<ellipse rx="19" ry="23" transform="translate(681.2 2273.3) rotate(-11.6)"/>
<ellipse rx="19" ry="23" transform="translate(466.9 2310.1) rotate(11.6)"/>
<ellipse rx="19" ry="23" transform="translate(689.5 2313.9) rotate(-11.6)"/>
<ellipse rx="19" ry="23" transform="translate(458.6 2350.7) rotate(11.6)"/>
<ellipse rx="19" ry="23" transform="translate(697.8 2354.5) rotate(-11.6)"/>
</g>
<g fill="#fff">
<ellipse rx="9" ry="14" fill-opacity="0.62" transform="translate(1319.7 1850.2) rotate(-11.6)"/>
<ellipse rx="9" ry="14" fill-opacity="0.62" transform="translate(1328 1890.8) rotate(-11.6)"/>
<ellipse rx="9" ry="14" fill-opacity="0.62" transform="translate(1549.2 1888.5) rotate(11.6)"/>
<ellipse rx="9" ry="14" fill-opacity="0.62" transform="translate(1336.3 1931.4) rotate(-11.6)"/>
<ellipse rx="9" ry="14" fill-opacity="0.62" transform="translate(1540.9 1929.1) rotate(11.6)"/>
<ellipse rx="9" ry="14" fill-opacity="0.62" transform="translate(1344.6 1972) rotate(-11.6)"/>
<ellipse rx="9" ry="14" fill-opacity="0.62" transform="translate(1532.6 1969.7) rotate(11.6)"/>
<ellipse rx="9" ry="14" fill-opacity="0.62" transform="translate(1352.9 2012.6) rotate(-11.6)"/>
<ellipse rx="9" ry="14" fill-opacity="0.62" transform="translate(1524.3 2010.3) rotate(11.6)"/>
<ellipse rx="9" ry="14" fill-opacity="0.62" transform="translate(1361.2 2053.2) rotate(-11.6)"/>
<ellipse rx="9" ry="14" fill-opacity="0.62" transform="translate(1516 2050.9) rotate(11.6)"/>
<ellipse rx="9" ry="14" fill-opacity="0.62" transform="translate(1278.8 1858.4) rotate(-11.6)"/>
<ellipse rx="9" ry="14" fill-opacity="0.62" transform="translate(1598.4 1856.1) rotate(11.6)"/>
<ellipse rx="9" ry="14" fill-opacity="0.62" transform="translate(1287.1 1899) rotate(-11.6)"/>
<ellipse rx="9" ry="14" fill-opacity="0.62" transform="translate(1590.1 1896.7) rotate(11.6)"/>
<ellipse rx="9" ry="14" fill-opacity="0.62" transform="translate(1295.4 1939.6) rotate(-11.6)"/>
<ellipse rx="9" ry="14" fill-opacity="0.62" transform="translate(1581.8 1937.3) rotate(11.6)"/>
<ellipse rx="9" ry="14" fill-opacity="0.62" transform="translate(1303.7 1980.2) rotate(-11.6)"/>
<ellipse rx="9" ry="14" fill-opacity="0.62" transform="translate(1573.5 1977.9) rotate(11.6)"/>
<ellipse rx="9" ry="14" fill-opacity="0.62" transform="translate(1312 2020.8) rotate(-11.6)"/>
<ellipse rx="9" ry="14" fill-opacity="0.62" transform="translate(1565.2 2018.5) rotate(11.6)"/>
<ellipse rx="9" ry="14" fill-opacity="0.62" transform="translate(1320.3 2061.4) rotate(-11.6)"/>
<ellipse rx="9" ry="14" fill-opacity="0.62" transform="translate(1556.9 2059.1) rotate(11.6)"/>
<ellipse rx="9" ry="14" fill-opacity="0.62" transform="translate(1328.6 2102) rotate(-11.6)"/>
<ellipse rx="9" ry="14" fill-opacity="0.62" transform="translate(1548.6 2099.7) rotate(11.6)"/>
<ellipse rx="9" ry="14" fill-opacity="0.62" transform="translate(1336.9 2142.6) rotate(-11.6)"/>
<ellipse rx="9" ry="14" fill-opacity="0.62" transform="translate(1540.3 2140.3) rotate(11.6)"/>
<ellipse rx="9" ry="14" fill-opacity="0.62" transform="translate(1345.2 2183.2) rotate(-11.6)"/>
<ellipse rx="9" ry="14" fill-opacity="0.62" transform="translate(1532 2180.9) rotate(11.6)"/>
<ellipse rx="9" ry="14" fill-opacity="0.62" transform="translate(1353.5 2223.8) rotate(-11.6)"/>
<ellipse rx="9" ry="14" fill-opacity="0.62" transform="translate(1523.7 2221.5) rotate(11.6)"/>
<ellipse rx="9" ry="14" fill-opacity="0.62" transform="translate(1361.8 2264.4) rotate(-11.6)"/>
<ellipse rx="9" ry="14" fill-opacity="0.62" transform="translate(1515.4 2262.1) rotate(11.6)"/>
<ellipse rx="9" ry="14" fill-opacity="0.62" transform="translate(1237.8 1866.6) rotate(-11.6)"/>
<ellipse rx="9" ry="14" fill-opacity="0.62" transform="translate(1639.4 1864.3) rotate(11.6)"/>
<ellipse rx="9" ry="14" fill-opacity="0.62" transform="translate(1246.1 1907.2) rotate(-11.6)"/>
<ellipse rx="9" ry="14" fill-opacity="0.62" transform="translate(1631.1 1904.9) rotate(11.6)"/>
<ellipse rx="9" ry="14" fill-opacity="0.62" transform="translate(1254.4 1947.8) rotate(-11.6)"/>
<ellipse rx="9" ry="14" fill-opacity="0.62" transform="translate(1622.8 1945.5) rotate(11.6)"/>
<ellipse rx="9" ry="14" fill-opacity="0.62" transform="translate(1262.7 1988.4) rotate(-11.6)"/>
<ellipse rx="9" ry="14" fill-opacity="0.62" transform="translate(1614.5 1986.1) rotate(11.6)"/>
<ellipse rx="9" ry="14" fill-opacity="0.62" transform="translate(1271 2029) rotate(-11.6)"/>
<ellipse rx="9" ry="14" fill-opacity="0.62" transform="translate(1606.2 2026.7) rotate(11.6)"/>
<ellipse rx="9" ry="14" fill-opacity="0.62" transform="translate(1279.3 2069.6) rotate(-11.6)"/>
<ellipse rx="9" ry="14" fill-opacity="0.62" transform="translate(1597.9 2067.3) rotate(11.6)"/>
<ellipse rx="9" ry="14" fill-opacity="0.62" transform="translate(1287.6 2110.2) rotate(-11.6)"/>
<ellipse rx="9" ry="14" fill-opacity="0.62" transform="translate(1589.6 2107.9) rotate(11.6)"/>
<ellipse rx="9" ry="14" fill-opacity="0.62" transform="translate(1295.9 2150.8) rotate(-11.6)"/>
<ellipse rx="9" ry="14" fill-opacity="0.62" transform="translate(1581.3 2148.5) rotate(11.6)"/>
<ellipse rx="9" ry="14" fill-opacity="0.62" transform="translate(1304.2 2191.4) rotate(-11.6)"/>
<ellipse rx="9" ry="14" fill-opacity="0.62" transform="translate(1573 2189.1) rotate(11.6)"/>
<ellipse rx="9" ry="14" fill-opacity="0.62" transform="translate(1312.5 2232) rotate(-11.6)"/>
<ellipse rx="9" ry="14" fill-opacity="0.62" transform="translate(1564.7 2229.7) rotate(11.6)"/>
<ellipse rx="9" ry="14" fill-opacity="0.62" transform="translate(1320.8 2272.6) rotate(-11.6)"/>
<ellipse rx="9" ry="14" fill-opacity="0.62" transform="translate(1556.4 2270.3) rotate(11.6)"/>
<ellipse rx="9" ry="14" fill-opacity="0.62" transform="translate(1329.1 2313.2) rotate(-11.6)"/>
<ellipse rx="9" ry="14" fill-opacity="0.62" transform="translate(1548.1 2310.9) rotate(11.6)"/>
<ellipse rx="9" ry="14" fill-opacity="0.62" transform="translate(1337.4 2353.8) rotate(-11.6)"/>
<ellipse rx="9" ry="14" fill-opacity="0.62" transform="translate(1539.8 2351.5) rotate(11.6)"/>
<ellipse rx="9" ry="14" fill-opacity="0.62" transform="translate(1196.8 1874.8) rotate(-11.6)"/>
<ellipse rx="9" ry="14" fill-opacity="0.62" transform="translate(1680.4 1872.5) rotate(11.6)"/>
<ellipse rx="9" ry="14" fill-opacity="0.62" transform="translate(1205.1 1915.3) rotate(-11.6)"/>
<ellipse rx="9" ry="14" fill-opacity="0.62" transform="translate(1672.1 1913) rotate(11.6)"/>
<ellipse rx="9" ry="14" fill-opacity="0.62" transform="translate(1213.4 1956) rotate(-11.6)"/>
<ellipse rx="9" ry="14" fill-opacity="0.62" transform="translate(1663.8 1953.7) rotate(11.6)"/>
<ellipse rx="9" ry="14" fill-opacity="0.62" transform="translate(1221.7 1996.5) rotate(-11.6)"/>
<ellipse rx="9" ry="14" fill-opacity="0.62" transform="translate(1655.5 1994.2) rotate(11.6)"/>
<ellipse rx="9" ry="14" fill-opacity="0.62" transform="translate(1230 2037.2) rotate(-11.6)"/>
<ellipse rx="9" ry="14" fill-opacity="0.62" transform="translate(1647.2 2034.9) rotate(11.6)"/>
<ellipse rx="9" ry="14" fill-opacity="0.62" transform="translate(1238.3 2077.8) rotate(-11.6)"/>
<ellipse rx="9" ry="14" fill-opacity="0.62" transform="translate(1638.9 2075.4) rotate(11.6)"/>
<ellipse rx="9" ry="14" fill-opacity="0.62" transform="translate(1246.6 2118.4) rotate(-11.6)"/>
<ellipse rx="9" ry="14" fill-opacity="0.62" transform="translate(1630.6 2116.1) rotate(11.6)"/>
<ellipse rx="9" ry="14" fill-opacity="0.62" transform="translate(1254.9 2159) rotate(-11.6)"/>
<ellipse rx="9" ry="14" fill-opacity="0.62" transform="translate(1622.3 2156.7) rotate(11.6)"/>
<ellipse rx="9" ry="14" fill-opacity="0.62" transform="translate(1263.2 2199.6) rotate(-11.6)"/>
<ellipse rx="9" ry="14" fill-opacity="0.62" transform="translate(1614 2197.2) rotate(11.6)"/>
<ellipse rx="9" ry="14" fill-opacity="0.62" transform="translate(1271.5 2240.2) rotate(-11.6)"/>
<ellipse rx="9" ry="14" fill-opacity="0.62" transform="translate(1605.7 2237.8) rotate(11.6)"/>
<ellipse rx="9" ry="14" fill-opacity="0.62" transform="translate(1279.8 2280.8) rotate(-11.6)"/>
<ellipse rx="9" ry="14" fill-opacity="0.62" transform="translate(1597.4 2278.4) rotate(11.6)"/>
<ellipse rx="9" ry="14" fill-opacity="0.62" transform="translate(1288.1 2321.4) rotate(-11.6)"/>
<ellipse rx="9" ry="14" fill-opacity="0.62" transform="translate(1589.1 2319.1) rotate(11.6)"/>
<ellipse rx="9" ry="14" fill-opacity="0.62" transform="translate(1155.8 1882.9) rotate(-11.6)"/>
<ellipse rx="9" ry="14" fill-opacity="0.62" transform="translate(1721.4 1880.6) rotate(11.6)"/>
<ellipse rx="9" ry="14" fill-opacity="0.62" transform="translate(1164.1 1923.5) rotate(-11.6)"/>
<ellipse rx="9" ry="14" fill-opacity="0.62" transform="translate(1713.1 1921.2) rotate(11.6)"/>
<ellipse rx="9" ry="14" fill-opacity="0.62" transform="translate(1172.4 1964.1) rotate(-11.6)"/>
<ellipse rx="9" ry="14" fill-opacity="0.62" transform="translate(1704.8 1961.8) rotate(11.6)"/>
<ellipse rx="9" ry="14" fill-opacity="0.62" transform="translate(1180.7 2004.7) rotate(-11.6)"/>
<ellipse rx="9" ry="14" fill-opacity="0.62" transform="translate(1696.5 2002.4) rotate(11.6)"/>
<ellipse rx="9" ry="14" fill-opacity="0.62" transform="translate(1189 2045.3) rotate(-11.6)"/>
<ellipse rx="9" ry="14" fill-opacity="0.62" transform="translate(1688.2 2043) rotate(11.6)"/>
<ellipse rx="9" ry="14" fill-opacity="0.62" transform="translate(1197.3 2085.9) rotate(-11.6)"/>
<ellipse rx="9" ry="14" fill-opacity="0.62" transform="translate(1679.9 2083.6) rotate(11.6)"/>
<ellipse rx="9" ry="14" fill-opacity="0.62" transform="translate(1205.6 2126.5) rotate(-11.6)"/>
<ellipse rx="9" ry="14" fill-opacity="0.62" transform="translate(1671.6 2124.2) rotate(11.6)"/>
<ellipse rx="9" ry="14" fill-opacity="0.62" transform="translate(1213.9 2167.1) rotate(-11.6)"/>
<ellipse rx="9" ry="14" fill-opacity="0.62" transform="translate(1663.3 2164.8) rotate(11.6)"/>
<ellipse rx="9" ry="14" fill-opacity="0.62" transform="translate(1222.2 2207.7) rotate(-11.6)"/>
<ellipse rx="9" ry="14" fill-opacity="0.62" transform="translate(1655 2205.4) rotate(11.6)"/>
<ellipse rx="9" ry="14" fill-opacity="0.62" transform="translate(1230.5 2248.3) rotate(-11.6)"/>
<ellipse rx="9" ry="14" fill-opacity="0.62" transform="translate(1646.7 2246) rotate(11.6)"/>
<ellipse rx="9" ry="14" fill-opacity="0.62" transform="translate(1238.8 2288.9) rotate(-11.6)"/>
<ellipse rx="9" ry="14" fill-opacity="0.62" transform="translate(1638.4 2286.6) rotate(11.6)"/>
<ellipse rx="9" ry="14" fill-opacity="0.62" transform="translate(1247.1 2329.5) rotate(-11.6)"/>
<ellipse rx="9" ry="14" fill-opacity="0.62" transform="translate(1630.1 2327.2) rotate(11.6)"/>
<ellipse rx="9" ry="14" fill-opacity="0.62" transform="translate(1106.5 1850.5) rotate(-11.6)"/>
<ellipse rx="9" ry="14" fill-opacity="0.62" transform="translate(1114.8 1891.1) rotate(-11.6)"/>
<ellipse rx="9" ry="14" fill-opacity="0.62" transform="translate(1762.4 1888.8) rotate(11.6)"/>
<ellipse rx="9" ry="14" fill-opacity="0.62" transform="translate(1123.1 1931.7) rotate(-11.6)"/>
<ellipse rx="9" ry="14" fill-opacity="0.62" transform="translate(1754.1 1929.4) rotate(11.6)"/>
<ellipse rx="9" ry="14" fill-opacity="0.62" transform="translate(1131.4 1972.3) rotate(-11.6)"/>
<ellipse rx="9" ry="14" fill-opacity="0.62" transform="translate(1745.8 1970) rotate(11.6)"/>
<ellipse rx="9" ry="14" fill-opacity="0.62" transform="translate(1139.7 2012.9) rotate(-11.6)"/>
<ellipse rx="9" ry="14" fill-opacity="0.62" transform="translate(1737.5 2010.6) rotate(11.6)"/>
<ellipse rx="9" ry="14" fill-opacity="0.62" transform="translate(1148 2053.5) rotate(-11.6)"/>
<ellipse rx="9" ry="14" fill-opacity="0.62" transform="translate(1729.2 2051.2) rotate(11.6)"/>
<ellipse rx="9" ry="14" fill-opacity="0.62" transform="translate(1156.3 2094.1) rotate(-11.6)"/>
<ellipse rx="9" ry="14" fill-opacity="0.62" transform="translate(1720.9 2091.8) rotate(11.6)"/>
<ellipse rx="9" ry="14" fill-opacity="0.62" transform="translate(1164.6 2134.7) rotate(-11.6)"/>
<ellipse rx="9" ry="14" fill-opacity="0.62" transform="translate(1712.6 2132.4) rotate(11.6)"/>
<ellipse rx="9" ry="14" fill-opacity="0.62" transform="translate(1172.9 2175.3) rotate(-11.6)"/>
<ellipse rx="9" ry="14" fill-opacity="0.62" transform="translate(1704.3 2173) rotate(11.6)"/>
<ellipse rx="9" ry="14" fill-opacity="0.62" transform="translate(1181.2 2215.9) rotate(-11.6)"/>
<ellipse rx="9" ry="14" fill-opacity="0.62" transform="translate(1696 2213.6) rotate(11.6)"/>
<ellipse rx="9" ry="14" fill-opacity="0.62" transform="translate(1189.5 2256.5) rotate(-11.6)"/>
<ellipse rx="9" ry="14" fill-opacity="0.62" transform="translate(1687.7 2254.2) rotate(11.6)"/>
<ellipse rx="9" ry="14" fill-opacity="0.62" transform="translate(1197.8 2297.1) rotate(-11.6)"/>
<ellipse rx="9" ry="14" fill-opacity="0.62" transform="translate(1679.4 2294.8) rotate(11.6)"/>
<ellipse rx="9" ry="14" fill-opacity="0.62" transform="translate(1206.1 2337.7) rotate(-11.6)"/>
<ellipse rx="9" ry="14" fill-opacity="0.62" transform="translate(1671.1 2335.4) rotate(11.6)"/>
<ellipse rx="9" ry="14" fill-opacity="0.62" transform="translate(1065.6 1858.7) rotate(-11.6)"/>
<ellipse rx="9" ry="14" fill-opacity="0.62" transform="translate(1811.6 1856.4) rotate(11.6)"/>
<ellipse rx="9" ry="14" fill-opacity="0.62" transform="translate(1073.9 1899.3) rotate(-11.6)"/>
<ellipse rx="9" ry="14" fill-opacity="0.62" transform="translate(1803.3 1897) rotate(11.6)"/>
<ellipse rx="9" ry="14" fill-opacity="0.62" transform="translate(1082.2 1939.9) rotate(-11.6)"/>
<ellipse rx="9" ry="14" fill-opacity="0.62" transform="translate(1795 1937.6) rotate(11.6)"/>
<ellipse rx="9" ry="14" fill-opacity="0.62" transform="translate(1090.5 1980.5) rotate(-11.6)"/>
<ellipse rx="9" ry="14" fill-opacity="0.62" transform="translate(1786.7 1978.2) rotate(11.6)"/>
<ellipse rx="9" ry="14" fill-opacity="0.62" transform="translate(1098.8 2021.1) rotate(-11.6)"/>
<ellipse rx="9" ry="14" fill-opacity="0.62" transform="translate(1778.4 2018.8) rotate(11.6)"/>
<ellipse rx="9" ry="14" fill-opacity="0.62" transform="translate(1107.1 2061.7) rotate(-11.6)"/>
<ellipse rx="9" ry="14" fill-opacity="0.62" transform="translate(1770.1 2059.4) rotate(11.6)"/>
<ellipse rx="9" ry="14" fill-opacity="0.62" transform="translate(1115.4 2102.3) rotate(-11.6)"/>
<ellipse rx="9" ry="14" fill-opacity="0.62" transform="translate(1761.8 2100) rotate(11.6)"/>
<ellipse rx="9" ry="14" fill-opacity="0.62" transform="translate(1123.7 2142.9) rotate(-11.6)"/>
<ellipse rx="9" ry="14" fill-opacity="0.62" transform="translate(1753.5 2140.6) rotate(11.6)"/>
<ellipse rx="9" ry="14" fill-opacity="0.62" transform="translate(1132 2183.5) rotate(-11.6)"/>
<ellipse rx="9" ry="14" fill-opacity="0.62" transform="translate(1745.2 2181.2) rotate(11.6)"/>
<ellipse rx="9" ry="14" fill-opacity="0.62" transform="translate(1140.3 2224.1) rotate(-11.6)"/>
<ellipse rx="9" ry="14" fill-opacity="0.62" transform="translate(1736.9 2221.8) rotate(11.6)"/>
<ellipse rx="9" ry="14" fill-opacity="0.62" transform="translate(1148.6 2264.7) rotate(-11.6)"/>
<ellipse rx="9" ry="14" fill-opacity="0.62" transform="translate(1728.6 2262.4) rotate(11.6)"/>
<ellipse rx="9" ry="14" fill-opacity="0.62" transform="translate(1156.9 2305.3) rotate(-11.6)"/>
<ellipse rx="9" ry="14" fill-opacity="0.62" transform="translate(1720.3 2303) rotate(11.6)"/>
<ellipse rx="9" ry="14" fill-opacity="0.62" transform="translate(1165.2 2345.9) rotate(-11.6)"/>
<ellipse rx="9" ry="14" fill-opacity="0.62" transform="translate(1712 2343.6) rotate(11.6)"/>
<ellipse rx="9" ry="14" fill-opacity="0.62" transform="translate(131.8 1863) rotate(11.6)"/>
<ellipse rx="9" ry="14" fill-opacity="0.62" transform="translate(1024.6 1866.8) rotate(-11.6)"/>
<ellipse rx="9" ry="14" fill-opacity="0.62" transform="translate(1852.6 1864.5) rotate(11.6)"/>
<ellipse rx="9" ry="14" fill-opacity="0.62" transform="translate(123.5 1903.6) rotate(11.6)"/>
<ellipse rx="9" ry="14" fill-opacity="0.62" transform="translate(1032.9 1907.4) rotate(-11.6)"/>
<ellipse rx="9" ry="14" fill-opacity="0.62" transform="translate(1844.3 1905.1) rotate(11.6)"/>
<ellipse rx="9" ry="14" fill-opacity="0.62" transform="translate(115.2 1944.2) rotate(11.6)"/>
<ellipse rx="9" ry="14" fill-opacity="0.62" transform="translate(1041.2 1948) rotate(-11.6)"/>
<ellipse rx="9" ry="14" fill-opacity="0.62" transform="translate(1836 1945.7) rotate(11.6)"/>
<ellipse rx="9" ry="14" fill-opacity="0.62" transform="translate(106.9 1984.8) rotate(11.6)"/>
<ellipse rx="9" ry="14" fill-opacity="0.62" transform="translate(1049.5 1988.6) rotate(-11.6)"/>
<ellipse rx="9" ry="14" fill-opacity="0.62" transform="translate(1827.7 1986.3) rotate(11.6)"/>
<ellipse rx="9" ry="14" fill-opacity="0.62" transform="translate(1057.8 2029.2) rotate(-11.6)"/>
<ellipse rx="9" ry="14" fill-opacity="0.62" transform="translate(1819.4 2026.9) rotate(11.6)"/>
<ellipse rx="9" ry="14" fill-opacity="0.62" transform="translate(1066.1 2069.8) rotate(-11.6)"/>
<ellipse rx="9" ry="14" fill-opacity="0.62" transform="translate(1811.1 2067.5) rotate(11.6)"/>
<ellipse rx="9" ry="14" fill-opacity="0.62" transform="translate(1074.4 2110.4) rotate(-11.6)"/>
<ellipse rx="9" ry="14" fill-opacity="0.62" transform="translate(1802.8 2108.1) rotate(11.6)"/>
<ellipse rx="9" ry="14" fill-opacity="0.62" transform="translate(1082.7 2151) rotate(-11.6)"/>
<ellipse rx="9" ry="14" fill-opacity="0.62" transform="translate(1794.5 2148.7) rotate(11.6)"/>
<ellipse rx="9" ry="14" fill-opacity="0.62" transform="translate(1091 2191.6) rotate(-11.6)"/>
<ellipse rx="9" ry="14" fill-opacity="0.62" transform="translate(1786.2 2189.3) rotate(11.6)"/>
<ellipse rx="9" ry="14" fill-opacity="0.62" transform="translate(1099.3 2232.2) rotate(-11.6)"/>
<ellipse rx="9" ry="14" fill-opacity="0.62" transform="translate(1777.9 2229.9) rotate(11.6)"/>
<ellipse rx="9" ry="14" fill-opacity="0.62" transform="translate(1107.6 2272.8) rotate(-11.6)"/>
<ellipse rx="9" ry="14" fill-opacity="0.62" transform="translate(1769.6 2270.5) rotate(11.6)"/>
<ellipse rx="9" ry="14" fill-opacity="0.62" transform="translate(1115.9 2313.4) rotate(-11.6)"/>
<ellipse rx="9" ry="14" fill-opacity="0.62" transform="translate(1761.3 2311.1) rotate(11.6)"/>
<ellipse rx="9" ry="14" fill-opacity="0.62" transform="translate(1124.2 2354) rotate(-11.6)"/>
<ellipse rx="9" ry="14" fill-opacity="0.62" transform="translate(1753 2351.7) rotate(11.6)"/>
<ellipse rx="9" ry="14" fill-opacity="0.62" transform="translate(172.8 1871.2) rotate(11.6)"/>
<ellipse rx="9" ry="14" fill-opacity="0.62" transform="translate(983.6 1875) rotate(-11.6)"/>
<ellipse rx="9" ry="14" fill-opacity="0.62" transform="translate(1893.6 1872.7) rotate(11.6)"/>
<ellipse rx="9" ry="14" fill-opacity="0.62" transform="translate(164.5 1911.8) rotate(11.6)"/>
<ellipse rx="9" ry="14" fill-opacity="0.62" transform="translate(991.9 1915.6) rotate(-11.6)"/>
<ellipse rx="9" ry="14" fill-opacity="0.62" transform="translate(1885.3 1913.3) rotate(11.6)"/>
<ellipse rx="9" ry="14" fill-opacity="0.62" transform="translate(156.2 1952.4) rotate(11.6)"/>
<ellipse rx="9" ry="14" fill-opacity="0.62" transform="translate(1000.2 1956.2) rotate(-11.6)"/>
<ellipse rx="9" ry="14" fill-opacity="0.62" transform="translate(1877 1953.9) rotate(11.6)"/>
<ellipse rx="9" ry="14" fill-opacity="0.62" transform="translate(147.9 1993) rotate(11.6)"/>
<ellipse rx="9" ry="14" fill-opacity="0.62" transform="translate(1008.5 1996.8) rotate(-11.6)"/>
<ellipse rx="9" ry="14" fill-opacity="0.62" transform="translate(1868.7 1994.5) rotate(11.6)"/>
<ellipse rx="9" ry="14" fill-opacity="0.62" transform="translate(139.6 2033.6) rotate(11.6)"/>
<ellipse rx="9" ry="14" fill-opacity="0.62" transform="translate(1016.8 2037.4) rotate(-11.6)"/>
<ellipse rx="9" ry="14" fill-opacity="0.62" transform="translate(1860.4 2035.1) rotate(11.6)"/>
<ellipse rx="9" ry="14" fill-opacity="0.62" transform="translate(131.3 2074.2) rotate(11.6)"/>
<ellipse rx="9" ry="14" fill-opacity="0.62" transform="translate(1025.1 2078) rotate(-11.6)"/>
<ellipse rx="9" ry="14" fill-opacity="0.62" transform="translate(1852.1 2075.7) rotate(11.6)"/>
<ellipse rx="9" ry="14" fill-opacity="0.62" transform="translate(123 2114.8) rotate(11.6)"/>
<ellipse rx="9" ry="14" fill-opacity="0.62" transform="translate(1033.4 2118.6) rotate(-11.6)"/>
<ellipse rx="9" ry="14" fill-opacity="0.62" transform="translate(1843.8 2116.3) rotate(11.6)"/>
<ellipse rx="9" ry="14" fill-opacity="0.62" transform="translate(114.7 2155.4) rotate(11.6)"/>
<ellipse rx="9" ry="14" fill-opacity="0.62" transform="translate(1041.7 2159.2) rotate(-11.6)"/>
<ellipse rx="9" ry="14" fill-opacity="0.62" transform="translate(1835.5 2156.9) rotate(11.6)"/>
<ellipse rx="9" ry="14" fill-opacity="0.62" transform="translate(106.4 2196) rotate(11.6)"/>
<ellipse rx="9" ry="14" fill-opacity="0.62" transform="translate(1050 2199.8) rotate(-11.6)"/>
<ellipse rx="9" ry="14" fill-opacity="0.62" transform="translate(1827.2 2197.5) rotate(11.6)"/>
<ellipse rx="9" ry="14" fill-opacity="0.62" transform="translate(1058.3 2240.4) rotate(-11.6)"/>
<ellipse rx="9" ry="14" fill-opacity="0.62" transform="translate(1818.9 2238.1) rotate(11.6)"/>
<ellipse rx="9" ry="14" fill-opacity="0.62" transform="translate(1066.6 2281) rotate(-11.6)"/>
<ellipse rx="9" ry="14" fill-opacity="0.62" transform="translate(1810.6 2278.7) rotate(11.6)"/>
<ellipse rx="9" ry="14" fill-opacity="0.62" transform="translate(1074.9 2321.6) rotate(-11.6)"/>
<ellipse rx="9" ry="14" fill-opacity="0.62" transform="translate(1802.3 2319.3) rotate(11.6)"/>
<ellipse rx="9" ry="14" fill-opacity="0.62" transform="translate(213.8 1879.4) rotate(11.6)"/>
<ellipse rx="9" ry="14" fill-opacity="0.62" transform="translate(942.6 1883.2) rotate(-11.6)"/>
<ellipse rx="9" ry="14" fill-opacity="0.62" transform="translate(205.5 1920) rotate(11.6)"/>
<ellipse rx="9" ry="14" fill-opacity="0.62" transform="translate(950.9 1923.8) rotate(-11.6)"/>
<ellipse rx="9" ry="14" fill-opacity="0.62" transform="translate(197.2 1960.6) rotate(11.6)"/>
<ellipse rx="9" ry="14" fill-opacity="0.62" transform="translate(959.2 1964.4) rotate(-11.6)"/>
<ellipse rx="9" ry="14" fill-opacity="0.62" transform="translate(188.9 2001.2) rotate(11.6)"/>
<ellipse rx="9" ry="14" fill-opacity="0.62" transform="translate(967.5 2005) rotate(-11.6)"/>
<ellipse rx="9" ry="14" fill-opacity="0.62" transform="translate(180.6 2041.8) rotate(11.6)"/>
<ellipse rx="9" ry="14" fill-opacity="0.62" transform="translate(975.8 2045.6) rotate(-11.6)"/>
<ellipse rx="9" ry="14" fill-opacity="0.62" transform="translate(1901.4 2043.3) rotate(11.6)"/>
<ellipse rx="9" ry="14" fill-opacity="0.62" transform="translate(172.3 2082.4) rotate(11.6)"/>
<ellipse rx="9" ry="14" fill-opacity="0.62" transform="translate(984.1 2086.2) rotate(-11.6)"/>
<ellipse rx="9" ry="14" fill-opacity="0.62" transform="translate(1893.1 2083.9) rotate(11.6)"/>
<ellipse rx="9" ry="14" fill-opacity="0.62" transform="translate(164 2123) rotate(11.6)"/>
<ellipse rx="9" ry="14" fill-opacity="0.62" transform="translate(992.4 2126.8) rotate(-11.6)"/>
<ellipse rx="9" ry="14" fill-opacity="0.62" transform="translate(1884.8 2124.5) rotate(11.6)"/>
<ellipse rx="9" ry="14" fill-opacity="0.62" transform="translate(155.7 2163.6) rotate(11.6)"/>
<ellipse rx="9" ry="14" fill-opacity="0.62" transform="translate(1000.7 2167.4) rotate(-11.6)"/>
<ellipse rx="9" ry="14" fill-opacity="0.62" transform="translate(1876.5 2165.1) rotate(11.6)"/>
<ellipse rx="9" ry="14" fill-opacity="0.62" transform="translate(147.4 2204.2) rotate(11.6)"/>
<ellipse rx="9" ry="14" fill-opacity="0.62" transform="translate(1009 2208) rotate(-11.6)"/>
<ellipse rx="9" ry="14" fill-opacity="0.62" transform="translate(1868.2 2205.7) rotate(11.6)"/>
<ellipse rx="9" ry="14" fill-opacity="0.62" transform="translate(139.1 2244.8) rotate(11.6)"/>
<ellipse rx="9" ry="14" fill-opacity="0.62" transform="translate(1017.3 2248.6) rotate(-11.6)"/>
<ellipse rx="9" ry="14" fill-opacity="0.62" transform="translate(1859.9 2246.3) rotate(11.6)"/>
<ellipse rx="9" ry="14" fill-opacity="0.62" transform="translate(130.8 2285.4) rotate(11.6)"/>
<ellipse rx="9" ry="14" fill-opacity="0.62" transform="translate(1025.6 2289.2) rotate(-11.6)"/>
<ellipse rx="9" ry="14" fill-opacity="0.62" transform="translate(1851.6 2286.9) rotate(11.6)"/>
<ellipse rx="9" ry="14" fill-opacity="0.62" transform="translate(122.5 2326) rotate(11.6)"/>
<ellipse rx="9" ry="14" fill-opacity="0.62" transform="translate(1033.9 2329.8) rotate(-11.6)"/>
<ellipse rx="9" ry="14" fill-opacity="0.62" transform="translate(1843.3 2327.5) rotate(11.6)"/>
<ellipse rx="9" ry="14" fill-opacity="0.62" transform="translate(893.3 1850.7) rotate(-11.6)"/>
<ellipse rx="9" ry="14" fill-opacity="0.62" transform="translate(254.8 1887.5) rotate(11.6)"/>
<ellipse rx="9" ry="14" fill-opacity="0.62" transform="translate(901.6 1891.3) rotate(-11.6)"/>
<ellipse rx="9" ry="14" fill-opacity="0.62" transform="translate(246.5 1928.1) rotate(11.6)"/>
<ellipse rx="9" ry="14" fill-opacity="0.62" transform="translate(909.9 1931.9) rotate(-11.6)"/>
<ellipse rx="9" ry="14" fill-opacity="0.62" transform="translate(238.2 1968.7) rotate(11.6)"/>
<ellipse rx="9" ry="14" fill-opacity="0.62" transform="translate(918.2 1972.5) rotate(-11.6)"/>
<ellipse rx="9" ry="14" fill-opacity="0.62" transform="translate(229.9 2009.3) rotate(11.6)"/>
<ellipse rx="9" ry="14" fill-opacity="0.62" transform="translate(926.5 2013.1) rotate(-11.6)"/>
<ellipse rx="9" ry="14" fill-opacity="0.62" transform="translate(221.6 2049.9) rotate(11.6)"/>
<ellipse rx="9" ry="14" fill-opacity="0.62" transform="translate(934.8 2053.7) rotate(-11.6)"/>
<ellipse rx="9" ry="14" fill-opacity="0.62" transform="translate(213.3 2090.5) rotate(11.6)"/>
<ellipse rx="9" ry="14" fill-opacity="0.62" transform="translate(943.1 2094.3) rotate(-11.6)"/>
<ellipse rx="9" ry="14" fill-opacity="0.62" transform="translate(205 2131.1) rotate(11.6)"/>
<ellipse rx="9" ry="14" fill-opacity="0.62" transform="translate(951.4 2134.9) rotate(-11.6)"/>
<ellipse rx="9" ry="14" fill-opacity="0.62" transform="translate(196.7 2171.7) rotate(11.6)"/>
<ellipse rx="9" ry="14" fill-opacity="0.62" transform="translate(959.7 2175.5) rotate(-11.6)"/>
<ellipse rx="9" ry="14" fill-opacity="0.62" transform="translate(188.4 2212.3) rotate(11.6)"/>
<ellipse rx="9" ry="14" fill-opacity="0.62" transform="translate(968 2216.1) rotate(-11.6)"/>
<ellipse rx="9" ry="14" fill-opacity="0.62" transform="translate(1909.2 2213.8) rotate(11.6)"/>
<ellipse rx="9" ry="14" fill-opacity="0.62" transform="translate(180.1 2252.9) rotate(11.6)"/>
<ellipse rx="9" ry="14" fill-opacity="0.62" transform="translate(976.3 2256.7) rotate(-11.6)"/>
<ellipse rx="9" ry="14" fill-opacity="0.62" transform="translate(1900.9 2254.4) rotate(11.6)"/>
<ellipse rx="9" ry="14" fill-opacity="0.62" transform="translate(171.8 2293.5) rotate(11.6)"/>
<ellipse rx="9" ry="14" fill-opacity="0.62" transform="translate(984.6 2297.3) rotate(-11.6)"/>
<ellipse rx="9" ry="14" fill-opacity="0.62" transform="translate(1892.6 2295) rotate(11.6)"/>
<ellipse rx="9" ry="14" fill-opacity="0.62" transform="translate(163.5 2334.1) rotate(11.6)"/>
<ellipse rx="9" ry="14" fill-opacity="0.62" transform="translate(992.9 2337.9) rotate(-11.6)"/>
<ellipse rx="9" ry="14" fill-opacity="0.62" transform="translate(1884.3 2335.6) rotate(11.6)"/>
<ellipse rx="9" ry="14" fill-opacity="0.62" transform="translate(304 1855.1) rotate(11.6)"/>
<ellipse rx="9" ry="14" fill-opacity="0.62" transform="translate(852.4 1858.9) rotate(-11.6)"/>
<ellipse rx="9" ry="14" fill-opacity="0.62" transform="translate(295.7 1895.7) rotate(11.6)"/>
<ellipse rx="9" ry="14" fill-opacity="0.62" transform="translate(860.7 1899.5) rotate(-11.6)"/>
<ellipse rx="9" ry="14" fill-opacity="0.62" transform="translate(287.4 1936.3) rotate(11.6)"/>
<ellipse rx="9" ry="14" fill-opacity="0.62" transform="translate(869 1940.1) rotate(-11.6)"/>
<ellipse rx="9" ry="14" fill-opacity="0.62" transform="translate(279.1 1976.9) rotate(11.6)"/>
<ellipse rx="9" ry="14" fill-opacity="0.62" transform="translate(877.3 1980.7) rotate(-11.6)"/>
<ellipse rx="9" ry="14" fill-opacity="0.62" transform="translate(270.8 2017.5) rotate(11.6)"/>
<ellipse rx="9" ry="14" fill-opacity="0.62" transform="translate(885.6 2021.3) rotate(-11.6)"/>
<ellipse rx="9" ry="14" fill-opacity="0.62" transform="translate(262.5 2058.1) rotate(11.6)"/>
<ellipse rx="9" ry="14" fill-opacity="0.62" transform="translate(893.9 2061.9) rotate(-11.6)"/>
<ellipse rx="9" ry="14" fill-opacity="0.62" transform="translate(254.2 2098.7) rotate(11.6)"/>
<ellipse rx="9" ry="14" fill-opacity="0.62" transform="translate(902.2 2102.5) rotate(-11.6)"/>
<ellipse rx="9" ry="14" fill-opacity="0.62" transform="translate(245.9 2139.3) rotate(11.6)"/>
<ellipse rx="9" ry="14" fill-opacity="0.62" transform="translate(910.5 2143.1) rotate(-11.6)"/>
<ellipse rx="9" ry="14" fill-opacity="0.62" transform="translate(237.6 2179.9) rotate(11.6)"/>
<ellipse rx="9" ry="14" fill-opacity="0.62" transform="translate(918.8 2183.7) rotate(-11.6)"/>
<ellipse rx="9" ry="14" fill-opacity="0.62" transform="translate(229.3 2220.5) rotate(11.6)"/>
<ellipse rx="9" ry="14" fill-opacity="0.62" transform="translate(927.1 2224.3) rotate(-11.6)"/>
<ellipse rx="9" ry="14" fill-opacity="0.62" transform="translate(221 2261.1) rotate(11.6)"/>
<ellipse rx="9" ry="14" fill-opacity="0.62" transform="translate(935.4 2264.9) rotate(-11.6)"/>
<ellipse rx="9" ry="14" fill-opacity="0.62" transform="translate(212.7 2301.7) rotate(11.6)"/>
<ellipse rx="9" ry="14" fill-opacity="0.62" transform="translate(943.7 2305.5) rotate(-11.6)"/>
<ellipse rx="9" ry="14" fill-opacity="0.62" transform="translate(204.4 2342.3) rotate(11.6)"/>
<ellipse rx="9" ry="14" fill-opacity="0.62" transform="translate(952 2346.1) rotate(-11.6)"/>
<ellipse rx="9" ry="14" fill-opacity="0.62" transform="translate(345 1863.3) rotate(11.6)"/>
<ellipse rx="9" ry="14" fill-opacity="0.62" transform="translate(811.4 1867.1) rotate(-11.6)"/>
<ellipse rx="9" ry="14" fill-opacity="0.62" transform="translate(336.7 1903.9) rotate(11.6)"/>
<ellipse rx="9" ry="14" fill-opacity="0.62" transform="translate(819.7 1907.7) rotate(-11.6)"/>
<ellipse rx="9" ry="14" fill-opacity="0.62" transform="translate(328.4 1944.5) rotate(11.6)"/>
<ellipse rx="9" ry="14" fill-opacity="0.62" transform="translate(828 1948.3) rotate(-11.6)"/>
<ellipse rx="9" ry="14" fill-opacity="0.62" transform="translate(320.1 1985.1) rotate(11.6)"/>
<ellipse rx="9" ry="14" fill-opacity="0.62" transform="translate(836.3 1988.9) rotate(-11.6)"/>
<ellipse rx="9" ry="14" fill-opacity="0.62" transform="translate(311.8 2025.7) rotate(11.6)"/>
<ellipse rx="9" ry="14" fill-opacity="0.62" transform="translate(844.6 2029.5) rotate(-11.6)"/>
<ellipse rx="9" ry="14" fill-opacity="0.62" transform="translate(303.5 2066.3) rotate(11.6)"/>
<ellipse rx="9" ry="14" fill-opacity="0.62" transform="translate(852.9 2070.1) rotate(-11.6)"/>
<ellipse rx="9" ry="14" fill-opacity="0.62" transform="translate(295.2 2106.9) rotate(11.6)"/>
<ellipse rx="9" ry="14" fill-opacity="0.62" transform="translate(861.2 2110.7) rotate(-11.6)"/>
<ellipse rx="9" ry="14" fill-opacity="0.62" transform="translate(286.9 2147.5) rotate(11.6)"/>
<ellipse rx="9" ry="14" fill-opacity="0.62" transform="translate(869.5 2151.3) rotate(-11.6)"/>
<ellipse rx="9" ry="14" fill-opacity="0.62" transform="translate(278.6 2188.1) rotate(11.6)"/>
<ellipse rx="9" ry="14" fill-opacity="0.62" transform="translate(877.8 2191.9) rotate(-11.6)"/>
<ellipse rx="9" ry="14" fill-opacity="0.62" transform="translate(270.3 2228.7) rotate(11.6)"/>
<ellipse rx="9" ry="14" fill-opacity="0.62" transform="translate(886.1 2232.5) rotate(-11.6)"/>
<ellipse rx="9" ry="14" fill-opacity="0.62" transform="translate(262 2269.3) rotate(11.6)"/>
<ellipse rx="9" ry="14" fill-opacity="0.62" transform="translate(894.4 2273.1) rotate(-11.6)"/>
<ellipse rx="9" ry="14" fill-opacity="0.62" transform="translate(253.7 2309.9) rotate(11.6)"/>
<ellipse rx="9" ry="14" fill-opacity="0.62" transform="translate(902.7 2313.7) rotate(-11.6)"/>
<ellipse rx="9" ry="14" fill-opacity="0.62" transform="translate(245.4 2350.5) rotate(11.6)"/>
<ellipse rx="9" ry="14" fill-opacity="0.62" transform="translate(911 2354.3) rotate(-11.6)"/>
<ellipse rx="9" ry="14" fill-opacity="0.62" transform="translate(386 1871.4) rotate(11.6)"/>
<ellipse rx="9" ry="14" fill-opacity="0.62" transform="translate(770.4 1875.2) rotate(-11.6)"/>
<ellipse rx="9" ry="14" fill-opacity="0.62" transform="translate(377.7 1912) rotate(11.6)"/>
<ellipse rx="9" ry="14" fill-opacity="0.62" transform="translate(778.7 1915.8) rotate(-11.6)"/>
<ellipse rx="9" ry="14" fill-opacity="0.62" transform="translate(369.4 1952.6) rotate(11.6)"/>
<ellipse rx="9" ry="14" fill-opacity="0.62" transform="translate(787 1956.4) rotate(-11.6)"/>
<ellipse rx="9" ry="14" fill-opacity="0.62" transform="translate(361.1 1993.2) rotate(11.6)"/>
<ellipse rx="9" ry="14" fill-opacity="0.62" transform="translate(795.3 1997) rotate(-11.6)"/>
<ellipse rx="9" ry="14" fill-opacity="0.62" transform="translate(352.8 2033.8) rotate(11.6)"/>
<ellipse rx="9" ry="14" fill-opacity="0.62" transform="translate(803.6 2037.6) rotate(-11.6)"/>
<ellipse rx="9" ry="14" fill-opacity="0.62" transform="translate(344.5 2074.4) rotate(11.6)"/>
<ellipse rx="9" ry="14" fill-opacity="0.62" transform="translate(811.9 2078.2) rotate(-11.6)"/>
<ellipse rx="9" ry="14" fill-opacity="0.62" transform="translate(336.2 2115) rotate(11.6)"/>
<ellipse rx="9" ry="14" fill-opacity="0.62" transform="translate(820.2 2118.8) rotate(-11.6)"/>
<ellipse rx="9" ry="14" fill-opacity="0.62" transform="translate(327.9 2155.6) rotate(11.6)"/>
<ellipse rx="9" ry="14" fill-opacity="0.62" transform="translate(828.5 2159.4) rotate(-11.6)"/>
<ellipse rx="9" ry="14" fill-opacity="0.62" transform="translate(319.6 2196.2) rotate(11.6)"/>
<ellipse rx="9" ry="14" fill-opacity="0.62" transform="translate(836.8 2200.1) rotate(-11.6)"/>
<ellipse rx="9" ry="14" fill-opacity="0.62" transform="translate(311.3 2236.8) rotate(11.6)"/>
<ellipse rx="9" ry="14" fill-opacity="0.62" transform="translate(845.1 2240.7) rotate(-11.6)"/>
<ellipse rx="9" ry="14" fill-opacity="0.62" transform="translate(303 2277.4) rotate(11.6)"/>
<ellipse rx="9" ry="14" fill-opacity="0.62" transform="translate(853.4 2281.2) rotate(-11.6)"/>
<ellipse rx="9" ry="14" fill-opacity="0.62" transform="translate(294.7 2318) rotate(11.6)"/>
<ellipse rx="9" ry="14" fill-opacity="0.62" transform="translate(861.7 2321.8) rotate(-11.6)"/>
<ellipse rx="9" ry="14" fill-opacity="0.62" transform="translate(427 1879.6) rotate(11.6)"/>
<ellipse rx="9" ry="14" fill-opacity="0.62" transform="translate(729.4 1883.4) rotate(-11.6)"/>
<ellipse rx="9" ry="14" fill-opacity="0.62" transform="translate(418.7 1920.2) rotate(11.6)"/>
<ellipse rx="9" ry="14" fill-opacity="0.62" transform="translate(737.7 1924) rotate(-11.6)"/>
<ellipse rx="9" ry="14" fill-opacity="0.62" transform="translate(410.4 1960.8) rotate(11.6)"/>
<ellipse rx="9" ry="14" fill-opacity="0.62" transform="translate(746 1964.6) rotate(-11.6)"/>
<ellipse rx="9" ry="14" fill-opacity="0.62" transform="translate(402.1 2001.4) rotate(11.6)"/>
<ellipse rx="9" ry="14" fill-opacity="0.62" transform="translate(754.3 2005.2) rotate(-11.6)"/>
<ellipse rx="9" ry="14" fill-opacity="0.62" transform="translate(393.8 2042) rotate(11.6)"/>
<ellipse rx="9" ry="14" fill-opacity="0.62" transform="translate(762.6 2045.8) rotate(-11.6)"/>
<ellipse rx="9" ry="14" fill-opacity="0.62" transform="translate(385.5 2082.6) rotate(11.6)"/>
<ellipse rx="9" ry="14" fill-opacity="0.62" transform="translate(770.9 2086.4) rotate(-11.6)"/>
<ellipse rx="9" ry="14" fill-opacity="0.62" transform="translate(377.2 2123.2) rotate(11.6)"/>
<ellipse rx="9" ry="14" fill-opacity="0.62" transform="translate(779.2 2127) rotate(-11.6)"/>
<ellipse rx="9" ry="14" fill-opacity="0.62" transform="translate(368.9 2163.8) rotate(11.6)"/>
<ellipse rx="9" ry="14" fill-opacity="0.62" transform="translate(787.5 2167.6) rotate(-11.6)"/>
<ellipse rx="9" ry="14" fill-opacity="0.62" transform="translate(360.6 2204.4) rotate(11.6)"/>
<ellipse rx="9" ry="14" fill-opacity="0.62" transform="translate(795.8 2208.2) rotate(-11.6)"/>
<ellipse rx="9" ry="14" fill-opacity="0.62" transform="translate(352.3 2245) rotate(11.6)"/>
<ellipse rx="9" ry="14" fill-opacity="0.62" transform="translate(804.1 2248.8) rotate(-11.6)"/>
<ellipse rx="9" ry="14" fill-opacity="0.62" transform="translate(344 2285.6) rotate(11.6)"/>
<ellipse rx="9" ry="14" fill-opacity="0.62" transform="translate(812.4 2289.4) rotate(-11.6)"/>
<ellipse rx="9" ry="14" fill-opacity="0.62" transform="translate(335.7 2326.2) rotate(11.6)"/>
<ellipse rx="9" ry="14" fill-opacity="0.62" transform="translate(820.7 2330) rotate(-11.6)"/>
<ellipse rx="9" ry="14" fill-opacity="0.62" transform="translate(680.1 1851) rotate(-11.6)"/>
<ellipse rx="9" ry="14" fill-opacity="0.62" transform="translate(468 1887.8) rotate(11.6)"/>
<ellipse rx="9" ry="14" fill-opacity="0.62" transform="translate(688.4 1891.6) rotate(-11.6)"/>
<ellipse rx="9" ry="14" fill-opacity="0.62" transform="translate(459.7 1928.4) rotate(11.6)"/>
<ellipse rx="9" ry="14" fill-opacity="0.62" transform="translate(696.7 1932.2) rotate(-11.6)"/>
<ellipse rx="9" ry="14" fill-opacity="0.62" transform="translate(451.4 1969) rotate(11.6)"/>
<ellipse rx="9" ry="14" fill-opacity="0.62" transform="translate(705 1972.8) rotate(-11.6)"/>
<ellipse rx="9" ry="14" fill-opacity="0.62" transform="translate(443.1 2009.6) rotate(11.6)"/>
<ellipse rx="9" ry="14" fill-opacity="0.62" transform="translate(713.3 2013.4) rotate(-11.6)"/>
<ellipse rx="9" ry="14" fill-opacity="0.62" transform="translate(434.8 2050.2) rotate(11.6)"/>
<ellipse rx="9" ry="14" fill-opacity="0.62" transform="translate(721.6 2054) rotate(-11.6)"/>
<ellipse rx="9" ry="14" fill-opacity="0.62" transform="translate(426.5 2090.8) rotate(11.6)"/>
<ellipse rx="9" ry="14" fill-opacity="0.62" transform="translate(729.9 2094.6) rotate(-11.6)"/>
<ellipse rx="9" ry="14" fill-opacity="0.62" transform="translate(418.2 2131.4) rotate(11.6)"/>
<ellipse rx="9" ry="14" fill-opacity="0.62" transform="translate(738.2 2135.2) rotate(-11.6)"/>
<ellipse rx="9" ry="14" fill-opacity="0.62" transform="translate(409.9 2172) rotate(11.6)"/>
<ellipse rx="9" ry="14" fill-opacity="0.62" transform="translate(746.5 2175.8) rotate(-11.6)"/>
<ellipse rx="9" ry="14" fill-opacity="0.62" transform="translate(401.6 2212.6) rotate(11.6)"/>
<ellipse rx="9" ry="14" fill-opacity="0.62" transform="translate(754.8 2216.4) rotate(-11.6)"/>
<ellipse rx="9" ry="14" fill-opacity="0.62" transform="translate(393.3 2253.2) rotate(11.6)"/>
<ellipse rx="9" ry="14" fill-opacity="0.62" transform="translate(763.1 2257) rotate(-11.6)"/>
<ellipse rx="9" ry="14" fill-opacity="0.62" transform="translate(385 2293.8) rotate(11.6)"/>
<ellipse rx="9" ry="14" fill-opacity="0.62" transform="translate(771.4 2297.6) rotate(-11.6)"/>
<ellipse rx="9" ry="14" fill-opacity="0.62" transform="translate(376.7 2334.4) rotate(11.6)"/>
<ellipse rx="9" ry="14" fill-opacity="0.62" transform="translate(779.7 2338.2) rotate(-11.6)"/>
<ellipse rx="9" ry="14" fill-opacity="0.62" transform="translate(500.6 1936.6) rotate(11.6)"/>
<ellipse rx="9" ry="14" fill-opacity="0.62" transform="translate(655.8 1940.4) rotate(-11.6)"/>
<ellipse rx="9" ry="14" fill-opacity="0.62" transform="translate(492.3 1977.2) rotate(11.6)"/>
<ellipse rx="9" ry="14" fill-opacity="0.62" transform="translate(664.1 1981) rotate(-11.6)"/>
<ellipse rx="9" ry="14" fill-opacity="0.62" transform="translate(484 2017.8) rotate(11.6)"/>
<ellipse rx="9" ry="14" fill-opacity="0.62" transform="translate(672.4 2021.6) rotate(-11.6)"/>
<ellipse rx="9" ry="14" fill-opacity="0.62" transform="translate(475.7 2058.4) rotate(11.6)"/>
<ellipse rx="9" ry="14" fill-opacity="0.62" transform="translate(680.7 2062.2) rotate(-11.6)"/>
<ellipse rx="9" ry="14" fill-opacity="0.62" transform="translate(467.4 2099) rotate(11.6)"/>
<ellipse rx="9" ry="14" fill-opacity="0.62" transform="translate(689 2102.8) rotate(-11.6)"/>
<ellipse rx="9" ry="14" fill-opacity="0.62" transform="translate(459.1 2139.6) rotate(11.6)"/>
<ellipse rx="9" ry="14" fill-opacity="0.62" transform="translate(697.3 2143.4) rotate(-11.6)"/>
<ellipse rx="9" ry="14" fill-opacity="0.62" transform="translate(450.8 2180.2) rotate(11.6)"/>
<ellipse rx="9" ry="14" fill-opacity="0.62" transform="translate(705.6 2184) rotate(-11.6)"/>
<ellipse rx="9" ry="14" fill-opacity="0.62" transform="translate(442.5 2220.8) rotate(11.6)"/>
<ellipse rx="9" ry="14" fill-opacity="0.62" transform="translate(713.9 2224.6) rotate(-11.6)"/>
<ellipse rx="9" ry="14" fill-opacity="0.62" transform="translate(434.2 2261.4) rotate(11.6)"/>
<ellipse rx="9" ry="14" fill-opacity="0.62" transform="translate(722.2 2265.2) rotate(-11.6)"/>
<ellipse rx="9" ry="14" fill-opacity="0.62" transform="translate(425.9 2302) rotate(11.6)"/>
<ellipse rx="9" ry="14" fill-opacity="0.62" transform="translate(730.5 2305.8) rotate(-11.6)"/>
<ellipse rx="9" ry="14" fill-opacity="0.62" transform="translate(417.6 2342.6) rotate(11.6)"/>
<ellipse rx="9" ry="14" fill-opacity="0.62" transform="translate(738.8 2346.4) rotate(-11.6)"/>
<ellipse rx="9" ry="14" fill-opacity="0.62" transform="translate(500.1 2147.7) rotate(11.6)"/>
<ellipse rx="9" ry="14" fill-opacity="0.62" transform="translate(656.3 2151.5) rotate(-11.6)"/>
<ellipse rx="9" ry="14" fill-opacity="0.62" transform="translate(491.8 2188.3) rotate(11.6)"/>
<ellipse rx="9" ry="14" fill-opacity="0.62" transform="translate(664.6 2192.1) rotate(-11.6)"/>
<ellipse rx="9" ry="14" fill-opacity="0.62" transform="translate(483.5 2228.9) rotate(11.6)"/>
<ellipse rx="9" ry="14" fill-opacity="0.62" transform="translate(672.9 2232.7) rotate(-11.6)"/>
<ellipse rx="9" ry="14" fill-opacity="0.62" transform="translate(475.2 2269.5) rotate(11.6)"/>
<ellipse rx="9" ry="14" fill-opacity="0.62" transform="translate(681.2 2273.3) rotate(-11.6)"/>
<ellipse rx="9" ry="14" fill-opacity="0.62" transform="translate(466.9 2310.1) rotate(11.6)"/>
<ellipse rx="9" ry="14" fill-opacity="0.62" transform="translate(689.5 2313.9) rotate(-11.6)"/>
<ellipse rx="9" ry="14" fill-opacity="0.62" transform="translate(458.6 2350.7) rotate(11.6)"/>
<ellipse rx="9" ry="14" fill-opacity="0.62" transform="translate(697.8 2354.5) rotate(-11.6)"/>
</g>
<ellipse rx="60" ry="260" fill="#fff" fill-opacity="0.15" transform="translate(578.2 2101.8) rotate(0)"/>
<ellipse rx="60" ry="260" fill="#fff" fill-opacity="0.15" transform="translate(1438.6 2101.8) rotate(0)"/>
<ellipse rx="8.5" ry="11" fill="#fff" fill-opacity="0.5" transform="translate(1410 1874.5) rotate(-11.553973599086659)"/>
<ellipse rx="8.5" ry="11" fill="#fff" fill-opacity="0.5" transform="translate(1467.2 1872.2) rotate(11.553973599086659)"/>
<ellipse rx="8.5" ry="11" fill="#fff" fill-opacity="0.5" transform="translate(1418.3 1915.1) rotate(-11.553973599086659)"/>
<ellipse rx="8.5" ry="11" fill="#fff" fill-opacity="0.5" transform="translate(1458.9 1912.8) rotate(11.553973599086659)"/>
<ellipse rx="8.5" ry="11" fill="#fff" fill-opacity="0.55" transform="translate(1438.6 2006.3) rotate(0)"/>
<ellipse rx="8.5" ry="11" fill="#fff" fill-opacity="0.55" transform="translate(1438.6 2004) rotate(0)"/>
<ellipse rx="8.5" ry="11" fill="#fff" fill-opacity="0.75" transform="translate(1369 1882.7) rotate(-11.553973599086659)"/>
<ellipse rx="8.5" ry="11" fill="#fff" fill-opacity="0.75" transform="translate(1508.2 1880.4) rotate(11.553973599086659)"/>
<ellipse rx="8.5" ry="11" fill="#fff" fill-opacity="0.75" transform="translate(1377.3 1923.3) rotate(-11.553973599086659)"/>
<ellipse rx="8.5" ry="11" fill="#fff" fill-opacity="0.75" transform="translate(1499.9 1921) rotate(11.553973599086659)"/>
<ellipse rx="8.5" ry="11" fill="#fff" fill-opacity="0.6" transform="translate(1385.6 1963.9) rotate(-11.553973599086659)"/>
<ellipse rx="8.5" ry="11" fill="#fff" fill-opacity="0.6" transform="translate(1491.6 1961.6) rotate(11.553973599086659)"/>
<ellipse rx="8.5" ry="11" fill="#fff" fill-opacity="1.0" transform="translate(1393.9 2004.5) rotate(-11.553973599086659)"/>
<ellipse rx="5" ry="18" fill="#fff" fill-opacity="0.6" transform="translate(1398.1 2024.8) rotate(-11.553973599086659)"/>
<ellipse rx="8.5" ry="11" fill="#fff" fill-opacity="1.0" transform="translate(1483.3 2002.2) rotate(11.553973599086659)"/>
<ellipse rx="5" ry="18" fill="#fff" fill-opacity="0.6" transform="translate(1479.1 2022.5) rotate(11.553973599086659)"/>
<ellipse rx="8.5" ry="11" fill="#fff" fill-opacity="0.3" transform="translate(1402.2 2045.1) rotate(-11.553973599086659)"/>
<ellipse rx="8.5" ry="11" fill="#fff" fill-opacity="0.3" transform="translate(1475 2042.8) rotate(11.553973599086659)"/>
<ellipse rx="8.5" ry="11" fill="#fff" fill-opacity="0.5" transform="translate(1410.5 2085.7) rotate(-11.553973599086659)"/>
<ellipse rx="8.5" ry="11" fill="#fff" fill-opacity="0.5" transform="translate(1466.7 2083.4) rotate(11.553973599086659)"/>
<ellipse rx="8.5" ry="11" fill="#fff" fill-opacity="0.5" transform="translate(1418.8 2126.3) rotate(-11.553973599086659)"/>
<ellipse rx="8.5" ry="11" fill="#fff" fill-opacity="0.5" transform="translate(1458.4 2124) rotate(11.553973599086659)"/>
<ellipse rx="8.5" ry="11" fill="#fff" fill-opacity="0.55" transform="translate(1438.6 2217.5) rotate(0)"/>
<ellipse rx="8.5" ry="11" fill="#fff" fill-opacity="0.55" transform="translate(1438.6 2215.2) rotate(0)"/>
<ellipse rx="8.5" ry="11" fill="#fff" fill-opacity="0.75" transform="translate(1369.5 2093.8) rotate(-11.553973599086659)"/>
<ellipse rx="8.5" ry="11" fill="#fff" fill-opacity="0.75" transform="translate(1507.7 2091.5) rotate(11.553973599086659)"/>
<ellipse rx="8.5" ry="11" fill="#fff" fill-opacity="0.75" transform="translate(1377.8 2134.4) rotate(-11.553973599086659)"/>
<ellipse rx="8.5" ry="11" fill="#fff" fill-opacity="0.75" transform="translate(1499.4 2132.1) rotate(11.553973599086659)"/>
<ellipse rx="8.5" ry="11" fill="#fff" fill-opacity="0.6" transform="translate(1386.1 2175) rotate(-11.553973599086659)"/>
<ellipse rx="8.5" ry="11" fill="#fff" fill-opacity="0.6" transform="translate(1491.1 2172.7) rotate(11.553973599086659)"/>
<ellipse rx="8.5" ry="11" fill="#fff" fill-opacity="1.0" transform="translate(1394.4 2215.6) rotate(-11.553973599086659)"/>
<ellipse rx="5" ry="18" fill="#fff" fill-opacity="0.6" transform="translate(1398.6 2235.9) rotate(-11.553973599086659)"/>
<ellipse rx="8.5" ry="11" fill="#fff" fill-opacity="1.0" transform="translate(1482.8 2213.3) rotate(11.553973599086659)"/>
<ellipse rx="5" ry="18" fill="#fff" fill-opacity="0.6" transform="translate(1478.6 2233.6) rotate(11.553973599086659)"/>
<ellipse rx="8.5" ry="11" fill="#fff" fill-opacity="0.3" transform="translate(1402.7 2256.2) rotate(-11.553973599086659)"/>
<ellipse rx="8.5" ry="11" fill="#fff" fill-opacity="0.3" transform="translate(1474.5 2253.9) rotate(11.553973599086659)"/>
<ellipse rx="8.5" ry="11" fill="#fff" fill-opacity="0.5" transform="translate(1411 2296.8) rotate(-11.553973599086659)"/>
<ellipse rx="8.5" ry="11" fill="#fff" fill-opacity="0.5" transform="translate(1466.2 2294.5) rotate(11.553973599086659)"/>
<ellipse rx="8.5" ry="11" fill="#fff" fill-opacity="0.5" transform="translate(1419.3 2337.4) rotate(-11.553973599086659)"/>
<ellipse rx="8.5" ry="11" fill="#fff" fill-opacity="0.5" transform="translate(1457.9 2335.1) rotate(11.553973599086659)"/>
<ellipse rx="8.5" ry="11" fill="#fff" fill-opacity="0.75" transform="translate(1370.1 2305) rotate(-11.553973599086659)"/>
<ellipse rx="8.5" ry="11" fill="#fff" fill-opacity="0.75" transform="translate(1507.1 2302.7) rotate(11.553973599086659)"/>
<ellipse rx="8.5" ry="11" fill="#fff" fill-opacity="0.75" transform="translate(1378.4 2345.6) rotate(-11.553973599086659)"/>
<ellipse rx="8.5" ry="11" fill="#fff" fill-opacity="0.75" transform="translate(1498.8 2343.3) rotate(11.553973599086659)"/>
<ellipse rx="8.5" ry="11" fill="#fff" fill-opacity="0.75" transform="translate(517.2 1855.4) rotate(11.553973599086659)"/>
<ellipse rx="8.5" ry="11" fill="#fff" fill-opacity="0.75" transform="translate(639.2 1859.2) rotate(-11.553973599086659)"/>
<ellipse rx="8.5" ry="11" fill="#fff" fill-opacity="0.75" transform="translate(508.9 1896) rotate(11.553973599086659)"/>
<ellipse rx="8.5" ry="11" fill="#fff" fill-opacity="0.75" transform="translate(647.5 1899.8) rotate(-11.553973599086659)"/>
<ellipse rx="8.5" ry="11" fill="#fff" fill-opacity="0.5" transform="translate(558.2 1863.5) rotate(11.553973599086659)"/>
<ellipse rx="8.5" ry="11" fill="#fff" fill-opacity="0.5" transform="translate(598.2 1867.3) rotate(-11.553973599086659)"/>
<ellipse rx="8.5" ry="11" fill="#fff" fill-opacity="0.5" transform="translate(549.9 1904.1) rotate(11.553973599086659)"/>
<ellipse rx="8.5" ry="11" fill="#fff" fill-opacity="0.5" transform="translate(606.5 1907.9) rotate(-11.553973599086659)"/>
<ellipse rx="8.5" ry="11" fill="#fff" fill-opacity="0.3" transform="translate(541.6 1944.7) rotate(11.553973599086659)"/>
<ellipse rx="5" ry="18" fill="#fff" fill-opacity="0.6" transform="translate(537.5 1965) rotate(11.553973599086659)"/>
<ellipse rx="8.5" ry="11" fill="#fff" fill-opacity="0.3" transform="translate(614.8 1948.5) rotate(-11.553973599086659)"/>
<ellipse rx="5" ry="18" fill="#fff" fill-opacity="0.6" transform="translate(618.9 1968.8) rotate(-11.553973599086659)"/>
<ellipse rx="8.5" ry="11" fill="#fff" fill-opacity="1.0" transform="translate(533.3 1985.3) rotate(11.553973599086659)"/>
<ellipse rx="8.5" ry="11" fill="#fff" fill-opacity="1.0" transform="translate(623.1 1989.1) rotate(-11.553973599086659)"/>
<ellipse rx="8.5" ry="11" fill="#fff" fill-opacity="0.6" transform="translate(525 2025.9) rotate(11.553973599086659)"/>
<ellipse rx="8.5" ry="11" fill="#fff" fill-opacity="0.6" transform="translate(631.4 2029.7) rotate(-11.553973599086659)"/>
<ellipse rx="8.5" ry="11" fill="#fff" fill-opacity="0.75" transform="translate(516.7 2066.5) rotate(11.553973599086659)"/>
<ellipse rx="8.5" ry="11" fill="#fff" fill-opacity="0.75" transform="translate(639.7 2070.3) rotate(-11.553973599086659)"/>
<ellipse rx="8.5" ry="11" fill="#fff" fill-opacity="0.75" transform="translate(508.4 2107.1) rotate(11.553973599086659)"/>
<ellipse rx="8.5" ry="11" fill="#fff" fill-opacity="0.75" transform="translate(648 2110.9) rotate(-11.553973599086659)"/>
<ellipse rx="8.5" ry="11" fill="#fff" fill-opacity="0.55" transform="translate(578.2 1979.5) rotate(0)"/>
<ellipse rx="8.5" ry="11" fill="#fff" fill-opacity="0.55" transform="translate(578.2 1983.3) rotate(0)"/>
<ellipse rx="8.5" ry="11" fill="#fff" fill-opacity="0.5" transform="translate(557.7 2074.7) rotate(11.553973599086659)"/>
<ellipse rx="8.5" ry="11" fill="#fff" fill-opacity="0.5" transform="translate(598.7 2078.5) rotate(-11.553973599086659)"/>
<ellipse rx="8.5" ry="11" fill="#fff" fill-opacity="0.5" transform="translate(549.4 2115.3) rotate(11.553973599086659)"/>
<ellipse rx="8.5" ry="11" fill="#fff" fill-opacity="0.5" transform="translate(607 2119.1) rotate(-11.553973599086659)"/>
<ellipse rx="8.5" ry="11" fill="#fff" fill-opacity="0.3" transform="translate(541.1 2155.9) rotate(11.553973599086659)"/>
<ellipse rx="5" ry="18" fill="#fff" fill-opacity="0.6" transform="translate(536.9 2176.2) rotate(11.553973599086659)"/>
<ellipse rx="8.5" ry="11" fill="#fff" fill-opacity="0.3" transform="translate(615.3 2159.7) rotate(-11.553973599086659)"/>
<ellipse rx="5" ry="18" fill="#fff" fill-opacity="0.6" transform="translate(619.5 2180) rotate(-11.553973599086659)"/>
<ellipse rx="8.5" ry="11" fill="#fff" fill-opacity="1.0" transform="translate(532.8 2196.5) rotate(11.553973599086659)"/>
<ellipse rx="8.5" ry="11" fill="#fff" fill-opacity="1.0" transform="translate(623.6 2200.3) rotate(-11.553973599086659)"/>
<ellipse rx="8.5" ry="11" fill="#fff" fill-opacity="0.6" transform="translate(524.5 2237.1) rotate(11.553973599086659)"/>
<ellipse rx="8.5" ry="11" fill="#fff" fill-opacity="0.6" transform="translate(631.9 2240.9) rotate(-11.553973599086659)"/>
<ellipse rx="8.5" ry="11" fill="#fff" fill-opacity="0.75" transform="translate(516.2 2277.7) rotate(11.553973599086659)"/>
<ellipse rx="8.5" ry="11" fill="#fff" fill-opacity="0.75" transform="translate(640.2 2281.5) rotate(-11.553973599086659)"/>
<ellipse rx="8.5" ry="11" fill="#fff" fill-opacity="0.75" transform="translate(507.9 2318.3) rotate(11.553973599086659)"/>
<ellipse rx="8.5" ry="11" fill="#fff" fill-opacity="0.75" transform="translate(648.5 2322.1) rotate(-11.553973599086659)"/>
<ellipse rx="8.5" ry="11" fill="#fff" fill-opacity="0.55" transform="translate(578.2 2190.7) rotate(0)"/>
<ellipse rx="8.5" ry="11" fill="#fff" fill-opacity="0.55" transform="translate(578.2 2194.5) rotate(0)"/>
<ellipse rx="8.5" ry="11" fill="#fff" fill-opacity="0.5" transform="translate(557.2 2285.9) rotate(11.553973599086659)"/>
<ellipse rx="8.5" ry="11" fill="#fff" fill-opacity="0.5" transform="translate(599.2 2289.7) rotate(-11.553973599086659)"/>
<ellipse rx="8.5" ry="11" fill="#fff" fill-opacity="0.5" transform="translate(548.9 2326.5) rotate(11.553973599086659)"/>
<ellipse rx="8.5" ry="11" fill="#fff" fill-opacity="0.5" transform="translate(607.5 2330.3) rotate(-11.553973599086659)"/>
<ellipse rx="5" ry="45" fill="#000" fill-opacity="0.5" transform="translate(578.2 1883.8) rotate(0)"/>
<ellipse rx="8" ry="13" fill="#000" fill-opacity="0.7" transform="translate(578.2 1880.8) rotate(0)"/>
<ellipse rx="11" ry="9" fill="#000" fill-opacity="0.72" transform="translate(578.2 1921) rotate(0)"/>
<ellipse rx="5" ry="6" fill="#000" fill-opacity="0.5" transform="translate(624.2 1915) rotate(0)"/>
<ellipse rx="5" ry="6" fill="#000" fill-opacity="0.5" transform="translate(532.2 1915) rotate(0)"/>
<ellipse rx="6" ry="8" fill="#000" fill-opacity="0.7" transform="translate(600.2 2009.6) rotate(0)"/>
<ellipse rx="6" ry="8" fill="#000" fill-opacity="0.7" transform="translate(556.2 2009.6) rotate(0)"/>
<ellipse rx="5" ry="6" fill="#000" fill-opacity="0.4" transform="translate(644.2 2002) rotate(0)"/>
<ellipse rx="5" ry="6" fill="#000" fill-opacity="0.4" transform="translate(512.2 2002) rotate(0)"/>
<ellipse rx="34" ry="5" fill="#000" fill-opacity="0.6" transform="translate(578.2 2048.3) rotate(0)"/>
<ellipse rx="5" ry="45" fill="#000" fill-opacity="0.5" transform="translate(578.2 2095) rotate(0)"/>
<ellipse rx="8" ry="13" fill="#000" fill-opacity="0.7" transform="translate(578.2 2092) rotate(0)"/>
<ellipse rx="11" ry="9" fill="#000" fill-opacity="0.72" transform="translate(578.2 2132.2) rotate(0)"/>
<ellipse rx="5" ry="6" fill="#000" fill-opacity="0.5" transform="translate(624.2 2126.2) rotate(0)"/>
<ellipse rx="5" ry="6" fill="#000" fill-opacity="0.5" transform="translate(532.2 2126.2) rotate(0)"/>
<ellipse rx="6" ry="8" fill="#000" fill-opacity="0.7" transform="translate(600.2 2220.8) rotate(0)"/>
<ellipse rx="6" ry="8" fill="#000" fill-opacity="0.7" transform="translate(556.2 2220.8) rotate(0)"/>
<ellipse rx="5" ry="6" fill="#000" fill-opacity="0.4" transform="translate(644.2 2213.2) rotate(0)"/>
<ellipse rx="5" ry="6" fill="#000" fill-opacity="0.4" transform="translate(512.2 2213.2) rotate(0)"/>
<ellipse rx="34" ry="5" fill="#000" fill-opacity="0.6" transform="translate(578.2 2259.5) rotate(0)"/>
<ellipse rx="5" ry="45" fill="#000" fill-opacity="0.5" transform="translate(578.2 2306.2) rotate(0)"/>
<ellipse rx="8" ry="13" fill="#000" fill-opacity="0.7" transform="translate(578.2 2303.2) rotate(0)"/>
<ellipse rx="11" ry="9" fill="#000" fill-opacity="0.72" transform="translate(578.2 2343.4) rotate(0)"/>
<ellipse rx="5" ry="6" fill="#000" fill-opacity="0.5" transform="translate(624.2 2337.4) rotate(0)"/>
<ellipse rx="5" ry="6" fill="#000" fill-opacity="0.5" transform="translate(532.2 2337.4) rotate(0)"/>
<ellipse rx="5" ry="40" fill="#000" fill-opacity="0.5" transform="translate(1438.6 1893.8) rotate(0)"/>
<ellipse rx="10" ry="11" fill="#000" fill-opacity="0.72" transform="translate(1438.6 1935.2) rotate(0)"/>
<ellipse rx="5" ry="6" fill="#000" fill-opacity="0.45" transform="translate(1482.6 1878.8) rotate(0)"/>
<ellipse rx="5" ry="6" fill="#000" fill-opacity="0.45" transform="translate(1394.6 1878.8) rotate(0)"/>
<ellipse rx="7" ry="21" fill="#000" fill-opacity="0.68" transform="translate(1438.6 1917) rotate(0)"/>
<ellipse rx="6" ry="8" fill="#000" fill-opacity="0.7" transform="translate(1460.6 1978) rotate(0)"/>
<ellipse rx="6" ry="8" fill="#000" fill-opacity="0.7" transform="translate(1416.6 1978) rotate(0)"/>
<ellipse rx="5" ry="6" fill="#000" fill-opacity="0.4" transform="translate(1504.6 1986) rotate(0)"/>
<ellipse rx="5" ry="6" fill="#000" fill-opacity="0.4" transform="translate(1372.6 1986) rotate(0)"/>
<ellipse rx="28" ry="6" fill="#000" fill-opacity="0.6" transform="translate(1438.6 2063) rotate(0)"/>
<ellipse rx="5" ry="40" fill="#000" fill-opacity="0.5" transform="translate(1438.6 2105) rotate(0)"/>
<ellipse rx="10" ry="11" fill="#000" fill-opacity="0.72" transform="translate(1438.6 2146.4) rotate(0)"/>
<ellipse rx="5" ry="6" fill="#000" fill-opacity="0.45" transform="translate(1482.6 2090) rotate(0)"/>
<ellipse rx="5" ry="6" fill="#000" fill-opacity="0.45" transform="translate(1394.6 2090) rotate(0)"/>
<ellipse rx="7" ry="21" fill="#000" fill-opacity="0.68" transform="translate(1438.6 2128.2) rotate(0)"/>
<ellipse rx="6" ry="8" fill="#000" fill-opacity="0.7" transform="translate(1460.6 2189.2) rotate(0)"/>
<ellipse rx="6" ry="8" fill="#000" fill-opacity="0.7" transform="translate(1416.6 2189.2) rotate(0)"/>
<ellipse rx="5" ry="6" fill="#000" fill-opacity="0.4" transform="translate(1504.6 2197.2) rotate(0)"/>
<ellipse rx="5" ry="6" fill="#000" fill-opacity="0.4" transform="translate(1372.6 2197.2) rotate(0)"/>
<ellipse rx="28" ry="6" fill="#000" fill-opacity="0.6" transform="translate(1438.6 2274.2) rotate(0)"/>
<ellipse rx="5" ry="40" fill="#000" fill-opacity="0.5" transform="translate(1438.6 2316.2) rotate(0)"/>
<ellipse rx="5" ry="6" fill="#000" fill-opacity="0.45" transform="translate(1482.6 2301.2) rotate(0)"/>
<ellipse rx="5" ry="6" fill="#000" fill-opacity="0.45" transform="translate(1394.6 2301.2) rotate(0)"/>
<ellipse rx="7" ry="21" fill="#000" fill-opacity="0.68" transform="translate(1438.6 2339.4) rotate(0)"/>
</g></g>
<rect x="147.05" y="1888.95" width="1721.6" height="425.8" fill="none" stroke="#000" stroke-opacity="0.16" stroke-width="1.5"/>
<rect x="1896" y="1889" width="33.6" height="426" fill="url(#cbar)"/>
<text x="1940.5" y="1920" font-size="63" text-anchor="start">75</text>
<text x="1939.5" y="2325" font-size="63" text-anchor="start">25</text>
<text x="129.5" y="1905" font-size="63" text-anchor="end">1.5</text>
<text x="129.5" y="2318.5" font-size="63" text-anchor="end">-1.5</text>
<text transform="translate(73 2078.4) rotate(-90)" font-size="68" text-anchor="middle">Y (nm)</text>
<text x="130" y="1745" font-size="123" text-anchor="start">(c)</text>
<text x="138" y="1854" font-size="68.6" text-anchor="start">Ionic density (ions/nm<tspan font-size="45" dy="-22">3</tspan><tspan dy="22">)</tspan></text>
<text x="256.75" y="2411" font-size="63" text-anchor="middle">-5</text>
<text x="412.5" y="2411" font-size="63" text-anchor="middle">-4</text>
<text x="550" y="2411" font-size="63" text-anchor="middle">-3</text>
<text x="705" y="2411" font-size="63" text-anchor="middle">-2</text>
<text x="856.75" y="2411" font-size="63" text-anchor="middle">-1</text>
<text x="1005" y="2411" font-size="63" text-anchor="middle">0</text>
<text x="1155" y="2411" font-size="63" text-anchor="middle">1</text>
<text x="1291" y="2411" font-size="63" text-anchor="middle">2</text>
<text x="1443" y="2411" font-size="63" text-anchor="middle">3</text>
<text x="1594.5" y="2411" font-size="63" text-anchor="middle">4</text>
<text x="1746" y="2411" font-size="63" text-anchor="middle">5</text>
<text x="1032" y="2510.5" font-size="68" text-anchor="middle">X (nm)</text>
</svg></body></html>
